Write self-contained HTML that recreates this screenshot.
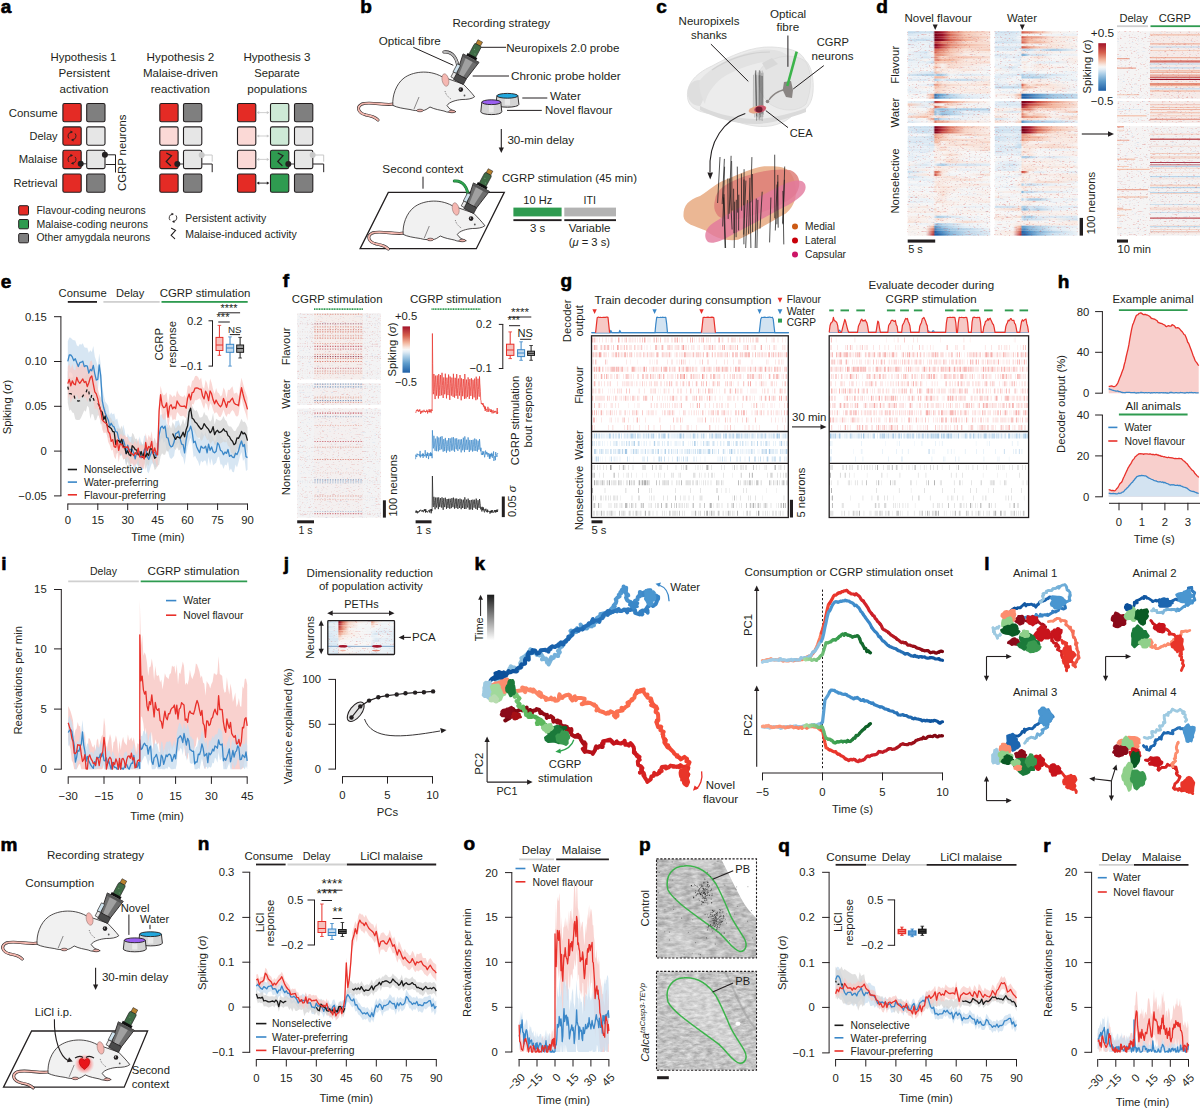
<!DOCTYPE html>
<html><head><meta charset="utf-8"><title>Figure</title>
<style>html,body{margin:0;padding:0;background:#fff;width:1200px;height:1110px;overflow:hidden}
svg{display:block;font-family:"Liberation Sans",sans-serif}
text{font-family:"Liberation Sans",sans-serif}</style></head>
<body><svg width="1200" height="1110" viewBox="0 0 1200 1110"><defs><filter id="spR" color-interpolation-filters="sRGB" x="0" y="0" width="100%" height="100%"><feTurbulence type="fractalNoise" baseFrequency="0.45 1.3" numOctaves="1" seed="5"/><feColorMatrix type="matrix" values="0 0 0 0 0.8  0 0 0 0 0.2  0 0 0 0 0.18  5 0 0 0 -3.0"/></filter><filter id="spB" color-interpolation-filters="sRGB" x="0" y="0" width="100%" height="100%"><feTurbulence type="fractalNoise" baseFrequency="0.35 1.2" numOctaves="1" seed="8"/><feColorMatrix type="matrix" values="0 0 0 0 0.25  0 0 0 0 0.5  0 0 0 0 0.78  0 5 0 0 -3.1"/></filter><linearGradient id="h1"><stop offset="0" stop-color="#bfd9ec"/><stop offset=".22" stop-color="#d1e3f0"/><stop offset=".31" stop-color="#cde0ef"/><stop offset=".333" stop-color="#7a0019"/><stop offset=".36" stop-color="#84051d"/><stop offset=".42" stop-color="#aa1d2f"/><stop offset=".52" stop-color="#de7964"/><stop offset=".7" stop-color="#f3bda7"/><stop offset="1" stop-color="#f7dcd1"/></linearGradient><linearGradient id="h2"><stop offset="0" stop-color="#d7e6f2"/><stop offset=".22" stop-color="#eef3f6"/><stop offset=".31" stop-color="#e9f0f6"/><stop offset=".333" stop-color="#7a0019"/><stop offset=".36" stop-color="#85051e"/><stop offset=".42" stop-color="#9b0f27"/><stop offset=".52" stop-color="#da6c58"/><stop offset=".7" stop-color="#f4c6b3"/><stop offset="1" stop-color="#f8eae4"/></linearGradient><linearGradient id="h3"><stop offset="0" stop-color="#ebf1f6"/><stop offset=".22" stop-color="#dfebf4"/><stop offset=".31" stop-color="#e5eef5"/><stop offset=".333" stop-color="#7a0019"/><stop offset=".36" stop-color="#86061e"/><stop offset=".42" stop-color="#aa1e2f"/><stop offset=".52" stop-color="#df7965"/><stop offset=".7" stop-color="#f3baa3"/><stop offset="1" stop-color="#f6d6c8"/></linearGradient><linearGradient id="h4"><stop offset="0" stop-color="#cfe2f0"/><stop offset=".22" stop-color="#c8deee"/><stop offset=".31" stop-color="#ddeaf4"/><stop offset=".333" stop-color="#7a0019"/><stop offset=".36" stop-color="#7d011a"/><stop offset=".42" stop-color="#930c24"/><stop offset=".52" stop-color="#d7634f"/><stop offset=".7" stop-color="#f1af97"/><stop offset="1" stop-color="#f8ece6"/></linearGradient><linearGradient id="h5"><stop offset="0" stop-color="#e2ecf5"/><stop offset=".22" stop-color="#e7eff5"/><stop offset=".31" stop-color="#e4eef5"/><stop offset=".333" stop-color="#bd3b3c"/><stop offset=".36" stop-color="#c1403f"/><stop offset=".42" stop-color="#de7964"/><stop offset=".52" stop-color="#e58b75"/><stop offset=".7" stop-color="#f6d8ca"/><stop offset="1" stop-color="#f7ddd1"/></linearGradient><linearGradient id="h6"><stop offset="0" stop-color="#e3edf5"/><stop offset=".22" stop-color="#edf2f6"/><stop offset=".31" stop-color="#e1ecf5"/><stop offset=".333" stop-color="#89071f"/><stop offset=".36" stop-color="#9c1027"/><stop offset=".42" stop-color="#bf3e3e"/><stop offset=".52" stop-color="#e58c76"/><stop offset=".7" stop-color="#f3baa4"/><stop offset="1" stop-color="#f7dbcf"/></linearGradient><linearGradient id="h7"><stop offset="0" stop-color="#e9f0f6"/><stop offset=".22" stop-color="#e8f0f6"/><stop offset=".31" stop-color="#e6eef5"/><stop offset=".333" stop-color="#940c24"/><stop offset=".36" stop-color="#a3132a"/><stop offset=".42" stop-color="#c84b44"/><stop offset=".52" stop-color="#e7937c"/><stop offset=".7" stop-color="#f5c8b6"/><stop offset="1" stop-color="#f6d7ca"/></linearGradient><linearGradient id="h8"><stop offset="0" stop-color="#f2f5f7"/><stop offset=".22" stop-color="#ebf1f6"/><stop offset=".31" stop-color="#eaf0f6"/><stop offset=".333" stop-color="#d96854"/><stop offset=".36" stop-color="#dc725d"/><stop offset=".42" stop-color="#e2836e"/><stop offset=".52" stop-color="#f4c1ac"/><stop offset=".7" stop-color="#f7e0d5"/><stop offset="1" stop-color="#f5cbb9"/></linearGradient><linearGradient id="h9"><stop offset="0" stop-color="#ecf1f6"/><stop offset=".22" stop-color="#d3e4f1"/><stop offset=".31" stop-color="#f7f3f1"/><stop offset=".333" stop-color="#d35b4b"/><stop offset=".36" stop-color="#e1806b"/><stop offset=".42" stop-color="#e89780"/><stop offset=".52" stop-color="#f3bfaa"/><stop offset=".7" stop-color="#f8e5dc"/><stop offset="1" stop-color="#f8e7de"/></linearGradient><linearGradient id="h10"><stop offset="0" stop-color="#e7eff5"/><stop offset=".22" stop-color="#e4edf5"/><stop offset=".31" stop-color="#f1f4f6"/><stop offset=".333" stop-color="#e99881"/><stop offset=".36" stop-color="#e69079"/><stop offset=".42" stop-color="#eca28b"/><stop offset=".52" stop-color="#f5ccbb"/><stop offset=".7" stop-color="#f7eeea"/><stop offset="1" stop-color="#f8ede8"/></linearGradient><linearGradient id="h11"><stop offset="0" stop-color="#f2f5f7"/><stop offset=".22" stop-color="#d5e5f1"/><stop offset=".31" stop-color="#e3edf5"/><stop offset=".333" stop-color="#e68e78"/><stop offset=".36" stop-color="#eea68e"/><stop offset=".42" stop-color="#f6d7c9"/><stop offset=".52" stop-color="#f4c4b1"/><stop offset=".7" stop-color="#f4c3b0"/><stop offset="1" stop-color="#f7dcd1"/></linearGradient><linearGradient id="h12"><stop offset="0" stop-color="#d6e6f2"/><stop offset=".22" stop-color="#f7f3f0"/><stop offset=".31" stop-color="#e9f0f6"/><stop offset=".333" stop-color="#e7927c"/><stop offset=".36" stop-color="#e58b75"/><stop offset=".42" stop-color="#f3b8a1"/><stop offset=".52" stop-color="#f2b69e"/><stop offset=".7" stop-color="#f8e8e0"/><stop offset="1" stop-color="#f8ece7"/></linearGradient><linearGradient id="h13"><stop offset="0" stop-color="#eaf0f6"/><stop offset=".22" stop-color="#e6eff5"/><stop offset=".31" stop-color="#c9deee"/><stop offset=".333" stop-color="#f3baa3"/><stop offset=".36" stop-color="#f4c0ab"/><stop offset=".42" stop-color="#f5ccbb"/><stop offset=".52" stop-color="#f5cbba"/><stop offset=".7" stop-color="#f8e3d9"/><stop offset="1" stop-color="#f7dace"/></linearGradient><linearGradient id="h14"><stop offset="0" stop-color="#ecf1f6"/><stop offset=".22" stop-color="#eff3f6"/><stop offset=".31" stop-color="#f4f5f7"/><stop offset=".333" stop-color="#f6d7ca"/><stop offset=".36" stop-color="#f7dcd0"/><stop offset=".42" stop-color="#f7f1ef"/><stop offset=".52" stop-color="#f7dcd0"/><stop offset=".7" stop-color="#f8e4db"/><stop offset="1" stop-color="#f7f4f3"/></linearGradient><linearGradient id="h15"><stop offset="0" stop-color="#edf2f6"/><stop offset=".22" stop-color="#eef2f6"/><stop offset=".31" stop-color="#f8eee9"/><stop offset=".333" stop-color="#f2b299"/><stop offset=".36" stop-color="#f5cbba"/><stop offset=".42" stop-color="#f7efeb"/><stop offset=".52" stop-color="#f6d3c5"/><stop offset=".7" stop-color="#f8eae4"/><stop offset="1" stop-color="#f1f4f6"/></linearGradient><linearGradient id="h16"><stop offset="0" stop-color="#eef2f6"/><stop offset=".22" stop-color="#f7f7f6"/><stop offset=".31" stop-color="#f2f4f6"/><stop offset=".333" stop-color="#f6d3c4"/><stop offset=".36" stop-color="#f8eee9"/><stop offset=".42" stop-color="#f7e1d6"/><stop offset=".52" stop-color="#f7f4f3"/><stop offset=".7" stop-color="#f8e4da"/><stop offset="1" stop-color="#f0f3f6"/></linearGradient><linearGradient id="h17"><stop offset="0" stop-color="#f7f1ef"/><stop offset=".22" stop-color="#e0ebf4"/><stop offset=".31" stop-color="#dbe9f3"/><stop offset=".333" stop-color="#f4c7b4"/><stop offset=".36" stop-color="#f5cdbc"/><stop offset=".42" stop-color="#f8ebe6"/><stop offset=".52" stop-color="#f7efeb"/><stop offset=".7" stop-color="#f7f2f0"/><stop offset="1" stop-color="#f6f7f7"/></linearGradient><linearGradient id="h18"><stop offset="0" stop-color="#d9e7f2"/><stop offset=".22" stop-color="#bad6ea"/><stop offset=".31" stop-color="#b1d1e8"/><stop offset=".333" stop-color="#c5dced"/><stop offset=".36" stop-color="#9dc4e1"/><stop offset=".42" stop-color="#accee6"/><stop offset=".52" stop-color="#f0f4f6"/><stop offset=".7" stop-color="#dce9f3"/><stop offset="1" stop-color="#ecf2f6"/></linearGradient><linearGradient id="h19"><stop offset="0" stop-color="#eef2f6"/><stop offset=".22" stop-color="#ecf1f6"/><stop offset=".31" stop-color="#e5eef5"/><stop offset=".333" stop-color="#f2b79f"/><stop offset=".36" stop-color="#f3bba4"/><stop offset=".42" stop-color="#f4c1ad"/><stop offset=".52" stop-color="#f7f4f2"/><stop offset=".7" stop-color="#f7f0ec"/><stop offset="1" stop-color="#f8ece7"/></linearGradient><linearGradient id="h20"><stop offset="0" stop-color="#e0ebf4"/><stop offset=".22" stop-color="#deeaf4"/><stop offset=".31" stop-color="#f7f1ee"/><stop offset=".333" stop-color="#aecfe7"/><stop offset=".36" stop-color="#c2daec"/><stop offset=".42" stop-color="#e4edf5"/><stop offset=".52" stop-color="#cbe0ef"/><stop offset=".7" stop-color="#c5dced"/><stop offset="1" stop-color="#f7eeea"/></linearGradient><linearGradient id="h21"><stop offset="0" stop-color="#f3f5f7"/><stop offset=".22" stop-color="#f7f5f4"/><stop offset=".31" stop-color="#f7f7f7"/><stop offset=".333" stop-color="#f8ece6"/><stop offset=".36" stop-color="#f6d1c1"/><stop offset=".42" stop-color="#f8e9e3"/><stop offset=".52" stop-color="#f7f0ec"/><stop offset=".7" stop-color="#f7f0ed"/><stop offset="1" stop-color="#f8e6de"/></linearGradient><linearGradient id="h22"><stop offset="0" stop-color="#f7f6f5"/><stop offset=".22" stop-color="#eaf0f6"/><stop offset=".31" stop-color="#d3e4f1"/><stop offset=".333" stop-color="#eda58d"/><stop offset=".36" stop-color="#efac93"/><stop offset=".42" stop-color="#f6d4c6"/><stop offset=".52" stop-color="#f7dcd0"/><stop offset=".7" stop-color="#f8e7df"/><stop offset="1" stop-color="#f8e2d7"/></linearGradient><linearGradient id="h23"><stop offset="0" stop-color="#e9f0f6"/><stop offset=".22" stop-color="#f8ede8"/><stop offset=".31" stop-color="#f7f3f1"/><stop offset=".333" stop-color="#f3bea8"/><stop offset=".36" stop-color="#f4c4b1"/><stop offset=".42" stop-color="#f6d7c9"/><stop offset=".52" stop-color="#f8e5dc"/><stop offset=".7" stop-color="#f7efeb"/><stop offset="1" stop-color="#f7f2ef"/></linearGradient><linearGradient id="h24"><stop offset="0" stop-color="#e4eef5"/><stop offset=".22" stop-color="#f6f7f7"/><stop offset=".31" stop-color="#f2f4f6"/><stop offset=".333" stop-color="#f6d7c9"/><stop offset=".36" stop-color="#f7d9cc"/><stop offset=".42" stop-color="#f7ded2"/><stop offset=".52" stop-color="#f8eee9"/><stop offset=".7" stop-color="#f8eae3"/><stop offset="1" stop-color="#f8eae4"/></linearGradient><linearGradient id="h25"><stop offset="0" stop-color="#e8eff5"/><stop offset=".22" stop-color="#e7eff5"/><stop offset=".31" stop-color="#f7f4f2"/><stop offset=".333" stop-color="#f7dacd"/><stop offset=".36" stop-color="#f5cbb9"/><stop offset=".42" stop-color="#f7e0d6"/><stop offset=".52" stop-color="#f8ede7"/><stop offset=".7" stop-color="#f8ede7"/><stop offset="1" stop-color="#f8e5dc"/></linearGradient><linearGradient id="h26"><stop offset="0" stop-color="#f7f7f6"/><stop offset=".22" stop-color="#f7f5f4"/><stop offset=".31" stop-color="#f2b49b"/><stop offset=".333" stop-color="#3776b4"/><stop offset=".36" stop-color="#5593c6"/><stop offset=".42" stop-color="#74aad3"/><stop offset=".52" stop-color="#b7d4e9"/><stop offset=".7" stop-color="#e5eef5"/><stop offset="1" stop-color="#ebf1f6"/></linearGradient><linearGradient id="h27"><stop offset="0" stop-color="#f7f5f4"/><stop offset=".22" stop-color="#f6f6f7"/><stop offset=".31" stop-color="#f0ae95"/><stop offset=".333" stop-color="#3877b5"/><stop offset=".36" stop-color="#5391c5"/><stop offset=".42" stop-color="#85b5d9"/><stop offset=".52" stop-color="#abcee6"/><stop offset=".7" stop-color="#d9e7f2"/><stop offset="1" stop-color="#ecf1f6"/></linearGradient><linearGradient id="h28"><stop offset="0" stop-color="#e6eff5"/><stop offset=".22" stop-color="#e5eef5"/><stop offset=".31" stop-color="#c3dbed"/><stop offset=".333" stop-color="#bd3b3c"/><stop offset=".36" stop-color="#c54641"/><stop offset=".42" stop-color="#de7762"/><stop offset=".52" stop-color="#eea78f"/><stop offset=".7" stop-color="#f7dace"/><stop offset="1" stop-color="#f7f6f5"/></linearGradient><linearGradient id="h29"><stop offset="0" stop-color="#f4c7b4"/><stop offset=".22" stop-color="#e5eef5"/><stop offset=".31" stop-color="#f7dbcf"/><stop offset=".333" stop-color="#f8ede7"/><stop offset=".36" stop-color="#f8e8e0"/><stop offset=".42" stop-color="#f6f6f7"/><stop offset=".52" stop-color="#f5d0c0"/><stop offset=".7" stop-color="#eff3f6"/><stop offset="1" stop-color="#f7f3f1"/></linearGradient><linearGradient id="h30"><stop offset="0" stop-color="#f8ede8"/><stop offset=".22" stop-color="#e3edf5"/><stop offset=".31" stop-color="#f4f6f7"/><stop offset=".333" stop-color="#d55e4c"/><stop offset=".36" stop-color="#e38671"/><stop offset=".42" stop-color="#f4c1ad"/><stop offset=".52" stop-color="#f8ece7"/><stop offset=".7" stop-color="#f8eee9"/><stop offset="1" stop-color="#f4f5f7"/></linearGradient><linearGradient id="h31"><stop offset="0" stop-color="#f7f0ec"/><stop offset=".22" stop-color="#f4f6f7"/><stop offset=".31" stop-color="#f4c1ac"/><stop offset=".333" stop-color="#accee7"/><stop offset=".36" stop-color="#99c2e0"/><stop offset=".42" stop-color="#88b7da"/><stop offset=".52" stop-color="#b0d0e8"/><stop offset=".7" stop-color="#a9cde6"/><stop offset="1" stop-color="#b7d5ea"/></linearGradient><linearGradient id="h32"><stop offset="0" stop-color="#f7f0ec"/><stop offset=".22" stop-color="#f7eeea"/><stop offset=".31" stop-color="#f2b79f"/><stop offset=".333" stop-color="#90bcdd"/><stop offset=".36" stop-color="#c2dbec"/><stop offset=".42" stop-color="#9fc6e2"/><stop offset=".52" stop-color="#afd0e7"/><stop offset=".7" stop-color="#eaf0f6"/><stop offset="1" stop-color="#d7e6f2"/></linearGradient><linearGradient id="h33"><stop offset="0" stop-color="#e6eff5"/><stop offset=".22" stop-color="#f7dcd0"/><stop offset=".31" stop-color="#f4c4b0"/><stop offset=".333" stop-color="#90bcdd"/><stop offset=".36" stop-color="#c2daec"/><stop offset=".42" stop-color="#83b4d8"/><stop offset=".52" stop-color="#a7cbe5"/><stop offset=".7" stop-color="#d8e7f2"/><stop offset="1" stop-color="#f1f4f6"/></linearGradient><linearGradient id="h34"><stop offset="0" stop-color="#f7dcd1"/><stop offset=".22" stop-color="#f4c0ab"/><stop offset=".31" stop-color="#f8e9e2"/><stop offset=".333" stop-color="#f8eee9"/><stop offset=".36" stop-color="#f8e2d8"/><stop offset=".42" stop-color="#f7ddd2"/><stop offset=".52" stop-color="#f3f5f7"/><stop offset=".7" stop-color="#e9f0f6"/><stop offset="1" stop-color="#f8eee9"/></linearGradient><linearGradient id="h35"><stop offset="0" stop-color="#edf2f6"/><stop offset=".22" stop-color="#f7f5f4"/><stop offset=".31" stop-color="#eca28a"/><stop offset=".333" stop-color="#8cb9db"/><stop offset=".36" stop-color="#9dc4e1"/><stop offset=".42" stop-color="#c9deee"/><stop offset=".52" stop-color="#d5e5f1"/><stop offset=".7" stop-color="#ebf1f6"/><stop offset="1" stop-color="#f7f5f4"/></linearGradient><linearGradient id="h36"><stop offset="0" stop-color="#dbe9f3"/><stop offset=".22" stop-color="#f7f5f5"/><stop offset=".31" stop-color="#f8e9e2"/><stop offset=".333" stop-color="#e07d68"/><stop offset=".36" stop-color="#efa991"/><stop offset=".42" stop-color="#efab93"/><stop offset=".52" stop-color="#f5cfbf"/><stop offset=".7" stop-color="#f8e7df"/><stop offset="1" stop-color="#f7f0ed"/></linearGradient><linearGradient id="h37"><stop offset="0" stop-color="#d1e3f0"/><stop offset=".22" stop-color="#cbe0ef"/><stop offset=".31" stop-color="#cbe0ef"/><stop offset=".333" stop-color="#7a0019"/><stop offset=".36" stop-color="#8d0921"/><stop offset=".42" stop-color="#b63037"/><stop offset=".52" stop-color="#e07f6a"/><stop offset=".7" stop-color="#f4c5b2"/><stop offset="1" stop-color="#f8e6dd"/></linearGradient><linearGradient id="h38"><stop offset="0" stop-color="#dce9f3"/><stop offset=".22" stop-color="#cbdfef"/><stop offset=".31" stop-color="#d9e7f2"/><stop offset=".333" stop-color="#80031c"/><stop offset=".36" stop-color="#8f0a22"/><stop offset=".42" stop-color="#b93539"/><stop offset=".52" stop-color="#e1826c"/><stop offset=".7" stop-color="#f6d7ca"/><stop offset="1" stop-color="#f8ede9"/></linearGradient><linearGradient id="h39"><stop offset="0" stop-color="#deeaf4"/><stop offset=".22" stop-color="#c8deee"/><stop offset=".31" stop-color="#dae8f3"/><stop offset=".333" stop-color="#7e021b"/><stop offset=".36" stop-color="#920b23"/><stop offset=".42" stop-color="#c54641"/><stop offset=".52" stop-color="#e1806b"/><stop offset=".7" stop-color="#f6d3c4"/><stop offset="1" stop-color="#f8ece7"/></linearGradient><linearGradient id="h40"><stop offset="0" stop-color="#f4f5f7"/><stop offset=".22" stop-color="#f4f5f7"/><stop offset=".31" stop-color="#ddeaf3"/><stop offset=".333" stop-color="#eda58d"/><stop offset=".36" stop-color="#f1b097"/><stop offset=".42" stop-color="#f5cbba"/><stop offset=".52" stop-color="#f8e5dc"/><stop offset=".7" stop-color="#f6d6c8"/><stop offset="1" stop-color="#f7e1d6"/></linearGradient><linearGradient id="h41"><stop offset="0" stop-color="#dfebf4"/><stop offset=".22" stop-color="#d6e6f2"/><stop offset=".31" stop-color="#cce0ef"/><stop offset=".333" stop-color="#ea9a83"/><stop offset=".36" stop-color="#efaa91"/><stop offset=".42" stop-color="#f4c6b3"/><stop offset=".52" stop-color="#f8e5dd"/><stop offset=".7" stop-color="#f4f5f7"/><stop offset="1" stop-color="#f8e7df"/></linearGradient><linearGradient id="h42"><stop offset="0" stop-color="#dce9f3"/><stop offset=".22" stop-color="#deeaf4"/><stop offset=".31" stop-color="#cce0ef"/><stop offset=".333" stop-color="#f2b69d"/><stop offset=".36" stop-color="#f4c4b0"/><stop offset=".42" stop-color="#f4c8b5"/><stop offset=".52" stop-color="#f7dbcf"/><stop offset=".7" stop-color="#f7dace"/><stop offset="1" stop-color="#f8e9e2"/></linearGradient><linearGradient id="h43"><stop offset="0" stop-color="#d6e6f2"/><stop offset=".22" stop-color="#dae8f3"/><stop offset=".31" stop-color="#e1ecf5"/><stop offset=".333" stop-color="#f3bda7"/><stop offset=".36" stop-color="#f2b79f"/><stop offset=".42" stop-color="#f7f2f0"/><stop offset=".52" stop-color="#f7ded2"/><stop offset=".7" stop-color="#f8ebe5"/><stop offset="1" stop-color="#f6d2c3"/></linearGradient><linearGradient id="h44"><stop offset="0" stop-color="#e8f0f6"/><stop offset=".22" stop-color="#deeaf4"/><stop offset=".31" stop-color="#d1e3f0"/><stop offset=".333" stop-color="#f8e6de"/><stop offset=".36" stop-color="#f7d9cc"/><stop offset=".42" stop-color="#f7eeea"/><stop offset=".52" stop-color="#f8e1d7"/><stop offset=".7" stop-color="#f7dacd"/><stop offset="1" stop-color="#f8ebe5"/></linearGradient><linearGradient id="h45"><stop offset="0" stop-color="#e4edf5"/><stop offset=".22" stop-color="#e9f0f6"/><stop offset=".31" stop-color="#dce9f3"/><stop offset=".333" stop-color="#f7f0ec"/><stop offset=".36" stop-color="#f8e6dd"/><stop offset=".42" stop-color="#f8e4da"/><stop offset=".52" stop-color="#f8ece7"/><stop offset=".7" stop-color="#f8ece6"/><stop offset="1" stop-color="#f7ddd2"/></linearGradient><linearGradient id="h46"><stop offset="0" stop-color="#dfebf4"/><stop offset=".22" stop-color="#e3edf5"/><stop offset=".31" stop-color="#e3edf5"/><stop offset=".333" stop-color="#f8ede8"/><stop offset=".36" stop-color="#f8ece7"/><stop offset=".42" stop-color="#f7dacd"/><stop offset=".52" stop-color="#f8eee9"/><stop offset=".7" stop-color="#f7f0ec"/><stop offset="1" stop-color="#f7dfd4"/></linearGradient><linearGradient id="h47"><stop offset="0" stop-color="#edf2f6"/><stop offset=".22" stop-color="#e2ecf5"/><stop offset=".31" stop-color="#f7f7f7"/><stop offset=".333" stop-color="#f7f0ec"/><stop offset=".36" stop-color="#f8ece7"/><stop offset=".42" stop-color="#f7f6f5"/><stop offset=".52" stop-color="#f8ece7"/><stop offset=".7" stop-color="#f7f7f7"/><stop offset="1" stop-color="#f7f1ef"/></linearGradient><linearGradient id="h48"><stop offset="0" stop-color="#e7eff5"/><stop offset=".22" stop-color="#f2f4f6"/><stop offset=".31" stop-color="#ebf1f6"/><stop offset=".333" stop-color="#f7efeb"/><stop offset=".36" stop-color="#f7f2ef"/><stop offset=".42" stop-color="#f8ebe5"/><stop offset=".52" stop-color="#f7dccf"/><stop offset=".7" stop-color="#f7f5f4"/><stop offset="1" stop-color="#f5f6f7"/></linearGradient><linearGradient id="h49"><stop offset="0" stop-color="#e3edf5"/><stop offset=".22" stop-color="#e9f0f6"/><stop offset=".31" stop-color="#f6f7f7"/><stop offset=".333" stop-color="#f8e8e1"/><stop offset=".36" stop-color="#f8ede8"/><stop offset=".42" stop-color="#f6f7f7"/><stop offset=".52" stop-color="#f8ede8"/><stop offset=".7" stop-color="#f7f1ef"/><stop offset="1" stop-color="#f2f5f7"/></linearGradient><linearGradient id="h50"><stop offset="0" stop-color="#e3edf5"/><stop offset=".22" stop-color="#f1f4f6"/><stop offset=".31" stop-color="#edf2f6"/><stop offset=".333" stop-color="#f8ece6"/><stop offset=".36" stop-color="#f8e8e1"/><stop offset=".42" stop-color="#f8ede8"/><stop offset=".52" stop-color="#f7ded3"/><stop offset=".7" stop-color="#f3f5f7"/><stop offset="1" stop-color="#f7f6f6"/></linearGradient><linearGradient id="h51"><stop offset="0" stop-color="#f7f6f6"/><stop offset=".22" stop-color="#ecf1f6"/><stop offset=".31" stop-color="#edf2f6"/><stop offset=".333" stop-color="#f8ebe5"/><stop offset=".36" stop-color="#f7f3f2"/><stop offset=".42" stop-color="#f7f3f1"/><stop offset=".52" stop-color="#f7dcd0"/><stop offset=".7" stop-color="#f8ede7"/><stop offset="1" stop-color="#f7eeea"/></linearGradient><linearGradient id="h52"><stop offset="0" stop-color="#f8eee9"/><stop offset=".22" stop-color="#d9e7f2"/><stop offset=".31" stop-color="#f3f5f7"/><stop offset=".333" stop-color="#e3edf5"/><stop offset=".36" stop-color="#cadfee"/><stop offset=".42" stop-color="#a9cce6"/><stop offset=".52" stop-color="#deeaf4"/><stop offset=".7" stop-color="#d0e2f0"/><stop offset="1" stop-color="#e3edf5"/></linearGradient><linearGradient id="h53"><stop offset="0" stop-color="#e7eff5"/><stop offset=".22" stop-color="#ebf1f6"/><stop offset=".31" stop-color="#ecf2f6"/><stop offset=".333" stop-color="#f8ede9"/><stop offset=".36" stop-color="#f8e3d9"/><stop offset=".42" stop-color="#f8ebe5"/><stop offset=".52" stop-color="#f8eae3"/><stop offset=".7" stop-color="#f7efec"/><stop offset="1" stop-color="#f7f2ef"/></linearGradient><linearGradient id="h54"><stop offset="0" stop-color="#e6eff5"/><stop offset=".22" stop-color="#f8eae4"/><stop offset=".31" stop-color="#f6f6f7"/><stop offset=".333" stop-color="#f8e4da"/><stop offset=".36" stop-color="#f8e9e2"/><stop offset=".42" stop-color="#f8e4db"/><stop offset=".52" stop-color="#f7f2ef"/><stop offset=".7" stop-color="#eaf0f6"/><stop offset="1" stop-color="#f7efea"/></linearGradient><linearGradient id="h55"><stop offset="0" stop-color="#c8deee"/><stop offset=".22" stop-color="#f0f3f6"/><stop offset=".31" stop-color="#f2f5f7"/><stop offset=".333" stop-color="#dc735f"/><stop offset=".36" stop-color="#de7762"/><stop offset=".42" stop-color="#f8e3da"/><stop offset=".52" stop-color="#f7f6f6"/><stop offset=".7" stop-color="#f6f7f7"/><stop offset="1" stop-color="#eef3f6"/></linearGradient><linearGradient id="h56"><stop offset="0" stop-color="#e9f0f6"/><stop offset=".22" stop-color="#f8e7df"/><stop offset=".31" stop-color="#f7f2f0"/><stop offset=".333" stop-color="#cc5046"/><stop offset=".36" stop-color="#e68e78"/><stop offset=".42" stop-color="#f8e8e1"/><stop offset=".52" stop-color="#eff3f6"/><stop offset=".7" stop-color="#f7f5f4"/><stop offset="1" stop-color="#f7dfd4"/></linearGradient><linearGradient id="h57"><stop offset="0" stop-color="#cfe2f0"/><stop offset=".22" stop-color="#ebf1f6"/><stop offset=".31" stop-color="#f7f2f0"/><stop offset=".333" stop-color="#f8eae4"/><stop offset=".36" stop-color="#f8e8e0"/><stop offset=".42" stop-color="#f8e7df"/><stop offset=".52" stop-color="#f8e3d9"/><stop offset=".7" stop-color="#f6f7f7"/><stop offset="1" stop-color="#f7f6f5"/></linearGradient><linearGradient id="h58"><stop offset="0" stop-color="#ebf1f6"/><stop offset=".22" stop-color="#e7eff5"/><stop offset=".31" stop-color="#ecf2f6"/><stop offset=".333" stop-color="#f7efec"/><stop offset=".36" stop-color="#f7f2ef"/><stop offset=".42" stop-color="#f8e9e2"/><stop offset=".52" stop-color="#f8e9e2"/><stop offset=".7" stop-color="#f7dfd4"/><stop offset="1" stop-color="#f7f4f2"/></linearGradient><linearGradient id="h59"><stop offset="0" stop-color="#f7f7f7"/><stop offset=".22" stop-color="#f4f5f7"/><stop offset=".31" stop-color="#e7eff5"/><stop offset=".333" stop-color="#f8e7e0"/><stop offset=".36" stop-color="#f8e6de"/><stop offset=".42" stop-color="#f8eae4"/><stop offset=".52" stop-color="#f7f0ec"/><stop offset=".7" stop-color="#f7f4f2"/><stop offset="1" stop-color="#f3f5f7"/></linearGradient><linearGradient id="h60"><stop offset="0" stop-color="#e9f0f6"/><stop offset=".22" stop-color="#edf2f6"/><stop offset=".31" stop-color="#f3f5f7"/><stop offset=".333" stop-color="#f7f0ed"/><stop offset=".36" stop-color="#f7dfd5"/><stop offset=".42" stop-color="#f8ece6"/><stop offset=".52" stop-color="#f7f2f0"/><stop offset=".7" stop-color="#f8e9e2"/><stop offset="1" stop-color="#f8ebe5"/></linearGradient><linearGradient id="h61"><stop offset="0" stop-color="#f5f6f7"/><stop offset=".22" stop-color="#f7f4f2"/><stop offset=".31" stop-color="#f2f4f6"/><stop offset=".333" stop-color="#f6d5c7"/><stop offset=".36" stop-color="#f7efeb"/><stop offset=".42" stop-color="#f8e2d8"/><stop offset=".52" stop-color="#f8e7df"/><stop offset=".7" stop-color="#f7f0ed"/><stop offset="1" stop-color="#f1f4f6"/></linearGradient><linearGradient id="h62"><stop offset="0" stop-color="#eff3f6"/><stop offset=".22" stop-color="#f1f4f6"/><stop offset=".31" stop-color="#f6f6f7"/><stop offset=".333" stop-color="#f8e7df"/><stop offset=".36" stop-color="#f8ede7"/><stop offset=".42" stop-color="#f8e5dc"/><stop offset=".52" stop-color="#f8ebe5"/><stop offset=".7" stop-color="#f0f4f6"/><stop offset="1" stop-color="#f7f2f0"/></linearGradient><linearGradient id="h63"><stop offset="0" stop-color="#f7f5f5"/><stop offset=".22" stop-color="#f6f7f7"/><stop offset=".31" stop-color="#f2f5f7"/><stop offset=".333" stop-color="#f8e9e2"/><stop offset=".36" stop-color="#f8ece6"/><stop offset=".42" stop-color="#f7ddd2"/><stop offset=".52" stop-color="#f7efeb"/><stop offset=".7" stop-color="#f7f5f4"/><stop offset="1" stop-color="#f8ede8"/></linearGradient><linearGradient id="h64"><stop offset="0" stop-color="#f7f4f2"/><stop offset=".22" stop-color="#f7f1ee"/><stop offset=".31" stop-color="#f7f2ef"/><stop offset=".333" stop-color="#f6f6f7"/><stop offset=".36" stop-color="#f7f2ef"/><stop offset=".42" stop-color="#f7dcd0"/><stop offset=".52" stop-color="#f7f6f5"/><stop offset=".7" stop-color="#eff3f6"/><stop offset="1" stop-color="#f7efeb"/></linearGradient><linearGradient id="h65"><stop offset="0" stop-color="#e6eff5"/><stop offset=".22" stop-color="#f7efeb"/><stop offset=".31" stop-color="#f7f4f3"/><stop offset=".333" stop-color="#f8ede8"/><stop offset=".36" stop-color="#f7f0ec"/><stop offset=".42" stop-color="#f8e8e1"/><stop offset=".52" stop-color="#f7f5f4"/><stop offset=".7" stop-color="#f8eee9"/><stop offset="1" stop-color="#f6f6f7"/></linearGradient><linearGradient id="h66"><stop offset="0" stop-color="#f7f5f4"/><stop offset=".22" stop-color="#e7eff5"/><stop offset=".31" stop-color="#f2f4f6"/><stop offset=".333" stop-color="#f8ebe4"/><stop offset=".36" stop-color="#f8eae3"/><stop offset=".42" stop-color="#f8e9e3"/><stop offset=".52" stop-color="#f2f4f6"/><stop offset=".7" stop-color="#f7f0ec"/><stop offset="1" stop-color="#f7efec"/></linearGradient><linearGradient id="h67"><stop offset="0" stop-color="#e3edf5"/><stop offset=".22" stop-color="#eef2f6"/><stop offset=".31" stop-color="#eef3f6"/><stop offset=".333" stop-color="#f7f3f1"/><stop offset=".36" stop-color="#f7e0d5"/><stop offset=".42" stop-color="#f8e9e1"/><stop offset=".52" stop-color="#f7eeea"/><stop offset=".7" stop-color="#f7f4f3"/><stop offset="1" stop-color="#f8e8e1"/></linearGradient><linearGradient id="h68"><stop offset="0" stop-color="#f7f1ee"/><stop offset=".22" stop-color="#f4f6f7"/><stop offset=".31" stop-color="#f4f5f7"/><stop offset=".333" stop-color="#f8ece6"/><stop offset=".36" stop-color="#f7f7f7"/><stop offset=".42" stop-color="#f7efeb"/><stop offset=".52" stop-color="#f8ede8"/><stop offset=".7" stop-color="#f7f4f2"/><stop offset="1" stop-color="#eef3f6"/></linearGradient><linearGradient id="h69"><stop offset="0" stop-color="#edf2f6"/><stop offset=".22" stop-color="#f8e6de"/><stop offset=".31" stop-color="#f3f5f7"/><stop offset=".333" stop-color="#f7f1ee"/><stop offset=".36" stop-color="#f7f6f5"/><stop offset=".42" stop-color="#f7f0ec"/><stop offset=".52" stop-color="#f7f4f3"/><stop offset=".7" stop-color="#ebf1f6"/><stop offset="1" stop-color="#eef2f6"/></linearGradient><linearGradient id="h70"><stop offset="0" stop-color="#f7efea"/><stop offset=".22" stop-color="#f7f1ee"/><stop offset=".31" stop-color="#eaf1f6"/><stop offset=".333" stop-color="#f6d3c5"/><stop offset=".36" stop-color="#f7f3f1"/><stop offset=".42" stop-color="#f7efec"/><stop offset=".52" stop-color="#f7f3f2"/><stop offset=".7" stop-color="#f7f2f0"/><stop offset="1" stop-color="#f0f4f6"/></linearGradient><linearGradient id="h71"><stop offset="0" stop-color="#f7eeea"/><stop offset=".22" stop-color="#f8ece6"/><stop offset=".31" stop-color="#f7eeea"/><stop offset=".333" stop-color="#f8eae3"/><stop offset=".36" stop-color="#f8e8e1"/><stop offset=".42" stop-color="#f8e9e2"/><stop offset=".52" stop-color="#f7f5f4"/><stop offset=".7" stop-color="#f7f0ec"/><stop offset="1" stop-color="#f7f1ee"/></linearGradient><linearGradient id="h72"><stop offset="0" stop-color="#f7f5f4"/><stop offset=".22" stop-color="#f1f4f6"/><stop offset=".31" stop-color="#eff3f6"/><stop offset=".333" stop-color="#f8eae4"/><stop offset=".36" stop-color="#f8eae4"/><stop offset=".42" stop-color="#f5f6f7"/><stop offset=".52" stop-color="#f7efec"/><stop offset=".7" stop-color="#f7f3f1"/><stop offset="1" stop-color="#f7f7f7"/></linearGradient><linearGradient id="h73"><stop offset="0" stop-color="#f7efeb"/><stop offset=".22" stop-color="#f8eae3"/><stop offset=".31" stop-color="#f7f1ee"/><stop offset=".333" stop-color="#d4e4f1"/><stop offset=".36" stop-color="#a8cce5"/><stop offset=".42" stop-color="#b8d5ea"/><stop offset=".52" stop-color="#d8e7f2"/><stop offset=".7" stop-color="#eef3f6"/><stop offset="1" stop-color="#f7f6f5"/></linearGradient><linearGradient id="h74"><stop offset="0" stop-color="#f8e9e2"/><stop offset=".22" stop-color="#f7f0ed"/><stop offset=".31" stop-color="#f3f5f7"/><stop offset=".333" stop-color="#f8e9e2"/><stop offset=".36" stop-color="#f6d7c9"/><stop offset=".42" stop-color="#f8e6de"/><stop offset=".52" stop-color="#f7f2f0"/><stop offset=".7" stop-color="#eaf1f6"/><stop offset="1" stop-color="#f6f6f7"/></linearGradient><linearGradient id="h75"><stop offset="0" stop-color="#f8e1d7"/><stop offset=".22" stop-color="#f8eee9"/><stop offset=".31" stop-color="#f7f1ee"/><stop offset=".333" stop-color="#f7f1ef"/><stop offset=".36" stop-color="#f7f4f3"/><stop offset=".42" stop-color="#f7f0ec"/><stop offset=".52" stop-color="#f7f5f3"/><stop offset=".7" stop-color="#f7dbcf"/><stop offset="1" stop-color="#f6f6f7"/></linearGradient><linearGradient id="h76"><stop offset="0" stop-color="#f3f5f7"/><stop offset=".22" stop-color="#eef2f6"/><stop offset=".31" stop-color="#f7efeb"/><stop offset=".333" stop-color="#bad6ea"/><stop offset=".36" stop-color="#96c0df"/><stop offset=".42" stop-color="#b7d4e9"/><stop offset=".52" stop-color="#c8deee"/><stop offset=".7" stop-color="#eaf1f6"/><stop offset="1" stop-color="#f7f7f7"/></linearGradient><linearGradient id="h77"><stop offset="0" stop-color="#f8ede8"/><stop offset=".22" stop-color="#f7f6f6"/><stop offset=".31" stop-color="#f3baa4"/><stop offset=".333" stop-color="#5594c6"/><stop offset=".36" stop-color="#72a8d2"/><stop offset=".42" stop-color="#99c2e0"/><stop offset=".52" stop-color="#bbd7eb"/><stop offset=".7" stop-color="#e3edf5"/><stop offset="1" stop-color="#f5f6f7"/></linearGradient><linearGradient id="h78"><stop offset="0" stop-color="#f7f2ef"/><stop offset=".22" stop-color="#f7f1ed"/><stop offset=".31" stop-color="#e1806b"/><stop offset=".333" stop-color="#4281bb"/><stop offset=".36" stop-color="#5796c8"/><stop offset=".42" stop-color="#76abd4"/><stop offset=".52" stop-color="#a2c8e3"/><stop offset=".7" stop-color="#b8d5ea"/><stop offset="1" stop-color="#ebf1f6"/></linearGradient><linearGradient id="h79"><stop offset="0" stop-color="#f7efeb"/><stop offset=".22" stop-color="#f7f5f4"/><stop offset=".31" stop-color="#ce5448"/><stop offset=".333" stop-color="#2161a7"/><stop offset=".36" stop-color="#3877b5"/><stop offset=".42" stop-color="#5391c5"/><stop offset=".52" stop-color="#8bb9db"/><stop offset=".7" stop-color="#bed8eb"/><stop offset="1" stop-color="#ddeaf4"/></linearGradient><linearGradient id="h80"><stop offset="0" stop-color="#f7f3f2"/><stop offset=".22" stop-color="#f7efeb"/><stop offset=".31" stop-color="#bd3b3c"/><stop offset=".333" stop-color="#1f5fa6"/><stop offset=".36" stop-color="#1f5fa6"/><stop offset=".42" stop-color="#3e7db9"/><stop offset=".52" stop-color="#7bafd6"/><stop offset=".7" stop-color="#b7d4e9"/><stop offset="1" stop-color="#ddeaf3"/></linearGradient><linearGradient id="h81"><stop offset="0" stop-color="#d2e3f0"/><stop offset=".22" stop-color="#cce0ef"/><stop offset=".31" stop-color="#dfebf4"/><stop offset=".333" stop-color="#d1594a"/><stop offset=".36" stop-color="#dd7460"/><stop offset=".42" stop-color="#e48b75"/><stop offset=".52" stop-color="#f2b69e"/><stop offset=".7" stop-color="#f7efea"/><stop offset="1" stop-color="#f5f6f7"/></linearGradient><linearGradient id="h82"><stop offset="0" stop-color="#d9e8f2"/><stop offset=".22" stop-color="#dce9f3"/><stop offset=".31" stop-color="#e6eff5"/><stop offset=".333" stop-color="#f7efeb"/><stop offset=".36" stop-color="#f7f5f4"/><stop offset=".42" stop-color="#f7f4f2"/><stop offset=".52" stop-color="#f3f5f7"/><stop offset=".7" stop-color="#f1f4f6"/><stop offset="1" stop-color="#ebf1f6"/></linearGradient><linearGradient id="h83"><stop offset="0" stop-color="#dfebf4"/><stop offset=".22" stop-color="#dbe9f3"/><stop offset=".31" stop-color="#f4f5f7"/><stop offset=".333" stop-color="#d35b4b"/><stop offset=".36" stop-color="#e07e69"/><stop offset=".42" stop-color="#ea9c84"/><stop offset=".52" stop-color="#eca28a"/><stop offset=".7" stop-color="#f8e5dc"/><stop offset="1" stop-color="#f8e9e1"/></linearGradient><linearGradient id="h84"><stop offset="0" stop-color="#e6eef5"/><stop offset=".22" stop-color="#d6e6f1"/><stop offset=".31" stop-color="#ecf1f6"/><stop offset=".333" stop-color="#e58e77"/><stop offset=".36" stop-color="#e7937d"/><stop offset=".42" stop-color="#f2b59d"/><stop offset=".52" stop-color="#f6d2c3"/><stop offset=".7" stop-color="#f8e5dc"/><stop offset="1" stop-color="#f4f6f7"/></linearGradient><linearGradient id="h85"><stop offset="0" stop-color="#d0e2f0"/><stop offset=".22" stop-color="#d4e5f1"/><stop offset=".31" stop-color="#dbe8f3"/><stop offset=".333" stop-color="#d6604d"/><stop offset=".36" stop-color="#df7b66"/><stop offset=".42" stop-color="#f3bca6"/><stop offset=".52" stop-color="#f0ae95"/><stop offset=".7" stop-color="#f8e5dc"/><stop offset="1" stop-color="#f7f5f4"/></linearGradient><linearGradient id="h86"><stop offset="0" stop-color="#eef2f6"/><stop offset=".22" stop-color="#ecf1f6"/><stop offset=".31" stop-color="#ebf1f6"/><stop offset=".333" stop-color="#f7f3f1"/><stop offset=".36" stop-color="#f8e5dc"/><stop offset=".42" stop-color="#f8ebe6"/><stop offset=".52" stop-color="#f2f5f7"/><stop offset=".7" stop-color="#f8e3d9"/><stop offset="1" stop-color="#f7f2ef"/></linearGradient><linearGradient id="h87"><stop offset="0" stop-color="#d3e4f1"/><stop offset=".22" stop-color="#dce9f3"/><stop offset=".31" stop-color="#d1e3f0"/><stop offset=".333" stop-color="#d35c4b"/><stop offset=".36" stop-color="#dc735f"/><stop offset=".42" stop-color="#eb9f87"/><stop offset=".52" stop-color="#f4c7b5"/><stop offset=".7" stop-color="#f8e4db"/><stop offset="1" stop-color="#f7f0ed"/></linearGradient><linearGradient id="h88"><stop offset="0" stop-color="#e3edf5"/><stop offset=".22" stop-color="#d7e6f2"/><stop offset=".31" stop-color="#f7f4f3"/><stop offset=".333" stop-color="#c5dced"/><stop offset=".36" stop-color="#bbd7ea"/><stop offset=".42" stop-color="#c3dbed"/><stop offset=".52" stop-color="#e0ebf4"/><stop offset=".7" stop-color="#a7cbe5"/><stop offset="1" stop-color="#f0f3f6"/></linearGradient><linearGradient id="h89"><stop offset="0" stop-color="#f3f5f7"/><stop offset=".22" stop-color="#f7f3f1"/><stop offset=".31" stop-color="#e4edf5"/><stop offset=".333" stop-color="#f8e5db"/><stop offset=".36" stop-color="#f8eae4"/><stop offset=".42" stop-color="#edf2f6"/><stop offset=".52" stop-color="#f8e7e0"/><stop offset=".7" stop-color="#f7f0ed"/><stop offset="1" stop-color="#f7f1ee"/></linearGradient><linearGradient id="h90"><stop offset="0" stop-color="#d4e5f1"/><stop offset=".22" stop-color="#ecf1f6"/><stop offset=".31" stop-color="#e7eff5"/><stop offset=".333" stop-color="#81b3d8"/><stop offset=".36" stop-color="#8ab8db"/><stop offset=".42" stop-color="#dae8f3"/><stop offset=".52" stop-color="#cee1ef"/><stop offset=".7" stop-color="#eef3f6"/><stop offset="1" stop-color="#ecf1f6"/></linearGradient><linearGradient id="h91"><stop offset="0" stop-color="#e5eef5"/><stop offset=".22" stop-color="#e4edf5"/><stop offset=".31" stop-color="#dce9f3"/><stop offset=".333" stop-color="#f8ece7"/><stop offset=".36" stop-color="#f7f0ed"/><stop offset=".42" stop-color="#f7f3f0"/><stop offset=".52" stop-color="#f7dbcf"/><stop offset=".7" stop-color="#f6f6f7"/><stop offset="1" stop-color="#f7efeb"/></linearGradient><linearGradient id="h92"><stop offset="0" stop-color="#f1f4f6"/><stop offset=".22" stop-color="#f5f6f7"/><stop offset=".31" stop-color="#e6eef5"/><stop offset=".333" stop-color="#f7f5f4"/><stop offset=".36" stop-color="#eef3f6"/><stop offset=".42" stop-color="#f7f2ef"/><stop offset=".52" stop-color="#f7efeb"/><stop offset=".7" stop-color="#f5f6f7"/><stop offset="1" stop-color="#f8ebe6"/></linearGradient><linearGradient id="h93"><stop offset="0" stop-color="#f2f5f7"/><stop offset=".22" stop-color="#e4edf5"/><stop offset=".31" stop-color="#ebf1f6"/><stop offset=".333" stop-color="#f8e8e1"/><stop offset=".36" stop-color="#f8e8e0"/><stop offset=".42" stop-color="#f7f7f6"/><stop offset=".52" stop-color="#e7eff5"/><stop offset=".7" stop-color="#e4eef5"/><stop offset="1" stop-color="#f8ece6"/></linearGradient><linearGradient id="h94"><stop offset="0" stop-color="#e7eff5"/><stop offset=".22" stop-color="#f7f5f4"/><stop offset=".31" stop-color="#e0ebf4"/><stop offset=".333" stop-color="#f7f4f3"/><stop offset=".36" stop-color="#f7f2f0"/><stop offset=".42" stop-color="#f3f5f7"/><stop offset=".52" stop-color="#f8e8e0"/><stop offset=".7" stop-color="#f7f6f6"/><stop offset="1" stop-color="#f7f6f6"/></linearGradient><linearGradient id="h95"><stop offset="0" stop-color="#f2f4f6"/><stop offset=".22" stop-color="#d2e4f1"/><stop offset=".31" stop-color="#f6f7f7"/><stop offset=".333" stop-color="#f7f0ec"/><stop offset=".36" stop-color="#f8e9e1"/><stop offset=".42" stop-color="#f7f5f4"/><stop offset=".52" stop-color="#f8e8e1"/><stop offset=".7" stop-color="#f8ece7"/><stop offset="1" stop-color="#f3f5f7"/></linearGradient><linearGradient id="h96"><stop offset="0" stop-color="#f8ede8"/><stop offset=".22" stop-color="#e8f0f6"/><stop offset=".31" stop-color="#e9f0f6"/><stop offset=".333" stop-color="#f2f5f7"/><stop offset=".36" stop-color="#f7f2ef"/><stop offset=".42" stop-color="#f7f6f6"/><stop offset=".52" stop-color="#f7efeb"/><stop offset=".7" stop-color="#f2f4f6"/><stop offset="1" stop-color="#f7f2ef"/></linearGradient><linearGradient id="h97"><stop offset="0" stop-color="#f4f6f7"/><stop offset=".22" stop-color="#f1f4f6"/><stop offset=".31" stop-color="#e7eff5"/><stop offset=".333" stop-color="#edf2f6"/><stop offset=".36" stop-color="#eff3f6"/><stop offset=".42" stop-color="#e6eef5"/><stop offset=".52" stop-color="#f5f6f7"/><stop offset=".7" stop-color="#f6f7f7"/><stop offset="1" stop-color="#e8f0f6"/></linearGradient><linearGradient id="h98"><stop offset="0" stop-color="#e8f0f6"/><stop offset=".22" stop-color="#deeaf4"/><stop offset=".31" stop-color="#d7e6f2"/><stop offset=".333" stop-color="#aecfe7"/><stop offset=".36" stop-color="#c7ddee"/><stop offset=".42" stop-color="#c1daec"/><stop offset=".52" stop-color="#cde1ef"/><stop offset=".7" stop-color="#d3e4f1"/><stop offset="1" stop-color="#f4f5f7"/></linearGradient><linearGradient id="h99"><stop offset="0" stop-color="#dae8f3"/><stop offset=".22" stop-color="#ecf1f6"/><stop offset=".31" stop-color="#f7f7f6"/><stop offset=".333" stop-color="#a1c7e3"/><stop offset=".36" stop-color="#afd0e7"/><stop offset=".42" stop-color="#b2d1e8"/><stop offset=".52" stop-color="#afd0e7"/><stop offset=".7" stop-color="#e5eef5"/><stop offset="1" stop-color="#f0f4f6"/></linearGradient><linearGradient id="h100"><stop offset="0" stop-color="#e8f0f6"/><stop offset=".22" stop-color="#f2f5f7"/><stop offset=".31" stop-color="#e8f0f6"/><stop offset=".333" stop-color="#f5f6f7"/><stop offset=".36" stop-color="#f7efeb"/><stop offset=".42" stop-color="#f6f6f7"/><stop offset=".52" stop-color="#f8e7e0"/><stop offset=".7" stop-color="#eff3f6"/><stop offset="1" stop-color="#e5eef5"/></linearGradient><linearGradient id="h101"><stop offset="0" stop-color="#e6eef5"/><stop offset=".22" stop-color="#f7f2f0"/><stop offset=".31" stop-color="#eaf0f6"/><stop offset=".333" stop-color="#f8e2d7"/><stop offset=".36" stop-color="#f7f2f0"/><stop offset=".42" stop-color="#f8e9e2"/><stop offset=".52" stop-color="#f8ede8"/><stop offset=".7" stop-color="#f7efeb"/><stop offset="1" stop-color="#f2f5f7"/></linearGradient><linearGradient id="h102"><stop offset="0" stop-color="#deeaf4"/><stop offset=".22" stop-color="#e7eff5"/><stop offset=".31" stop-color="#d1e3f0"/><stop offset=".333" stop-color="#d96855"/><stop offset=".36" stop-color="#f0ad94"/><stop offset=".42" stop-color="#f8e8e0"/><stop offset=".52" stop-color="#f5cebd"/><stop offset=".7" stop-color="#f8e7df"/><stop offset="1" stop-color="#f3f5f7"/></linearGradient><linearGradient id="h103"><stop offset="0" stop-color="#c7ddee"/><stop offset=".22" stop-color="#c1daec"/><stop offset=".31" stop-color="#c4dced"/><stop offset=".333" stop-color="#ea9c85"/><stop offset=".36" stop-color="#f3baa4"/><stop offset=".42" stop-color="#f3bba5"/><stop offset=".52" stop-color="#f8e8e1"/><stop offset=".7" stop-color="#f8e2d8"/><stop offset="1" stop-color="#f0f3f6"/></linearGradient><linearGradient id="h104"><stop offset="0" stop-color="#f7f6f6"/><stop offset=".22" stop-color="#f4f6f7"/><stop offset=".31" stop-color="#f7f7f7"/><stop offset=".333" stop-color="#f8ebe6"/><stop offset=".36" stop-color="#f5cdbd"/><stop offset=".42" stop-color="#f7f1ee"/><stop offset=".52" stop-color="#f7f1ed"/><stop offset=".7" stop-color="#f8e9e2"/><stop offset="1" stop-color="#eaf0f6"/></linearGradient><linearGradient id="h105"><stop offset="0" stop-color="#f1f4f6"/><stop offset=".22" stop-color="#e9f0f6"/><stop offset=".31" stop-color="#f7f0ed"/><stop offset=".333" stop-color="#f7e1d6"/><stop offset=".36" stop-color="#f8eee9"/><stop offset=".42" stop-color="#f6f6f7"/><stop offset=".52" stop-color="#f7f4f2"/><stop offset=".7" stop-color="#f5f6f7"/><stop offset="1" stop-color="#f5f6f7"/></linearGradient><linearGradient id="h106"><stop offset="0" stop-color="#f7f1ee"/><stop offset=".22" stop-color="#f8ede8"/><stop offset=".31" stop-color="#f1b198"/><stop offset=".333" stop-color="#1f5fa6"/><stop offset=".36" stop-color="#2363a8"/><stop offset=".42" stop-color="#3b7ab7"/><stop offset=".52" stop-color="#5f9ccc"/><stop offset=".7" stop-color="#9ec5e2"/><stop offset="1" stop-color="#c1daec"/></linearGradient><linearGradient id="h107"><stop offset="0" stop-color="#f7f4f3"/><stop offset=".22" stop-color="#f6f7f7"/><stop offset=".31" stop-color="#f4c4b1"/><stop offset=".333" stop-color="#1f5fa6"/><stop offset=".36" stop-color="#1f5fa6"/><stop offset=".42" stop-color="#3372b2"/><stop offset=".52" stop-color="#5492c6"/><stop offset=".7" stop-color="#96c0df"/><stop offset="1" stop-color="#bed8eb"/></linearGradient><linearGradient id="h108"><stop offset="0" stop-color="#e5eef5"/><stop offset=".22" stop-color="#d7e6f2"/><stop offset=".31" stop-color="#e8eff5"/><stop offset=".333" stop-color="#7a0019"/><stop offset=".36" stop-color="#83041d"/><stop offset=".42" stop-color="#9a0f26"/><stop offset=".52" stop-color="#cd5347"/><stop offset=".7" stop-color="#ea9b84"/><stop offset="1" stop-color="#f8e5dc"/></linearGradient><linearGradient id="h109"><stop offset="0" stop-color="#deeaf4"/><stop offset=".22" stop-color="#d8e7f2"/><stop offset=".31" stop-color="#d6e6f2"/><stop offset=".333" stop-color="#8f0a22"/><stop offset=".36" stop-color="#9f1128"/><stop offset=".42" stop-color="#c54641"/><stop offset=".52" stop-color="#da6d59"/><stop offset=".7" stop-color="#f2b49c"/><stop offset="1" stop-color="#f7dacd"/></linearGradient><linearGradient id="h110"><stop offset="0" stop-color="#e5eef5"/><stop offset=".22" stop-color="#e9f0f6"/><stop offset=".31" stop-color="#e3edf5"/><stop offset=".333" stop-color="#b52e36"/><stop offset=".36" stop-color="#c03f3e"/><stop offset=".42" stop-color="#df7c67"/><stop offset=".52" stop-color="#f0ac93"/><stop offset=".7" stop-color="#f3b7a0"/><stop offset="1" stop-color="#f8e5dc"/></linearGradient><linearGradient id="h111"><stop offset="0" stop-color="#f8e7e0"/><stop offset=".22" stop-color="#f7f0ec"/><stop offset=".31" stop-color="#f8e2d8"/><stop offset=".333" stop-color="#e07d68"/><stop offset=".36" stop-color="#de7863"/><stop offset=".42" stop-color="#df7c67"/><stop offset=".52" stop-color="#f6d6c9"/><stop offset=".7" stop-color="#f6d0c1"/><stop offset="1" stop-color="#f8ede9"/></linearGradient><linearGradient id="h112"><stop offset="0" stop-color="#f8e8e0"/><stop offset=".22" stop-color="#dce9f3"/><stop offset=".31" stop-color="#e4eef5"/><stop offset=".333" stop-color="#f2b79f"/><stop offset=".36" stop-color="#f7ded3"/><stop offset=".42" stop-color="#f5cfbf"/><stop offset=".52" stop-color="#f8ebe6"/><stop offset=".7" stop-color="#f7f3f2"/><stop offset="1" stop-color="#f4c3af"/></linearGradient><linearGradient id="h113"><stop offset="0" stop-color="#f7f3f1"/><stop offset=".22" stop-color="#f7f4f2"/><stop offset=".31" stop-color="#f7efec"/><stop offset=".333" stop-color="#e2846e"/><stop offset=".36" stop-color="#f0ad94"/><stop offset=".42" stop-color="#f7e0d6"/><stop offset=".52" stop-color="#f5cfbf"/><stop offset=".7" stop-color="#f7f0ed"/><stop offset="1" stop-color="#eef2f6"/></linearGradient><linearGradient id="h114"><stop offset="0" stop-color="#f7dcd0"/><stop offset=".22" stop-color="#f3f5f7"/><stop offset=".31" stop-color="#f7f1ee"/><stop offset=".333" stop-color="#e1806b"/><stop offset=".36" stop-color="#e6917a"/><stop offset=".42" stop-color="#eea78f"/><stop offset=".52" stop-color="#f2b39a"/><stop offset=".7" stop-color="#f8ede8"/><stop offset="1" stop-color="#f6d8cb"/></linearGradient><linearGradient id="h115"><stop offset="0" stop-color="#d2e3f0"/><stop offset=".22" stop-color="#f3f5f7"/><stop offset=".31" stop-color="#f7f2ef"/><stop offset=".333" stop-color="#f8e3da"/><stop offset=".36" stop-color="#f7e0d5"/><stop offset=".42" stop-color="#f7d9cc"/><stop offset=".52" stop-color="#f8e6de"/><stop offset=".7" stop-color="#f0f3f6"/><stop offset="1" stop-color="#f8e2d8"/></linearGradient><linearGradient id="h116"><stop offset="0" stop-color="#f7dbcf"/><stop offset=".22" stop-color="#f3f5f7"/><stop offset=".31" stop-color="#f5c9b8"/><stop offset=".333" stop-color="#5694c7"/><stop offset=".36" stop-color="#79add5"/><stop offset=".42" stop-color="#97c1df"/><stop offset=".52" stop-color="#a9cce6"/><stop offset=".7" stop-color="#b9d5ea"/><stop offset="1" stop-color="#eaf1f6"/></linearGradient><linearGradient id="h117"><stop offset="0" stop-color="#cfe1f0"/><stop offset=".22" stop-color="#d9e8f2"/><stop offset=".31" stop-color="#d0e2f0"/><stop offset=".333" stop-color="#7a0019"/><stop offset=".36" stop-color="#86061e"/><stop offset=".42" stop-color="#a3132a"/><stop offset=".52" stop-color="#df7b66"/><stop offset=".7" stop-color="#f4c1ac"/><stop offset="1" stop-color="#f8e9e3"/></linearGradient><linearGradient id="h118"><stop offset="0" stop-color="#cbe0ef"/><stop offset=".22" stop-color="#d2e3f1"/><stop offset=".31" stop-color="#d1e3f0"/><stop offset=".333" stop-color="#7a0019"/><stop offset=".36" stop-color="#82041c"/><stop offset=".42" stop-color="#ad2231"/><stop offset=".52" stop-color="#d76451"/><stop offset=".7" stop-color="#f3bba4"/><stop offset="1" stop-color="#f8e6de"/></linearGradient><linearGradient id="h119"><stop offset="0" stop-color="#cce0ef"/><stop offset=".22" stop-color="#d8e7f2"/><stop offset=".31" stop-color="#d9e8f2"/><stop offset=".333" stop-color="#7a0019"/><stop offset=".36" stop-color="#7f021b"/><stop offset=".42" stop-color="#a6182c"/><stop offset=".52" stop-color="#e1826c"/><stop offset=".7" stop-color="#f6d4c5"/><stop offset="1" stop-color="#f6f7f7"/></linearGradient><linearGradient id="h120"><stop offset="0" stop-color="#e2ecf5"/><stop offset=".22" stop-color="#e8f0f6"/><stop offset=".31" stop-color="#d8e7f2"/><stop offset=".333" stop-color="#ea9c85"/><stop offset=".36" stop-color="#eb9d86"/><stop offset=".42" stop-color="#f4c0ab"/><stop offset=".52" stop-color="#f8e8e0"/><stop offset=".7" stop-color="#f8e6dd"/><stop offset="1" stop-color="#f7dfd4"/></linearGradient><linearGradient id="h121"><stop offset="0" stop-color="#c8deee"/><stop offset=".22" stop-color="#ddeaf3"/><stop offset=".31" stop-color="#cce0ef"/><stop offset=".333" stop-color="#e99780"/><stop offset=".36" stop-color="#eca28a"/><stop offset=".42" stop-color="#f1af96"/><stop offset=".52" stop-color="#f3b9a2"/><stop offset=".7" stop-color="#f8e2d9"/><stop offset="1" stop-color="#f8e9e2"/></linearGradient><linearGradient id="h122"><stop offset="0" stop-color="#d0e2f0"/><stop offset=".22" stop-color="#e4edf5"/><stop offset=".31" stop-color="#d9e7f2"/><stop offset=".333" stop-color="#e48973"/><stop offset=".36" stop-color="#f0ad94"/><stop offset=".42" stop-color="#f3bfaa"/><stop offset=".52" stop-color="#f5ccbb"/><stop offset=".7" stop-color="#f8e9e2"/><stop offset="1" stop-color="#f8eae3"/></linearGradient><linearGradient id="h123"><stop offset="0" stop-color="#e5eef5"/><stop offset=".22" stop-color="#e5eef5"/><stop offset=".31" stop-color="#e1ecf5"/><stop offset=".333" stop-color="#f6d5c6"/><stop offset=".36" stop-color="#f6d7ca"/><stop offset=".42" stop-color="#f8ebe6"/><stop offset=".52" stop-color="#f7f4f3"/><stop offset=".7" stop-color="#f8eae4"/><stop offset="1" stop-color="#f8e7e0"/></linearGradient><linearGradient id="h124"><stop offset="0" stop-color="#dae8f3"/><stop offset=".22" stop-color="#edf2f6"/><stop offset=".31" stop-color="#c5dced"/><stop offset=".333" stop-color="#f6d0c1"/><stop offset=".36" stop-color="#f8e7df"/><stop offset=".42" stop-color="#f8e9e3"/><stop offset=".52" stop-color="#f8e4db"/><stop offset=".7" stop-color="#f7dcd0"/><stop offset="1" stop-color="#f7f4f3"/></linearGradient><linearGradient id="h125"><stop offset="0" stop-color="#e0ebf4"/><stop offset=".22" stop-color="#d3e4f1"/><stop offset=".31" stop-color="#bfd9ec"/><stop offset=".333" stop-color="#f8ece7"/><stop offset=".36" stop-color="#f7ddd1"/><stop offset=".42" stop-color="#f7e1d6"/><stop offset=".52" stop-color="#f8e4db"/><stop offset=".7" stop-color="#f7d9cc"/><stop offset="1" stop-color="#f8e5dc"/></linearGradient><linearGradient id="h126"><stop offset="0" stop-color="#deeaf4"/><stop offset=".22" stop-color="#e1ecf4"/><stop offset=".31" stop-color="#e9f0f6"/><stop offset=".333" stop-color="#f7eeea"/><stop offset=".36" stop-color="#f8ece6"/><stop offset=".42" stop-color="#f8e8e1"/><stop offset=".52" stop-color="#f7f7f7"/><stop offset=".7" stop-color="#ebf1f6"/><stop offset="1" stop-color="#f2f4f6"/></linearGradient><linearGradient id="h127"><stop offset="0" stop-color="#d7e6f2"/><stop offset=".22" stop-color="#e5eef5"/><stop offset=".31" stop-color="#dbe9f3"/><stop offset=".333" stop-color="#f7dace"/><stop offset=".36" stop-color="#f7dacd"/><stop offset=".42" stop-color="#f8eae4"/><stop offset=".52" stop-color="#f5f6f7"/><stop offset=".7" stop-color="#f7f3f1"/><stop offset="1" stop-color="#f8eee9"/></linearGradient><linearGradient id="h128"><stop offset="0" stop-color="#eaf0f6"/><stop offset=".22" stop-color="#eaf1f6"/><stop offset=".31" stop-color="#e0ebf4"/><stop offset=".333" stop-color="#f8e4db"/><stop offset=".36" stop-color="#f7f2f0"/><stop offset=".42" stop-color="#f8e2d9"/><stop offset=".52" stop-color="#f7f5f3"/><stop offset=".7" stop-color="#f7f3f2"/><stop offset="1" stop-color="#f8ece7"/></linearGradient><linearGradient id="h129"><stop offset="0" stop-color="#f4f6f7"/><stop offset=".22" stop-color="#f4f5f7"/><stop offset=".31" stop-color="#f7f5f4"/><stop offset=".333" stop-color="#aecfe7"/><stop offset=".36" stop-color="#accee7"/><stop offset=".42" stop-color="#bad6ea"/><stop offset=".52" stop-color="#e9f0f6"/><stop offset=".7" stop-color="#dce9f3"/><stop offset="1" stop-color="#f7f5f5"/></linearGradient><linearGradient id="h130"><stop offset="0" stop-color="#f7f5f4"/><stop offset=".22" stop-color="#edf2f6"/><stop offset=".31" stop-color="#f4f5f7"/><stop offset=".333" stop-color="#f8e8e1"/><stop offset=".36" stop-color="#f8ebe6"/><stop offset=".42" stop-color="#f7f3f1"/><stop offset=".52" stop-color="#f7f0ed"/><stop offset=".7" stop-color="#f7eeea"/><stop offset="1" stop-color="#f0f4f6"/></linearGradient><linearGradient id="h131"><stop offset="0" stop-color="#edf2f6"/><stop offset=".22" stop-color="#e4edf5"/><stop offset=".31" stop-color="#edf2f6"/><stop offset=".333" stop-color="#f8e9e2"/><stop offset=".36" stop-color="#f7f0ed"/><stop offset=".42" stop-color="#f7f3f0"/><stop offset=".52" stop-color="#f8eae3"/><stop offset=".7" stop-color="#f7efea"/><stop offset="1" stop-color="#f4f5f7"/></linearGradient><linearGradient id="h132"><stop offset="0" stop-color="#f0f4f6"/><stop offset=".22" stop-color="#d0e2f0"/><stop offset=".31" stop-color="#e8f0f6"/><stop offset=".333" stop-color="#f8e3d9"/><stop offset=".36" stop-color="#f8ede8"/><stop offset=".42" stop-color="#f8e8e0"/><stop offset=".52" stop-color="#f7f3f2"/><stop offset=".7" stop-color="#f7efeb"/><stop offset="1" stop-color="#f7f4f2"/></linearGradient><linearGradient id="h133"><stop offset="0" stop-color="#e7eff5"/><stop offset=".22" stop-color="#e3edf5"/><stop offset=".31" stop-color="#eff3f6"/><stop offset=".333" stop-color="#f7e1d6"/><stop offset=".36" stop-color="#f8e4db"/><stop offset=".42" stop-color="#f8eae3"/><stop offset=".52" stop-color="#f8e9e1"/><stop offset=".7" stop-color="#f8e8e0"/><stop offset="1" stop-color="#f8ebe5"/></linearGradient><linearGradient id="h134"><stop offset="0" stop-color="#e3edf5"/><stop offset=".22" stop-color="#dce9f3"/><stop offset=".31" stop-color="#f5f6f7"/><stop offset=".333" stop-color="#f8e8e0"/><stop offset=".36" stop-color="#f8e6dd"/><stop offset=".42" stop-color="#f7d9cc"/><stop offset=".52" stop-color="#f7f1ee"/><stop offset=".7" stop-color="#f7f4f3"/><stop offset="1" stop-color="#f6f6f7"/></linearGradient><linearGradient id="h135"><stop offset="0" stop-color="#f7f7f7"/><stop offset=".22" stop-color="#f7f3f1"/><stop offset=".31" stop-color="#f8ebe5"/><stop offset=".333" stop-color="#cd5247"/><stop offset=".36" stop-color="#de7662"/><stop offset=".42" stop-color="#f7f5f3"/><stop offset=".52" stop-color="#e6eff5"/><stop offset=".7" stop-color="#f7f5f4"/><stop offset="1" stop-color="#dfebf4"/></linearGradient><linearGradient id="h136"><stop offset="0" stop-color="#f2f5f7"/><stop offset=".22" stop-color="#f6f7f7"/><stop offset=".31" stop-color="#e5eef5"/><stop offset=".333" stop-color="#f8e9e2"/><stop offset=".36" stop-color="#f8e9e2"/><stop offset=".42" stop-color="#f7f1ed"/><stop offset=".52" stop-color="#f8eae4"/><stop offset=".7" stop-color="#f8ebe6"/><stop offset="1" stop-color="#f8ece6"/></linearGradient><linearGradient id="h137"><stop offset="0" stop-color="#ebf1f6"/><stop offset=".22" stop-color="#ebf1f6"/><stop offset=".31" stop-color="#f7f2f0"/><stop offset=".333" stop-color="#f8ece6"/><stop offset=".36" stop-color="#f7f4f2"/><stop offset=".42" stop-color="#f7f0ec"/><stop offset=".52" stop-color="#f7f5f4"/><stop offset=".7" stop-color="#f7f1ee"/><stop offset="1" stop-color="#f8e6dd"/></linearGradient><linearGradient id="h138"><stop offset="0" stop-color="#edf2f6"/><stop offset=".22" stop-color="#f7f7f7"/><stop offset=".31" stop-color="#f7f6f5"/><stop offset=".333" stop-color="#f8e4db"/><stop offset=".36" stop-color="#f8e3d9"/><stop offset=".42" stop-color="#f7efeb"/><stop offset=".52" stop-color="#f7f0ed"/><stop offset=".7" stop-color="#f7efec"/><stop offset="1" stop-color="#f8e6de"/></linearGradient><linearGradient id="h139"><stop offset="0" stop-color="#f3f5f7"/><stop offset=".22" stop-color="#f4f6f7"/><stop offset=".31" stop-color="#f7f3f1"/><stop offset=".333" stop-color="#f8eae3"/><stop offset=".36" stop-color="#f8eae4"/><stop offset=".42" stop-color="#f7f2f0"/><stop offset=".52" stop-color="#f7dfd4"/><stop offset=".7" stop-color="#f7ddd1"/><stop offset="1" stop-color="#edf2f6"/></linearGradient><linearGradient id="h140"><stop offset="0" stop-color="#f7f7f7"/><stop offset=".22" stop-color="#f2f5f7"/><stop offset=".31" stop-color="#f8e6de"/><stop offset=".333" stop-color="#b0d1e8"/><stop offset=".36" stop-color="#e3edf5"/><stop offset=".42" stop-color="#c1daec"/><stop offset=".52" stop-color="#dae8f3"/><stop offset=".7" stop-color="#e9f0f6"/><stop offset="1" stop-color="#f6f7f7"/></linearGradient><linearGradient id="h141"><stop offset="0" stop-color="#eff3f6"/><stop offset=".22" stop-color="#ebf1f6"/><stop offset=".31" stop-color="#f8eee9"/><stop offset=".333" stop-color="#f8e1d7"/><stop offset=".36" stop-color="#f8e3da"/><stop offset=".42" stop-color="#f8e6de"/><stop offset=".52" stop-color="#f4f6f7"/><stop offset=".7" stop-color="#f8e9e2"/><stop offset="1" stop-color="#f7efeb"/></linearGradient><linearGradient id="h142"><stop offset="0" stop-color="#f6f6f7"/><stop offset=".22" stop-color="#f3f5f7"/><stop offset=".31" stop-color="#eff3f6"/><stop offset=".333" stop-color="#f8eee9"/><stop offset=".36" stop-color="#f8e9e2"/><stop offset=".42" stop-color="#eef3f6"/><stop offset=".52" stop-color="#f8ede7"/><stop offset=".7" stop-color="#f7f0ed"/><stop offset="1" stop-color="#eff3f6"/></linearGradient><linearGradient id="h143"><stop offset="0" stop-color="#f7f2ef"/><stop offset=".22" stop-color="#f8ece7"/><stop offset=".31" stop-color="#f7eeea"/><stop offset=".333" stop-color="#83b4d8"/><stop offset=".36" stop-color="#cadfee"/><stop offset=".42" stop-color="#c5dced"/><stop offset=".52" stop-color="#ddeaf4"/><stop offset=".7" stop-color="#dfebf4"/><stop offset="1" stop-color="#f7f7f7"/></linearGradient><linearGradient id="h144"><stop offset="0" stop-color="#f7f7f6"/><stop offset=".22" stop-color="#f4f5f7"/><stop offset=".31" stop-color="#f1f4f6"/><stop offset=".333" stop-color="#f8ede8"/><stop offset=".36" stop-color="#f7efeb"/><stop offset=".42" stop-color="#f6f6f7"/><stop offset=".52" stop-color="#f6f7f7"/><stop offset=".7" stop-color="#f8eee9"/><stop offset="1" stop-color="#f4f5f7"/></linearGradient><linearGradient id="h145"><stop offset="0" stop-color="#f8eae3"/><stop offset=".22" stop-color="#f0f3f6"/><stop offset=".31" stop-color="#f7f5f4"/><stop offset=".333" stop-color="#f8e9e2"/><stop offset=".36" stop-color="#f8ece7"/><stop offset=".42" stop-color="#f8e1d7"/><stop offset=".52" stop-color="#f8ece6"/><stop offset=".7" stop-color="#f7f6f6"/><stop offset="1" stop-color="#f7f3f1"/></linearGradient><linearGradient id="h146"><stop offset="0" stop-color="#e6eff5"/><stop offset=".22" stop-color="#f7f4f3"/><stop offset=".31" stop-color="#f7f5f4"/><stop offset=".333" stop-color="#b7d4e9"/><stop offset=".36" stop-color="#e8f0f6"/><stop offset=".42" stop-color="#aecfe7"/><stop offset=".52" stop-color="#a8cce5"/><stop offset=".7" stop-color="#f0f4f6"/><stop offset="1" stop-color="#e4edf5"/></linearGradient><linearGradient id="h147"><stop offset="0" stop-color="#f5f6f7"/><stop offset=".22" stop-color="#f3f5f7"/><stop offset=".31" stop-color="#f7f4f3"/><stop offset=".333" stop-color="#f8eae4"/><stop offset=".36" stop-color="#f7f3f1"/><stop offset=".42" stop-color="#f8e8e0"/><stop offset=".52" stop-color="#f7eeea"/><stop offset=".7" stop-color="#eff3f6"/><stop offset="1" stop-color="#f7f4f3"/></linearGradient><linearGradient id="h148"><stop offset="0" stop-color="#f7f1ef"/><stop offset=".22" stop-color="#f7f3f0"/><stop offset=".31" stop-color="#f2f5f7"/><stop offset=".333" stop-color="#f7f1ee"/><stop offset=".36" stop-color="#f8e9e2"/><stop offset=".42" stop-color="#f7f1ee"/><stop offset=".52" stop-color="#f7f7f7"/><stop offset=".7" stop-color="#f7f3f1"/><stop offset="1" stop-color="#f7f4f3"/></linearGradient><linearGradient id="h149"><stop offset="0" stop-color="#d2e4f1"/><stop offset=".22" stop-color="#d4e4f1"/><stop offset=".31" stop-color="#f8e4db"/><stop offset=".333" stop-color="#b1d1e8"/><stop offset=".36" stop-color="#aacde6"/><stop offset=".42" stop-color="#d1e3f0"/><stop offset=".52" stop-color="#cbdfef"/><stop offset=".7" stop-color="#e9f0f6"/><stop offset="1" stop-color="#dfebf4"/></linearGradient><linearGradient id="h150"><stop offset="0" stop-color="#f7efeb"/><stop offset=".22" stop-color="#f7dcd0"/><stop offset=".31" stop-color="#f6d8ca"/><stop offset=".333" stop-color="#a4c9e4"/><stop offset=".36" stop-color="#7bafd6"/><stop offset=".42" stop-color="#d0e2f0"/><stop offset=".52" stop-color="#aecfe7"/><stop offset=".7" stop-color="#e3edf5"/><stop offset="1" stop-color="#f3f5f7"/></linearGradient><linearGradient id="h151"><stop offset="0" stop-color="#f7f6f5"/><stop offset=".22" stop-color="#f5f6f7"/><stop offset=".31" stop-color="#f7f3f1"/><stop offset=".333" stop-color="#f7f0ec"/><stop offset=".36" stop-color="#f8e4db"/><stop offset=".42" stop-color="#f8e8e1"/><stop offset=".52" stop-color="#f8e4da"/><stop offset=".7" stop-color="#f7f2f0"/><stop offset="1" stop-color="#f7efeb"/></linearGradient><linearGradient id="h152"><stop offset="0" stop-color="#f7f3f1"/><stop offset=".22" stop-color="#f5f6f7"/><stop offset=".31" stop-color="#f7f4f3"/><stop offset=".333" stop-color="#f8e6dd"/><stop offset=".36" stop-color="#f8e3d9"/><stop offset=".42" stop-color="#f7f2ef"/><stop offset=".52" stop-color="#f7eeea"/><stop offset=".7" stop-color="#f7eeea"/><stop offset="1" stop-color="#f8eee9"/></linearGradient><linearGradient id="h153"><stop offset="0" stop-color="#f8e3da"/><stop offset=".22" stop-color="#f8ede8"/><stop offset=".31" stop-color="#f7d9cd"/><stop offset=".333" stop-color="#bbd7eb"/><stop offset=".36" stop-color="#bad6ea"/><stop offset=".42" stop-color="#9fc6e2"/><stop offset=".52" stop-color="#deeaf4"/><stop offset=".7" stop-color="#deeaf4"/><stop offset="1" stop-color="#dae8f3"/></linearGradient><linearGradient id="h154"><stop offset="0" stop-color="#f8ebe6"/><stop offset=".22" stop-color="#f7f0ec"/><stop offset=".31" stop-color="#f7f6f5"/><stop offset=".333" stop-color="#d2e3f0"/><stop offset=".36" stop-color="#b2d2e8"/><stop offset=".42" stop-color="#cadfee"/><stop offset=".52" stop-color="#d0e2f0"/><stop offset=".7" stop-color="#f8ede7"/><stop offset="1" stop-color="#cbdfef"/></linearGradient><linearGradient id="h155"><stop offset="0" stop-color="#f6f7f7"/><stop offset=".22" stop-color="#f4f6f7"/><stop offset=".31" stop-color="#f8ede8"/><stop offset=".333" stop-color="#f7f0ec"/><stop offset=".36" stop-color="#f7f0ed"/><stop offset=".42" stop-color="#f8eee9"/><stop offset=".52" stop-color="#f7f5f4"/><stop offset=".7" stop-color="#f6f6f7"/><stop offset="1" stop-color="#f8e7df"/></linearGradient><linearGradient id="h156"><stop offset="0" stop-color="#f7f7f7"/><stop offset=".22" stop-color="#f7f2ef"/><stop offset=".31" stop-color="#f8eae4"/><stop offset=".333" stop-color="#f7f2f0"/><stop offset=".36" stop-color="#f8eae4"/><stop offset=".42" stop-color="#f8e7df"/><stop offset=".52" stop-color="#f8ece6"/><stop offset=".7" stop-color="#f8ece6"/><stop offset="1" stop-color="#f8e8e1"/></linearGradient><linearGradient id="h157"><stop offset="0" stop-color="#f1f4f6"/><stop offset=".22" stop-color="#f7f6f5"/><stop offset=".31" stop-color="#f1af97"/><stop offset=".333" stop-color="#65a0ce"/><stop offset=".36" stop-color="#6ca5d0"/><stop offset=".42" stop-color="#8bb9db"/><stop offset=".52" stop-color="#aecfe7"/><stop offset=".7" stop-color="#d9e8f2"/><stop offset="1" stop-color="#e8eff5"/></linearGradient><linearGradient id="h158"><stop offset="0" stop-color="#f7f6f6"/><stop offset=".22" stop-color="#f4f5f7"/><stop offset=".31" stop-color="#e07d68"/><stop offset=".333" stop-color="#4f8ec3"/><stop offset=".36" stop-color="#4a89c0"/><stop offset=".42" stop-color="#80b2d7"/><stop offset=".52" stop-color="#9fc6e2"/><stop offset=".7" stop-color="#deeaf4"/><stop offset="1" stop-color="#f1f4f6"/></linearGradient><linearGradient id="h159"><stop offset="0" stop-color="#f7f2ef"/><stop offset=".22" stop-color="#f8e9e2"/><stop offset=".31" stop-color="#d35b4b"/><stop offset=".333" stop-color="#2464a9"/><stop offset=".36" stop-color="#3272b2"/><stop offset=".42" stop-color="#508fc3"/><stop offset=".52" stop-color="#82b3d8"/><stop offset=".7" stop-color="#b8d5ea"/><stop offset="1" stop-color="#eff3f6"/></linearGradient><linearGradient id="h160"><stop offset="0" stop-color="#f7f1ee"/><stop offset=".22" stop-color="#f8ede8"/><stop offset=".31" stop-color="#be3c3d"/><stop offset=".333" stop-color="#1f5fa6"/><stop offset=".36" stop-color="#1f5fa6"/><stop offset=".42" stop-color="#4482bc"/><stop offset=".52" stop-color="#83b3d8"/><stop offset=".7" stop-color="#cadfee"/><stop offset="1" stop-color="#e9f0f6"/></linearGradient><linearGradient id="cb1" x1="0" y1="0" x2="0" y2="1"><stop offset="0.000" stop-color="#a3132a"/><stop offset="0.200" stop-color="#d6604d"/><stop offset="0.350" stop-color="#f2b39a"/><stop offset="0.450" stop-color="#f8e5dc"/><stop offset="0.500" stop-color="#f7f7f7"/><stop offset="0.550" stop-color="#e3edf5"/><stop offset="0.650" stop-color="#aacde6"/><stop offset="0.800" stop-color="#5d9bcb"/><stop offset="1.000" stop-color="#1f5fa6"/></linearGradient><linearGradient id="cb2" x1="0" y1="0" x2="0" y2="1"><stop offset="0.000" stop-color="#a3132a"/><stop offset="0.200" stop-color="#d6604d"/><stop offset="0.350" stop-color="#f2b39a"/><stop offset="0.450" stop-color="#f8e5dc"/><stop offset="0.500" stop-color="#f7f7f7"/><stop offset="0.550" stop-color="#e3edf5"/><stop offset="0.650" stop-color="#aacde6"/><stop offset="0.800" stop-color="#5d9bcb"/><stop offset="1.000" stop-color="#1f5fa6"/></linearGradient><linearGradient id="h161"><stop offset="0" stop-color="#d2e4f1"/><stop offset=".149" stop-color="#deeaf4"/><stop offset=".169" stop-color="#970d25"/><stop offset=".229" stop-color="#dc725e"/><stop offset=".319" stop-color="#f6d3c4"/><stop offset=".469" stop-color="#f8ece6"/><stop offset=".64" stop-color="#eff3f6"/><stop offset=".66" stop-color="#eca28a"/><stop offset=".72" stop-color="#f8e4da"/><stop offset=".81" stop-color="#f7f7f6"/><stop offset="1" stop-color="#ecf2f6"/></linearGradient><linearGradient id="h162"><stop offset="0" stop-color="#e6eff5"/><stop offset=".149" stop-color="#e6eff5"/><stop offset=".169" stop-color="#ab1f2f"/><stop offset=".229" stop-color="#e2856f"/><stop offset=".319" stop-color="#f7dacd"/><stop offset=".469" stop-color="#f7f7f7"/><stop offset=".64" stop-color="#f5f6f7"/><stop offset=".66" stop-color="#f4c2ae"/><stop offset=".72" stop-color="#f7efea"/><stop offset=".81" stop-color="#ecf2f6"/><stop offset="1" stop-color="#f7f6f5"/></linearGradient><linearGradient id="h163"><stop offset="0" stop-color="#d1e3f0"/><stop offset=".149" stop-color="#edf2f6"/><stop offset=".169" stop-color="#be3c3d"/><stop offset=".229" stop-color="#eb9d86"/><stop offset=".319" stop-color="#f7ded3"/><stop offset=".469" stop-color="#f6f7f7"/><stop offset=".64" stop-color="#f3f5f7"/><stop offset=".66" stop-color="#f8e5dc"/><stop offset=".72" stop-color="#f7f7f6"/><stop offset=".81" stop-color="#eff3f6"/><stop offset="1" stop-color="#edf2f6"/></linearGradient><linearGradient id="h164"><stop offset="0" stop-color="#e0ebf4"/><stop offset=".149" stop-color="#e5eef5"/><stop offset=".169" stop-color="#cb5046"/><stop offset=".229" stop-color="#e89680"/><stop offset=".319" stop-color="#f7f3f0"/><stop offset=".469" stop-color="#f5f6f7"/><stop offset=".64" stop-color="#f5f6f7"/><stop offset=".66" stop-color="#f6f7f7"/><stop offset=".72" stop-color="#f1f4f6"/><stop offset=".81" stop-color="#ebf1f6"/><stop offset="1" stop-color="#eff3f6"/></linearGradient><linearGradient id="h165"><stop offset="0" stop-color="#dce9f3"/><stop offset=".149" stop-color="#dce9f3"/><stop offset=".169" stop-color="#df7a65"/><stop offset=".229" stop-color="#f3bba4"/><stop offset=".319" stop-color="#f8eae3"/><stop offset=".469" stop-color="#f7f5f4"/><stop offset=".64" stop-color="#f1f4f6"/><stop offset=".66" stop-color="#e9f0f6"/><stop offset=".72" stop-color="#e4edf5"/><stop offset=".81" stop-color="#ddeaf4"/><stop offset="1" stop-color="#e3edf5"/></linearGradient><linearGradient id="h166"><stop offset="0" stop-color="#d7e6f2"/><stop offset=".149" stop-color="#e5eef5"/><stop offset=".169" stop-color="#ea9b84"/><stop offset=".229" stop-color="#f5ccbb"/><stop offset=".319" stop-color="#f8e8e0"/><stop offset=".469" stop-color="#f7f5f4"/><stop offset=".64" stop-color="#f2f4f6"/><stop offset=".66" stop-color="#e8f0f6"/><stop offset=".72" stop-color="#d5e5f1"/><stop offset=".81" stop-color="#ebf1f6"/><stop offset="1" stop-color="#e1ecf4"/></linearGradient><linearGradient id="h167"><stop offset="0" stop-color="#cde1ef"/><stop offset=".149" stop-color="#e3edf5"/><stop offset=".169" stop-color="#f4c2ae"/><stop offset=".229" stop-color="#f8ebe5"/><stop offset=".319" stop-color="#f7eeea"/><stop offset=".469" stop-color="#f7f2f0"/><stop offset=".64" stop-color="#f3f5f7"/><stop offset=".66" stop-color="#e2edf5"/><stop offset=".72" stop-color="#eaf1f6"/><stop offset=".81" stop-color="#f2f5f7"/><stop offset="1" stop-color="#e1ecf4"/></linearGradient><linearGradient id="h168"><stop offset="0" stop-color="#dae8f3"/><stop offset=".149" stop-color="#d7e6f2"/><stop offset=".169" stop-color="#f8e2d8"/><stop offset=".229" stop-color="#f7efeb"/><stop offset=".319" stop-color="#f7f4f2"/><stop offset=".469" stop-color="#f1f4f6"/><stop offset=".64" stop-color="#f5f6f7"/><stop offset=".66" stop-color="#f3f5f7"/><stop offset=".72" stop-color="#dce9f3"/><stop offset=".81" stop-color="#e5eef5"/><stop offset="1" stop-color="#e6eef5"/></linearGradient><linearGradient id="h169"><stop offset="0" stop-color="#d9e8f2"/><stop offset=".149" stop-color="#dae8f3"/><stop offset=".169" stop-color="#f7f4f2"/><stop offset=".229" stop-color="#f7f4f2"/><stop offset=".319" stop-color="#f3f5f7"/><stop offset=".469" stop-color="#f3f5f7"/><stop offset=".64" stop-color="#f2f5f7"/><stop offset=".66" stop-color="#ebf1f6"/><stop offset=".72" stop-color="#d5e5f1"/><stop offset=".81" stop-color="#eaf0f6"/><stop offset="1" stop-color="#dce9f3"/></linearGradient><linearGradient id="h170"><stop offset="0" stop-color="#d6e6f2"/><stop offset=".149" stop-color="#dce9f3"/><stop offset=".169" stop-color="#f6f6f7"/><stop offset=".229" stop-color="#f7f4f3"/><stop offset=".319" stop-color="#f6f6f7"/><stop offset=".469" stop-color="#f7f6f5"/><stop offset=".64" stop-color="#f7f6f5"/><stop offset=".66" stop-color="#deeaf4"/><stop offset=".72" stop-color="#f3f5f7"/><stop offset=".81" stop-color="#e8eff5"/><stop offset="1" stop-color="#eaf1f6"/></linearGradient><linearGradient id="h171"><stop offset="0" stop-color="#d6e6f2"/><stop offset=".149" stop-color="#d4e5f1"/><stop offset=".169" stop-color="#f8ede8"/><stop offset=".229" stop-color="#f7f4f3"/><stop offset=".319" stop-color="#eaf1f6"/><stop offset=".469" stop-color="#f7f7f7"/><stop offset=".64" stop-color="#f5f6f7"/><stop offset=".66" stop-color="#d8e7f2"/><stop offset=".72" stop-color="#d5e5f1"/><stop offset=".81" stop-color="#e4edf5"/><stop offset="1" stop-color="#e2ecf5"/></linearGradient><linearGradient id="h172"><stop offset="0" stop-color="#dfebf4"/><stop offset=".149" stop-color="#e6eff5"/><stop offset=".169" stop-color="#f8eae3"/><stop offset=".229" stop-color="#f3f5f7"/><stop offset=".319" stop-color="#eef3f6"/><stop offset=".469" stop-color="#f7f3f1"/><stop offset=".64" stop-color="#f2f4f6"/><stop offset=".66" stop-color="#e4edf5"/><stop offset=".72" stop-color="#f0f3f6"/><stop offset=".81" stop-color="#eaf1f6"/><stop offset="1" stop-color="#e5eef5"/></linearGradient><linearGradient id="h173"><stop offset="0" stop-color="#e5eef5"/><stop offset=".149" stop-color="#dae8f3"/><stop offset=".169" stop-color="#f8ede8"/><stop offset=".229" stop-color="#f7f2ef"/><stop offset=".319" stop-color="#f6f7f7"/><stop offset=".469" stop-color="#edf2f6"/><stop offset=".64" stop-color="#f2f4f6"/><stop offset=".66" stop-color="#f1f4f6"/><stop offset=".72" stop-color="#eef3f6"/><stop offset=".81" stop-color="#ecf2f6"/><stop offset="1" stop-color="#e1ecf4"/></linearGradient><linearGradient id="h174"><stop offset="0" stop-color="#e5eef5"/><stop offset=".149" stop-color="#d6e6f2"/><stop offset=".169" stop-color="#f7f2ef"/><stop offset=".229" stop-color="#f7f3f1"/><stop offset=".319" stop-color="#f7efeb"/><stop offset=".469" stop-color="#eff3f6"/><stop offset=".64" stop-color="#f4f6f7"/><stop offset=".66" stop-color="#dce9f3"/><stop offset=".72" stop-color="#e1ecf4"/><stop offset=".81" stop-color="#edf2f6"/><stop offset="1" stop-color="#ebf1f6"/></linearGradient><linearGradient id="tg" x1="0" y1="0" x2="0" y2="1"><stop offset="0" stop-color="#1a1a1a"/><stop offset="1" stop-color="#fff"/></linearGradient><radialGradient id="glow"><stop offset="0" stop-color="#ff3030" stop-opacity="0.9"/><stop offset="0.6" stop-color="#ff5050" stop-opacity="0.5"/><stop offset="1" stop-color="#ff8080" stop-opacity="0"/></radialGradient><filter id="tex" color-interpolation-filters="sRGB" x="0" y="0" width="100%" height="100%"><feTurbulence type="fractalNoise" baseFrequency="0.12 0.3" numOctaves="3" seed="4"/><feColorMatrix type="matrix" values="0.38 0 0 0 0.56  0.38 0 0 0 0.56  0.38 0 0 0 0.56  0 0 0 0 1"/></filter><filter id="tex2" color-interpolation-filters="sRGB" x="0" y="0" width="100%" height="100%"><feTurbulence type="fractalNoise" baseFrequency="0.15 0.35" numOctaves="3" seed="9"/><feColorMatrix type="matrix" values="0.38 0 0 0 0.58  0.38 0 0 0 0.58  0.38 0 0 0 0.58  0 0 0 0 1"/></filter><filter id="bl2" color-interpolation-filters="sRGB"><feGaussianBlur stdDeviation="3"/></filter><clipPath id="cp1"><rect x="656.5" y="858.9" width="100" height="99.1"/></clipPath><clipPath id="cp2"><rect x="656.5" y="971.4" width="100" height="98.9"/></clipPath></defs><text x="0.80" y="13.30" style="font-size:19.0px;font-weight:bold" fill="#000" stroke="#000" stroke-width="0.6">a</text><text x="50.50" y="61.00" style="font-size:11.42px;" fill="#231f20" >Hypothesis 1</text><text x="58.50" y="77.00" style="font-size:11.59px;" fill="#231f20" >Persistent</text><text x="59.50" y="93.00" style="font-size:11.60px;" fill="#231f20" >activation</text><text x="146.60" y="61.00" style="font-size:11.71px;" fill="#231f20" >Hypothesis 2</text><text x="142.90" y="77.00" style="font-size:11.54px;" fill="#231f20" >Malaise-driven</text><text x="150.70" y="93.00" style="font-size:11.57px;" fill="#231f20" >reactivation</text><text x="243.40" y="61.00" style="font-size:11.61px;" fill="#231f20" >Hypothesis 3</text><text x="254.20" y="77.00" style="font-size:11.21px;" fill="#231f20" >Separate</text><text x="247.20" y="93.00" style="font-size:11.69px;" fill="#231f20" >populations</text><text x="8.75" y="117.00" style="font-size:11.41px;" fill="#231f20" >Consume</text><text x="29.60" y="139.90" style="font-size:10.96px;" fill="#231f20" >Delay</text><text x="18.70" y="163.40" style="font-size:11.29px;" fill="#231f20" >Malaise</text><text x="13.40" y="186.90" style="font-size:11.20px;" fill="#231f20" >Retrieval</text><rect x="62.9" y="103.5" width="18.3" height="18.3" fill="#e42b25" rx="1.6" stroke="#231f20" stroke-width="1.1"/><rect x="86.7" y="103.5" width="18.3" height="18.3" fill="#7f7f7f" rx="1.6" stroke="#231f20" stroke-width="1.1"/><rect x="62.9" y="126.9" width="18.3" height="18.3" fill="#e42b25" rx="1.6" stroke="#231f20" stroke-width="1.1"/><rect x="86.7" y="126.9" width="18.3" height="18.3" fill="#e6e6e6" rx="1.6" stroke="#231f20" stroke-width="1.1"/><rect x="62.9" y="150.3" width="18.3" height="18.3" fill="#e42b25" rx="1.6" stroke="#231f20" stroke-width="1.1"/><rect x="86.7" y="150.3" width="18.3" height="18.3" fill="#e6e6e6" rx="1.6" stroke="#231f20" stroke-width="1.1"/><rect x="62.9" y="174" width="18.3" height="18.3" fill="#e42b25" rx="1.6" stroke="#231f20" stroke-width="1.1"/><rect x="86.7" y="174" width="18.3" height="18.3" fill="#7f7f7f" rx="1.6" stroke="#231f20" stroke-width="1.1"/><path d="M68.94 138.57 A4.00 4.00 0 0 1 70.96 132.14" fill="none" stroke="#231f20" stroke-width="0.9" /><path d="M73.09 131.94 L70.41 130.58 L70.57 133.57Z" fill="#231f20" stroke="none" stroke-width="1" /><path d="M75.06 133.43 A4.00 4.00 0 0 1 73.04 139.86" fill="none" stroke="#231f20" stroke-width="0.9" /><path d="M70.91 140.06 L73.59 141.42 L73.43 138.43Z" fill="#231f20" stroke="none" stroke-width="1" /><path d="M68.94 161.97 A4.00 4.00 0 0 1 70.96 155.54" fill="none" stroke="#231f20" stroke-width="0.9" /><path d="M73.09 155.34 L70.41 153.98 L70.57 156.97Z" fill="#231f20" stroke="none" stroke-width="1" /><path d="M75.06 156.83 A4.00 4.00 0 0 1 73.04 163.26" fill="none" stroke="#231f20" stroke-width="0.9" /><path d="M70.91 163.46 L73.59 164.82 L73.43 161.83Z" fill="#231f20" stroke="none" stroke-width="1" /><line x1="81" y1="163.8" x2="86.5" y2="163.8" stroke="#231f20" stroke-width="0.9" /><circle cx="80.7" cy="163.8" r="3" fill="#231f20" /><circle cx="104.9" cy="154.8" r="3" fill="#231f20" /><path d="M105 154.8 H115.5 V172.5" fill="none" stroke="#231f20" stroke-width="1.0" /><path d="M105.6 164.5 H115.5" fill="none" stroke="#231f20" stroke-width="1.0" /><text transform="translate(126.20,191.00) rotate(-90)" style="font-size:11.32px;" fill="#231f20">CGRP neurons</text><rect x="159.8" y="103.5" width="18.3" height="18.3" fill="#e42b25" rx="1.6" stroke="#231f20" stroke-width="1.1"/><rect x="183.5" y="103.5" width="18.3" height="18.3" fill="#7f7f7f" rx="1.6" stroke="#231f20" stroke-width="1.1"/><rect x="159.8" y="126.9" width="18.3" height="18.3" fill="#fbd9d6" rx="1.6" stroke="#231f20" stroke-width="1.1"/><rect x="183.5" y="126.9" width="18.3" height="18.3" fill="#e6e6e6" rx="1.6" stroke="#231f20" stroke-width="1.1"/><rect x="159.8" y="150.3" width="18.3" height="18.3" fill="#e42b25" rx="1.6" stroke="#231f20" stroke-width="1.1"/><rect x="183.5" y="150.3" width="18.3" height="18.3" fill="#e6e6e6" rx="1.6" stroke="#231f20" stroke-width="1.1"/><rect x="159.8" y="174" width="18.3" height="18.3" fill="#e42b25" rx="1.6" stroke="#231f20" stroke-width="1.1"/><rect x="183.5" y="174" width="18.3" height="18.3" fill="#7f7f7f" rx="1.6" stroke="#231f20" stroke-width="1.1"/><path d="M166.75 153.25 L171.50 155.75 L166.25 161.50 L170.50 165.50" fill="none" stroke="#231f20" stroke-width="1.25" stroke-linejoin="miter" stroke-linecap="round"/><line x1="178" y1="164" x2="183.5" y2="164" stroke="#231f20" stroke-width="0.9" /><circle cx="177.3" cy="164" r="3" fill="#231f20" /><path d="M202 155 H212.2 V161.7" fill="none" stroke="#c8c8c8" stroke-width="1.0" /><circle cx="201.7" cy="155" r="3" fill="#c8c8c8" /><path d="M202.2 164 H212.2 V172.2" fill="none" stroke="#231f20" stroke-width="1.0" /><rect x="237.5" y="103.5" width="18.3" height="18.3" fill="#e42b25" rx="1.6" stroke="#231f20" stroke-width="1.1"/><rect x="270.5" y="103.5" width="18.3" height="18.3" fill="#cde9d6" rx="1.6" stroke="#231f20" stroke-width="1.1"/><rect x="294.5" y="103.5" width="18.3" height="18.3" fill="#7f7f7f" rx="1.6" stroke="#231f20" stroke-width="1.1"/><rect x="237.5" y="126.9" width="18.3" height="18.3" fill="#fbd9d6" rx="1.6" stroke="#231f20" stroke-width="1.1"/><rect x="270.5" y="126.9" width="18.3" height="18.3" fill="#cde9d6" rx="1.6" stroke="#231f20" stroke-width="1.1"/><rect x="294.5" y="126.9" width="18.3" height="18.3" fill="#e6e6e6" rx="1.6" stroke="#231f20" stroke-width="1.1"/><rect x="237.5" y="150.3" width="18.3" height="18.3" fill="#fbd9d6" rx="1.6" stroke="#231f20" stroke-width="1.1"/><rect x="270.5" y="150.3" width="18.3" height="18.3" fill="#2f9b50" rx="1.6" stroke="#231f20" stroke-width="1.1"/><rect x="294.5" y="150.3" width="18.3" height="18.3" fill="#e6e6e6" rx="1.6" stroke="#231f20" stroke-width="1.1"/><rect x="237.5" y="174" width="18.3" height="18.3" fill="#e42b25" rx="1.6" stroke="#231f20" stroke-width="1.1"/><rect x="270.5" y="174" width="18.3" height="18.3" fill="#2f9b50" rx="1.6" stroke="#231f20" stroke-width="1.1"/><rect x="294.5" y="174" width="18.3" height="18.3" fill="#7f7f7f" rx="1.6" stroke="#231f20" stroke-width="1.1"/><line x1="258.5" y1="112.6" x2="267.5" y2="112.6" stroke="#c9c9c9" stroke-width="0.9" /><path d="M256.6 112.6 l2.6 -1.6 v3.2Z" fill="#c9c9c9" stroke="none" stroke-width="1" /><path d="M269.4 112.6 l-2.6 -1.6 v3.2Z" fill="#c9c9c9" stroke="none" stroke-width="1" /><line x1="258.5" y1="136" x2="267.5" y2="136" stroke="#c9c9c9" stroke-width="0.9" /><path d="M256.6 136.0 l2.6 -1.6 v3.2Z" fill="#c9c9c9" stroke="none" stroke-width="1" /><path d="M269.4 136.0 l-2.6 -1.6 v3.2Z" fill="#c9c9c9" stroke="none" stroke-width="1" /><line x1="258.5" y1="159.4" x2="267.5" y2="159.4" stroke="#c9c9c9" stroke-width="0.9" /><path d="M256.6 159.4 l2.6 -1.6 v3.2Z" fill="#c9c9c9" stroke="none" stroke-width="1" /><path d="M269.4 159.4 l-2.6 -1.6 v3.2Z" fill="#c9c9c9" stroke="none" stroke-width="1" /><line x1="258.5" y1="183.1" x2="267.5" y2="183.1" stroke="#231f20" stroke-width="0.9" /><path d="M256.6 183.1 l2.6 -1.6 v3.2Z" fill="#231f20" stroke="none" stroke-width="1" /><path d="M269.4 183.1 l-2.6 -1.6 v3.2Z" fill="#231f20" stroke="none" stroke-width="1" /><path d="M278.25 153.25 L283.00 155.75 L277.75 161.50 L282.00 165.50" fill="none" stroke="#231f20" stroke-width="1.25" stroke-linejoin="miter" stroke-linecap="round"/><line x1="289" y1="164" x2="294.5" y2="164" stroke="#231f20" stroke-width="0.9" /><circle cx="288.3" cy="164" r="3" fill="#231f20" /><path d="M313 155 H323.7 V161.7" fill="none" stroke="#c8c8c8" stroke-width="1.0" /><circle cx="312.6" cy="155" r="3" fill="#c8c8c8" /><path d="M313 164 H323.7 V172.2" fill="none" stroke="#231f20" stroke-width="1.0" /><rect x="18.7" y="205.7" width="9.8" height="9.3" fill="#e42b25" rx="1.2" stroke="#231f20" stroke-width="1"/><rect x="18.7" y="219.5" width="9.8" height="9.3" fill="#2f9b50" rx="1.2" stroke="#231f20" stroke-width="1"/><rect x="18.7" y="233.5" width="9.8" height="9.3" fill="#7f7f7f" rx="1.2" stroke="#231f20" stroke-width="1"/><text x="36.50" y="213.90" style="font-size:10.40px;" fill="#231f20" >Flavour-coding neurons</text><text x="36.50" y="227.50" style="font-size:10.50px;" fill="#231f20" >Malaise-coding neurons</text><text x="36.50" y="241.20" style="font-size:10.33px;" fill="#231f20" >Other amygdala neurons</text><path d="M170.09 220.24 A3.80 3.80 0 0 1 172.02 214.13" fill="none" stroke="#231f20" stroke-width="0.855" /><path d="M174.03 213.94 L171.49 212.65 L171.64 215.49Z" fill="#231f20" stroke="none" stroke-width="1" /><path d="M175.91 215.36 A3.80 3.80 0 0 1 173.98 221.47" fill="none" stroke="#231f20" stroke-width="0.855" /><path d="M171.97 221.66 L174.51 222.95 L174.36 220.11Z" fill="#231f20" stroke="none" stroke-width="1" /><path d="M171.51 228.27 L175.55 230.40 L171.09 235.28 L174.70 238.69" fill="none" stroke="#231f20" stroke-width="1.0625" stroke-linejoin="miter" stroke-linecap="round"/><text x="185.20" y="221.80" style="font-size:10.42px;" fill="#231f20" >Persistent activity</text><text x="185.20" y="237.60" style="font-size:10.50px;" fill="#231f20" >Malaise-induced activity</text><text x="360.30" y="13.30" style="font-size:19.0px;font-weight:bold" fill="#000" stroke="#000" stroke-width="0.6">b</text><text x="452.40" y="26.70" style="font-size:11.63px;" fill="#231f20" >Recording strategy</text><text x="378.70" y="44.80" style="font-size:11.64px;" fill="#231f20" >Optical fibre</text><line x1="413.3" y1="47.3" x2="453.3" y2="65.3" stroke="#231f20" stroke-width="1" /><text x="506.20" y="51.70" style="font-size:11.59px;" fill="#231f20" >Neuropixels 2.0 probe</text><line x1="481" y1="47.3" x2="506" y2="47.3" stroke="#231f20" stroke-width="1" /><text x="511.00" y="79.80" style="font-size:11.75px;" fill="#231f20" >Chronic probe holder</text><line x1="472.7" y1="76" x2="509" y2="76" stroke="#231f20" stroke-width="1" /><path d="M394.00 104.00 C385.00 106.00 370.00 101.00 362.00 104.00 C356.00 107.00 358.00 113.00 366.00 115.00 C372.00 116.00 376.00 118.00 378.00 120.00 " fill="none" stroke="#231f20" stroke-width="3.0" stroke-linecap="round"/><path d="M394.00 104.00 C385.00 106.00 370.00 101.00 362.00 104.00 C356.00 107.00 358.00 113.00 366.00 115.00 C372.00 116.00 376.00 118.00 378.00 120.00 " fill="none" stroke="#f2b6ad" stroke-width="1.8" stroke-linecap="round"/><path d="M392.90 105.40 C392.00 96.00 396.00 84.00 404.00 78.00 C412.00 72.00 428.00 69.00 442.00 76.70 L463.30 84.20 C467.00 88.00 471.00 92.00 474.60 96.70 C472.00 99.00 467.00 99.50 462.00 99.50 C456.00 100.00 449.00 102.00 447.00 105.50 C449.00 109.00 452.00 110.50 456.00 111.70 C452.00 113.00 447.00 112.50 444.00 111.00 C440.00 110.00 435.00 109.50 430.00 107.00 C427.00 109.00 425.00 110.50 422.50 110.50 C418.00 111.00 413.00 110.50 410.00 109.50 C403.00 108.50 397.00 107.50 392.90 105.40 Z " fill="#f1f1f1" stroke="#231f20" stroke-width="0.8" /><path d="M419.00 97.00 C417.00 101.00 416.00 105.00 414.00 109.00 " fill="none" stroke="#231f20" stroke-width="0.5" /><path d="M445.00 91.00 C446.00 95.00 448.00 97.00 451.00 99.00 " fill="none" stroke="#231f20" stroke-width="0.5" stroke-dasharray="1 0.8"/><ellipse cx="420.00" cy="110.50" rx="3.20" ry="1.30" fill="#f0b0a8" stroke="#231f20" stroke-width="0.6"/><ellipse cx="452.00" cy="111.50" rx="3.20" ry="1.30" fill="#f0b0a8" stroke="#231f20" stroke-width="0.6"/><ellipse cx="445.40" cy="80.00" rx="3.30" ry="6.30" fill="#f5b7b1" stroke="#8a6a66" stroke-width="0.5" transform="rotate(-12 445.40 80.00)"/><circle cx="460.8" cy="89.6" r="2.3" fill="#231f20" /><circle cx="460.2" cy="89" r="0.6" fill="#fff" /><circle cx="464.5" cy="95.5" r="0.9" fill="#555" /><g transform="translate(468.50,63.00) rotate(28) scale(1.0)"></g><path d="M444.00 52.00 C452.00 51.00 458.00 58.00 458.00 70.00 " fill="none" stroke="#231f20" stroke-width="3.2" stroke-linecap="round"/><path d="M444.00 52.00 C452.00 51.00 458.00 58.00 458.00 70.00 " fill="none" stroke="#b8b8b8" stroke-width="2.0" stroke-linecap="round"/><g transform="translate(468.50,63.00) rotate(28) scale(1.0)"><rect x="-2.6" y="-25" width="5.2" height="5" fill="#b8822e" stroke="#231f20" stroke-width="0.5"/><rect x="-3.8" y="-20.5" width="7.6" height="13" rx="1.5" fill="#3f6b46" stroke="#231f20" stroke-width="0.6"/><circle cx="-1" cy="-15" r="0.4" fill="#9c9"/><circle cx="1.5" cy="-11" r="0.4" fill="#9c9"/><rect x="-5.5" y="-8.5" width="11" height="3" fill="#111"/><path d="M-9 -5.5 L9 -5.5 L5.5 15 L-5.5 15 Z" fill="#6e6e6e" stroke="#231f20" stroke-width="0.8"/><path d="M-5 -5.5 L3.5 -5.5 L1.8 15 L-3 15 Z" fill="#a0a0a0"/><path d="M-9 -5.5 L9 -5.5 L8.5 -2.8 L-8.5 -2.8 Z" fill="#555"/><rect x="-5.5" y="15" width="11" height="6.5" fill="#4a4a4a" stroke="#231f20" stroke-width="0.7"/><rect x="-9.5" y="6" width="3.6" height="9" fill="#cfe3ee" stroke="#231f20" stroke-width="0.6"/><rect x="-9" y="15" width="3.4" height="5.5" fill="#e8e8e8" stroke="#231f20" stroke-width="0.6"/></g><path d="M496.90 95.80 L495.90 104.40 A11.50 2.80 0 0 0 518.90 104.40 L517.90 95.80 Z" fill="#d4d4d4" stroke="#231f20" stroke-width="0.9" /><rect x="504.8" y="96.8" width="5.2" height="8.1" fill="#e9e9e9" /><ellipse cx="507.40" cy="95.80" rx="10.50" ry="2.40" fill="#22a7dd" stroke="#231f20" stroke-width="0.9"/><path d="M481.80 102.20 L480.80 111.80 A10.50 2.80 0 0 0 501.80 111.80 L500.80 102.20 Z" fill="#d4d4d4" stroke="#231f20" stroke-width="0.9" /><rect x="488.9" y="103.2" width="4.8" height="9.1" fill="#e9e9e9" /><ellipse cx="491.30" cy="102.20" rx="9.50" ry="2.40" fill="#9a5ff0" stroke="#231f20" stroke-width="0.9"/><line x1="522.3" y1="98" x2="547.3" y2="98" stroke="#231f20" stroke-width="1" /><line x1="507" y1="110.4" x2="541.8" y2="110.4" stroke="#231f20" stroke-width="1" /><text x="550.00" y="100.40" style="font-size:11.71px;" fill="#231f20" >Water</text><text x="545.00" y="113.60" style="font-size:11.55px;" fill="#231f20" >Novel flavour</text><line x1="501.3" y1="129" x2="501.3" y2="150" stroke="#231f20" stroke-width="1.1" /><path d="M501.3 153 l-2.6 -5.5 h5.2Z" fill="#231f20" stroke="none" stroke-width="1" /><text x="507.40" y="143.60" style="font-size:11.67px;" fill="#231f20" >30-min delay</text><text x="382.30" y="173.30" style="font-size:11.76px;" fill="#231f20" >Second context</text><line x1="423" y1="176.7" x2="423" y2="188.7" stroke="#231f20" stroke-width="1" /><path d="M388.3 192.4 L504.3 192.4 L476.3 248.7 L360.1 248.7 Z" fill="#fff" stroke="#231f20" stroke-width="1.3" /><path d="M404.30 233.00 C395.30 235.00 380.30 230.00 372.30 233.00 C366.30 236.00 368.30 242.00 376.30 244.00 C382.30 245.00 386.30 247.00 388.30 249.00 " fill="none" stroke="#231f20" stroke-width="3.0" stroke-linecap="round"/><path d="M404.30 233.00 C395.30 235.00 380.30 230.00 372.30 233.00 C366.30 236.00 368.30 242.00 376.30 244.00 C382.30 245.00 386.30 247.00 388.30 249.00 " fill="none" stroke="#f2b6ad" stroke-width="1.8" stroke-linecap="round"/><path d="M403.20 234.40 C402.30 225.00 406.30 213.00 414.30 207.00 C422.30 201.00 438.30 198.00 452.30 205.70 L473.60 213.20 C477.30 217.00 481.30 221.00 484.90 225.70 C482.30 228.00 477.30 228.50 472.30 228.50 C466.30 229.00 459.30 231.00 457.30 234.50 C459.30 238.00 462.30 239.50 466.30 240.70 C462.30 242.00 457.30 241.50 454.30 240.00 C450.30 239.00 445.30 238.50 440.30 236.00 C437.30 238.00 435.30 239.50 432.80 239.50 C428.30 240.00 423.30 239.50 420.30 238.50 C413.30 237.50 407.30 236.50 403.20 234.40 Z " fill="#f1f1f1" stroke="#231f20" stroke-width="0.8" /><path d="M429.30 226.00 C427.30 230.00 426.30 234.00 424.30 238.00 " fill="none" stroke="#231f20" stroke-width="0.5" /><path d="M455.30 220.00 C456.30 224.00 458.30 226.00 461.30 228.00 " fill="none" stroke="#231f20" stroke-width="0.5" stroke-dasharray="1 0.8"/><ellipse cx="430.30" cy="239.50" rx="3.20" ry="1.30" fill="#f0b0a8" stroke="#231f20" stroke-width="0.6"/><ellipse cx="462.30" cy="240.50" rx="3.20" ry="1.30" fill="#f0b0a8" stroke="#231f20" stroke-width="0.6"/><ellipse cx="455.70" cy="209.00" rx="3.30" ry="6.30" fill="#f5b7b1" stroke="#8a6a66" stroke-width="0.5" transform="rotate(-12 455.70 209.00)"/><circle cx="471.1" cy="218.6" r="2.3" fill="#231f20" /><circle cx="470.5" cy="218" r="0.6" fill="#fff" /><circle cx="474.8" cy="224.5" r="0.9" fill="#555" /><g transform="translate(478.80,192.00) rotate(28) scale(1.0)"></g><path d="M454.30 181.00 C462.30 180.00 468.30 187.00 468.30 199.00 L466.30 208.00 " fill="none" stroke="#1e6e35" stroke-width="3.0" stroke-linecap="round"/><path d="M454.30 181.00 C462.30 180.00 468.30 187.00 468.30 199.00 L466.30 208.00 " fill="none" stroke="#2ea34e" stroke-width="1.8" stroke-linecap="round"/><g transform="translate(478.80,192.00) rotate(28) scale(1.0)"><rect x="-2.6" y="-25" width="5.2" height="5" fill="#b8822e" stroke="#231f20" stroke-width="0.5"/><rect x="-3.8" y="-20.5" width="7.6" height="13" rx="1.5" fill="#3f6b46" stroke="#231f20" stroke-width="0.6"/><circle cx="-1" cy="-15" r="0.4" fill="#9c9"/><circle cx="1.5" cy="-11" r="0.4" fill="#9c9"/><rect x="-5.5" y="-8.5" width="11" height="3" fill="#111"/><path d="M-9 -5.5 L9 -5.5 L5.5 15 L-5.5 15 Z" fill="#6e6e6e" stroke="#231f20" stroke-width="0.8"/><path d="M-5 -5.5 L3.5 -5.5 L1.8 15 L-3 15 Z" fill="#a0a0a0"/><path d="M-9 -5.5 L9 -5.5 L8.5 -2.8 L-8.5 -2.8 Z" fill="#555"/><rect x="-5.5" y="15" width="11" height="6.5" fill="#4a4a4a" stroke="#231f20" stroke-width="0.7"/><rect x="-9.5" y="6" width="3.6" height="9" fill="#cfe3ee" stroke="#231f20" stroke-width="0.6"/><rect x="-9" y="15" width="3.4" height="5.5" fill="#e8e8e8" stroke="#231f20" stroke-width="0.6"/></g><text x="501.90" y="182.00" style="font-size:11.39px;" fill="#231f20" >CGRP stimulation (45 min)</text><text x="523.30" y="203.50" style="font-size:11.07px;" fill="#231f20" >10 Hz</text><text x="583.60" y="203.50" style="font-size:10.64px;" fill="#231f20" >ITI</text><rect x="513.4" y="207.6" width="48.2" height="8.8" fill="#2f9b50" /><rect x="564.3" y="207.6" width="51.7" height="8.8" fill="#b3b3b3" /><rect x="513.4" y="219.2" width="48.2" height="1.9" fill="#231f20" /><rect x="564.3" y="219.2" width="51.7" height="1.9" fill="#231f20" /><text x="530.00" y="232.40" style="font-size:11.46px;" fill="#231f20" >3 s</text><text x="568.70" y="232.40" style="font-size:11.63px;" fill="#231f20" >Variable</text><text x="568.7" y="245.6" style="font-size:11.2px" fill="#231f20">(<tspan style="font-style:italic">μ</tspan> = 3 s)</text><text x="656.30" y="12.90" style="font-size:19.0px;font-weight:bold" fill="#000" stroke="#000" stroke-width="0.6">c</text><text x="678.60" y="25.30" style="font-size:11.53px;" fill="#231f20" >Neuropixels</text><text x="691.00" y="38.60" style="font-size:11.36px;" fill="#231f20" >shanks</text><text x="770.00" y="17.60" style="font-size:11.64px;" fill="#231f20" >Optical</text><text x="776.50" y="30.90" style="font-size:11.67px;" fill="#231f20" >fibre</text><text x="816.80" y="46.10" style="font-size:11.14px;" fill="#231f20" >CGRP</text><text x="811.60" y="59.70" style="font-size:11.59px;" fill="#231f20" >neurons</text><text x="789.80" y="137.00" style="font-size:11.07px;" fill="#231f20" >CEA</text><path d="M688 100 C685 86, 694 74, 712 66 C730 56, 752 46, 772 47 C788 48, 800 50, 805 60 C812 66, 814 80, 813 92 C812 104, 806 112, 793 115 C784 124, 770 128, 755 126 C740 124, 728 118, 712 114 C698 112, 690 108, 688 100Z" fill="#ececec" stroke="#dcdcdc" stroke-width="0.8" /><path d="M688 96 C686 86, 692 80, 700 80 C706 82, 706 98, 700 106 C694 106, 689 102, 688 96Z" fill="#dedede" stroke="none" stroke-width="1" /><path d="M700 80 C712 66, 735 54, 760 50 C775 48, 788 52, 790 60 C770 58, 740 66, 722 78 C712 86, 706 96, 705 104 C702 98, 698 88, 700 80Z" fill="#e2e2e2" stroke="none" stroke-width="1" /><path d="M760 70 C770 55, 795 52, 806 62 C812 72, 812 90, 806 104 C798 112, 782 112, 770 104 C760 96, 756 82, 760 70Z" fill="#e4e4e4" stroke="#d6d6d6" stroke-width="0.6" /><path d="M700 106 C712 112, 730 118, 755 119 C770 119, 790 114, 806 108 L806 112 C790 118, 770 124, 755 124 C735 124, 715 118, 700 110Z" fill="#dadada" stroke="none" stroke-width="1" /><path d="M712 70 C730 58, 750 52, 770 52" fill="none" stroke="#d2d2d2" stroke-width="1.2" /><path d="M762 63 L772 58 L778 64 L766 70Z" fill="#d8d8d8" stroke="none" stroke-width="1" /><path d="M755.1 73.3 L754.8 117.4" fill="none" stroke="#333" stroke-width="0.35" stroke-opacity="0.75"/><path d="M759.4 70.4 L758.2 119.5" fill="none" stroke="#333" stroke-width="0.35" stroke-opacity="0.75"/><path d="M755.4 71.4 L756.5 116.2" fill="none" stroke="#333" stroke-width="0.35" stroke-opacity="0.75"/><path d="M761.7 72.9 L762.0 113.4" fill="none" stroke="#333" stroke-width="0.35" stroke-opacity="0.75"/><path d="M759.5 75.2 L759.5 118.7" fill="none" stroke="#333" stroke-width="0.35" stroke-opacity="0.75"/><path d="M759.9 70.4 L760.5 117.3" fill="none" stroke="#333" stroke-width="0.35" stroke-opacity="0.75"/><path d="M755.8 70.2 L756.7 116.3" fill="none" stroke="#333" stroke-width="0.35" stroke-opacity="0.75"/><path d="M760.4 75.3 L760.9 120.3" fill="none" stroke="#333" stroke-width="0.35" stroke-opacity="0.75"/><path d="M756.8 74.8 L756.7 120.4" fill="none" stroke="#333" stroke-width="0.35" stroke-opacity="0.75"/><path d="M762.2 70.6 L761.3 114.0" fill="none" stroke="#333" stroke-width="0.35" stroke-opacity="0.75"/><path d="M763.1 72.6 L763.4 114.7" fill="none" stroke="#333" stroke-width="0.35" stroke-opacity="0.75"/><path d="M758.1 72.3 L757.7 117.3" fill="none" stroke="#333" stroke-width="0.35" stroke-opacity="0.75"/><path d="M758.9 75.4 L759.4 120.4" fill="none" stroke="#333" stroke-width="0.35" stroke-opacity="0.75"/><path d="M761.9 75.9 L762.3 113.5" fill="none" stroke="#333" stroke-width="0.35" stroke-opacity="0.75"/><path d="M762.0 75.8 L762.9 117.1" fill="none" stroke="#333" stroke-width="0.35" stroke-opacity="0.75"/><path d="M760.4 71.3 L761.1 117.2" fill="none" stroke="#333" stroke-width="0.35" stroke-opacity="0.75"/><path d="M755.6 70.4 L756.5 120.9" fill="none" stroke="#333" stroke-width="0.35" stroke-opacity="0.75"/><path d="M753.5 74.8 L753.3 113.4" fill="none" stroke="#333" stroke-width="0.35" stroke-opacity="0.75"/><path d="M755.7 74.6 L756.6 112.4" fill="none" stroke="#333" stroke-width="0.35" stroke-opacity="0.75"/><path d="M759.3 70.3 L759.8 115.0" fill="none" stroke="#333" stroke-width="0.35" stroke-opacity="0.75"/><path d="M762.2 75.9 L762.2 121.0" fill="none" stroke="#333" stroke-width="0.35" stroke-opacity="0.75"/><path d="M755.9 70.5 L756.1 112.3" fill="none" stroke="#333" stroke-width="0.35" stroke-opacity="0.75"/><ellipse cx="757.50" cy="109.40" rx="9.00" ry="3.60" fill="#e8a888" transform="rotate(-12 757.5 109.4)"/><ellipse cx="760.00" cy="109.00" rx="6.00" ry="3.50" fill="#c84868" fill-opacity="0.85" transform="rotate(-12 760 109)"/><ellipse cx="759.00" cy="109.50" rx="3.50" ry="3.00" fill="#5a1020" fill-opacity="0.8"/><path d="M790 88 C782 90, 774 92, 769 100" fill="none" stroke="#8a8583" stroke-width="1.4" /><circle cx="767.5" cy="101.5" r="1.8" fill="#8a8583" /><path d="M784 82 L791 81 L793 90 L792 98 L786 97 L782.7 90Z" fill="#8a8583" stroke="none" stroke-width="1" /><line x1="796.7" y1="51.7" x2="787.3" y2="86" stroke="#3cb44b" stroke-width="2.6" /><line x1="710.9" y1="44.1" x2="748.3" y2="81.4" stroke="#231f20" stroke-width="1" /><line x1="787.9" y1="35.5" x2="787.9" y2="66.8" stroke="#231f20" stroke-width="1" /><line x1="823.8" y1="65.6" x2="793.2" y2="89" stroke="#231f20" stroke-width="1" /><line x1="765.8" y1="110.6" x2="788" y2="127.6" stroke="#231f20" stroke-width="1" /><path d="M745.3 113.5 C725 120, 708 140, 710 172" fill="none" stroke="#231f20" stroke-width="1.1" /><path d="M710.2 179.5 l-2.8 -7 h5.6Z" fill="#231f20" stroke="none" stroke-width="1" /><path d="M683.5 216.5 C683 206, 688 200, 700 196 C710 190, 715 184, 725 180 C740 174, 752 168, 764 166.3 C775 166, 785 166, 790 172 C796 180, 797 192, 795 200 C792 208, 788 212, 785 214 C770 222, 755 232, 738 239.8 C725 242, 712 236, 705.7 230.5 C695 226, 684 224, 683.5 216.5Z" fill="#ebb794" stroke="none" stroke-width="1" /><path d="M715 200 C716 190, 725 184, 740 178 C755 172, 775 168, 790 170 C800 174, 802 184, 796 194 C786 204, 770 210, 750 216 C738 220, 726 222, 718 216 C713 210, 714 204, 715 200Z" fill="#de7f78" stroke="none" stroke-width="1" fill-opacity="0.85"/><path d="M708 242 C702 236, 706 226, 718 220 C735 210, 760 196, 780 186 C792 180, 802 178, 805 184 C808 192, 800 198, 790 204 C770 214, 750 226, 730 236 C720 242, 712 244, 708 242Z" fill="#e2789c" stroke="none" stroke-width="1" fill-opacity="0.8"/><path d="M741.4 173.5 L741.6 210.7" fill="none" stroke="#1a1a1a" stroke-width="0.75" /><path d="M744.1 169.2 L743.8 205.3" fill="none" stroke="#1a1a1a" stroke-width="0.75" /><path d="M724.6 166.7 L722.7 226.5" fill="none" stroke="#1a1a1a" stroke-width="0.75" /><path d="M734.7 201.7 L734.2 248.0" fill="none" stroke="#1a1a1a" stroke-width="0.75" /><path d="M784.4 179.8 L782.7 223.4" fill="none" stroke="#1a1a1a" stroke-width="0.75" /><path d="M727.8 178.5 L728.2 218.9" fill="none" stroke="#1a1a1a" stroke-width="0.75" /><path d="M762.2 191.7 L760.0 228.6" fill="none" stroke="#1a1a1a" stroke-width="0.75" /><path d="M733.6 188.7 L734.0 233.1" fill="none" stroke="#1a1a1a" stroke-width="0.75" /><path d="M749.9 177.8 L748.6 233.8" fill="none" stroke="#1a1a1a" stroke-width="0.75" /><path d="M757.9 199.9 L756.9 248.0" fill="none" stroke="#1a1a1a" stroke-width="0.75" /><path d="M784.7 166.5 L783.0 224.3" fill="none" stroke="#1a1a1a" stroke-width="0.75" /><path d="M752.3 174.0 L752.6 232.0" fill="none" stroke="#1a1a1a" stroke-width="0.75" /><path d="M777.8 174.9 L778.2 227.7" fill="none" stroke="#1a1a1a" stroke-width="0.75" /><path d="M750.1 201.6 L750.9 248.0" fill="none" stroke="#1a1a1a" stroke-width="0.75" /><path d="M724.0 194.2 L725.6 248.0" fill="none" stroke="#1a1a1a" stroke-width="0.75" /><path d="M738.8 194.7 L738.6 230.4" fill="none" stroke="#1a1a1a" stroke-width="0.75" /><path d="M731.1 155.8 L729.2 213.8" fill="none" stroke="#1a1a1a" stroke-width="0.75" /><path d="M736.3 199.8 L736.1 237.2" fill="none" stroke="#1a1a1a" stroke-width="0.75" /><path d="M756.3 198.5 L755.2 248.0" fill="none" stroke="#1a1a1a" stroke-width="0.75" /><path d="M747.4 200.1 L745.7 248.0" fill="none" stroke="#1a1a1a" stroke-width="0.75" /><path d="M731.6 161.0 L732.1 210.5" fill="none" stroke="#1a1a1a" stroke-width="0.75" /><path d="M737.3 166.6 L737.7 212.6" fill="none" stroke="#1a1a1a" stroke-width="0.75" /><path d="M782.9 190.9 L783.8 244.4" fill="none" stroke="#1a1a1a" stroke-width="0.75" /><path d="M723.6 197.5 L725.1 248.0" fill="none" stroke="#1a1a1a" stroke-width="0.75" /><path d="M745.9 180.6 L743.7 234.6" fill="none" stroke="#1a1a1a" stroke-width="0.75" /><path d="M724.4 158.9 L722.2 204.1" fill="none" stroke="#1a1a1a" stroke-width="0.75" /><path d="M720.0 157.0 L717.6 203.0" fill="none" stroke="#1a1a1a" stroke-width="0.75" /><path d="M777.7 181.7 L776.9 224.3" fill="none" stroke="#1a1a1a" stroke-width="0.75" /><path d="M744.0 179.5 L743.9 244.3" fill="none" stroke="#1a1a1a" stroke-width="0.75" /><path d="M751.9 157.1 L750.8 202.3" fill="none" stroke="#1a1a1a" stroke-width="0.75" /><path d="M774.7 154.7 L774.8 218.2" fill="none" stroke="#1a1a1a" stroke-width="0.75" /><path d="M729.7 178.7 L732.1 229.5" fill="none" stroke="#1a1a1a" stroke-width="0.75" /><path d="M777.0 184.5 L775.3 230.5" fill="none" stroke="#1a1a1a" stroke-width="0.75" /><path d="M770.9 197.5 L769.6 242.4" fill="none" stroke="#1a1a1a" stroke-width="0.75" /><circle cx="795" cy="226.6" r="3" fill="#cc5a14" /><circle cx="795" cy="240.5" r="3" fill="#c8000a" /><circle cx="795" cy="254.5" r="3" fill="#cc1466" /><text x="805.00" y="229.80" style="font-size:10.19px;" fill="#231f20" >Medial</text><text x="805.00" y="243.80" style="font-size:10.13px;" fill="#231f20" >Lateral</text><text x="805.00" y="257.80" style="font-size:10.25px;" fill="#231f20" >Capsular</text><text x="876.30" y="13.20" style="font-size:19.0px;font-weight:bold" fill="#000" stroke="#000" stroke-width="0.6">d</text><text x="904.40" y="21.50" style="font-size:11.55px;" fill="#231f20" >Novel flavour</text><text x="1007.00" y="21.50" style="font-size:11.41px;" fill="#231f20" >Water</text><path d="M932.7 24.5 h5 l-2.5 5.5Z" fill="#231f20" stroke="none" stroke-width="1" /><path d="M1019.8 24.5 h5 l-2.5 5.5Z" fill="#231f20" stroke="none" stroke-width="1" /><rect x="907.7" y="31.20" width="82.5" height="2.55" fill="url(#h1)"/><rect x="907.7" y="33.70" width="82.5" height="2.55" fill="url(#h2)"/><rect x="907.7" y="36.20" width="82.5" height="2.55" fill="url(#h3)"/><rect x="907.7" y="38.70" width="82.5" height="2.55" fill="url(#h4)"/><rect x="907.7" y="41.20" width="82.5" height="2.55" fill="url(#h5)"/><rect x="907.7" y="43.70" width="82.5" height="2.55" fill="url(#h6)"/><rect x="907.7" y="46.20" width="82.5" height="2.55" fill="url(#h7)"/><rect x="907.7" y="48.70" width="82.5" height="2.55" fill="url(#h8)"/><rect x="907.7" y="51.20" width="82.5" height="2.55" fill="url(#h9)"/><rect x="907.7" y="53.70" width="82.5" height="2.55" fill="url(#h10)"/><rect x="907.7" y="56.20" width="82.5" height="2.55" fill="url(#h11)"/><rect x="907.7" y="58.70" width="82.5" height="2.55" fill="url(#h12)"/><rect x="907.7" y="61.20" width="82.5" height="2.55" fill="url(#h13)"/><rect x="907.7" y="63.70" width="82.5" height="2.55" fill="url(#h14)"/><rect x="907.7" y="66.20" width="82.5" height="2.55" fill="url(#h15)"/><rect x="907.7" y="68.70" width="82.5" height="2.55" fill="url(#h16)"/><rect x="907.7" y="71.20" width="82.5" height="2.55" fill="url(#h17)"/><rect x="907.7" y="73.70" width="82.5" height="2.55" fill="url(#h18)"/><rect x="907.7" y="76.20" width="82.5" height="2.55" fill="url(#h19)"/><rect x="907.7" y="78.70" width="82.5" height="2.55" fill="url(#h20)"/><rect x="907.7" y="81.20" width="82.5" height="2.55" fill="url(#h21)"/><rect x="907.7" y="83.70" width="82.5" height="2.55" fill="url(#h22)"/><rect x="907.7" y="86.20" width="82.5" height="2.55" fill="url(#h23)"/><rect x="907.7" y="88.70" width="82.5" height="2.55" fill="url(#h24)"/><rect x="907.7" y="91.20" width="82.5" height="2.55" fill="url(#h25)"/><rect x="907.7" y="93.70" width="82.5" height="2.55" fill="url(#h26)"/><rect x="907.7" y="96.20" width="82.5" height="2.55" fill="url(#h27)"/><rect x="907.7" y="101.00" width="82.5" height="2.48" fill="url(#h28)"/><rect x="907.7" y="103.43" width="82.5" height="2.48" fill="url(#h29)"/><rect x="907.7" y="105.87" width="82.5" height="2.48" fill="url(#h30)"/><rect x="907.7" y="108.30" width="82.5" height="2.48" fill="url(#h31)"/><rect x="907.7" y="110.73" width="82.5" height="2.48" fill="url(#h32)"/><rect x="907.7" y="113.17" width="82.5" height="2.48" fill="url(#h33)"/><rect x="907.7" y="115.60" width="82.5" height="2.48" fill="url(#h34)"/><rect x="907.7" y="118.03" width="82.5" height="2.48" fill="url(#h35)"/><rect x="907.7" y="120.47" width="82.5" height="2.48" fill="url(#h36)"/><rect x="907.7" y="126.20" width="82.5" height="2.54" fill="url(#h37)"/><rect x="907.7" y="128.69" width="82.5" height="2.54" fill="url(#h38)"/><rect x="907.7" y="131.17" width="82.5" height="2.54" fill="url(#h39)"/><rect x="907.7" y="133.66" width="82.5" height="2.54" fill="url(#h40)"/><rect x="907.7" y="136.15" width="82.5" height="2.54" fill="url(#h41)"/><rect x="907.7" y="138.63" width="82.5" height="2.54" fill="url(#h42)"/><rect x="907.7" y="141.12" width="82.5" height="2.54" fill="url(#h43)"/><rect x="907.7" y="143.60" width="82.5" height="2.54" fill="url(#h44)"/><rect x="907.7" y="146.09" width="82.5" height="2.54" fill="url(#h45)"/><rect x="907.7" y="148.58" width="82.5" height="2.54" fill="url(#h46)"/><rect x="907.7" y="151.06" width="82.5" height="2.54" fill="url(#h47)"/><rect x="907.7" y="153.55" width="82.5" height="2.54" fill="url(#h48)"/><rect x="907.7" y="156.04" width="82.5" height="2.54" fill="url(#h49)"/><rect x="907.7" y="158.52" width="82.5" height="2.54" fill="url(#h50)"/><rect x="907.7" y="161.01" width="82.5" height="2.54" fill="url(#h51)"/><rect x="907.7" y="163.50" width="82.5" height="2.54" fill="url(#h52)"/><rect x="907.7" y="165.98" width="82.5" height="2.54" fill="url(#h53)"/><rect x="907.7" y="168.47" width="82.5" height="2.54" fill="url(#h54)"/><rect x="907.7" y="170.95" width="82.5" height="2.54" fill="url(#h55)"/><rect x="907.7" y="173.44" width="82.5" height="2.54" fill="url(#h56)"/><rect x="907.7" y="175.93" width="82.5" height="2.54" fill="url(#h57)"/><rect x="907.7" y="178.41" width="82.5" height="2.54" fill="url(#h58)"/><rect x="907.7" y="180.90" width="82.5" height="2.54" fill="url(#h59)"/><rect x="907.7" y="183.39" width="82.5" height="2.54" fill="url(#h60)"/><rect x="907.7" y="185.87" width="82.5" height="2.54" fill="url(#h61)"/><rect x="907.7" y="188.36" width="82.5" height="2.54" fill="url(#h62)"/><rect x="907.7" y="190.85" width="82.5" height="2.54" fill="url(#h63)"/><rect x="907.7" y="193.33" width="82.5" height="2.54" fill="url(#h64)"/><rect x="907.7" y="195.82" width="82.5" height="2.54" fill="url(#h65)"/><rect x="907.7" y="198.30" width="82.5" height="2.54" fill="url(#h66)"/><rect x="907.7" y="200.79" width="82.5" height="2.54" fill="url(#h67)"/><rect x="907.7" y="203.28" width="82.5" height="2.54" fill="url(#h68)"/><rect x="907.7" y="205.76" width="82.5" height="2.54" fill="url(#h69)"/><rect x="907.7" y="208.25" width="82.5" height="2.54" fill="url(#h70)"/><rect x="907.7" y="210.74" width="82.5" height="2.54" fill="url(#h71)"/><rect x="907.7" y="213.22" width="82.5" height="2.54" fill="url(#h72)"/><rect x="907.7" y="215.71" width="82.5" height="2.54" fill="url(#h73)"/><rect x="907.7" y="218.20" width="82.5" height="2.54" fill="url(#h74)"/><rect x="907.7" y="220.68" width="82.5" height="2.54" fill="url(#h75)"/><rect x="907.7" y="223.17" width="82.5" height="2.54" fill="url(#h76)"/><rect x="907.7" y="225.65" width="82.5" height="2.54" fill="url(#h77)"/><rect x="907.7" y="228.14" width="82.5" height="2.54" fill="url(#h78)"/><rect x="907.7" y="230.63" width="82.5" height="2.54" fill="url(#h79)"/><rect x="907.7" y="233.11" width="82.5" height="2.54" fill="url(#h80)"/><rect x="994.8" y="31.20" width="82.8" height="2.55" fill="url(#h81)"/><rect x="994.8" y="33.70" width="82.8" height="2.55" fill="url(#h82)"/><rect x="994.8" y="36.20" width="82.8" height="2.55" fill="url(#h83)"/><rect x="994.8" y="38.70" width="82.8" height="2.55" fill="url(#h84)"/><rect x="994.8" y="41.20" width="82.8" height="2.55" fill="url(#h85)"/><rect x="994.8" y="43.70" width="82.8" height="2.55" fill="url(#h86)"/><rect x="994.8" y="46.20" width="82.8" height="2.55" fill="url(#h87)"/><rect x="994.8" y="48.70" width="82.8" height="2.55" fill="url(#h88)"/><rect x="994.8" y="51.20" width="82.8" height="2.55" fill="url(#h89)"/><rect x="994.8" y="53.70" width="82.8" height="2.55" fill="url(#h90)"/><rect x="994.8" y="56.20" width="82.8" height="2.55" fill="url(#h91)"/><rect x="994.8" y="58.70" width="82.8" height="2.55" fill="url(#h92)"/><rect x="994.8" y="61.20" width="82.8" height="2.55" fill="url(#h93)"/><rect x="994.8" y="63.70" width="82.8" height="2.55" fill="url(#h94)"/><rect x="994.8" y="66.20" width="82.8" height="2.55" fill="url(#h95)"/><rect x="994.8" y="68.70" width="82.8" height="2.55" fill="url(#h96)"/><rect x="994.8" y="71.20" width="82.8" height="2.55" fill="url(#h97)"/><rect x="994.8" y="73.70" width="82.8" height="2.55" fill="url(#h98)"/><rect x="994.8" y="76.20" width="82.8" height="2.55" fill="url(#h99)"/><rect x="994.8" y="78.70" width="82.8" height="2.55" fill="url(#h100)"/><rect x="994.8" y="81.20" width="82.8" height="2.55" fill="url(#h101)"/><rect x="994.8" y="83.70" width="82.8" height="2.55" fill="url(#h102)"/><rect x="994.8" y="86.20" width="82.8" height="2.55" fill="url(#h103)"/><rect x="994.8" y="88.70" width="82.8" height="2.55" fill="url(#h104)"/><rect x="994.8" y="91.20" width="82.8" height="2.55" fill="url(#h105)"/><rect x="994.8" y="93.70" width="82.8" height="2.55" fill="url(#h106)"/><rect x="994.8" y="96.20" width="82.8" height="2.55" fill="url(#h107)"/><rect x="994.8" y="101.00" width="82.8" height="2.48" fill="url(#h108)"/><rect x="994.8" y="103.43" width="82.8" height="2.48" fill="url(#h109)"/><rect x="994.8" y="105.87" width="82.8" height="2.48" fill="url(#h110)"/><rect x="994.8" y="108.30" width="82.8" height="2.48" fill="url(#h111)"/><rect x="994.8" y="110.73" width="82.8" height="2.48" fill="url(#h112)"/><rect x="994.8" y="113.17" width="82.8" height="2.48" fill="url(#h113)"/><rect x="994.8" y="115.60" width="82.8" height="2.48" fill="url(#h114)"/><rect x="994.8" y="118.03" width="82.8" height="2.48" fill="url(#h115)"/><rect x="994.8" y="120.47" width="82.8" height="2.48" fill="url(#h116)"/><rect x="994.8" y="126.20" width="82.8" height="2.54" fill="url(#h117)"/><rect x="994.8" y="128.69" width="82.8" height="2.54" fill="url(#h118)"/><rect x="994.8" y="131.17" width="82.8" height="2.54" fill="url(#h119)"/><rect x="994.8" y="133.66" width="82.8" height="2.54" fill="url(#h120)"/><rect x="994.8" y="136.15" width="82.8" height="2.54" fill="url(#h121)"/><rect x="994.8" y="138.63" width="82.8" height="2.54" fill="url(#h122)"/><rect x="994.8" y="141.12" width="82.8" height="2.54" fill="url(#h123)"/><rect x="994.8" y="143.60" width="82.8" height="2.54" fill="url(#h124)"/><rect x="994.8" y="146.09" width="82.8" height="2.54" fill="url(#h125)"/><rect x="994.8" y="148.58" width="82.8" height="2.54" fill="url(#h126)"/><rect x="994.8" y="151.06" width="82.8" height="2.54" fill="url(#h127)"/><rect x="994.8" y="153.55" width="82.8" height="2.54" fill="url(#h128)"/><rect x="994.8" y="156.04" width="82.8" height="2.54" fill="url(#h129)"/><rect x="994.8" y="158.52" width="82.8" height="2.54" fill="url(#h130)"/><rect x="994.8" y="161.01" width="82.8" height="2.54" fill="url(#h131)"/><rect x="994.8" y="163.50" width="82.8" height="2.54" fill="url(#h132)"/><rect x="994.8" y="165.98" width="82.8" height="2.54" fill="url(#h133)"/><rect x="994.8" y="168.47" width="82.8" height="2.54" fill="url(#h134)"/><rect x="994.8" y="170.95" width="82.8" height="2.54" fill="url(#h135)"/><rect x="994.8" y="173.44" width="82.8" height="2.54" fill="url(#h136)"/><rect x="994.8" y="175.93" width="82.8" height="2.54" fill="url(#h137)"/><rect x="994.8" y="178.41" width="82.8" height="2.54" fill="url(#h138)"/><rect x="994.8" y="180.90" width="82.8" height="2.54" fill="url(#h139)"/><rect x="994.8" y="183.39" width="82.8" height="2.54" fill="url(#h140)"/><rect x="994.8" y="185.87" width="82.8" height="2.54" fill="url(#h141)"/><rect x="994.8" y="188.36" width="82.8" height="2.54" fill="url(#h142)"/><rect x="994.8" y="190.85" width="82.8" height="2.54" fill="url(#h143)"/><rect x="994.8" y="193.33" width="82.8" height="2.54" fill="url(#h144)"/><rect x="994.8" y="195.82" width="82.8" height="2.54" fill="url(#h145)"/><rect x="994.8" y="198.30" width="82.8" height="2.54" fill="url(#h146)"/><rect x="994.8" y="200.79" width="82.8" height="2.54" fill="url(#h147)"/><rect x="994.8" y="203.28" width="82.8" height="2.54" fill="url(#h148)"/><rect x="994.8" y="205.76" width="82.8" height="2.54" fill="url(#h149)"/><rect x="994.8" y="208.25" width="82.8" height="2.54" fill="url(#h150)"/><rect x="994.8" y="210.74" width="82.8" height="2.54" fill="url(#h151)"/><rect x="994.8" y="213.22" width="82.8" height="2.54" fill="url(#h152)"/><rect x="994.8" y="215.71" width="82.8" height="2.54" fill="url(#h153)"/><rect x="994.8" y="218.20" width="82.8" height="2.54" fill="url(#h154)"/><rect x="994.8" y="220.68" width="82.8" height="2.54" fill="url(#h155)"/><rect x="994.8" y="223.17" width="82.8" height="2.54" fill="url(#h156)"/><rect x="994.8" y="225.65" width="82.8" height="2.54" fill="url(#h157)"/><rect x="994.8" y="228.14" width="82.8" height="2.54" fill="url(#h158)"/><rect x="994.8" y="230.63" width="82.8" height="2.54" fill="url(#h159)"/><rect x="994.8" y="233.11" width="82.8" height="2.54" fill="url(#h160)"/><rect x="907.7" y="31.2" width="82.5" height="67.5" fill="#000" filter="url(#spR)" opacity="0.33"/><rect x="907.7" y="31.2" width="82.5" height="67.5" fill="#000" filter="url(#spB)" opacity="0.15"/><rect x="907.7" y="101" width="82.5" height="21.9" fill="#000" filter="url(#spR)" opacity="0.33"/><rect x="907.7" y="101" width="82.5" height="21.9" fill="#000" filter="url(#spB)" opacity="0.15"/><rect x="907.7" y="126.2" width="82.5" height="109.4" fill="#000" filter="url(#spR)" opacity="0.33"/><rect x="907.7" y="126.2" width="82.5" height="109.4" fill="#000" filter="url(#spB)" opacity="0.15"/><rect x="994.8" y="31.2" width="82.8" height="67.5" fill="#000" filter="url(#spR)" opacity="0.33"/><rect x="994.8" y="31.2" width="82.8" height="67.5" fill="#000" filter="url(#spB)" opacity="0.15"/><rect x="994.8" y="101" width="82.8" height="21.9" fill="#000" filter="url(#spR)" opacity="0.33"/><rect x="994.8" y="101" width="82.8" height="21.9" fill="#000" filter="url(#spB)" opacity="0.15"/><rect x="994.8" y="126.2" width="82.8" height="109.4" fill="#000" filter="url(#spR)" opacity="0.33"/><rect x="994.8" y="126.2" width="82.8" height="109.4" fill="#000" filter="url(#spB)" opacity="0.15"/><rect x="1117" y="31.2" width="33" height="67.5" fill="#f5f4f4" /><rect x="1150" y="31.2" width="50" height="67.5" fill="#f6ebe8" /><rect x="1150" y="34.4" width="50" height="1" fill="#f2b39a" /><rect x="1150" y="43.4" width="50" height="1" fill="#eda58d" /><rect x="1150" y="46.4" width="50" height="1.2" fill="#c6ddee" /><rect x="1150" y="50" width="50" height="1" fill="#f5d0c0" /><rect x="1150" y="57.2" width="50" height="1" fill="#eda58d" /><rect x="1117" y="58.2" width="12.6" height="1" fill="#e99780" /><rect x="1150" y="60.4" width="50" height="1.2" fill="#da6b58" /><rect x="1150" y="61.6" width="50" height="0.8" fill="#bf3e3e" /><rect x="1150" y="63.4" width="50" height="1.2" fill="#c6ddee" /><rect x="1150" y="67" width="50" height="0.6" fill="#c6ddee" /><rect x="1150" y="67.6" width="50" height="1" fill="#c6ddee" /><rect x="1117" y="67.6" width="19.1" height="1" fill="#e99780" /><rect x="1150" y="70" width="50" height="0.8" fill="#f3b9a2" /><rect x="1150" y="71.6" width="50" height="1.2" fill="#eea78f" /><rect x="1150" y="74.6" width="50" height="1" fill="#e58c76" /><rect x="1150" y="76.6" width="50" height="1.2" fill="#ca4d45" /><rect x="1150" y="78.8" width="50" height="1.2" fill="#9a0f26" /><rect x="1150" y="83" width="50" height="1.2" fill="#e68f79" /><rect x="1150" y="84.2" width="50" height="0.8" fill="#df7a65" /><rect x="1150" y="85" width="50" height="1.2" fill="#f2b39a" /><rect x="1150" y="88.2" width="50" height="1.2" fill="#c6ddee" /><rect x="1150" y="90.4" width="50" height="1.2" fill="#f3b9a2" /><rect x="1117" y="94.4" width="22.3" height="0.8" fill="#f4c0aa" /><rect x="1117" y="101" width="33" height="21.9" fill="#f5f4f4" /><rect x="1150" y="101" width="50" height="21.9" fill="#f6ece9" /><rect x="1150" y="104.6" width="50" height="0.6" fill="#ea9c85" /><rect x="1150" y="105.2" width="50" height="1" fill="#f8e7df" /><rect x="1150" y="107.4" width="50" height="0.6" fill="#f0ad95" /><rect x="1150" y="109.2" width="50" height="0.8" fill="#eea890" /><rect x="1117" y="109.2" width="26.3" height="0.8" fill="#ddeaf4" /><rect x="1150" y="112.4" width="50" height="0.8" fill="#f2b39a" /><rect x="1150" y="115.2" width="50" height="1.2" fill="#f6d2c4" /><rect x="1117" y="115.2" width="29.6" height="1.2" fill="#f4c0aa" /><rect x="1150" y="118.8" width="50" height="0.8" fill="#d96a56" /><rect x="1117" y="126.2" width="33" height="109.4" fill="#f5f4f4" /><rect x="1150" y="126.2" width="50" height="109.4" fill="#f3f2f2" /><rect x="1117" y="126.2" width="6.9" height="1.2" fill="#e99780" /><rect x="1117" y="129.8" width="7.3" height="0.8" fill="#f5ccbb" /><rect x="1150" y="133.6" width="50" height="1.2" fill="#f6d8cc" /><rect x="1150" y="138.6" width="50" height="1.2" fill="#b83339" /><rect x="1117" y="139.8" width="12.4" height="0.8" fill="#e99780" /><rect x="1117" y="144.4" width="6" height="0.6" fill="#f5ccbb" /><rect x="1150" y="145.8" width="50" height="0.8" fill="#f6d8cc" /><rect x="1150" y="153.2" width="50" height="0.6" fill="#f2b69e" /><rect x="1150" y="156.4" width="50" height="1.2" fill="#f5cdbd" /><rect x="1150" y="157.6" width="50" height="1" fill="#f6d8cc" /><rect x="1117" y="158.6" width="18.3" height="1.2" fill="#f4c0aa" /><rect x="1150" y="162" width="50" height="0.8" fill="#9c1027" /><rect x="1150" y="164.6" width="50" height="0.6" fill="#950d24" /><rect x="1150" y="166" width="50" height="1" fill="#b8d5ea" /><rect x="1117" y="166" width="11.8" height="1" fill="#f5ccbb" /><rect x="1150" y="167.6" width="50" height="1.2" fill="#f6d8cc" /><rect x="1117" y="168.8" width="32.7" height="1.2" fill="#f4c0aa" /><rect x="1150" y="172" width="50" height="0.6" fill="#f7dfd4" /><rect x="1150" y="176" width="50" height="1.2" fill="#b8d5ea" /><rect x="1150" y="178.6" width="50" height="0.6" fill="#f6d8cc" /><rect x="1150" y="184.8" width="50" height="0.8" fill="#f0ad94" /><rect x="1150" y="185.6" width="50" height="0.8" fill="#f7ded3" /><rect x="1150" y="187" width="50" height="1.2" fill="#b8d5ea" /><rect x="1117" y="189.2" width="31.1" height="1" fill="#e99780" /><rect x="1150" y="192" width="50" height="1" fill="#b8d5ea" /><rect x="1150" y="193" width="50" height="0.6" fill="#f4c1ac" /><rect x="1117" y="196.4" width="31" height="1.2" fill="#f4c0aa" /><rect x="1117" y="198.6" width="4.1" height="1.2" fill="#ddeaf4" /><rect x="1150" y="204.2" width="50" height="0.6" fill="#b8d5ea" /><rect x="1150" y="206.8" width="50" height="1" fill="#f8e8e1" /><rect x="1150" y="207.8" width="50" height="0.8" fill="#f6d2c3" /><rect x="1117" y="207.8" width="6.2" height="0.8" fill="#e99780" /><rect x="1150" y="209.2" width="50" height="1" fill="#f6d8cc" /><rect x="1117" y="209.2" width="14.7" height="1" fill="#f4c0aa" /><rect x="1150" y="212" width="50" height="0.6" fill="#b8d5ea" /><rect x="1117" y="214.8" width="8.3" height="0.8" fill="#f4c0aa" /><rect x="1150" y="217.6" width="50" height="1" fill="#b32b35" /><rect x="1150" y="225.4" width="50" height="0.8" fill="#f6d8cc" /><rect x="1150" y="226.2" width="50" height="1" fill="#b8d5ea" /><rect x="1117" y="227.2" width="4.6" height="1" fill="#f5ccbb" /><rect x="1150" y="229" width="50" height="0.6" fill="#f4c6b4" /><rect x="1150" y="231.6" width="50" height="0.6" fill="#e7937c" /><rect x="1150" y="233.2" width="50" height="1.2" fill="#f8ebe5" /><rect x="1117" y="31.2" width="83" height="67.5" fill="#000" filter="url(#spR)" opacity="0.3"/><rect x="1117" y="31.2" width="83" height="67.5" fill="#000" filter="url(#spB)" opacity="0.15"/><rect x="1117" y="101" width="83" height="21.9" fill="#000" filter="url(#spR)" opacity="0.3"/><rect x="1117" y="101" width="83" height="21.9" fill="#000" filter="url(#spB)" opacity="0.15"/><rect x="1117" y="126.2" width="83" height="109.4" fill="#000" filter="url(#spR)" opacity="0.3"/><rect x="1117" y="126.2" width="83" height="109.4" fill="#000" filter="url(#spB)" opacity="0.15"/><rect x="1117" y="25.3" width="31" height="1.8" fill="#cfcfcf" /><rect x="1150.5" y="25.3" width="49.5" height="1.8" fill="#2f9b50" /><text x="1119.40" y="21.50" style="font-size:11.12px;" fill="#231f20" >Delay</text><text x="1158.80" y="21.50" style="font-size:11.14px;" fill="#231f20" >CGRP</text><rect x="1098.3" y="43.2" width="7.7" height="47.6" fill="url(#cb1)" /><text x="1090.80" y="37.10" style="font-size:11.75px;" fill="#231f20" >+0.5</text><text x="1090.80" y="104.50" style="font-size:11.44px;" fill="#231f20" >−0.5</text><text transform="translate(1090.6,66.5) rotate(-90)" text-anchor="middle" style="font-size:11.2px" fill="#231f20">Spiking (<tspan style="font-style:italic">σ</tspan>)</text><line x1="1081.8" y1="134" x2="1110" y2="134" stroke="#231f20" stroke-width="1.1" /><path d="M1114 134 l-6 -2.7 v5.4Z" fill="#231f20" stroke="none" stroke-width="1" /><rect x="907.7" y="239.5" width="27.5" height="3.1" fill="#231f20" /><text x="908.20" y="252.50" style="font-size:10.94px;" fill="#231f20" >5 s</text><rect x="1079.6" y="217.9" width="3.4" height="17.7" fill="#231f20" /><text transform="translate(1095.30,234.30) rotate(-90)" style="font-size:11.22px;" fill="#231f20">100 neurons</text><rect x="1117" y="239.5" width="11" height="3.1" fill="#231f20" /><text x="1117.50" y="252.50" style="font-size:11.17px;" fill="#231f20" >10 min</text><text transform="translate(899.40,64.80) rotate(-90)" text-anchor="middle" style="font-size:11.40px" fill="#231f20">Flavour</text><text transform="translate(899.40,112.60) rotate(-90)" text-anchor="middle" style="font-size:11.40px" fill="#231f20">Water</text><text transform="translate(899.40,181.00) rotate(-90)" text-anchor="middle" style="font-size:11.40px" fill="#231f20">Nonselective</text><text x="0.80" y="288.00" style="font-size:19.0px;font-weight:bold" fill="#000" stroke="#000" stroke-width="0.6">e</text><text x="58.60" y="296.50" style="font-size:11.26px;" fill="#231f20" >Consume</text><text x="116.00" y="296.50" style="font-size:11.08px;" fill="#231f20" >Delay</text><text x="159.70" y="296.50" style="font-size:11.45px;" fill="#231f20" >CGRP stimulation</text><rect x="67.8" y="301" width="29.2" height="1.8" fill="#231f20" /><rect x="103.4" y="301" width="56.3" height="1.8" fill="#d0d0d0" /><rect x="161.5" y="301" width="86.2" height="1.8" fill="#2f9b50" /><line x1="60.9" y1="316.7" x2="60.9" y2="495.9" stroke="#231f20" stroke-width="1.0" /><line x1="54" y1="316.7" x2="61.4" y2="316.7" stroke="#231f20" stroke-width="1.0" /><text x="46.90" y="320.60" text-anchor="end" style="font-size:11.30px;" fill="#231f20">0.15</text><line x1="54" y1="361.5" x2="61.4" y2="361.5" stroke="#231f20" stroke-width="1.0" /><text x="46.90" y="365.40" text-anchor="end" style="font-size:11.30px;" fill="#231f20">0.10</text><line x1="54" y1="406.3" x2="61.4" y2="406.3" stroke="#231f20" stroke-width="1.0" /><text x="46.90" y="410.20" text-anchor="end" style="font-size:11.30px;" fill="#231f20">0.05</text><line x1="54" y1="451.1" x2="61.4" y2="451.1" stroke="#231f20" stroke-width="1.0" /><text x="46.90" y="455.00" text-anchor="end" style="font-size:11.30px;" fill="#231f20">0</text><line x1="54" y1="495.9" x2="61.4" y2="495.9" stroke="#231f20" stroke-width="1.0" /><text x="46.90" y="499.80" text-anchor="end" style="font-size:11.30px;" fill="#231f20">−0.05</text><line x1="67.8" y1="504" x2="247.5" y2="504" stroke="#231f20" stroke-width="1.0" /><line x1="67.8" y1="503.5" x2="67.8" y2="510" stroke="#231f20" stroke-width="1.0" /><text x="67.80" y="524.20" text-anchor="middle" style="font-size:11.30px;" fill="#231f20">0</text><line x1="97.8" y1="503.5" x2="97.8" y2="510" stroke="#231f20" stroke-width="1.0" /><text x="97.75" y="524.20" text-anchor="middle" style="font-size:11.30px;" fill="#231f20">15</text><line x1="127.7" y1="503.5" x2="127.7" y2="510" stroke="#231f20" stroke-width="1.0" /><text x="127.70" y="524.20" text-anchor="middle" style="font-size:11.30px;" fill="#231f20">30</text><line x1="157.6" y1="503.5" x2="157.6" y2="510" stroke="#231f20" stroke-width="1.0" /><text x="157.65" y="524.20" text-anchor="middle" style="font-size:11.30px;" fill="#231f20">45</text><line x1="187.6" y1="503.5" x2="187.6" y2="510" stroke="#231f20" stroke-width="1.0" /><text x="187.60" y="524.20" text-anchor="middle" style="font-size:11.30px;" fill="#231f20">60</text><line x1="217.6" y1="503.5" x2="217.6" y2="510" stroke="#231f20" stroke-width="1.0" /><text x="217.55" y="524.20" text-anchor="middle" style="font-size:11.30px;" fill="#231f20">75</text><line x1="247.5" y1="503.5" x2="247.5" y2="510" stroke="#231f20" stroke-width="1.0" /><text x="247.50" y="524.20" text-anchor="middle" style="font-size:11.30px;" fill="#231f20">90</text><text x="131.20" y="540.60" style="font-size:11.24px;" fill="#231f20" >Time (min)</text><text transform="translate(10.6,407.1) rotate(-90)" text-anchor="middle" style="font-size:11.3px" fill="#231f20">Spiking (<tspan style="font-style:italic">σ</tspan>)</text><path d="M67.8 341.3L69.3 337.5L70.8 337.8L72.3 339.6L73.8 340.2L75.3 340.4L76.8 345.2L78.3 346.6L79.8 344L81.3 344.7L82.8 343.3L84.3 347.2L85.8 347.7L87.3 347.8L88.8 352.7L90.3 350.3L91.8 352.1L93.3 346L94.8 356.5L96.3 361.2L97.8 366.8L99.2 353.5L100.7 364.3L102.2 385.7L103.7 394.9L105.2 401.4L106.7 403.5L108.2 405.8L109.7 415.3L111.2 412.4L112.7 414.6L114.2 413.3L115.7 420.1L117.2 418.4L118.7 425.1L120.2 429.1L121.7 432.2L123.2 424.7L124.7 430.3L126.2 440.7L127.7 433.5L129.2 436.8L130.7 437L132.2 436.3L133.7 440.8L135.2 445.3L136.7 440.8L138.2 442.7L139.7 436.6L141.2 443.3L142.7 444.5L144.2 435.7L145.7 435.5L147.2 441.8L148.7 445.5L150.2 443.1L151.7 439.9L153.2 441.8L154.7 437.8L156.2 445.3L157.6 435.7L159.1 420.1L160.6 414.6L162.1 414.6L163.6 414L165.1 411.2L166.6 423.7L168.1 425.3L169.6 432.4L171.1 434.6L172.6 434.4L174.1 428.5L175.6 421L177.1 421.3L178.6 420L180.1 425L181.6 432.1L183.1 431.8L184.6 440.6L186.1 425.9L187.6 417.4L189.1 419.8L190.6 414.5L192.1 419.6L193.6 427.6L195.1 427.1L196.6 434.5L198.1 438.2L199.6 439L201.1 431.9L202.6 433.1L204.1 436L205.6 431.7L207.1 439.2L208.6 431.4L210.1 435.3L211.6 435.1L213.1 437.8L214.6 441.7L216.1 439.9L217.6 428.2L219 433.2L220.5 436.4L222 437.8L223.5 440.3L225 439.7L226.5 441.2L228 437.5L229.5 441.8L231 441.8L232.5 442.2L234 443.1L235.5 441.9L237 441.3L238.5 439.8L240 434.1L241.5 429.9L243 432L244.5 430.4L246 442.3L247.5 445.4L247.5 469.8L246 470.9L244.5 458.7L243 461L241.5 452.1L240 455.9L238.5 462.2L237 467.6L235.5 464.6L234 472.3L232.5 472L231 468.5L229.5 470.8L228 461.5L226.5 465.6L225 464.4L223.5 469.1L222 464.5L220.5 464.4L219 456.6L217.6 457.6L216.1 462.8L214.6 464L213.1 465.6L211.6 458.6L210.1 465.2L208.6 457L207.1 466.6L205.6 460.8L204.1 460.4L202.6 462.6L201.1 460.6L199.6 466.3L198.1 461.5L196.6 458.9L195.1 455.4L193.6 457.6L192.1 443.9L190.6 437.8L189.1 441.5L187.6 446.7L186.1 454.9L184.6 464.9L183.1 457.6L181.6 456.1L180.1 452.2L178.6 442.4L177.1 444.4L175.6 446.2L174.1 455.8L172.6 457.7L171.1 459.1L169.6 457.2L168.1 451.2L166.6 451.2L165.1 441.1L163.6 443L162.1 437.6L160.6 441L159.1 449.9L157.6 464.2L156.2 467.1L154.7 466.9L153.2 463.4L151.7 463.6L150.2 468.2L148.7 473.4L147.2 471.4L145.7 459.6L144.2 464.6L142.7 468.6L141.2 472.3L139.7 466.4L138.2 466.7L136.7 462.8L135.2 472.3L133.7 465.1L132.2 462.7L130.7 461.9L129.2 463.9L127.7 456.9L126.2 466.7L124.7 458.7L123.2 454.6L121.7 455.6L120.2 455.3L118.7 452.4L117.2 445.9L115.7 443L114.2 440.9L112.7 437.4L111.2 434.1L109.7 437L108.2 434.3L106.7 430.2L105.2 424.7L103.7 420.7L102.2 414.9L100.7 386.8L99.2 376.6L97.8 391.9L96.3 398.9L94.8 391.1L93.3 384.5L91.8 389.3L90.3 388.6L88.8 393.3L87.3 384.5L85.8 383.6L84.3 386.2L82.8 379.1L81.3 379.7L79.8 381.4L78.3 386.4L76.8 380.5L75.3 377L73.8 381.1L72.3 374.1L70.8 372.3L69.3 372.6L67.8 381.5Z" fill="#c9ddef" fill-opacity="0.75" stroke="none"/><path d="M67.8 370.4L69.3 376.6L70.8 377.8L72.3 377.4L73.8 375.4L75.3 381.9L76.8 381.2L78.3 382.5L79.8 381.5L81.3 380.2L82.8 378.5L84.3 377L85.8 375L87.3 371.6L88.8 375.3L90.3 384.1L91.8 375.4L93.3 382.3L94.8 384.3L96.3 385L97.8 391.5L99.2 395L100.7 397.1L102.2 401.2L103.7 407.2L105.2 404.5L106.7 414.7L108.2 414.2L109.7 416.8L111.2 418.4L112.7 421.5L114.2 421.3L115.7 434.2L117.2 428.1L118.7 428.8L120.2 428.9L121.7 425.6L123.2 432.3L124.7 436.2L126.2 442.1L127.7 439.9L129.2 442.5L130.7 443.5L132.2 432.7L133.7 434.6L135.2 438.9L136.7 438.6L138.2 442.8L139.7 445.3L141.2 441.5L142.7 445.9L144.2 442.5L145.7 444.3L147.2 442.5L148.7 445.5L150.2 438.2L151.7 438L153.2 442.4L154.7 446.4L156.2 445.2L157.6 443.6L159.1 440.1L160.6 434.8L162.1 426.3L163.6 427.5L165.1 429.3L166.6 427L168.1 428.1L169.6 424.7L171.1 428.5L172.6 421.9L174.1 424.8L175.6 428.8L177.1 426.4L178.6 424.4L180.1 426.8L181.6 423.8L183.1 418.7L184.6 424.6L186.1 418.8L187.6 411.9L189.1 400.6L190.6 398.2L192.1 405.6L193.6 409.1L195.1 411.1L196.6 410L198.1 413L199.6 417.6L201.1 417.6L202.6 416.4L204.1 411.8L205.6 415.2L207.1 415.6L208.6 419.2L210.1 421.8L211.6 419.7L213.1 413.1L214.6 424.6L216.1 418.7L217.6 419.7L219 420.4L220.5 420.8L222 419.3L223.5 416L225 419.7L226.5 421L228 425.3L229.5 426.5L231 426.5L232.5 428.8L234 431L235.5 430.9L237 427.8L238.5 425.9L240 422.5L241.5 418.7L243 422.1L244.5 421.6L246 423.6L247.5 427.6L247.5 453.6L246 446.9L244.5 444.2L243 445.7L241.5 444.1L240 448.3L238.5 450.8L237 447.7L235.5 456.1L234 458.3L232.5 453.6L231 452.9L229.5 446.8L228 446L226.5 441.6L225 442.5L223.5 441.6L222 442.6L220.5 443.6L219 444.6L217.6 440.9L216.1 444.4L214.6 444.9L213.1 440.2L211.6 442.4L210.1 443.8L208.6 439.5L207.1 439.9L205.6 436.5L204.1 435.3L202.6 439.4L201.1 440.9L199.6 437.5L198.1 438L196.6 436.3L195.1 433.2L193.6 429.6L192.1 430.7L190.6 418.1L189.1 423.3L187.6 439.4L186.1 440.8L184.6 449.1L183.1 445.7L181.6 447.6L180.1 449.4L178.6 450.5L177.1 446.9L175.6 450L174.1 448.6L172.6 444.9L171.1 448.6L169.6 449L168.1 451.9L166.6 450.1L165.1 454.8L163.6 454.8L162.1 453.2L160.6 456.2L159.1 464.8L157.6 465.7L156.2 468.6L154.7 470.2L153.2 463.8L151.7 459.6L150.2 459.3L148.7 466L147.2 464.1L145.7 469.7L144.2 463.1L142.7 468.8L141.2 461.5L139.7 465.1L138.2 466.7L136.7 461.7L135.2 460.6L133.7 459.9L132.2 458.7L130.7 468.1L129.2 466.8L127.7 461.6L126.2 465.3L124.7 457.8L123.2 459.9L121.7 452.7L120.2 456.4L118.7 452.5L117.2 452.8L115.7 454.6L114.2 442.3L112.7 441.4L111.2 438.5L109.7 437.7L108.2 438.3L106.7 434.5L105.2 427.5L103.7 431.7L102.2 422.9L100.7 424.4L99.2 415.8L97.8 415.3L96.3 419.7L94.8 420.5L93.3 414.8L91.8 413.8L90.3 419.1L88.8 407.6L87.3 405.7L85.8 411.8L84.3 410.3L82.8 413.8L81.3 417.3L79.8 419.8L78.3 420L76.8 419.9L75.3 419.3L73.8 413L72.3 412.5L70.8 409.5L69.3 410.8L67.8 402.8Z" fill="#d4d4d4" fill-opacity="0.75" stroke="none"/><path d="M67.8 366.8L69.3 363.7L70.8 369L72.3 364L73.8 369.5L75.3 370.3L76.8 360.6L78.3 363.6L79.8 368.1L81.3 365.1L82.8 362.6L84.3 367.1L85.8 365.7L87.3 371.2L88.8 367L90.3 361.2L91.8 360.5L93.3 368.5L94.8 374.7L96.3 379.4L97.8 387.9L99.2 394.1L100.7 399.8L102.2 409.8L103.7 409.6L105.2 413L106.7 414L108.2 421L109.7 422L111.2 431.9L112.7 429.5L114.2 436.4L115.7 435.3L117.2 429.3L118.7 438.4L120.2 434.2L121.7 434.2L123.2 436.5L124.7 434.8L126.2 436.9L127.7 436.9L129.2 441.2L130.7 442.2L132.2 444.2L133.7 443.6L135.2 440.6L136.7 444.7L138.2 438.3L139.7 445.1L141.2 445.5L142.7 444.4L144.2 448.8L145.7 433.1L147.2 440.7L148.7 434.7L150.2 437.9L151.7 431.3L153.2 443.4L154.7 437.4L156.2 443.3L157.6 442.7L159.1 401.3L160.6 385.8L162.1 392.6L163.6 395.6L165.1 394.6L166.6 392.3L168.1 404.8L169.6 394.1L171.1 395L172.6 397.3L174.1 394.9L175.6 397.2L177.1 390.2L178.6 393.7L180.1 395.7L181.6 396.6L183.1 397.1L184.6 394.9L186.1 398.2L187.6 386.3L189.1 384.9L190.6 387.7L192.1 381.1L193.6 379.9L195.1 375.9L196.6 375.8L198.1 377.1L199.6 380.2L201.1 377.5L202.6 386.4L204.1 388.9L205.6 379.9L207.1 383.3L208.6 390.2L210.1 378.6L211.6 382.7L213.1 389.6L214.6 394L216.1 387.9L217.6 392.4L219 393.3L220.5 396.5L222 395L223.5 387.6L225 390.5L226.5 397.9L228 389.8L229.5 390L231 388L232.5 386.2L234 393.8L235.5 393.1L237 392.6L238.5 396.6L240 386.1L241.5 377.7L243 383.2L244.5 389.3L246 393.3L247.5 397.7L247.5 421.1L246 414.6L244.5 410.2L243 404.9L241.5 397.5L240 406L238.5 414.9L237 416.7L235.5 415.5L234 411.7L232.5 410L231 411.7L229.5 414.5L228 413.4L226.5 417L225 414.3L223.5 409.4L222 414.3L220.5 417L219 416.8L217.6 413.8L216.1 412L214.6 413.7L213.1 409.9L211.6 405L210.1 403.3L208.6 411.1L207.1 405L205.6 402.5L204.1 408.9L202.6 405.6L201.1 400.7L199.6 398.2L198.1 399.2L196.6 400.2L195.1 400.3L193.6 404.4L192.1 404L190.6 412.1L189.1 403.1L187.6 410L186.1 418.2L184.6 417L183.1 415.5L181.6 416.2L180.1 416.1L178.6 413.7L177.1 411.9L175.6 419.9L174.1 418.9L172.6 420.6L171.1 414.5L169.6 418.7L168.1 429.5L166.6 413.3L165.1 419.6L163.6 419.8L162.1 417.2L160.6 403.7L159.1 420.4L157.6 467.2L156.2 464.2L154.7 458.3L153.2 464.3L151.7 451.7L150.2 457.7L148.7 458.3L147.2 460.7L145.7 451.9L144.2 469.2L142.7 468.1L141.2 468L139.7 468.8L138.2 458.2L136.7 464L135.2 464.5L133.7 467.3L132.2 463.5L130.7 463.9L129.2 460L127.7 456.4L126.2 458L124.7 459.1L123.2 459.1L121.7 454.5L120.2 453.3L118.7 462.5L117.2 450.4L115.7 459.2L114.2 456.7L112.7 449.7L111.2 450.6L109.7 444.9L108.2 442.1L106.7 433.3L105.2 432.6L103.7 433.3L102.2 429.3L100.7 420L99.2 417.3L97.8 409.9L96.3 408.3L94.8 408.9L93.3 399.9L91.8 391.3L90.3 394.2L88.8 398.3L87.3 402.1L85.8 397L84.3 398L82.8 395.5L81.3 397.1L79.8 398.5L78.3 399.2L76.8 394.1L75.3 399.4L73.8 398.4L72.3 397.9L70.8 402.7L69.3 394.9L67.8 400.3Z" fill="#f8c9c6" fill-opacity="0.75" stroke="none"/><path d="M67.8 361.4L69.3 355L70.8 355L72.3 356.9L73.8 360.7L75.3 358.7L76.8 362.8L78.3 366.5L79.8 362.7L81.3 362.2L82.8 361.2L84.3 366.7L85.8 365.6L87.3 366.2L88.8 373L90.3 369.4L91.8 370.7L93.3 365.3L94.8 373.8L96.3 380L97.8 379.3L99.2 365L100.7 375.5L102.2 400.3L103.7 407.8L105.2 413L106.7 416.8L108.2 420L109.7 426.1L111.2 423.3L112.7 426L114.2 427.1L115.7 431.6L117.2 432.2L118.7 438.8L120.2 442.2L121.7 443.9L123.2 439.6L124.7 444.5L126.2 453.7L127.7 445.2L129.2 450.3L130.7 449.4L132.2 449.5L133.7 453L135.2 458.8L136.7 451.8L138.2 454.7L139.7 451.5L141.2 457.8L142.7 456.6L144.2 450.1L145.7 447.6L147.2 456.6L148.7 459.4L150.2 455.6L151.7 451.7L153.2 452.6L154.7 452.3L156.2 456.2L157.6 449.9L159.1 435L160.6 427.8L162.1 426.1L163.6 428.5L165.1 426.1L166.6 437.5L168.1 438.2L169.6 444.8L171.1 446.8L172.6 446.1L174.1 442.1L175.6 433.6L177.1 432.9L178.6 431.2L180.1 438.6L181.6 444.1L183.1 444.7L184.6 452.8L186.1 440.4L187.6 432L189.1 430.6L190.6 426.2L192.1 431.7L193.6 442.6L195.1 441.2L196.6 446.7L198.1 449.9L199.6 452.6L201.1 446.2L202.6 447.8L204.1 448.2L205.6 446.2L207.1 452.9L208.6 444.2L210.1 450.3L211.6 446.9L213.1 451.7L214.6 452.8L216.1 451.3L217.6 442.9L219 444.9L220.5 450.4L222 451.2L223.5 454.7L225 452L226.5 453.4L228 449.5L229.5 456.3L231 455.2L232.5 457.1L234 457.7L235.5 453.2L237 454.5L238.5 451L240 445L241.5 441L243 446.5L244.5 444.5L246 456.6L247.5 457.6" fill="none" stroke="#3a87c8" stroke-width="1.3" stroke-linejoin="round" /><path d="M67.8 386.6L69.3 393.7L70.8 393.6L72.3 395L73.8 394.2L75.3 400.6L76.8 400.5L78.3 401.2L79.8 400.7L81.3 398.7L82.8 396.1L84.3 393.6L85.8 393.4L87.3 388.6L88.8 391.5L90.3 401.6L91.8 394.6L93.3 398.5L94.8 402.4L96.3 402.3" fill="none" stroke="#1a1a1a" stroke-width="1.3" stroke-linejoin="round" stroke-dasharray="3 4"/><path d="M97.8 403.4L99.2 405.4L100.7 410.7L102.2 412L103.7 419.4L105.2 416L106.7 424.6L108.2 426.2L109.7 427.3L111.2 428.4L112.7 431.5L114.2 431.8L115.7 444.4L117.2 440.4L118.7 440.6L120.2 442.6L121.7 439.2L123.2 446.1L124.7 447L126.2 453.7L127.7 450.8L129.2 454.7L130.7 455.8L132.2 445.7L133.7 447.2L135.2 449.7L136.7 450.1L138.2 454.7L139.7 455.2L141.2 451.5L142.7 457.4L144.2 452.8L145.7 457L147.2 453.3L148.7 455.7L150.2 448.7L151.7 448.8L153.2 453.1L154.7 458.3L156.2 456.9" fill="none" stroke="#1a1a1a" stroke-width="1.3" stroke-linejoin="round" /><path d="M172.6 433.4L174.1 436.7L175.6 439.4L177.1 436.7L178.6 437.4L180.1 438.1L181.6 435.7L183.1 432.2L184.6 436.8L186.1 429.8L187.6 425.7L189.1 412L190.6 408.2L192.1 418.2L193.6 419.3L195.1 422.1L196.6 423.2L198.1 425.5L199.6 427.5L201.1 429.2L202.6 427.9L204.1 423.6L205.6 425.8L207.1 427.8L208.6 429.4L210.1 432.8L211.6 431L213.1 426.7L214.6 434.7L216.1 431.5L217.6 430.3L219 432.5L220.5 432.2L222 431L223.5 428.8L225 431.1L226.5 431.3L228 435.6L229.5 436.7L231 439.7L232.5 441.2L234 444.7L235.5 443.5L237 437.8L238.5 438.4L240 435.4L241.5 431.4L243 433.9L244.5 432.9L246 435.2L247.5 440.6" fill="none" stroke="#1a1a1a" stroke-width="1.3" stroke-linejoin="round" /><path d="M67.8 383.6L69.3 379.3L70.8 385.9L72.3 380.9L73.8 383.9L75.3 384.8L76.8 377.4L78.3 381.4L79.8 383.3L81.3 381.1L82.8 379L84.3 382.5L85.8 381.4L87.3 386.6L88.8 382.7L90.3 377.7L91.8 375.9L93.3 384.2L94.8 391.8L96.3 393.9L97.8 398.9L99.2 405.7L100.7 409.9L102.2 419.6L103.7 421.5L105.2 422.8L106.7 423.7L108.2 431.6L109.7 433.5L111.2 441.3L112.7 439.6L114.2 446.6L115.7 447.3L117.2 439.9L118.7 450.4L120.2 443.7L121.7 444.4L123.2 447.8L124.7 447L126.2 447.4L127.7 446.7L129.2 450.6L130.7 453.1L132.2 453.9L133.7 455.5L135.2 452.6L136.7 454.4L138.2 448.2L139.7 456.9L141.2 456.8L142.7 456.2L144.2 459L145.7 442.5L147.2 450.7L148.7 446.5L150.2 447.8L151.7 441.5L153.2 453.9L154.7 447.8L156.2 453.7L157.6 454.9L159.1 410.8L160.6 394.7L162.1 404.9L163.6 407.7L165.1 407.1L166.6 402.8L168.1 417.1L169.6 406.4L171.1 404.8L172.6 408.9L174.1 406.9L175.6 408.6L177.1 401L178.6 403.7L180.1 405.9L181.6 406.4L183.1 406.3L184.6 406L186.1 408.2L187.6 398.2L189.1 394L190.6 399.9L192.1 392.6L193.6 392.1L195.1 388.1L196.6 388L198.1 388.2L199.6 389.2L201.1 389.1L202.6 396L204.1 398.9L205.6 391.2L207.1 394.2L208.6 400.7L210.1 391L211.6 393.8L213.1 399.8L214.6 403.8L216.1 400L217.6 403.1L219 405.1L220.5 406.8L222 404.7L223.5 398.5L225 402.4L226.5 407.4L228 401.6L229.5 402.2L231 399.9L232.5 398.1L234 402.8L235.5 404.3L237 404.6L238.5 405.7L240 396.1L241.5 387.6L243 394L244.5 399.8L246 403.9L247.5 409.4" fill="none" stroke="#e8302a" stroke-width="1.3" stroke-linejoin="round" /><line x1="67.8" y1="469.5" x2="77" y2="469.5" stroke="#1a1a1a" stroke-width="1.6" /><text x="83.90" y="473.30" style="font-size:10.24px;" fill="#231f20" >Nonselective</text><line x1="67.8" y1="482.1" x2="77" y2="482.1" stroke="#3a87c8" stroke-width="1.6" /><text x="83.90" y="485.90" style="font-size:10.30px;" fill="#231f20" >Water-preferring</text><line x1="67.8" y1="494.8" x2="77" y2="494.8" stroke="#e8302a" stroke-width="1.6" /><text x="83.90" y="498.60" style="font-size:10.31px;" fill="#231f20" >Flavour-preferring</text><line x1="212.5" y1="320.8" x2="212.5" y2="366.1" stroke="#231f20" stroke-width="1.0" /><line x1="208.5" y1="320.8" x2="213" y2="320.8" stroke="#231f20" stroke-width="1.0" /><text x="202.60" y="324.70" text-anchor="end" style="font-size:11.30px;" fill="#231f20">0.2</text><line x1="208.5" y1="366.1" x2="213" y2="366.1" stroke="#231f20" stroke-width="1.0" /><text x="202.60" y="370.00" text-anchor="end" style="font-size:11.30px;" fill="#231f20">−0.1</text><text transform="translate(163,344.3) rotate(-90)" text-anchor="middle" style="font-size:11.3px" fill="#231f20">CGRP</text><text transform="translate(175.8,344.3) rotate(-90)" text-anchor="middle" style="font-size:11.3px" fill="#231f20">response</text><line x1="219.4" y1="325.4" x2="219.4" y2="350.5" stroke="#e8302a" stroke-width="1" /><line x1="219.4" y1="337.4" x2="219.4" y2="355.3" stroke="#e8302a" stroke-width="1" /><rect x="216" y="337.4" width="6.9" height="13.1" fill="#f6c1bd" stroke="#e8302a" stroke-width="1"/><line x1="216" y1="345" x2="222.9" y2="345" stroke="#e8302a" stroke-width="1" /><line x1="217.6" y1="325.4" x2="221.2" y2="325.4" stroke="#e8302a" stroke-width="0.8" /><line x1="217.6" y1="355.3" x2="221.2" y2="355.3" stroke="#e8302a" stroke-width="0.8" /><line x1="230" y1="336.9" x2="230" y2="352.3" stroke="#3a87c8" stroke-width="1" /><line x1="230" y1="344.3" x2="230" y2="366.1" stroke="#3a87c8" stroke-width="1" /><rect x="226.3" y="344.3" width="7.4" height="8" fill="#c6dbee" stroke="#3a87c8" stroke-width="1"/><line x1="226.3" y1="348" x2="233.7" y2="348" stroke="#3a87c8" stroke-width="1" /><line x1="228.2" y1="336.9" x2="231.8" y2="336.9" stroke="#3a87c8" stroke-width="0.8" /><line x1="228.2" y1="366.1" x2="231.8" y2="366.1" stroke="#3a87c8" stroke-width="0.8" /><line x1="240.1" y1="337.4" x2="240.1" y2="352.3" stroke="#1a1a1a" stroke-width="1" /><line x1="240.1" y1="345" x2="240.1" y2="358" stroke="#1a1a1a" stroke-width="1" /><rect x="236.7" y="345" width="6.9" height="7.3" fill="#9a9a9a" stroke="#1a1a1a" stroke-width="1"/><line x1="236.7" y1="348.5" x2="243.6" y2="348.5" stroke="#1a1a1a" stroke-width="1" /><line x1="238.3" y1="337.4" x2="241.9" y2="337.4" stroke="#1a1a1a" stroke-width="0.8" /><line x1="238.3" y1="358" x2="241.9" y2="358" stroke="#1a1a1a" stroke-width="0.8" /><line x1="218.3" y1="312.8" x2="240.1" y2="312.8" stroke="#231f20" stroke-width="1" /><text x="220.50" y="311.50" style="font-size:10.93px;" fill="#231f20" >****</text><line x1="218.3" y1="322" x2="229.8" y2="322" stroke="#231f20" stroke-width="1" /><text x="216.50" y="320.50" style="font-size:11.16px;" fill="#231f20" >***</text><line x1="229.8" y1="334.6" x2="240.1" y2="334.6" stroke="#231f20" stroke-width="1" /><text x="228.00" y="333.00" style="font-size:9.71px;" fill="#231f20" >NS</text><text x="282.70" y="286.80" style="font-size:19.0px;font-weight:bold" fill="#000" stroke="#000" stroke-width="0.6">f</text><text x="291.80" y="303.40" style="font-size:11.46px;" fill="#231f20" >CGRP stimulation</text><text x="410.00" y="303.40" style="font-size:11.54px;" fill="#231f20" >CGRP stimulation</text><line x1="314" y1="309.1" x2="362.9" y2="309.1" stroke="#2f9b50" stroke-width="1.6" stroke-dasharray="1.1 0.55"/><line x1="431.5" y1="309.1" x2="480.5" y2="309.1" stroke="#2f9b50" stroke-width="1.6" stroke-dasharray="1.1 0.55"/><rect x="297.2" y="313.3" width="83.5" height="66.1" fill="#f3f3f4" /><rect x="314" y="313.3" width="48.9" height="66.1" fill="#f5eeec" /><rect x="297.2" y="313.3" width="83.5" height="66.1" fill="#000" filter="url(#spR)" opacity="0.22"/><rect x="297.2" y="313.3" width="83.5" height="66.1" fill="#000" filter="url(#spB)" opacity="0.14"/><line x1="314.5" y1="314.3" x2="362.9" y2="314.3" stroke="#d6604d" stroke-opacity="0.56" stroke-width="1" stroke-dasharray="1.1 1.46"/><line x1="297.2" y1="314.3" x2="380.7" y2="314.3" stroke="#d6604d" stroke-opacity="0.17" stroke-width="0.8" stroke-dasharray="0.8 1.7"/><line x1="314.5" y1="323.8" x2="362.9" y2="323.8" stroke="#7a1030" stroke-opacity="0.56" stroke-width="1" stroke-dasharray="1.1 1.46"/><line x1="297.2" y1="323.8" x2="380.7" y2="323.8" stroke="#7a1030" stroke-opacity="0.17" stroke-width="0.8" stroke-dasharray="0.8 1.7"/><line x1="314.5" y1="326.9" x2="362.9" y2="326.9" stroke="#d6604d" stroke-opacity="0.74" stroke-width="1" stroke-dasharray="1.1 1.46"/><line x1="314.5" y1="329.7" x2="362.9" y2="329.7" stroke="#c0392b" stroke-opacity="0.62" stroke-width="1" stroke-dasharray="1.1 1.46"/><line x1="314.5" y1="331.9" x2="362.9" y2="331.9" stroke="#d6604d" stroke-opacity="0.76" stroke-width="1" stroke-dasharray="1.1 1.46"/><line x1="297.2" y1="331.9" x2="380.7" y2="331.9" stroke="#d6604d" stroke-opacity="0.23" stroke-width="0.8" stroke-dasharray="0.8 1.7"/><line x1="314.5" y1="335.4" x2="362.9" y2="335.4" stroke="#d6604d" stroke-opacity="0.44" stroke-width="1" stroke-dasharray="1.1 1.46"/><line x1="297.2" y1="335.4" x2="380.7" y2="335.4" stroke="#d6604d" stroke-opacity="0.13" stroke-width="0.8" stroke-dasharray="0.8 1.7"/><line x1="314.5" y1="337.2" x2="362.9" y2="337.2" stroke="#d6604d" stroke-opacity="0.45" stroke-width="1" stroke-dasharray="1.1 1.46"/><line x1="314.5" y1="338.5" x2="362.9" y2="338.5" stroke="#e08070" stroke-opacity="0.63" stroke-width="1" stroke-dasharray="1.1 1.46"/><line x1="297.2" y1="338.5" x2="380.7" y2="338.5" stroke="#e08070" stroke-opacity="0.19" stroke-width="0.8" stroke-dasharray="0.8 1.7"/><line x1="314.5" y1="343.5" x2="362.9" y2="343.5" stroke="#e08070" stroke-opacity="0.60" stroke-width="1" stroke-dasharray="1.1 1.46"/><line x1="297.2" y1="343.5" x2="380.7" y2="343.5" stroke="#e08070" stroke-opacity="0.18" stroke-width="0.8" stroke-dasharray="0.8 1.7"/><line x1="314.5" y1="346.3" x2="362.9" y2="346.3" stroke="#b2182b" stroke-opacity="0.77" stroke-width="1" stroke-dasharray="1.1 1.46"/><line x1="297.2" y1="346.3" x2="380.7" y2="346.3" stroke="#b2182b" stroke-opacity="0.23" stroke-width="0.8" stroke-dasharray="0.8 1.7"/><line x1="314.5" y1="349.1" x2="362.9" y2="349.1" stroke="#b2182b" stroke-opacity="0.63" stroke-width="1" stroke-dasharray="1.1 1.46"/><line x1="314.5" y1="354.4" x2="362.9" y2="354.4" stroke="#d6604d" stroke-opacity="0.66" stroke-width="1" stroke-dasharray="1.1 1.46"/><line x1="314.5" y1="356.6" x2="362.9" y2="356.6" stroke="#7a1030" stroke-opacity="0.81" stroke-width="1" stroke-dasharray="1.1 1.46"/><line x1="297.2" y1="356.6" x2="380.7" y2="356.6" stroke="#7a1030" stroke-opacity="0.24" stroke-width="0.8" stroke-dasharray="0.8 1.7"/><line x1="314.5" y1="358.4" x2="362.9" y2="358.4" stroke="#d6604d" stroke-opacity="0.74" stroke-width="1" stroke-dasharray="1.1 1.46"/><line x1="297.2" y1="358.4" x2="380.7" y2="358.4" stroke="#d6604d" stroke-opacity="0.22" stroke-width="0.8" stroke-dasharray="0.8 1.7"/><line x1="314.5" y1="361.5" x2="362.9" y2="361.5" stroke="#d6604d" stroke-opacity="0.83" stroke-width="1" stroke-dasharray="1.1 1.46"/><line x1="314.5" y1="368.3" x2="362.9" y2="368.3" stroke="#b2182b" stroke-opacity="0.57" stroke-width="1" stroke-dasharray="1.1 1.46"/><line x1="314.5" y1="371.1" x2="362.9" y2="371.1" stroke="#c0392b" stroke-opacity="0.38" stroke-width="1" stroke-dasharray="1.1 1.46"/><line x1="297.2" y1="371.1" x2="380.7" y2="371.1" stroke="#c0392b" stroke-opacity="0.11" stroke-width="0.8" stroke-dasharray="0.8 1.7"/><line x1="314.5" y1="373.3" x2="362.9" y2="373.3" stroke="#d6604d" stroke-opacity="0.44" stroke-width="1" stroke-dasharray="1.1 1.46"/><line x1="297.2" y1="373.3" x2="380.7" y2="373.3" stroke="#d6604d" stroke-opacity="0.13" stroke-width="0.8" stroke-dasharray="0.8 1.7"/><rect x="297.2" y="383.1" width="83.5" height="21.8" fill="#f3f3f4" /><rect x="314" y="383.1" width="48.9" height="21.8" fill="#f4f0f0" /><rect x="297.2" y="383.1" width="83.5" height="21.8" fill="#000" filter="url(#spR)" opacity="0.22"/><rect x="297.2" y="383.1" width="83.5" height="21.8" fill="#000" filter="url(#spB)" opacity="0.14"/><line x1="314.5" y1="384.1" x2="362.9" y2="384.1" stroke="#4a7fb5" stroke-opacity="0.83" stroke-width="1" stroke-dasharray="1.1 1.46"/><line x1="314.5" y1="386.9" x2="362.9" y2="386.9" stroke="#4a7fb5" stroke-opacity="0.80" stroke-width="1" stroke-dasharray="1.1 1.46"/><line x1="297.2" y1="386.9" x2="380.7" y2="386.9" stroke="#4a7fb5" stroke-opacity="0.24" stroke-width="0.8" stroke-dasharray="0.8 1.7"/><line x1="314.5" y1="396.5" x2="362.9" y2="396.5" stroke="#e8a090" stroke-opacity="0.36" stroke-width="1" stroke-dasharray="1.1 1.46"/><line x1="314.5" y1="397.8" x2="362.9" y2="397.8" stroke="#e08a70" stroke-opacity="0.67" stroke-width="1" stroke-dasharray="1.1 1.46"/><line x1="314.5" y1="400.6" x2="362.9" y2="400.6" stroke="#2f5f9a" stroke-opacity="0.73" stroke-width="1" stroke-dasharray="1.1 1.46"/><line x1="314.5" y1="402.4" x2="362.9" y2="402.4" stroke="#d6604d" stroke-opacity="0.55" stroke-width="1" stroke-dasharray="1.1 1.46"/><line x1="297.2" y1="402.4" x2="380.7" y2="402.4" stroke="#d6604d" stroke-opacity="0.16" stroke-width="0.8" stroke-dasharray="0.8 1.7"/><rect x="297.2" y="408.6" width="83.5" height="109" fill="#f3f3f4" /><rect x="314" y="408.6" width="48.9" height="109" fill="#f4f0f0" /><rect x="297.2" y="408.6" width="83.5" height="109" fill="#000" filter="url(#spR)" opacity="0.22"/><rect x="297.2" y="408.6" width="83.5" height="109" fill="#000" filter="url(#spB)" opacity="0.14"/><line x1="314.5" y1="413.1" x2="362.9" y2="413.1" stroke="#b2182b" stroke-opacity="0.82" stroke-width="1" stroke-dasharray="1.1 1.46"/><line x1="297.2" y1="413.1" x2="380.7" y2="413.1" stroke="#b2182b" stroke-opacity="0.25" stroke-width="0.8" stroke-dasharray="0.8 1.7"/><line x1="314.5" y1="416.7" x2="362.9" y2="416.7" stroke="#2f5f9a" stroke-opacity="0.45" stroke-width="1" stroke-dasharray="1.1 1.46"/><line x1="314.5" y1="425.5" x2="362.9" y2="425.5" stroke="#e8a090" stroke-opacity="0.65" stroke-width="1" stroke-dasharray="1.1 1.46"/><line x1="314.5" y1="441.5" x2="362.9" y2="441.5" stroke="#b2182b" stroke-opacity="0.61" stroke-width="1" stroke-dasharray="1.1 1.46"/><line x1="314.5" y1="447.2" x2="362.9" y2="447.2" stroke="#e8a090" stroke-opacity="0.85" stroke-width="1" stroke-dasharray="1.1 1.46"/><line x1="297.2" y1="447.2" x2="380.7" y2="447.2" stroke="#e8a090" stroke-opacity="0.25" stroke-width="0.8" stroke-dasharray="0.8 1.7"/><line x1="314.5" y1="459.5" x2="362.9" y2="459.5" stroke="#d6604d" stroke-opacity="0.68" stroke-width="1" stroke-dasharray="1.1 1.46"/><line x1="297.2" y1="459.5" x2="380.7" y2="459.5" stroke="#d6604d" stroke-opacity="0.20" stroke-width="0.8" stroke-dasharray="0.8 1.7"/><line x1="314.5" y1="472.9" x2="362.9" y2="472.9" stroke="#e8a090" stroke-opacity="0.39" stroke-width="1" stroke-dasharray="1.1 1.46"/><line x1="314.5" y1="479.7" x2="362.9" y2="479.7" stroke="#2f5f9a" stroke-opacity="0.54" stroke-width="1" stroke-dasharray="1.1 1.46"/><line x1="314.5" y1="481.0" x2="362.9" y2="481.0" stroke="#4a7fb5" stroke-opacity="0.51" stroke-width="1" stroke-dasharray="1.1 1.46"/><line x1="297.2" y1="481.0" x2="380.7" y2="481.0" stroke="#4a7fb5" stroke-opacity="0.15" stroke-width="0.8" stroke-dasharray="0.8 1.7"/><line x1="314.5" y1="482.8" x2="362.9" y2="482.8" stroke="#4a7fb5" stroke-opacity="0.39" stroke-width="1" stroke-dasharray="1.1 1.46"/><line x1="297.2" y1="482.8" x2="380.7" y2="482.8" stroke="#4a7fb5" stroke-opacity="0.12" stroke-width="0.8" stroke-dasharray="0.8 1.7"/><line x1="314.5" y1="496.0" x2="362.9" y2="496.0" stroke="#d6604d" stroke-opacity="0.51" stroke-width="1" stroke-dasharray="1.1 1.46"/><line x1="297.2" y1="496.0" x2="380.7" y2="496.0" stroke="#d6604d" stroke-opacity="0.15" stroke-width="0.8" stroke-dasharray="0.8 1.7"/><line x1="314.5" y1="499.6" x2="362.9" y2="499.6" stroke="#e8a090" stroke-opacity="0.49" stroke-width="1" stroke-dasharray="1.1 1.46"/><line x1="297.2" y1="499.6" x2="380.7" y2="499.6" stroke="#e8a090" stroke-opacity="0.15" stroke-width="0.8" stroke-dasharray="0.8 1.7"/><line x1="314.5" y1="511.5" x2="362.9" y2="511.5" stroke="#4a7fb5" stroke-opacity="0.37" stroke-width="1" stroke-dasharray="1.1 1.46"/><line x1="314.5" y1="513.7" x2="362.9" y2="513.7" stroke="#b2182b" stroke-opacity="0.64" stroke-width="1" stroke-dasharray="1.1 1.46"/><line x1="297.2" y1="513.7" x2="380.7" y2="513.7" stroke="#b2182b" stroke-opacity="0.19" stroke-width="0.8" stroke-dasharray="0.8 1.7"/><rect x="297.2" y="520.3" width="16.8" height="3" fill="#231f20" /><text x="298.50" y="534.40" style="font-size:10.56px;" fill="#231f20" >1 s</text><rect x="382.9" y="500.3" width="3" height="17.3" fill="#231f20" /><text transform="translate(397.30,516.40) rotate(-90)" style="font-size:11.15px;" fill="#231f20">100 neurons</text><rect x="402.5" y="326.4" width="7.5" height="46.3" fill="url(#cb2)" /><text x="395.00" y="320.00" style="font-size:11.29px;" fill="#231f20" >+0.5</text><text x="395.00" y="386.30" style="font-size:11.14px;" fill="#231f20" >−0.5</text><text transform="translate(395.6,349.5) rotate(-90)" text-anchor="middle" style="font-size:11.2px" fill="#231f20">Spiking (<tspan style="font-style:italic">σ</tspan>)</text><text transform="translate(289.50,346.40) rotate(-90)" text-anchor="middle" style="font-size:11.30px" fill="#231f20">Flavour</text><text transform="translate(289.50,394.00) rotate(-90)" text-anchor="middle" style="font-size:11.30px" fill="#231f20">Water</text><text transform="translate(289.50,463.00) rotate(-90)" text-anchor="middle" style="font-size:11.30px" fill="#231f20">Nonselective</text><path d="M415.6 412.6L415.9 412.8L416.2 411.2L416.5 410.2L416.8 409.8L417.1 411.1L417.4 409.9L417.7 409.4L418 411.3L418.3 411.3L418.6 411.8L418.9 410L419.2 411.1L419.5 411L419.8 409.3L420.1 411.7L420.4 411.5L420.7 414L421 411.3L421.3 410.9L421.6 412.6L421.9 411.3L422.2 412.2L422.5 410.7L422.8 411.4L423.1 412.3L423.4 411.9L423.7 411.3L424 409.8L424.3 411.6L424.6 411.2L424.9 412L425.2 411.4L425.5 412.4L425.8 411L426.1 411.3L426.4 411.9L426.7 409.8L427 410.6L427.3 410.5L427.6 413.5L427.9 411L428.2 411.9L428.5 411.8L428.8 410.8L429.1 409.2L429.4 412.3L429.7 410.6L430 412L430.3 409.5L430.6 410.6L430.9 412.6L431.2 412.8L431.5 409.5L431.8 409.5L432.1 411L432.4 333.5L432.7 363.3L433 388.8L433.3 394.2L433.6 391.6L433.9 374L434.2 379.2L434.5 384.9L434.8 391.7L435.1 399.1L435.4 375.6L435.7 376.8L436 382.5L436.3 389.5L436.6 395.7L436.9 387.9L437.2 375.4L437.5 380.9L437.8 387.9L438.1 393.1L438.4 398.5L438.7 374.1L439 376L439.3 384.3L439.6 390.7L439.9 395.9L440.2 385.1L440.5 375L440.8 379.9L441.1 387.8L441.4 393.5L441.7 395.3L442 372.8L442.3 380L442.6 385.4L442.9 391.5L443.2 398L443.5 380.4L443.8 377.4L444.1 382L444.4 389.3L444.7 394.3L445 391.8L445.3 373.7L445.6 381.6L445.9 386.9L446.2 392.1L446.5 398.4L446.8 377.8L447.1 377.6L447.4 383.4L447.7 390.4L448 395.1L448.3 389.1L448.6 374.5L448.9 380.7L449.2 387.9L449.5 393.5L449.8 399.9L450.1 376.5L450.4 379.6L450.7 383.8L451 391.3L451.3 395.7L451.6 386.2L451.9 377.6L452.2 382.2L452.5 388.1L452.8 394.5L453.1 396.8L453.4 373.8L453.7 379.3L454 386.6L454.3 392.5L454.6 397.7L454.9 383.5L455.2 377.8L455.5 384.1L455.8 389.6L456.1 395.8L456.4 393.5L456.7 374.1L457 380.5L457.3 387.6L457.6 393.5L457.9 398.8L458.2 380L458.5 378.6L458.8 385.5L459.1 391.2L459.4 395.7L459.7 390.7L460 375L460.3 381.1L460.6 387.9L460.9 393.7L461.2 400.3L461.5 378.4L461.8 380.1L462.1 386.3L462.4 390.8L462.7 396.2L463 388.1L463.3 379L463.6 383.2L463.9 387.9L464.2 394.8L464.5 398.9L464.8 374L465.1 381.1L465.4 385.9L465.7 393.1L466 398.5L466.3 385.1L466.6 379.6L466.9 383.6L467.2 389.2L467.5 396.8L467.8 394.3L468.1 377.4L468.4 381.5L468.7 386.6L469 393L469.3 398.9L469.6 382.2L469.9 379.1L470.2 385.7L470.5 389L470.8 395.9L471.1 391.8L471.4 378.2L471.7 381.1L472 388L472.3 393.1L472.6 399.1L472.9 379.7L473.2 380.5L473.5 386.9L473.8 391.1L474.1 397.4L474.4 390L474.7 378.6L475 383.3L475.3 390L475.6 394.1L475.9 400.2L476.2 376.7L476.5 381.2L476.8 387.1L477.1 393.1L477.4 399.3L477.7 386.3L478 378.7L478.3 385L478.6 389.5L478.9 394.5L479.2 396.7L479.5 376.4L479.8 383.1L480.1 387.1L480.4 391.2L480.7 400L481 400.7L481.3 403.9L481.6 403L481.9 403.4L482.2 404.5L482.5 403.6L482.8 404.9L483.1 403.2L483.4 406.6L483.7 404.9L484 405.9L484.3 408.1L484.6 408.7L484.9 406L485.2 411L485.5 407.2L485.8 409.7L486.1 410.1L486.4 409.2L486.7 409.3L487 412L487.3 410.7L487.6 410.2L487.9 406.8L488.2 408.6L488.5 411.7L488.8 410.3L489.1 408.6L489.4 409.1L489.7 409.7L490 411.4L490.3 411L490.6 412L490.9 409.2L491.2 412.1L491.5 409.8L491.8 410.1L492.1 413.4L492.4 410.8L492.7 410.5L493 410.4L493.3 410.2L493.6 413.2L493.9 413L494.2 412L494.5 411.2L494.8 412.5L495.1 410.8L495.4 411.6L495.7 411.6L496 411.1L496.3 413.5L496.6 413.7L496.9 413.1L497.2 408L497.5 413.9L497.8 412.1" fill="none" stroke="#e8302a" stroke-width="0.7" stroke-linejoin="round" /><path d="M415.6 459.2L415.9 454.7L416.2 456.3L416.5 455.9L416.8 457L417.1 453.6L417.4 455.1L417.7 454.6L418 454.1L418.3 454.4L418.6 454.9L418.9 455.3L419.2 454.3L419.5 456.3L419.8 454.9L420.1 450.9L420.4 457.5L420.7 455.1L421 454.6L421.3 456.1L421.6 456L421.9 455.8L422.2 454.4L422.5 456L422.8 453.4L423.1 457.9L423.4 453.8L423.7 455.4L424 455.7L424.3 456L424.6 455.3L424.9 456.4L425.2 450.2L425.5 455.3L425.8 455.3L426.1 454.9L426.4 457.8L426.7 454L427 455.4L427.3 452.4L427.6 455.9L427.9 453.1L428.2 453.1L428.5 459.1L428.8 456.6L429.1 455.5L429.4 455.8L429.7 453.3L430 453.9L430.3 456.1L430.6 452.3L430.9 455.9L431.2 452.9L431.5 455.7L431.8 453.8L432.1 458.2L432.4 430.3L432.7 436.8L433 443.8L433.3 448.4L433.6 446.9L433.9 435.8L434.2 440.6L434.5 444.9L434.8 447.6L435.1 450.8L435.4 439.5L435.7 438.6L436 443.2L436.3 445.8L436.6 451.2L436.9 444.9L437.2 436.4L437.5 441L437.8 444L438.1 447.3L438.4 451.3L438.7 437.7L439 437.5L439.3 443L439.6 446.5L439.9 450.1L440.2 444.1L440.5 436.8L440.8 442.2L441.1 444.9L441.4 448.8L441.7 449.3L442 436.2L442.3 439.6L442.6 444L442.9 449.1L443.2 451.7L443.5 442.3L443.8 439.1L444.1 441.7L444.4 446.3L444.7 451.1L445 446.6L445.3 437.9L445.6 441.6L445.9 444.5L446.2 448.5L446.5 452.6L446.8 441.8L447.1 440.4L447.4 444.3L447.7 446.6L448 450.6L448.3 446.1L448.6 438.1L448.9 440.9L449.2 445.4L449.5 449.6L449.8 451.7L450.1 438.3L450.4 440.4L450.7 443.4L451 447.7L451.3 450.6L451.6 443.1L451.9 437.5L452.2 442.6L452.5 446L452.8 449.9L453.1 450.5L453.4 437.2L453.7 439.1L454 445.2L454.3 446.6L454.6 451.8L454.9 441.4L455.2 438.5L455.5 442.6L455.8 445.6L456.1 448.8L456.4 449.3L456.7 438.3L457 441.4L457.3 444.2L457.6 447.2L457.9 450.9L458.2 440.3L458.5 439.6L458.8 443.8L459.1 446.3L459.4 449.2L459.7 446.2L460 439.4L460.3 441.8L460.6 445.3L460.9 448.7L461.2 452.4L461.5 439.3L461.8 441.3L462.1 444.4L462.4 444.5L462.7 450.3L463 447.7L463.3 437.7L463.6 442.4L463.9 446.6L464.2 449L464.5 452.1L464.8 436.4L465.1 439.7L465.4 444L465.7 446.9L466 449.9L466.3 443.9L466.6 439.7L466.9 442.8L467.2 445.8L467.5 449.7L467.8 449.1L468.1 437.4L468.4 441.9L468.7 445.1L469 448.2L469.3 452L469.6 440.7L469.9 439.9L470.2 442.9L470.5 447.9L470.8 450.4L471.1 449.4L471.4 440.1L471.7 441.7L472 444.3L472.3 449L472.6 451.6L472.9 439.9L473.2 439.7L473.5 444.5L473.8 447.4L474.1 450.8L474.4 446.1L474.7 438.5L475 440.5L475.3 445.6L475.6 448.5L475.9 451L476.2 439.4L476.5 441.1L476.8 445.8L477.1 447.9L477.4 451.6L477.7 444.6L478 440.6L478.3 442L478.6 447.3L478.9 449.7L479.2 448.9L479.5 439.1L479.8 442.1L480.1 446.2L480.4 448.9L480.7 451.3L481 447.8L481.3 454.6L481.6 454.6L481.9 453.6L482.2 453.2L482.5 455L482.8 451.2L483.1 454.5L483.4 453.4L483.7 451.6L484 454.4L484.3 454.5L484.6 457.3L484.9 456L485.2 451.2L485.5 450.6L485.8 454.3L486.1 454.2L486.4 452.9L486.7 451.9L487 454.5L487.3 452.7L487.6 453.6L487.9 456.7L488.2 455.6L488.5 453.7L488.8 453L489.1 454.9L489.4 458.7L489.7 454.3L490 458.7L490.3 453.8L490.6 455L490.9 456.8L491.2 453.9L491.5 455.6L491.8 452.8L492.1 456.8L492.4 457.8L492.7 454.3L493 455.9L493.3 454.8L493.6 451.4L493.9 460.9L494.2 456.8L494.5 457.2L494.8 456.4L495.1 456L495.4 460.2L495.7 452.1L496 455L496.3 454.8L496.6 455.2L496.9 457L497.2 454.2L497.5 453.1L497.8 453.5" fill="none" stroke="#3a87c8" stroke-width="0.7" stroke-linejoin="round" /><path d="M415.6 511.5L415.9 512.7L416.2 510.5L416.5 512.4L416.8 511.1L417.1 511.1L417.4 513.3L417.7 511.6L418 511.4L418.3 512.1L418.6 512.5L418.9 511.4L419.2 512L419.5 510.4L419.8 511L420.1 511L420.4 510.1L420.7 509.9L421 509.8L421.3 511.2L421.6 511.2L421.9 511.1L422.2 511.5L422.5 510.1L422.8 511.3L423.1 511.6L423.4 512.2L423.7 510.6L424 511L424.3 509.4L424.6 510.9L424.9 509.2L425.2 510L425.5 512.5L425.8 509.2L426.1 512.2L426.4 511.7L426.7 511.1L427 511.9L427.3 511.9L427.6 512.4L427.9 511.2L428.2 510.8L428.5 510.8L428.8 510.4L429.1 511.4L429.4 510.6L429.7 512.5L430 509.5L430.3 510.3L430.6 510.4L430.9 509.3L431.2 513.3L431.5 509L431.8 511.1L432.1 510.9L432.4 476L432.7 490L433 505.1L433.3 506.9L433.6 505.5L433.9 496.8L434.2 500.6L434.5 502.5L434.8 506.1L435.1 509.3L435.4 500.1L435.7 497.5L436 502.8L436.3 505.4L436.6 507.5L436.9 504.3L437.2 497.5L437.5 501.7L437.8 503.8L438.1 506.4L438.4 509.1L438.7 497.4L439 499.4L439.3 501.9L439.6 506.6L439.9 507.1L440.2 500.5L440.5 498.2L440.8 501.1L441.1 504.3L441.4 506.9L441.7 507.6L442 497.3L442.3 500.5L442.6 502.6L442.9 505.5L443.2 509.8L443.5 501.5L443.8 498.2L444.1 503L444.4 505L444.7 507.1L445 505.5L445.3 497.7L445.6 499.9L445.9 502.7L446.2 505.4L446.5 508.8L446.8 500.4L447.1 499L447.4 501.2L447.7 505.4L448 507.9L448.3 505.2L448.6 498.8L448.9 500.8L449.2 503.7L449.5 506.6L449.8 508.8L450.1 498.7L450.4 500.6L450.7 502.7L451 505.3L451.3 508.1L451.6 502.8L451.9 498.1L452.2 501.1L452.5 503.7L452.8 506.8L453.1 507.2L453.4 497.6L453.7 500.2L454 502.3L454.3 504.5L454.6 508.7L454.9 502.5L455.2 498.6L455.5 501.6L455.8 504.3L456.1 507.9L456.4 506.2L456.7 498.5L457 500.5L457.3 504L457.6 506.3L457.9 508.9L458.2 499.5L458.5 499.1L458.8 502.1L459.1 505.5L459.4 508L459.7 504.9L460 498.6L460.3 501.7L460.6 503.8L460.9 506.4L461.2 509.2L461.5 499.5L461.8 500.3L462.1 502.2L462.4 505.7L462.7 508L463 503.4L463.3 499.6L463.6 502.1L463.9 503.9L464.2 507.2L464.5 509L464.8 497.3L465.1 500.4L465.4 503.6L465.7 504.9L466 508.9L466.3 502.9L466.6 499.6L466.9 501.3L467.2 505L467.5 507L467.8 507.6L468.1 498.6L468.4 501L468.7 503.2L469 506L469.3 509.6L469.6 500.6L469.9 500.1L470.2 502.8L470.5 505L470.8 509.4L471.1 505.9L471.4 500L471.7 500.2L472 502.7L472.3 507.4L472.6 509.8L472.9 499.6L473.2 500.2L473.5 501.8L473.8 505.3L474.1 507.7L474.4 504.4L474.7 499.7L475 501.9L475.3 504.7L475.6 506.8L475.9 508.9L476.2 498.6L476.5 500.5L476.8 504.1L477.1 505.5L477.4 509.8L477.7 502.5L478 500.2L478.3 501.8L478.6 505.9L478.9 507.7L479.2 508L479.5 499L479.8 500.8L480.1 503.2L480.4 505.2L480.7 509.4L481 507.2L481.3 507.6L481.6 508.6L481.9 511.5L482.2 506.8L482.5 509.6L482.8 508.9L483.1 510.3L483.4 507.4L483.7 509.4L484 511.1L484.3 512.2L484.6 512.3L484.9 509.2L485.2 510.5L485.5 510.4L485.8 508.8L486.1 508.8L486.4 511.7L486.7 511.1L487 510.6L487.3 512.4L487.6 509.6L487.9 511.6L488.2 511L488.5 510.9L488.8 511.7L489.1 511.3L489.4 511.5L489.7 511.5L490 513.7L490.3 510.8L490.6 512.5L490.9 512L491.2 510.8L491.5 512.3L491.8 510.1L492.1 512.8L492.4 510.2L492.7 510.6L493 511.7L493.3 512.4L493.6 512.5L493.9 512.5L494.2 511.1L494.5 510.1L494.8 512.1L495.1 511.7L495.4 510.1L495.7 512.6L496 511.6L496.3 510.1L496.6 511.9L496.9 509.6L497.2 510.2L497.5 511.9L497.8 509.3" fill="none" stroke="#1a1a1a" stroke-width="0.7" stroke-linejoin="round" /><rect x="415.6" y="520.3" width="15.9" height="3" fill="#231f20" /><text x="416.20" y="534.40" style="font-size:11.09px;" fill="#231f20" >1 s</text><rect x="501.8" y="496.5" width="3" height="20.6" fill="#231f20" /><text transform="translate(516.2,517.1) rotate(-90)" style="font-size:11.2px" fill="#231f20">0.05 <tspan style="font-style:italic">σ</tspan></text><line x1="502.8" y1="324.4" x2="502.8" y2="368.5" stroke="#231f20" stroke-width="1.0" /><line x1="498.8" y1="324.4" x2="503.3" y2="324.4" stroke="#231f20" stroke-width="1.0" /><text x="491.80" y="328.30" text-anchor="end" style="font-size:11.30px;" fill="#231f20">0.2</text><line x1="498.8" y1="368.5" x2="503.3" y2="368.5" stroke="#231f20" stroke-width="1.0" /><text x="491.80" y="372.40" text-anchor="end" style="font-size:11.30px;" fill="#231f20">−0.1</text><line x1="510.2" y1="331.9" x2="510.2" y2="355.4" stroke="#e8302a" stroke-width="1" /><line x1="510.2" y1="344.2" x2="510.2" y2="358.6" stroke="#e8302a" stroke-width="1" /><rect x="506.5" y="344.2" width="7.4" height="11.2" fill="#f6c1bd" stroke="#e8302a" stroke-width="1"/><line x1="506.5" y1="350" x2="513.9" y2="350" stroke="#e8302a" stroke-width="1" /><line x1="508.4" y1="331.9" x2="512" y2="331.9" stroke="#e8302a" stroke-width="0.8" /><line x1="508.4" y1="358.6" x2="512" y2="358.6" stroke="#e8302a" stroke-width="0.8" /><line x1="521.1" y1="341.8" x2="521.1" y2="356.6" stroke="#3a87c8" stroke-width="1" /><line x1="521.1" y1="349.7" x2="521.1" y2="360.3" stroke="#3a87c8" stroke-width="1" /><rect x="517.6" y="349.7" width="7" height="6.9" fill="#c6dbee" stroke="#3a87c8" stroke-width="1"/><line x1="517.6" y1="353" x2="524.6" y2="353" stroke="#3a87c8" stroke-width="1" /><line x1="519.3" y1="341.8" x2="522.9" y2="341.8" stroke="#3a87c8" stroke-width="0.8" /><line x1="519.3" y1="360.3" x2="522.9" y2="360.3" stroke="#3a87c8" stroke-width="0.8" /><line x1="531.1" y1="345.5" x2="531.1" y2="355.4" stroke="#1a1a1a" stroke-width="1" /><line x1="531.1" y1="351.2" x2="531.1" y2="360.3" stroke="#1a1a1a" stroke-width="1" /><rect x="527.6" y="351.2" width="6.9" height="4.2" fill="#9a9a9a" stroke="#1a1a1a" stroke-width="1"/><line x1="527.6" y1="353.3" x2="534.5" y2="353.3" stroke="#1a1a1a" stroke-width="1" /><line x1="529.3" y1="345.5" x2="532.9" y2="345.5" stroke="#1a1a1a" stroke-width="0.8" /><line x1="529.3" y1="360.3" x2="532.9" y2="360.3" stroke="#1a1a1a" stroke-width="0.8" /><line x1="509" y1="317" x2="531.3" y2="317" stroke="#231f20" stroke-width="1" /><text x="511.00" y="315.50" style="font-size:11.58px;" fill="#231f20" >****</text><line x1="509" y1="325.7" x2="520.1" y2="325.7" stroke="#231f20" stroke-width="1" /><text x="507.50" y="324.20" style="font-size:10.73px;" fill="#231f20" >***</text><line x1="520.1" y1="339.3" x2="531.3" y2="339.3" stroke="#231f20" stroke-width="1" /><text x="517.60" y="336.80" style="font-size:11.08px;" fill="#231f20" >NS</text><text transform="translate(518.6,420.4) rotate(-90)" text-anchor="middle" style="font-size:11.3px" fill="#231f20">CGRP stimulation</text><text transform="translate(532,411.7) rotate(-90)" text-anchor="middle" style="font-size:11.3px" fill="#231f20">bout response</text><text x="560.50" y="287.30" style="font-size:19.0px;font-weight:bold" fill="#000" stroke="#000" stroke-width="0.6">g</text><text x="594.60" y="303.75" style="font-size:11.70px;" fill="#231f20" >Train decoder during consumption</text><path d="M777.6 297.8 h4.8 l-2.4 5Z" fill="#e8302a" stroke="none" stroke-width="1" /><text x="786.70" y="302.80" style="font-size:10.28px;" fill="#231f20" >Flavour</text><path d="M777.6 309.3 h4.8 l-2.4 5Z" fill="#3a87c8" stroke="none" stroke-width="1" /><text x="786.70" y="314.50" style="font-size:10.65px;" fill="#231f20" >Water</text><rect x="778" y="318.6" width="4" height="4" fill="#2f9b50" /><text x="786.70" y="326.00" style="font-size:10.14px;" fill="#231f20" >CGRP</text><text transform="translate(570.5,320.8) rotate(-90)" text-anchor="middle" style="font-size:11.3px" fill="#231f20">Decoder</text><text transform="translate(583,320.8) rotate(-90)" text-anchor="middle" style="font-size:11.3px" fill="#231f20">output</text><path d="M591.5 332.7L655 332.7L655 332.7L655.8 324.3L656.7 317.4L657.5 317.2L658.3 317.5L659.2 317.5L660 317.5L660.8 317.2L661.7 317.5L662.5 317.2L663.3 317.3L664.2 317.5L665 317.3L665.8 317.4L666.7 324.2L667.5 332.7L667.5 332.7L759.2 332.7L759.2 332.7L760 326.1L760.8 319L761.7 317.4L762.5 317.5L763.3 317.4L764.1 317.4L764.9 317.1L765.8 317.5L766.6 317.5L767.4 317.3L768.2 317.3L769.1 317.1L769.9 317.2L770.7 317.4L771.5 317.5L772.3 317.2L773.2 319L774 326.1L774.8 332.7L774.8 332.7L788.8 332.7Z" fill="#d3e3f1" stroke="none"/><path d="M591.5 332.7L655 332.7L655 332.7L655.8 324.3L656.7 317.4L657.5 317.2L658.3 317.5L659.2 317.5L660 317.5L660.8 317.2L661.7 317.5L662.5 317.2L663.3 317.3L664.2 317.5L665 317.3L665.8 317.4L666.7 324.2L667.5 332.7L667.5 332.7L759.2 332.7L759.2 332.7L760 326.1L760.8 319L761.7 317.4L762.5 317.5L763.3 317.4L764.1 317.4L764.9 317.1L765.8 317.5L766.6 317.5L767.4 317.3L768.2 317.3L769.1 317.1L769.9 317.2L770.7 317.4L771.5 317.5L772.3 317.2L773.2 319L774 326.1L774.8 332.7L774.8 332.7L788.8 332.7" fill="none" stroke="#3a87c8" stroke-width="1.2" stroke-linejoin="round" /><path d="M591.5 332.7L610 332.7L610 332.7L610.8 330.4L611.5 331.8L612.2 332.7L613 332.7L613 332.7L619 332.7L619 332.7L619.8 330.4L620.5 331.8L621.2 332.7L622 332.7L622 332.7L701 332.7L701 332.7L701.8 330.4L702.5 331.8L703.2 332.7L704 332.7L704 332.7L788.8 332.7Z" fill="none" stroke="none"/><path d="M591.5 332.7L610 332.7L610 332.7L610.8 330.4L611.5 331.8L612.2 332.7L613 332.7L613 332.7L619 332.7L619 332.7L619.8 330.4L620.5 331.8L621.2 332.7L622 332.7L622 332.7L701 332.7L701 332.7L701.8 330.4L702.5 331.8L703.2 332.7L704 332.7L704 332.7L788.8 332.7" fill="none" stroke="#3a87c8" stroke-width="1.2" stroke-linejoin="round" /><path d="M595.6 332.7L595.6 332.7L595.6 332.7L596.4 325.1L597.2 317.8L598.1 317.2L598.9 317.2L599.7 317.5L600.5 317.3L601.4 317.5L602.2 317.5L603 317.4L603.8 317.4L604.7 317.4L605.5 317.3L606.3 317.2L607.1 317.1L608 317.4L608.8 325.1L609.6 332.7L609.6 332.7L609.6 332.7Z" fill="#f6c9c6" stroke="none"/><path d="M595.6 332.7L595.6 332.7L595.6 332.7L596.4 325.1L597.2 317.8L598.1 317.2L598.9 317.2L599.7 317.5L600.5 317.3L601.4 317.5L602.2 317.5L603 317.4L603.8 317.4L604.7 317.4L605.5 317.3L606.3 317.2L607.1 317.1L608 317.4L608.8 325.1L609.6 332.7L609.6 332.7L609.6 332.7" fill="none" stroke="#e8302a" stroke-width="1.2" stroke-linejoin="round" /><path d="M701.5 332.7L701.5 332.7L701.5 332.7L702.3 325.2L703.1 317.6L704 317.3L704.8 317.3L705.6 317.5L706.4 317.5L707.2 317.1L708 317.3L708.9 317.2L709.7 317.5L710.5 317.4L711.3 317.1L712.1 317.3L712.9 317.1L713.8 317.8L714.6 325.2L715.4 332.7L715.4 332.7L715.4 332.7Z" fill="#f6c9c6" stroke="none"/><path d="M701.5 332.7L701.5 332.7L701.5 332.7L702.3 325.2L703.1 317.6L704 317.3L704.8 317.3L705.6 317.5L706.4 317.5L707.2 317.1L708 317.3L708.9 317.2L709.7 317.5L710.5 317.4L711.3 317.1L712.1 317.3L712.9 317.1L713.8 317.8L714.6 325.2L715.4 332.7L715.4 332.7L715.4 332.7" fill="none" stroke="#e8302a" stroke-width="1.2" stroke-linejoin="round" /><path d="M592.4 309.3 h4.4 l-2.2 4.6Z" fill="#e8302a" stroke="none" stroke-width="1" /><path d="M652.4 309.3 h4.4 l-2.2 4.6Z" fill="#3a87c8" stroke="none" stroke-width="1" /><path d="M699.3 309.3 h4.4 l-2.2 4.6Z" fill="#e8302a" stroke="none" stroke-width="1" /><path d="M757.4 309.3 h4.4 l-2.2 4.6Z" fill="#3a87c8" stroke="none" stroke-width="1" /><path d="M829.2 332.4L838 332.4L838 332.4L838.8 331L839.7 330.2L840.5 331.6L841.3 332.4L842.2 332.4L843 332.4L843 332.4L927 332.4L927 332.4L927.8 330.8L928.6 330.8L929.4 332.4L930.2 332.4L931 332.4L931 332.4L932 332.4L932 332.4L932.8 330.8L933.6 330.8L934.4 332.4L935.2 332.4L936 332.4L936 332.4L1028.6 332.4Z" fill="none" stroke="none"/><path d="M829.2 332.4L838 332.4L838 332.4L838.8 331L839.7 330.2L840.5 331.6L841.3 332.4L842.2 332.4L843 332.4L843 332.4L927 332.4L927 332.4L927.8 330.8L928.6 330.8L929.4 332.4L930.2 332.4L931 332.4L931 332.4L932 332.4L932 332.4L932.8 330.8L933.6 330.8L934.4 332.4L935.2 332.4L936 332.4L936 332.4L1028.6 332.4" fill="none" stroke="#3a87c8" stroke-width="1.2" stroke-linejoin="round" /><path d="M829.2 332.4L829.2 332.4L829.2 332.4L830 325.7L830.9 323L831.7 322.4L832.6 321.3L833.4 317.4L834.3 320.6L835.1 320.9L836 321.7L836.8 322.6L837.7 325.6L838.5 332.4L838.5 332.4L841.5 332.4L841.5 332.4L842.3 329.1L843.1 325.9L844 322.6L844.8 319.4L845.6 321.3L846.4 324.6L847.2 327.8L848.1 331.1L848.9 332.4L849.7 332.4L850.5 332.4L851.4 332.4L852.2 332.4L853 332.4L853 332.4L857.5 332.4L857.5 332.4L858.4 326.3L859.2 324.5L860.1 322.4L860.9 320.2L861.8 319.1L862.6 320.9L863.5 320.6L864.3 320.9L865.2 319.8L866 321.4L866.9 322.9L867.7 326.3L868.6 332.4L868.6 332.4L876 332.4L876 332.4L876.9 326.7L877.8 321L878.6 322.1L879.5 327.8L880.4 332.4L881.2 332.4L882.1 332.4L883 332.4L883 332.4L887.8 332.4L887.8 332.4L888.6 325.7L889.5 324L890.3 323.1L891.2 320.6L892 320.2L892.8 320.3L893.7 321.1L894.5 321.5L895.4 320.5L896.2 324.8L897.1 326.3L897.9 332.4L897.9 332.4L901.6 332.4L901.6 332.4L902.4 325.6L903.3 323.7L904.1 322.2L904.9 320L905.7 318.4L906.6 319.1L907.4 318.5L908.2 321.5L909 323.1L909.9 325.8L910.7 332.4L910.7 332.4L919 332.4L919 332.4L919.8 326.2L920.6 324.2L921.5 322.4L922.3 318.8L923.1 318.3L923.9 317.5L924.7 319.2L925.5 320.9L926.4 324.1L927.2 325.6L928 332.4L928 332.4L945.6 332.4L945.6 332.4L946.4 322.9L947.3 317.5L948.1 317.5L949 317.5L949.8 317.3L950.7 317.4L951.5 317.5L952.4 317.3L953.2 317.3L954.1 317.3L954.9 317.6L955.8 322.8L956.6 332.4L956.6 332.4L957.5 332.4L957.5 332.4L958.3 322.9L959.2 317.3L960 317.5L960.9 317.5L961.7 317.3L962.6 317.5L963.4 317.6L964.3 317.6L965.1 317.5L966 317.3L966.8 317.5L967.7 322.7L968.5 332.4L968.5 332.4L971.3 332.4L971.3 332.4L972.1 322L973 317.4L973.8 317.4L974.6 317.2L975.5 317.5L976.3 317.6L977.1 317.6L978 317.4L978.8 317.5L979.6 317.4L980.5 322.2L981.3 332.4L981.3 332.4L983 332.4L983 332.4L983.8 326.8L984.6 325.1L985.4 321.6L986.2 321L987 320.5L987.8 318.5L988.6 320.2L989.4 318.7L990.2 318.2L991 320.1L991.8 321.8L992.6 323.8L993.4 324.5L994.2 327.7L995 332.4L995 332.4L1005 332.4L1005 332.4L1005.8 326.6L1006.6 324.3L1007.4 322.7L1008.2 320.1L1009 320.9L1009.8 319.9L1010.6 318.5L1011.4 318.9L1012.2 320.5L1013 320.5L1013.8 320.2L1014.6 323.4L1015.4 324.2L1016.2 327.9L1017 332.4L1017 332.4L1019.8 332.4L1019.8 332.4L1020.7 326.2L1021.6 321.4L1022.4 319.7L1023.3 321.1L1024.2 320.1L1025.1 319.5L1026 319L1026.8 323.7L1027.7 326.7L1028.6 332.4L1028.6 332.4L1028.6 332.4Z" fill="#f6c9c6" stroke="none"/><path d="M829.2 332.4L829.2 332.4L829.2 332.4L830 325.7L830.9 323L831.7 322.4L832.6 321.3L833.4 317.4L834.3 320.6L835.1 320.9L836 321.7L836.8 322.6L837.7 325.6L838.5 332.4L838.5 332.4L841.5 332.4L841.5 332.4L842.3 329.1L843.1 325.9L844 322.6L844.8 319.4L845.6 321.3L846.4 324.6L847.2 327.8L848.1 331.1L848.9 332.4L849.7 332.4L850.5 332.4L851.4 332.4L852.2 332.4L853 332.4L853 332.4L857.5 332.4L857.5 332.4L858.4 326.3L859.2 324.5L860.1 322.4L860.9 320.2L861.8 319.1L862.6 320.9L863.5 320.6L864.3 320.9L865.2 319.8L866 321.4L866.9 322.9L867.7 326.3L868.6 332.4L868.6 332.4L876 332.4L876 332.4L876.9 326.7L877.8 321L878.6 322.1L879.5 327.8L880.4 332.4L881.2 332.4L882.1 332.4L883 332.4L883 332.4L887.8 332.4L887.8 332.4L888.6 325.7L889.5 324L890.3 323.1L891.2 320.6L892 320.2L892.8 320.3L893.7 321.1L894.5 321.5L895.4 320.5L896.2 324.8L897.1 326.3L897.9 332.4L897.9 332.4L901.6 332.4L901.6 332.4L902.4 325.6L903.3 323.7L904.1 322.2L904.9 320L905.7 318.4L906.6 319.1L907.4 318.5L908.2 321.5L909 323.1L909.9 325.8L910.7 332.4L910.7 332.4L919 332.4L919 332.4L919.8 326.2L920.6 324.2L921.5 322.4L922.3 318.8L923.1 318.3L923.9 317.5L924.7 319.2L925.5 320.9L926.4 324.1L927.2 325.6L928 332.4L928 332.4L945.6 332.4L945.6 332.4L946.4 322.9L947.3 317.5L948.1 317.5L949 317.5L949.8 317.3L950.7 317.4L951.5 317.5L952.4 317.3L953.2 317.3L954.1 317.3L954.9 317.6L955.8 322.8L956.6 332.4L956.6 332.4L957.5 332.4L957.5 332.4L958.3 322.9L959.2 317.3L960 317.5L960.9 317.5L961.7 317.3L962.6 317.5L963.4 317.6L964.3 317.6L965.1 317.5L966 317.3L966.8 317.5L967.7 322.7L968.5 332.4L968.5 332.4L971.3 332.4L971.3 332.4L972.1 322L973 317.4L973.8 317.4L974.6 317.2L975.5 317.5L976.3 317.6L977.1 317.6L978 317.4L978.8 317.5L979.6 317.4L980.5 322.2L981.3 332.4L981.3 332.4L983 332.4L983 332.4L983.8 326.8L984.6 325.1L985.4 321.6L986.2 321L987 320.5L987.8 318.5L988.6 320.2L989.4 318.7L990.2 318.2L991 320.1L991.8 321.8L992.6 323.8L993.4 324.5L994.2 327.7L995 332.4L995 332.4L1005 332.4L1005 332.4L1005.8 326.6L1006.6 324.3L1007.4 322.7L1008.2 320.1L1009 320.9L1009.8 319.9L1010.6 318.5L1011.4 318.9L1012.2 320.5L1013 320.5L1013.8 320.2L1014.6 323.4L1015.4 324.2L1016.2 327.9L1017 332.4L1017 332.4L1019.8 332.4L1019.8 332.4L1020.7 326.2L1021.6 321.4L1022.4 319.7L1023.3 321.1L1024.2 320.1L1025.1 319.5L1026 319L1026.8 323.7L1027.7 326.7L1028.6 332.4L1028.6 332.4L1028.6 332.4" fill="none" stroke="#e8302a" stroke-width="1.2" stroke-linejoin="round" /><line x1="829.2" y1="310.4" x2="833.8" y2="310.4" stroke="#2f9b50" stroke-width="1.9" /><line x1="840.5" y1="310.4" x2="849" y2="310.4" stroke="#2f9b50" stroke-width="1.9" /><line x1="856.3" y1="310.4" x2="864.9" y2="310.4" stroke="#2f9b50" stroke-width="1.9" /><line x1="886.9" y1="310.4" x2="895.2" y2="310.4" stroke="#2f9b50" stroke-width="1.9" /><line x1="900.1" y1="310.4" x2="908.9" y2="310.4" stroke="#2f9b50" stroke-width="1.9" /><line x1="913.9" y1="310.4" x2="922.3" y2="310.4" stroke="#2f9b50" stroke-width="1.9" /><line x1="945" y1="310.4" x2="953.5" y2="310.4" stroke="#2f9b50" stroke-width="1.9" /><line x1="956.6" y1="310.4" x2="965.2" y2="310.4" stroke="#2f9b50" stroke-width="1.9" /><line x1="970.3" y1="310.4" x2="979.1" y2="310.4" stroke="#2f9b50" stroke-width="1.9" /><line x1="984.1" y1="310.4" x2="992.7" y2="310.4" stroke="#2f9b50" stroke-width="1.9" /><line x1="1004.8" y1="310.4" x2="1013.4" y2="310.4" stroke="#2f9b50" stroke-width="1.9" /><line x1="1019.5" y1="310.4" x2="1028.1" y2="310.4" stroke="#2f9b50" stroke-width="1.9" /><text x="868.60" y="288.75" style="font-size:11.59px;" fill="#231f20" >Evaluate decoder during</text><text x="885.60" y="302.50" style="font-size:11.49px;" fill="#231f20" >CGRP stimulation</text><g transform="translate(591.5 0) scale(0.25 1)"><path d="M0 340.1H787" stroke="#e8302a" stroke-opacity="0.22" stroke-width="5.00" stroke-dasharray="0 5 1 1 2 5 2 5 2 8 2 10 2 12 2 1 1 8 1 7 2 1 2 1 2 12 1 8 2 1 2 1 2 7 2 1 1 6 2 1 2 12 1 1 2 3 2 4 2 1 1 4 2 4 2 5 2 7 1 1 1 1 2 13 2 1 2 1 2 7 2 6 2 12 2 2 2 8 2 3 2 22 1 2 2 2 2 3 2 3 2 9 2 2 1 1 1 7 1 2 2 1 1 2 2 1 2 6 2 5 2 22 2 11 1 6 2 6 2 7 1 8 2 1 2 6 1 7 2 15 1 1 2 6 2 13 1 6 1 10 2 2 2 6 1 1 2 1 2 18 2 1 2 8 2 1 2 1 2 2 2 1 2 2 2 5 1 7 2 1 2 2 1 9 2 3 1 5 2 7 2 5 2 1 1 4 2 10 2 4 2 1 2 1 2 53 2 9 2 10 1 3 1 13 1 1 1 12 1 15"/><path d="M0 340.1H787" stroke="#e8302a" stroke-opacity="0.5" stroke-width="5.00" stroke-dasharray="0 4 2 6 2 92 2 30 2 62 2 8 2 38 1 5 2 16 2 55 2 7 2 19 1 30 2 7 2 36 2 5 2 8 1 49 1 2 2 134 1 13 2 35 1 27 1 67"/><path d="M0 347.4H787" stroke="#e8302a" stroke-opacity="0.22" stroke-width="5.00" stroke-dasharray="0 5 2 3 2 1 1 2 2 1 2 1 2 15 2 4 2 6 2 3 1 10 2 7 2 7 2 16 2 1 2 4 2 3 1 1 2 4 1 11 2 9 2 2 2 2 2 11 2 3 2 5 1 1 2 1 1 3 1 3 1 8 1 7 1 7 2 14 1 19 1 2 1 3 1 4 2 7 2 1 2 2 2 1 1 13 2 1 2 3 1 1 1 3 2 2 2 2 2 6 1 1 2 2 2 9 2 8 2 1 1 1 1 1 1 2 2 3 2 3 2 5 2 11 2 3 1 1 2 2 1 14 1 3 1 2 2 15 2 6 2 2 2 3 2 2 2 1 2 4 1 2 2 2 1 3 2 3 2 12 2 3 2 7 1 3 2 1 1 1 2 7 2 4 1 2 2 2 1 2 1 1 2 1 2 2 2 5 2 1 2 6 2 21 2 2 2 1 2 1 2 4 2 1 2 13 2 6 1 7 1 17 1 1 2 1 2 12 1 9 1 8 1 13 2 1 2 1 1 3 2 25 2 2 1 1 2 5 1 6 2 5 2 9"/><path d="M0 347.4H787" stroke="#e8302a" stroke-opacity="0.5" stroke-width="5.00" stroke-dasharray="0 11 2 4 2 18 2 13 2 1 1 6 2 4 2 18 1 13 2 1 2 25 2 7 2 29 1 27 2 54 2 2 2 20 2 25 2 34 2 17 1 1 2 1 1 81 1 21 2 7 2 39 2 7 2 20 1 29 2 37 2 28 2 25 2 31 1 76"/><path d="M0 354.7H787" stroke="#e8302a" stroke-opacity="0.22" stroke-width="5.00" stroke-dasharray="0 7 2 2 2 3 1 2 2 1 2 4 2 2 2 3 2 1 2 4 2 2 2 1 2 1 1 1 2 8 2 9 1 3 2 1 2 1 1 1 1 7 2 3 1 1 1 4 2 4 2 1 2 1 2 4 2 3 2 5 1 1 1 7 1 2 2 1 1 7 1 6 2 4 2 4 2 2 1 2 2 1 1 1 2 2 1 7 2 7 2 10 2 1 1 5 1 5 2 1 2 4 1 5 2 1 2 2 1 1 2 11 1 1 2 1 2 1 1 1 2 2 2 1 2 1 1 5 1 1 2 3 2 5 1 9 1 5 2 1 2 1 2 5 2 4 1 1 2 4 2 1 1 2 2 1 2 3 2 8 2 1 2 2 2 4 2 2 2 6 1 2 1 3 2 2 1 1 2 3 2 1 1 1 2 3 2 3 1 1 2 9 1 1 2 1 2 2 2 2 1 8 2 1 2 4 1 2 2 1 2 4 2 1 2 1 2 1 2 1 2 1 2 10 2 2 2 5 2 2 1 5 2 10 1 1 2 14 2 1 2 5 1 4 2 7 2 1 1 2 2 1 2 6 2 1 2 1 1 1 2 1 1 9 2 1 1 1 1 9 1 8 2 5 2 10 2 3 1 1 1 1 2 2 2 10 2 9 2 1 1 4 1 3 1 3 2 2 2 4 1 2 2 2 1 1 2 1 2 2 2 4 2 2 1 1 2 2 2 1 2 2 2 3 2 5 2 7"/><path d="M0 354.7H787" stroke="#e8302a" stroke-opacity="0.5" stroke-width="5.00" stroke-dasharray="0 1 2 4 1 9 2 11 2 1 2 1 2 56 2 3 2 5 2 24 2 1 2 6 1 6 1 7 2 49 2 13 2 8 1 4 1 19 1 2 2 21 1 18 1 7 2 56 2 4 2 5 1 22 2 10 1 6 2 22 1 11 2 1 1 18 1 37 2 13 1 7 2 19 2 2 1 4 2 2 1 5 1 12 1 3 2 12 2 2 2 6 2 3 2 21 2 6 1 9 1 7 2 24 2 1 2 6 1 8 2 6 1 10 2 32 2 51"/><path d="M0 361.9H787" stroke="#e8302a" stroke-opacity="0.22" stroke-width="5.00" stroke-dasharray="0 1 2 15 2 41 1 1 1 74 2 14 1 30 1 47 2 8 1 7 1 8 2 42 2 13 2 1 2 17 2 7 2 9 2 3 2 1 2 5 2 13 1 24 1 16 2 64 2 43 2 20 2 26 2 45 2 56 2 4 2 28 2 10 2 1 2 6 1 2 2 3 1 21"/><path d="M0 361.9H787" stroke="#e8302a" stroke-opacity="0.5" stroke-width="5.00" stroke-dasharray="0 9 1 4 2 39 2 207 1 94 2 82 2 20 2 66 1 55 2 221"/><path d="M0 369.2H787" stroke="#e8302a" stroke-opacity="0.22" stroke-width="5.00" stroke-dasharray="0 4 1 2 2 1 2 2 2 2 2 3 2 2 1 1 2 1 1 1 2 6 2 3 1 1 1 4 2 3 1 3 2 2 2 4 2 1 2 5 1 4 1 3 1 2 2 2 2 1 2 3 2 1 1 1 1 9 2 2 1 6 2 5 1 1 2 1 2 11 2 1 2 1 2 1 2 5 2 5 1 1 1 4 2 2 1 1 1 2 1 1 1 4 1 7 2 1 1 14 2 2 1 4 2 1 1 1 1 1 2 1 2 2 2 2 2 3 1 1 1 2 2 4 2 5 2 5 1 2 2 1 1 1 2 1 2 3 2 10 2 2 1 2 1 1 2 1 2 1 2 14 1 1 1 1 1 1 2 3 2 1 1 1 2 1 2 1 2 2 1 2 2 3 2 1 2 2 2 7 2 3 1 1 2 1 2 1 1 3 1 1 2 1 1 1 2 3 1 11 1 1 1 1 2 1 1 4 1 2 2 3 1 8 1 7 1 1 2 1 2 5 2 3 2 1 1 6 2 1 2 3 2 1 1 4 1 1 2 2 2 1 2 1 2 1 2 1 1 1 2 1 2 2 2 2 1 5 2 1 2 9 2 4 2 1 1 4 2 2 1 2 2 1 1 2 1 3 1 1 1 1 2 2 2 2 2 1 2 6 1 1 1 3 2 3 2 5 2 3 1 2 2 1 1 1 2 1 1 2 1 2 1 3 2 2 1 3 1 3 2 4 2 6 2 3 1 1 1 1 1 2 1 1 2 1 1 2 2 1 1 2 1 1 2 1 1 6 1 4 2 5 1 1 2 2 2 1 1 1 2 1 2 4 1 9 1 1 1 4 2 7 1 4 1 3 2 2"/><path d="M0 369.2H787" stroke="#e8302a" stroke-opacity="0.5" stroke-width="5.00" stroke-dasharray="0 11 2 7 2 4 1 3 1 1 2 11 1 34 2 1 2 3 2 1 2 5 1 2 2 3 2 6 1 5 2 2 2 37 2 2 2 1 2 34 1 2 2 1 2 5 2 28 1 10 1 17 2 9 2 4 2 3 2 10 2 19 2 15 2 16 1 10 2 2 2 4 2 6 1 5 1 43 1 3 2 7 1 4 2 5 2 26 2 6 2 1 1 12 2 11 2 5 1 30 2 1 2 7 2 1 2 43 2 19 2 15 2 2 2 15 1 1 2 13 1 20 2 1 1 2 1 5 1 27 1 3 1 4 1 4"/><path d="M0 376.5H787" stroke="#e8302a" stroke-opacity="0.22" stroke-width="5.00" stroke-dasharray="0 10 2 3 1 4 2 5 1 6 1 3 1 1 2 1 2 13 2 6 2 8 2 1 2 4 1 5 2 6 1 2 2 4 1 3 1 13 2 8 2 4 2 5 2 3 1 4 2 7 2 16 1 1 2 25 2 4 2 1 1 4 1 5 2 2 2 8 2 4 2 6 2 2 2 3 2 1 2 1 1 1 1 7 2 1 2 10 2 1 1 6 2 4 2 2 2 1 1 8 2 10 2 7 2 1 2 2 1 2 2 1 2 1 2 9 1 10 2 1 2 5 1 3 2 6 2 1 2 1 2 2 1 15 2 1 2 2 1 2 2 4 2 1 1 1 1 10 2 5 1 5 2 3 1 1 2 4 1 1 2 3 2 1 2 1 2 14 2 1 2 10 2 7 2 1 2 5 1 15 2 1 1 2 2 10 2 10 1 13 2 1 1 1 1 2 2 7 2 2 1 4 2 4 1 5 2 11 2 4 2 7 1 4 1 14 2 1 1 1 2 10 2 1 2 4 1 5 2 2 2 1 2 1 1 9 2 11 2 3 2 3 1 15 2 1"/><path d="M0 376.5H787" stroke="#e8302a" stroke-opacity="0.5" stroke-width="5.00" stroke-dasharray="0 12 1 25 2 11 2 6 2 2 1 37 2 35 2 5 2 36 1 19 2 2 2 11 1 4 1 10 2 7 2 25 2 12 2 56 2 10 2 3 1 2 1 3 1 1 2 1 1 6 1 18 2 8 2 21 1 9 2 1 2 30 2 8 2 2 2 72 2 3 2 21 2 30 2 9 2 5 2 2 2 20 1 1 2 7 1 29 2 17 2 8 2 2 2 24 1 9 1 72"/><path d="M0 383.8H787" stroke="#e8302a" stroke-opacity="0.22" stroke-width="5.00" stroke-dasharray="0 8 1 1 2 3 2 11 2 1 2 7 2 20 2 5 2 5 1 26 2 19 2 3 2 2 2 18 2 3 2 4 2 5 1 7 2 1 1 10 2 8 2 6 2 6 2 10 2 4 2 1 2 8 1 1 2 1 2 17 2 3 2 10 2 10 2 8 2 8 1 13 2 1 2 2 2 8 1 1 1 7 2 4 1 9 2 7 2 1 2 9 2 10 1 5 2 1 1 20 2 2 1 8 2 11 1 10 2 7 1 1 2 16 1 22 2 1 2 5 2 4 2 8 2 5 1 17 1 2 2 22 1 12 2 9 1 17 1 4 1 13 2 8 2 2 2 4 2 5 1 15 1 1 2 1 2 1 2 4 2 6 2 22 2 8 2 9 2 2 1 23"/><path d="M0 383.8H787" stroke="#e8302a" stroke-opacity="0.5" stroke-width="5.00" stroke-dasharray="0 10 2 39 1 23 1 65 2 3 1 56 1 57 2 36 1 12 2 6 2 46 2 19 2 28 2 19 2 5 1 10 2 27 2 15 2 3 1 3 1 31 1 11 2 49 2 16 2 6 2 1 1 41 2 94 2 25"/><path d="M0 391.0H787" stroke="#e8302a" stroke-opacity="0.22" stroke-width="5.00" stroke-dasharray="0 12 1 1 2 5 1 8 2 1 1 1 1 7 2 23 1 7 1 6 1 8 2 8 2 1 2 4 2 4 2 1 2 67 2 2 1 16 2 22 2 2 2 2 1 5 2 1 1 1 1 3 1 8 1 8 1 13 2 1 2 3 2 9 2 2 1 13 2 15 2 1 2 30 2 18 2 7 1 13 1 11 2 7 1 6 1 19 1 1 2 7 2 1 1 8 1 7 1 9 1 19 2 1 1 2 2 12 2 5 2 3 1 11 2 5 1 1 2 1 2 10 1 2 2 22 1 9 1 3 1 5 1 3 2 3 1 6 1 20 2 6 2 1 2 9 2 1 2 13 1 7 2 1 2 17 2 16 2 2 2 9 2 3 2 22"/><path d="M0 391.0H787" stroke="#e8302a" stroke-opacity="0.5" stroke-width="5.00" stroke-dasharray="0 5 2 20 1 112 2 9 2 101 1 102 2 37 2 28 2 27 2 11 2 3 2 8 1 71 2 18 2 20 1 157 2 4 2 82"/><path d="M0 398.3H787" stroke="#e8302a" stroke-opacity="0.22" stroke-width="5.00" stroke-dasharray="0 5 2 8 2 1 2 3 2 2 2 14 2 3 2 1 2 9 2 5 2 1 2 6 1 7 2 6 2 7 1 6 1 2 1 10 2 4 1 3 1 2 2 2 2 1 1 2 1 5 2 6 2 1 2 2 2 5 1 7 2 2 2 17 2 7 1 6 1 11 1 26 2 6 2 9 2 9 2 7 2 9 2 1 2 3 1 4 2 3 1 4 1 2 2 4 1 8 2 2 2 15 2 5 2 18 2 3 1 1 2 6 2 15 2 2 1 1 2 2 2 7 1 6 1 2 1 6 2 1 1 1 2 4 2 8 1 2 2 17 2 8 1 20 2 4 1 1 1 1 2 2 1 8 2 1 2 10 2 5 1 12 2 2 2 9 2 5 2 5 1 1 1 1 1 1 1 6 1 6 2 19 1 3 1 14 1 2 2 4 2 7 2 1 2 5 1 1 2 2 1 1 2 5 2 17 2 14 2 4 1 1 2 13"/><path d="M0 398.3H787" stroke="#e8302a" stroke-opacity="0.5" stroke-width="5.00" stroke-dasharray="0 4 2 26 1 4 2 23 1 34 2 22 1 14 2 27 2 18 1 23 2 4 2 1 2 23 2 79 2 1 2 50 2 32 1 4 2 10 2 33 1 6 2 74 1 58 1 10 2 58 2 16 2 12 2 17 2 20 2 5 2 1 1 18 2 28"/><path d="M0 405.6H787" stroke="#e8302a" stroke-opacity="0.22" stroke-width="5.00" stroke-dasharray="0 0 1 3 1 25 2 5 2 12 2 8 1 14 1 1 2 2 2 12 2 9 2 40 1 22 1 12 2 5 1 44 2 1 2 9 2 5 2 2 2 11 1 3 2 6 2 7 2 4 2 7 2 11 2 5 2 3 2 3 2 1 1 7 1 4 1 2 1 34 2 8 2 13 1 3 2 4 2 20 1 1 2 16 2 14 2 8 2 2 2 7 2 23 1 6 2 1 2 28 2 24 2 37 1 19 2 13 1 5 2 5 2 13 1 11 1 4 2 9 1 17 1 35"/><path d="M0 405.6H787" stroke="#e8302a" stroke-opacity="0.5" stroke-width="5.00" stroke-dasharray="0 10 2 17 2 327 2 64 2 4 2 89 2 126 2 7 2 113 1 9 2 75"/><path d="M0 412.8H787" stroke="#e8302a" stroke-opacity="0.22" stroke-width="5.00" stroke-dasharray="0 10 1 16 2 5 2 3 2 4 2 13 2 1 1 5 2 8 1 2 2 8 2 4 2 11 2 3 2 3 1 8 2 5 1 7 1 4 2 13 2 1 1 1 2 5 2 4 2 2 1 33 2 3 2 1 1 3 2 3 2 4 2 2 2 7 2 23 2 7 1 2 2 14 2 9 1 4 2 3 1 20 1 15 1 6 2 11 1 1 1 9 2 5 1 3 2 14 2 7 1 9 2 9 1 8 2 4 1 3 1 1 2 1 2 1 2 9 2 3 1 2 2 2 2 11 2 5 1 6 1 4 1 5 1 11 2 17 2 1 1 13 1 11 2 2 2 7 2 21 1 2 1 7 1 1 2 6 2 6 1 9 2 5 2 1 1 11 2 3 1 1 1 7 2 1 2 5 2 8 1 2 2 1 2 2 1 3 1 26 2 5 2 17"/><path d="M0 412.8H787" stroke="#e8302a" stroke-opacity="0.5" stroke-width="5.00" stroke-dasharray="0 3 2 5 2 6 2 20 2 32 2 60 1 25 1 17 2 21 2 86 1 13 2 6 2 9 2 43 2 48 1 24 2 42 2 15 1 1 1 17 2 4 2 13 1 30 2 8 2 10 2 6 2 2 2 48 2 14 2 82 1 9 2 10 2 14"/><path d="M0 420.1H787" stroke="#e8302a" stroke-opacity="0.22" stroke-width="5.00" stroke-dasharray="0 9 2 10 1 16 2 33 2 22 1 6 1 1 1 39 2 20 1 10 2 1 2 6 1 24 2 54 1 1 2 65 2 7 1 12 2 61 2 6 2 5 1 3 2 9 2 20 2 8 2 9 2 9 2 32 2 8 2 1 2 17 1 7 2 17 1 1 2 14 1 4 2 93 2 25 1 15 2 9 2 17"/><path d="M0 420.1H787" stroke="#e8302a" stroke-opacity="0.5" stroke-width="5.00" stroke-dasharray="0 8 2 1 2 68 1 43 2 4 2 49 2 143 2 16 1 10 2 98 2 76 2 83 2 33 2 81 1 82"/><path d="M0 427.4H787" stroke="#e8302a" stroke-opacity="0.22" stroke-width="5.00" stroke-dasharray="0 10 2 56 2 13 2 3 1 43 2 15 2 5 2 9 1 23 2 21 1 11 2 21 2 23 2 1 1 37 2 11 1 2 2 22 2 1 1 22 1 16 1 19 2 56 2 17 1 13 1 23 2 36 1 41 2 11 2 2 2 13 2 11 1 13 2 68 2 39 1 30"/><path d="M0 427.4H787" stroke="#e8302a" stroke-opacity="0.5" stroke-width="5.00" stroke-dasharray="0 2 2 139 2 83 1 156 2 83 2 72 1 11 2 213 1 139"/></g><g transform="translate(591.5 0) scale(0.25 1)"><path d="M0 435.9H787" stroke="#3a87c8" stroke-opacity="0.22" stroke-width="5.00" stroke-dasharray="0 2 1 1 1 1 1 3 2 3 1 1 2 1 2 1 2 4 2 1 2 1 1 2 2 1 2 1 1 2 2 3 2 3 1 1 1 1 2 1 1 1 1 1 1 1 2 1 1 1 1 5 1 1 1 1 2 1 2 3 1 1 1 2 2 1 2 5 2 1 1 6 2 6 1 5 1 6 2 1 2 3 2 3 2 1 2 5 2 3 2 4 2 1 2 4 2 1 1 1 2 1 2 1 2 1 2 2 1 4 1 1 2 1 2 1 1 1 2 3 2 1 2 2 1 1 1 1 2 2 1 1 1 3 1 1 2 5 2 5 1 1 2 8 2 1 2 2 1 1 2 3 2 1 2 2 2 1 1 1 2 7 2 1 2 1 2 4 1 1 2 3 2 1 1 2 1 5 2 1 1 1 1 1 1 1 2 1 2 1 2 1 1 1 1 1 2 1 2 2 2 1 1 1 2 2 1 1 1 3 1 1 2 2 1 1 1 1 1 1 2 1 2 1 2 4 2 1 1 1 2 2 1 1 2 1 1 2 1 1 2 2 1 2 2 6 1 4 2 3 1 1 2 1 2 2 1 1 2 10 2 7 2 1 1 1 1 2 2 1 1 1 1 1 2 1 2 2 2 1 1 6 2 1 1 1 2 2 1 8 2 1 2 1 1 1 2 1 1 1 1 4 2 1 2 1 2 1 1 5 1 2 1 1 2 1 2 5 2 2 1 1 2 3 1 1 2 1 1 1 2 1 1 3 1 1 2 1 2 1 1 1 2 1 2 4 2 1 2 1 2 1 2 1 1 3 2 1 2 1 2 1 1 1 2 1 2 1 2 6 2 2 2 1 2 1 1 1 2 1 2 1 2 1 1 1 2 1 1 1 1 3 2 3 2 2 1 3 2 1 2 1 1 1 2 1 1 1 2 1 2 1 1 1 2 1 1 1 1 1 1 4 2 1 2 7 2 4 1 4 2 1 2 1 2 1 2 1 2 2 2 3 2 1 2 2 1 3 2 4 2 1 2 3 2 1 1 6 1 2 2 1"/><path d="M0 435.9H787" stroke="#3a87c8" stroke-opacity="0.5" stroke-width="5.00" stroke-dasharray="0 5 1 6 2 6 2 7 2 41 2 1 2 9 1 7 1 14 2 1 1 6 1 13 2 9 1 12 2 1 2 2 2 1 1 5 2 10 2 21 1 9 1 7 2 12 2 3 2 1 2 19 2 9 1 1 1 4 2 2 1 1 2 12 2 22 1 21 2 1 2 1 1 7 2 38 2 2 2 10 1 14 2 7 2 24 2 5 1 3 2 8 1 4 2 4 2 1 1 1 1 4 1 11 2 6 2 3 2 9 1 5 2 5 1 2 1 1 1 8 2 4 2 1 2 4 1 6 2 12 1 6 2 21 1 20 1 14 1 2 1 7 1 4 2 31 1 2 1 6 1 2 2 1 1 1 2 1 2 25 1 19"/><path d="M0 443.6H787" stroke="#3a87c8" stroke-opacity="0.22" stroke-width="5.00" stroke-dasharray="0 3 2 4 2 1 2 13 2 3 2 3 1 5 2 5 1 12 1 10 2 11 2 2 2 1 2 3 2 12 1 6 2 1 2 3 1 3 2 9 1 2 2 11 2 5 1 3 2 1 1 8 1 6 2 1 2 7 1 4 1 4 2 7 2 11 2 14 2 1 2 1 1 7 2 5 2 10 2 1 1 6 2 8 2 1 2 10 2 14 1 1 2 1 2 5 2 6 2 8 2 3 2 16 1 7 1 21 2 5 2 12 2 13 1 4 1 1 1 6 1 5 2 12 1 1 1 3 2 8 2 10 2 1 2 8 1 1 2 13 2 14 1 5 2 1 1 5 2 1 2 1 1 2 1 8 2 1 2 5 2 1 2 13 1 3 2 16 1 1 2 5 2 9 2 10 1 1 2 1 2 4 2 8 1 1 1 1 2 1 2 1 1 3 1 1 1 14 2 6 2 28 1 3 1 10 2 1 2 2 2 1 1 1 2 7"/><path d="M0 443.6H787" stroke="#3a87c8" stroke-opacity="0.5" stroke-width="5.00" stroke-dasharray="0 2 1 16 1 81 2 35 2 11 2 12 2 4 2 14 2 61 2 14 1 42 1 59 1 35 1 4 2 1 2 33 2 10 1 3 2 3 1 15 2 58 1 1 2 1 2 26 1 5 1 20 1 11 1 20 2 23 2 32 2 54 2 3 2 1 1 10 1 21"/><path d="M0 451.4H787" stroke="#3a87c8" stroke-opacity="0.22" stroke-width="5.00" stroke-dasharray="0 11 1 1 2 3 2 2 1 10 1 2 2 4 2 1 2 1 1 5 1 1 2 4 2 2 1 1 1 5 2 2 1 7 2 1 2 1 1 4 1 3 2 1 1 6 1 8 1 1 2 5 2 3 2 1 2 2 2 14 2 1 1 4 1 2 2 2 2 1 1 2 1 1 2 12 1 5 2 1 2 3 1 2 1 4 1 6 2 2 1 1 2 6 2 1 1 1 2 3 2 5 2 1 2 3 2 1 2 1 2 6 1 1 2 2 1 7 2 1 2 1 2 8 2 2 2 11 1 4 2 1 1 3 2 2 1 13 1 2 1 3 2 10 2 4 2 2 2 11 1 4 2 2 1 1 2 1 2 5 2 4 2 3 2 1 1 3 1 10 2 1 2 1 2 3 2 1 1 6 2 2 2 1 2 2 1 4 2 2 1 3 2 2 1 5 1 23 1 1 1 1 2 2 2 3 1 4 1 9 2 6 1 1 1 1 2 3 2 1 2 3 1 4 2 2 2 6 2 5 2 1 1 4 2 3 1 5 2 3 1 1 2 1 2 3 1 2 2 1 2 1 2 1 1 17 2 5 1 6 2 1 2 1 2 3 2 1 1 5 2 6 1 2 2 5 1 4 2 1 2 3 1 8 2 1 2 11 2 1 2 2 2 1 2 1 1 1 2 2 2 1 1 1 2 5 1 4 2 1 1 2 2 5"/><path d="M0 451.4H787" stroke="#3a87c8" stroke-opacity="0.5" stroke-width="5.00" stroke-dasharray="0 12 2 1 2 14 1 6 2 18 1 18 2 18 1 8 2 3 1 1 2 9 2 8 2 1 2 1 2 24 2 7 1 5 2 5 1 26 2 28 2 19 2 27 2 10 1 10 2 22 2 19 1 11 1 9 2 3 2 25 1 7 1 6 2 1 2 2 1 22 1 3 2 2 2 10 2 23 2 20 1 21 1 5 2 1 2 76 1 14 1 31 2 9 2 2 2 8 2 1 2 4 1 7 1 7 1 18 1 23 2 2 1 31"/><path d="M0 459.1H787" stroke="#3a87c8" stroke-opacity="0.22" stroke-width="5.00" stroke-dasharray="0 1 1 11 2 2 2 17 1 8 1 8 1 18 2 11 1 3 2 4 1 4 2 10 2 35 1 17 1 34 2 1 2 14 2 25 2 15 2 1 2 3 2 31 2 14 2 16 1 1 2 2 1 3 2 7 2 14 2 1 2 25 2 3 2 6 2 15 1 16 2 48 1 5 2 3 2 14 2 5 2 41 2 10 1 1 2 1 1 15 2 13 1 1 1 20 2 1 2 30 2 12 2 1 2 3 2 11 1 3 1 1 2 2 2 2 2 16 2 1 1 14 2 2 1 2 2 16"/><path d="M0 459.1H787" stroke="#3a87c8" stroke-opacity="0.5" stroke-width="5.00" stroke-dasharray="0 4 1 13 2 4 1 2 2 49 2 64 2 67 1 9 1 47 2 5 2 10 2 52 2 21 2 15 2 136 2 32 2 25 1 47 2 20 2 13 1 7 2 26 2 17 1 9 2 18 2 41"/></g><g transform="translate(591.5 0) scale(0.25 1)"><path d="M0 467.6H787" stroke="#222" stroke-opacity="0.22" stroke-width="5.00" stroke-dasharray="0 8 1 24 2 11 1 1 1 10 2 15 1 3 2 43 2 4 1 1 2 13 2 15 2 35 2 53 2 2 1 8 2 2 2 3 2 21 2 33 2 19 2 6 2 8 2 3 2 31 1 10 2 8 1 9 1 13 2 2 2 13 2 38 2 10 2 32 1 5 2 9 2 11 1 1 1 2 2 1 1 3 2 6 2 43 2 11 1 20 2 5 2 28 2 1 2 12 1 5 2 2 2 11 2 26"/><path d="M0 467.6H787" stroke="#222" stroke-opacity="0.5" stroke-width="5.00" stroke-dasharray="0 1 2 10 1 9 1 50 2 1 2 34 1 14 2 79 2 6 1 26 2 134 2 79 2 2 2 105 1 47 1 25 2 87 2 62"/><path d="M0 475.2H787" stroke="#222" stroke-opacity="0.22" stroke-width="5.00" stroke-dasharray="0 2 2 3 2 23 1 14 2 43 2 14 2 16 1 14 2 4 2 9 2 20 1 24 1 13 1 30 1 16 2 7 1 13 2 26 2 4 1 1 2 19 1 3 1 3 2 58 1 16 2 5 1 13 2 11 1 2 1 21 1 36 2 35 1 31 2 1 2 39 2 59 2 17 1 1 2 18 2 11 2 9 2 17"/><path d="M0 475.2H787" stroke="#222" stroke-opacity="0.5" stroke-width="5.00" stroke-dasharray="0 12 2 75 2 318 2 70 2 148 2 9 2 73 2 58 2 202"/><path d="M0 482.8H787" stroke="#222" stroke-opacity="0.22" stroke-width="5.00" stroke-dasharray="0 10 2 1 2 6 2 1 2 1 2 3 1 3 2 1 2 7 2 1 2 8 2 4 1 3 2 5 2 3 1 3 2 2 2 3 2 2 1 7 2 5 2 2 2 5 1 11 2 3 2 6 2 1 1 3 1 1 2 1 1 7 1 14 1 2 2 2 2 4 2 3 2 5 2 18 2 38 1 12 2 4 2 1 1 1 2 3 2 1 2 1 2 1 1 11 2 15 2 5 2 5 2 7 1 12 1 13 2 1 2 1 2 6 2 3 2 8 1 1 2 1 1 1 2 5 1 9 1 6 2 4 2 9 2 7 1 6 1 19 1 2 2 2 2 1 1 6 2 1 2 4 1 59 1 6 2 11 1 3 2 1 2 1 2 5 2 2 1 5 2 4 1 1 2 8 1 6 2 7 2 4 1 4 2 33 2 3 1 6 2 1 2 6 2 4 2 7 2 7 2 1 2 4 2 10 2 5 2 2"/><path d="M0 482.8H787" stroke="#222" stroke-opacity="0.5" stroke-width="5.00" stroke-dasharray="0 11 2 8 1 21 2 19 1 7 2 35 2 39 2 17 2 21 2 9 2 4 2 2 2 1 2 3 2 2 2 33 2 11 1 14 1 71 2 19 2 115 1 89 2 42 2 1 1 22 1 3 2 48 2 29 1 22 2 10 1 25"/><path d="M0 490.4H787" stroke="#222" stroke-opacity="0.22" stroke-width="5.00" stroke-dasharray="0 2 1 50 1 1 1 78 2 3 1 90 2 8 2 94 2 57 2 38 2 83 1 16 2 13 1 55 2 9 2 80 1 36 1 111"/><path d="M0 490.4H787" stroke="#222" stroke-opacity="0.5" stroke-width="5.00" stroke-dasharray="0 4 2 182 2 311 2 493"/><path d="M0 498.0H787" stroke="#222" stroke-opacity="0.22" stroke-width="5.00" stroke-dasharray="0 9 1 4 2 32 1 6 2 3 1 5 2 7 2 11 2 1 2 4 2 15 1 46 1 1 1 68 1 6 2 8 2 51 2 51 2 12 2 4 1 13 2 16 2 24 2 2 2 2 2 121 1 14 1 14 2 30 2 6 2 46 1 86 2 47"/><path d="M0 498.0H787" stroke="#222" stroke-opacity="0.5" stroke-width="5.00" stroke-dasharray="0 7 1 29 2 63 1 86 2 98 1 45 2 169 2 64 2 82 1 284"/><path d="M0 505.6H787" stroke="#222" stroke-opacity="0.22" stroke-width="5.00" stroke-dasharray="0 7 2 7 1 11 2 2 1 4 2 30 2 5 1 1 1 12 2 4 2 2 2 10 1 1 1 4 2 1 1 10 1 6 1 1 2 6 2 5 2 7 1 6 2 1 2 17 1 1 2 29 2 5 1 3 2 14 2 21 1 24 2 24 2 1 1 12 1 10 2 4 2 6 2 6 2 3 1 3 1 13 2 27 2 1 2 36 2 2 2 9 1 13 1 2 2 3 2 7 1 5 1 17 2 4 1 11 2 4 1 1 2 11 1 10 1 7 2 16 2 11 1 9 2 2 2 2 2 5 2 4 2 6 1 5 2 11 1 5 2 7 1 12 2 20 1 8 2 8 2 6 2 1 2 19"/><path d="M0 505.6H787" stroke="#222" stroke-opacity="0.5" stroke-width="5.00" stroke-dasharray="0 11 2 13 1 1 1 105 2 2 2 21 2 38 2 4 2 56 2 12 2 14 1 3 2 18 2 18 2 9 1 55 2 44 2 21 2 2 2 84 2 51 1 15 2 11 2 19 2 23 2 3 1 58 1 1 1 8 2 4 2 62"/><path d="M0 513.2H787" stroke="#222" stroke-opacity="0.22" stroke-width="5.00" stroke-dasharray="0 11 2 5 2 4 2 3 1 3 1 3 2 6 2 1 1 1 2 8 1 7 1 1 2 8 2 6 1 4 2 25 2 1 1 1 2 1 2 1 2 4 1 11 2 5 2 5 1 2 2 11 2 1 2 5 2 4 2 4 1 9 1 3 2 16 2 10 2 14 2 19 2 6 2 6 1 13 2 9 1 1 1 1 2 12 2 1 1 18 2 7 2 26 1 3 1 4 2 5 2 3 1 5 1 1 2 3 2 1 1 13 1 12 2 5 2 4 2 4 2 19 1 18 1 3 2 7 1 4 2 5 1 2 2 1 2 7 2 1 1 4 1 12 2 21 1 14 1 2 1 6 2 1 2 22 2 7 2 12 1 6 1 13 2 5 1 12 2 1 2 7 2 2 2 8 2 3 2 1 1 7 2 15 2 14"/><path d="M0 513.2H787" stroke="#222" stroke-opacity="0.5" stroke-width="5.00" stroke-dasharray="0 8 1 29 2 25 1 11 2 4 1 27 2 37 1 26 2 36 2 12 2 82 2 18 2 16 2 63 2 35 1 6 2 2 2 12 2 6 1 3 1 15 2 4 1 33 2 35 2 36 2 43 2 1 2 23 1 105"/></g><rect x="591.5" y="335.8" width="196.8" height="181.7" fill="none" stroke="#231f20" stroke-width="1.3"/><line x1="591.5" y1="431.5" x2="788.3" y2="431.5" stroke="#231f20" stroke-width="1.3" /><line x1="591.5" y1="463.3" x2="788.3" y2="463.3" stroke="#231f20" stroke-width="1.3" /><g transform="translate(829.2 0) scale(0.25 1)"><path d="M0 340.1H798" stroke="#e8302a" stroke-opacity="0.22" stroke-width="5.00" stroke-dasharray="0 8 1 18 1 74 2 124 1 30 1 14 2 1 1 58 2 14 2 92 1 91 2 23 1 175 1 5 1 104"/><path d="M0 340.1H798" stroke="#e8302a" stroke-opacity="0.5" stroke-width="5.00" stroke-dasharray="0 7 2 291 2 804"/><path d="M0 347.4H798" stroke="#e8302a" stroke-opacity="0.22" stroke-width="5.00" stroke-dasharray="0 5 2 26 2 29 2 18 1 4 1 1 1 2 1 15 2 7 1 5 2 15 2 3 2 3 2 68 2 12 2 27 2 4 1 6 1 4 2 31 1 16 2 36 2 5 1 12 1 13 2 8 1 89 2 1 1 2 2 23 2 1 2 82 2 52 2 1 2 17 2 5 2 2 2 9 2 31 1 10 1 36"/><path d="M0 347.4H798" stroke="#e8302a" stroke-opacity="0.5" stroke-width="5.00" stroke-dasharray="0 10 1 60 2 10 2 46 2 45 1 23 1 157 2 106 1 4 2 174 1 39 1 85 2 8 2 47"/><path d="M0 354.7H798" stroke="#e8302a" stroke-opacity="0.22" stroke-width="5.00" stroke-dasharray="0 3 2 2 1 2 2 1 1 15 2 2 2 1 1 1 2 1 1 1 2 1 2 5 1 1 2 1 1 8 2 2 2 5 1 1 2 2 2 4 2 12 1 1 1 5 1 1 2 2 1 1 2 2 2 2 1 20 2 10 2 5 1 2 1 1 1 1 2 1 2 2 2 9 2 2 2 1 1 10 2 2 2 1 2 2 2 1 2 1 1 3 2 1 1 6 1 3 2 2 2 2 2 1 2 1 2 3 1 1 2 1 2 18 2 1 1 1 2 6 2 1 1 5 2 3 2 3 1 5 1 3 2 1 1 1 2 1 2 4 1 3 1 2 2 5 1 2 1 1 2 3 1 4 2 2 1 1 2 7 2 5 2 1 1 1 2 4 2 6 1 1 1 4 2 1 2 1 2 6 2 5 2 1 2 1 2 5 2 5 1 4 1 6 2 1 2 2 1 4 1 1 1 1 2 9 1 3 2 11 2 8 1 10 1 9 1 1 2 4 1 3 2 1 2 1 2 1 2 2 2 4 2 1 1 3 1 1 2 4 1 1 2 1 1 1 2 8 2 6 2 1 2 1 1 2 2 3 2 2 1 2 2 4 1 1 2 3 1 5 2 3 1 1 1 1 2 5 1 1 2 1 2 2 1 3 1 4 2 1 2 1 2 2 1 1 2 2 2 3 2 3 2 6 2 4 2 5 2 6 2 2 1 1 2 4 2 3 1 1 1 1 1 2 1 1 2 3 1 1 2 1 1 2 2 2 2 5 2 1 1 1 2 5"/><path d="M0 354.7H798" stroke="#e8302a" stroke-opacity="0.5" stroke-width="5.00" stroke-dasharray="0 11 2 15 2 10 1 3 2 1 1 13 2 2 2 2 2 1 2 9 1 11 1 7 1 5 1 4 2 5 2 20 1 1 1 9 2 5 2 17 2 16 2 2 1 2 1 12 2 3 2 16 1 10 2 1 2 37 1 1 1 13 2 6 2 1 2 11 1 16 2 10 1 46 2 5 2 5 2 5 2 19 1 36 2 20 2 6 2 37 1 18 2 7 2 15 1 21 2 1 2 3 2 10 2 1 2 2 1 18 1 24 2 4 1 33 1 14 2 16 2 12 2 17"/><path d="M0 361.9H798" stroke="#e8302a" stroke-opacity="0.22" stroke-width="5.00" stroke-dasharray="0 1 1 5 1 4 2 3 2 6 1 5 1 1 1 1 1 3 2 1 1 3 2 17 2 1 1 1 1 1 1 3 1 16 2 5 1 9 2 9 2 3 2 1 1 13 2 8 2 1 2 1 1 4 1 23 1 6 2 7 1 3 2 3 2 20 1 4 2 6 2 1 1 5 1 1 1 1 2 4 1 1 2 5 2 5 2 7 2 5 2 2 2 5 2 8 1 1 1 6 2 2 1 5 2 13 2 3 1 1 2 2 1 1 2 8 2 13 2 5 1 1 2 3 2 11 1 4 2 3 1 2 1 5 2 2 2 2 2 7 2 3 1 2 2 2 2 20 2 3 2 1 2 6 2 6 1 4 2 3 2 1 2 4 1 1 2 4 1 22 2 3 1 8 2 6 2 1 2 17 1 4 2 11 2 9 2 1 2 2 2 3 2 1 1 4 2 3 1 3 1 4 2 3 1 1 2 4 1 7 1 6 2 7 2 5 2 18 2 1 2 4 2 9 2 3 2 6 2 5 1 3 2 2 2 5 2 9"/><path d="M0 361.9H798" stroke="#e8302a" stroke-opacity="0.5" stroke-width="5.00" stroke-dasharray="0 10 2 7 2 25 2 1 1 18 2 106 2 10 1 18 2 10 2 42 1 28 1 8 1 13 2 28 1 1 2 17 1 43 1 11 1 5 1 29 2 20 1 10 1 16 2 10 1 33 1 9 2 5 2 15 2 6 2 19 1 15 2 24 1 17 2 42 1 29 2 8 2 17 2 23"/><path d="M0 369.2H798" stroke="#e8302a" stroke-opacity="0.22" stroke-width="5.00" stroke-dasharray="0 8 2 2 2 3 1 1 2 3 1 1 2 1 1 2 2 2 2 4 1 4 2 4 2 1 1 8 1 8 2 3 2 8 2 1 2 1 2 1 2 3 2 4 2 1 1 1 2 2 2 1 1 4 2 1 2 1 2 1 2 1 2 1 2 3 2 7 2 3 1 1 1 2 2 7 1 1 2 7 2 1 2 2 2 1 2 1 1 5 2 3 2 2 1 4 1 1 2 1 2 1 1 5 1 1 2 1 2 1 1 1 1 3 1 1 2 1 1 1 1 3 2 3 2 4 2 1 2 7 1 4 2 2 2 8 1 2 2 3 2 6 1 1 2 1 1 2 2 1 2 2 2 2 1 3 2 3 2 3 1 1 1 1 2 1 1 1 2 1 1 6 1 4 1 1 2 4 2 2 2 1 1 1 2 3 2 3 2 2 1 2 1 3 1 1 2 1 2 2 2 5 2 4 2 3 1 7 2 1 1 3 1 1 1 5 2 1 1 2 1 3 1 1 1 1 2 4 2 1 1 1 2 3 1 3 2 1 1 3 1 1 1 3 2 3 1 1 2 1 1 1 1 1 1 1 2 1 2 3 2 4 2 1 2 1 1 6 2 2 2 3 2 1 1 1 2 2 2 6 1 5 1 2 2 1 1 1 1 1 2 1 2 6 1 3 2 4 1 1 1 2 2 3 1 4 2 3 2 1 2 2 2 2 2 2 1 1 2 1 1 1 2 1 2 1 2 1 2 5 2 2 2 2 2 6 2 4 2 1 2 1 1 1 2 1 2 2 1 1 2 1 2 1 2 1 2 1 2 4 2 1 1 3 1 3 2 6 2 1 2 1 1 8 2 1 2 7 1 1 2 4 2 4 2 3 2 3 2 1 2 1 1 7"/><path d="M0 369.2H798" stroke="#e8302a" stroke-opacity="0.5" stroke-width="5.00" stroke-dasharray="0 6 1 1 1 18 1 15 2 21 1 4 2 1 2 2 2 15 2 2 2 5 2 3 2 3 2 6 2 4 2 6 2 5 2 41 2 3 2 7 2 17 2 1 1 10 2 8 1 18 2 3 2 3 2 2 2 29 1 6 1 1 1 7 1 51 2 1 2 18 2 15 1 3 2 12 1 12 2 1 1 3 2 8 2 7 1 3 1 1 2 16 2 1 2 9 1 7 1 2 2 9 1 5 2 1 2 1 2 7 2 8 2 6 2 39 1 1 2 4 2 10 2 13 1 1 2 17 1 15 2 12 2 16 1 15 2 3 1 2 1 27 2 45"/><path d="M0 376.5H798" stroke="#e8302a" stroke-opacity="0.22" stroke-width="5.00" stroke-dasharray="0 7 1 5 1 2 2 7 1 1 2 8 2 8 2 13 2 3 2 3 2 5 1 3 2 3 1 1 2 1 2 2 2 2 1 8 1 23 1 14 2 1 2 2 2 4 2 1 2 6 1 1 2 2 2 3 2 4 2 2 2 3 2 2 2 1 1 5 2 2 2 1 1 2 2 1 2 3 1 7 2 8 2 1 2 7 1 2 1 3 2 7 2 10 2 6 2 1 1 1 2 1 2 2 2 3 2 1 1 29 2 3 2 6 1 13 2 2 2 2 2 6 2 1 2 2 2 1 1 1 1 1 2 2 2 8 2 1 2 3 1 1 2 3 1 11 1 4 2 3 2 3 2 1 1 4 2 4 2 2 2 3 2 1 2 2 2 4 1 1 1 2 2 1 2 1 2 5 2 14 1 2 2 1 2 1 1 1 1 2 2 1 2 1 1 3 1 5 2 3 2 1 1 11 2 13 1 2 1 3 2 4 2 3 2 2 2 5 2 2 2 3 1 3 1 3 2 1 2 4 1 14 2 6 1 10 2 1 2 3 1 1 1 2 2 3 2 1 2 1 2 5 1 2 2 3 2 1 2 2 2 14 2 6 2 4 1 2 2 6 2 3 2 3 1 4 2 7 1 4 1 11"/><path d="M0 376.5H798" stroke="#e8302a" stroke-opacity="0.5" stroke-width="5.00" stroke-dasharray="0 1 1 6 1 17 2 22 2 31 2 1 1 3 1 16 2 6 1 36 1 6 2 19 2 18 2 3 1 12 1 53 1 5 1 18 1 6 2 24 1 2 2 7 2 25 2 24 1 5 2 6 2 4 2 3 2 40 2 2 2 13 1 16 2 15 1 8 2 2 2 1 2 39 2 41 2 10 1 49 1 15 2 1 2 11 2 41 2 3 2 3 2 87"/><path d="M0 383.8H798" stroke="#e8302a" stroke-opacity="0.22" stroke-width="5.00" stroke-dasharray="0 5 2 18 2 17 2 1 2 1 2 2 2 5 2 18 2 4 1 1 1 4 1 1 2 10 2 9 1 12 2 11 2 1 2 1 1 2 1 2 1 9 2 2 2 1 2 7 1 1 1 3 2 14 2 2 1 16 1 6 1 1 1 9 2 3 2 4 2 7 1 2 2 13 1 4 2 1 2 1 2 4 2 1 1 5 1 1 2 1 2 11 2 5 2 1 2 10 2 3 2 9 2 1 1 1 2 17 1 17 1 3 2 9 2 7 2 31 2 13 2 3 2 7 2 7 1 1 2 5 2 2 1 1 1 7 2 5 2 2 1 2 2 8 1 11 2 9 2 1 1 1 1 6 2 1 2 3 1 2 2 1 2 2 2 8 1 6 2 2 1 1 2 2 1 1 2 13 2 6 2 4 2 18 2 10 1 3 1 3 2 4 2 2 2 10 2 5 2 5 1 2 1 7 2 12 1 8 1 2 2 6 2 1 2 8 2 4"/><path d="M0 383.8H798" stroke="#e8302a" stroke-opacity="0.5" stroke-width="5.00" stroke-dasharray="0 10 1 80 1 70 2 3 2 17 1 24 1 63 2 38 2 19 2 8 2 17 1 101 2 46 2 12 2 21 1 4 1 69 2 14 1 10 2 46 2 27 2 8 2 86"/><path d="M0 391.0H798" stroke="#e8302a" stroke-opacity="0.22" stroke-width="5.00" stroke-dasharray="0 8 2 1 2 1 2 4 2 4 2 1 1 10 2 6 2 3 2 1 2 1 2 3 2 6 2 4 2 1 2 1 2 2 2 1 2 6 2 13 1 1 1 1 2 9 1 3 2 3 2 26 1 6 2 6 2 8 1 3 2 1 1 1 2 3 2 5 2 1 2 1 1 11 2 4 1 1 2 13 2 1 2 2 2 5 2 7 2 1 1 2 2 3 2 2 2 1 2 7 2 20 1 3 2 2 2 17 2 8 1 2 2 4 1 16 2 6 2 1 2 9 2 1 1 7 2 7 1 1 1 2 2 2 1 1 2 4 2 1 1 1 2 2 2 2 2 1 2 13 2 5 1 3 1 2 2 1 2 3 2 1 1 2 2 5 1 1 1 17 1 5 2 2 1 9 2 20 1 2 2 1 1 19 2 2 2 4 2 2 2 9 2 1 2 5 2 6 2 17 2 7 2 2 2 9 2 3 2 6 1 6 2 9 1 26 2 3 2 14 2 4 2 2 2 4 2 1 2 6 1 6 1 23"/><path d="M0 391.0H798" stroke="#e8302a" stroke-opacity="0.5" stroke-width="5.00" stroke-dasharray="0 8 2 31 2 13 1 7 2 16 2 19 2 11 2 20 2 9 1 2 2 73 1 63 1 8 2 5 2 14 2 27 1 8 2 3 2 23 2 4 2 6 1 4 2 71 1 12 1 23 2 1 2 5 2 11 2 5 2 37 1 2 2 5 1 14 1 44 2 23 2 21 2 10 2 21 2 27 1 21 1 3 1 8"/><path d="M0 398.3H798" stroke="#e8302a" stroke-opacity="0.22" stroke-width="5.00" stroke-dasharray="0 2 2 3 2 1 2 1 2 5 2 37 2 3 1 2 2 1 2 1 1 7 2 3 2 5 2 7 2 1 1 6 1 1 2 1 2 5 2 3 1 1 2 7 2 7 1 5 2 19 1 7 2 1 2 2 1 7 2 21 2 1 2 4 1 5 2 1 1 1 1 1 1 1 2 2 2 1 1 8 2 5 1 13 2 10 2 8 1 8 1 5 2 6 2 3 2 1 2 2 2 9 1 3 1 11 2 12 1 1 2 5 2 2 2 2 1 3 1 2 1 1 2 2 2 3 2 2 2 1 1 6 2 1 2 2 1 13 1 5 1 4 1 11 1 4 1 2 2 1 2 1 2 1 2 5 1 3 1 1 2 1 2 7 2 2 1 1 2 5 1 2 2 1 2 6 1 20 1 3 1 4 2 5 2 1 2 5 2 1 1 6 2 2 2 2 1 1 1 3 2 4 2 5 2 4 1 3 2 6 1 1 2 13 2 1 2 4 2 15 2 11 1 8 2 2 2 6 2 6 1 1 1 1 1 6 2 4 2 2 2 1 2 4 1 1 2 1 2 3 2 4 2 5 1 5 2 8 1 1 2 2 2 1 2 5"/><path d="M0 398.3H798" stroke="#e8302a" stroke-opacity="0.5" stroke-width="5.00" stroke-dasharray="0 1 2 20 1 49 2 25 2 3 1 25 1 35 2 1 2 5 1 20 2 1 2 7 2 14 2 5 1 14 2 4 2 1 2 5 2 8 1 43 2 13 2 22 2 6 2 21 1 1 2 11 2 3 2 64 2 1 2 5 2 6 2 1 1 13 1 16 2 14 2 24 1 37 2 5 1 9 1 7 2 34 2 1 2 31 2 2 2 4 2 1 2 20 1 41 2 12 2 8"/><path d="M0 405.6H798" stroke="#e8302a" stroke-opacity="0.22" stroke-width="5.00" stroke-dasharray="0 12 1 1 1 6 1 3 2 12 1 1 1 6 2 5 1 1 1 1 2 3 1 1 2 2 2 12 1 1 1 1 1 4 2 4 1 7 1 1 1 2 2 4 1 17 1 2 2 5 1 2 2 1 1 7 2 1 2 2 2 4 2 1 2 1 1 9 2 1 2 7 1 1 2 1 2 6 2 1 2 1 1 1 1 8 1 4 1 1 2 3 1 1 1 1 2 3 2 6 2 17 2 2 2 2 2 3 2 1 1 1 2 6 1 18 2 5 2 14 1 4 1 6 2 1 2 1 2 6 1 7 2 1 2 6 2 9 1 4 2 3 2 1 2 8 2 1 2 1 1 1 2 1 2 1 1 5 2 7 1 1 2 9 2 7 2 12 2 11 2 1 1 1 1 11 2 12 2 1 2 4 2 6 1 3 1 1 2 1 2 11 2 2 2 12 1 3 2 13 1 3 2 1 2 1 2 1 2 1 2 4 2 2 1 1 1 1 1 1 2 5 2 8 2 2 2 1 2 7 2 4 1 1 2 1 1 11 1 1 2 5 2 8 1 3 2 2 1 11 1 8 1 1 1 1 2 5 2 1 1 1 1 3 2 1 2 2 1 4 2 1 1 1 1 1 2 1 2 2 2 1 2 1 2 2"/><path d="M0 405.6H798" stroke="#e8302a" stroke-opacity="0.5" stroke-width="5.00" stroke-dasharray="0 5 1 9 1 5 1 21 2 1 1 12 2 13 2 27 2 8 2 30 2 32 2 1 2 19 2 34 2 17 2 2 2 3 2 53 2 2 2 66 2 87 2 27 1 36 2 1 2 8 1 5 2 31 2 14 2 8 2 2 2 21 2 38 2 2 1 11 1 8 2 10 2 1 1 2 2 18 1 33 1 4 2 38"/><path d="M0 412.8H798" stroke="#e8302a" stroke-opacity="0.22" stroke-width="5.00" stroke-dasharray="0 11 1 8 1 1 2 5 1 9 1 16 2 8 1 2 2 1 1 8 2 6 2 8 2 1 1 3 1 8 2 1 1 8 2 1 2 11 2 1 2 3 2 1 1 2 2 1 2 4 1 1 2 6 2 1 2 1 2 15 2 5 2 1 2 1 2 6 1 11 2 4 1 1 2 2 2 5 2 2 1 1 2 5 2 2 1 3 2 8 2 5 2 2 1 1 2 5 2 1 2 10 1 1 2 10 2 7 2 5 2 6 2 27 1 2 2 1 2 4 1 6 1 3 2 11 2 3 2 8 2 1 1 1 1 7 2 1 2 2 1 2 2 2 2 2 1 2 2 3 2 4 2 1 2 3 2 2 1 1 2 1 1 2 2 11 2 2 2 7 2 4 1 4 1 1 2 1 2 3 2 1 2 4 2 15 2 1 1 2 1 2 2 1 2 4 1 5 1 1 2 4 1 8 1 2 2 4 1 10 2 2 2 2 1 13 2 2 1 6 1 6 2 1 2 5 1 9 1 3 1 23 2 5 1 5 2 2 2 3 1 5 2 2 2 5 1 4 1 8 1 6 1 1 1 1 1 1 2 1 2 2 1 3"/><path d="M0 412.8H798" stroke="#e8302a" stroke-opacity="0.5" stroke-width="5.00" stroke-dasharray="0 2 2 7 1 20 2 32 2 3 1 13 2 2 1 5 2 6 2 2 1 1 1 29 1 24 1 25 1 34 2 3 2 10 2 37 1 30 1 9 2 6 2 34 2 19 2 2 2 1 2 3 2 16 2 20 1 8 2 1 2 32 2 2 2 2 2 1 1 7 2 20 2 15 2 68 2 7 2 21 1 19 1 8 2 9 2 15 2 1 2 3 2 34 2 1 2 5 2 1 1 18 2 5 2 29"/><path d="M0 420.1H798" stroke="#e8302a" stroke-opacity="0.22" stroke-width="5.00" stroke-dasharray="0 5 2 3 1 4 2 1 2 5 1 1 2 5 1 4 1 6 2 3 1 1 2 5 2 4 2 7 1 8 1 2 2 19 1 4 2 1 1 1 2 7 1 5 1 15 2 3 2 7 1 3 2 10 2 8 2 6 2 1 2 4 1 15 2 4 2 14 1 5 2 1 2 5 2 4 2 22 2 8 1 18 2 3 1 3 2 8 1 7 2 7 2 6 1 5 1 2 2 22 2 18 2 7 1 1 1 4 2 6 2 8 2 2 2 9 2 1 1 6 1 8 1 2 1 10 2 2 2 1 2 1 2 7 2 8 2 2 2 9 1 6 2 3 2 21 1 4 1 2 2 8 2 10 2 7 2 8 2 5 2 19 1 1 2 1 1 4 2 3 2 1 2 2 1 7 1 1 1 1 2 5 2 4 2 2 2 2 1 1 1 4 2 4 1 1 1 2 2 1 2 4 2 10 2 1 2 3 2 5 2 18 2 2 2 16"/><path d="M0 420.1H798" stroke="#e8302a" stroke-opacity="0.5" stroke-width="5.00" stroke-dasharray="0 5 2 7 2 38 2 36 2 1 2 5 2 66 1 70 2 1 1 25 2 44 2 2 2 27 2 33 2 62 2 4 2 9 1 1 2 18 2 6 1 11 2 13 1 25 2 23 2 31 2 27 1 58 1 34 1 2 2 13 2 24 2 17 1 11"/><path d="M0 427.4H798" stroke="#e8302a" stroke-opacity="0.22" stroke-width="5.00" stroke-dasharray="0 10 2 24 1 8 2 12 2 3 2 6 2 1 1 7 2 22 1 10 2 3 2 8 2 1 1 13 1 1 2 14 2 20 2 5 2 3 1 1 2 5 1 1 2 1 2 17 1 4 2 3 2 6 2 3 2 1 1 2 2 4 2 1 2 16 2 3 1 6 1 7 2 14 1 6 1 16 1 1 1 5 1 6 2 7 2 6 2 49 2 11 2 2 2 10 1 5 2 4 2 8 2 12 2 1 2 4 1 22 2 25 2 5 2 2 2 1 2 1 1 18 2 5 2 1 2 3 2 5 2 13 1 6 1 8 2 8 2 5 2 18 2 3 2 5 2 7 2 1 1 1 2 2 1 3 2 1 1 12 2 5 2 2 1 13 1 1 2 1 2 1 2 1 1 1 2 7 2 1 2 8 1 1 2 37"/><path d="M0 427.4H798" stroke="#e8302a" stroke-opacity="0.5" stroke-width="5.00" stroke-dasharray="0 10 1 53 2 47 2 6 2 9 2 12 2 26 1 14 1 7 2 21 2 5 1 19 2 1 2 21 1 20 1 27 2 67 2 31 2 14 1 22 1 48 2 14 2 40 2 35 1 4 2 8 2 10 2 16 1 37 2 26 1 1 2 34 1 13 1 31"/></g><g transform="translate(829.2 0) scale(0.25 1)"><path d="M0 435.9H798" stroke="#3a87c8" stroke-opacity="0.22" stroke-width="5.00" stroke-dasharray="0 3 2 1 2 1 2 2 2 2 2 1 2 1 1 1 2 2 2 2 2 1 2 1 1 1 1 1 2 2 1 5 1 1 1 4 2 1 1 1 1 1 2 1 2 2 2 4 2 2 2 1 2 2 1 1 2 1 1 1 1 1 1 1 2 2 1 1 2 1 2 1 1 1 2 4 1 5 1 1 1 4 2 1 2 1 1 1 2 2 2 3 2 1 2 5 2 2 2 5 2 1 2 1 1 1 2 8 2 1 1 5 2 1 2 1 1 2 2 1 2 1 1 3 1 4 2 4 2 1 2 3 1 1 1 1 1 1 2 2 2 1 2 1 1 1 2 1 2 3 2 1 2 4 1 1 2 1 2 1 2 1 2 2 1 6 2 1 2 1 1 1 1 1 1 1 1 1 2 1 2 1 2 1 2 1 1 1 2 1 1 1 1 1 2 1 2 1 2 1 2 8 2 1 2 2 1 1 2 1 2 1 2 1 2 1 1 1 2 4 1 1 1 3 2 1 2 2 1 2 1 2 2 2 2 1 1 1 1 1 2 1 2 1 2 1 1 1 1 1 1 2 1 1 2 1 2 5 2 1 1 2 2 4 2 1 1 1 1 3 2 1 2 2 1 1 1 2 2 1 1 1 2 1 2 1 2 3 1 1 2 1 1 1 2 2 1 1 2 1 2 1 2 1 1 1 2 1 2 1 1 1 2 3 1 1 1 4 2 1 1 1 1 1 1 1 2 1 2 1 2 1 2 1 2 1 2 4 2 2 1 2 2 1 2 1 1 2 2 1 2 1 1 1 2 1 1 1 2 2 1 1 2 1 1 2 2 1 2 1 2 4 1 2 1 1 1 3 2 3 1 2 1 2 2 2 1 1 2 1 2 1 2 1 1 1 1 4 2 1 2 1 2 3 1 1 2 1 1 1 1 2 1 1 2 1 2 1 1 1 1 1 2 9 2 1 2 2 2 1 1 6 2 2 2 1 1 2 2 1 2 1 2 1 2 1 1 1 2 1 2 4 2 1 1 1 1 1 1 2 2 1 1 3 2 1 2 2 2 1 2 1 2 1 1 2 1 1 1 3 1 3 1 1 1 1 2 2 2 2 1 1 2 1 2 1 2 3 1 2 1 1 2 1 2 2 2 1 1 1 1 4 2 1 2 1 1 1"/><path d="M0 435.9H798" stroke="#3a87c8" stroke-opacity="0.5" stroke-width="5.00" stroke-dasharray="0 3 2 1 2 3 1 6 2 4 2 13 1 1 2 2 1 38 2 3 1 28 1 3 2 3 2 6 2 1 2 15 1 19 2 3 2 24 2 4 2 2 1 1 2 1 2 7 1 5 2 15 1 1 1 1 2 5 1 10 1 3 2 8 2 9 1 10 2 5 2 5 1 8 2 1 1 9 1 10 2 12 2 2 2 5 1 9 2 2 1 5 1 4 1 1 2 3 2 5 2 1 1 3 1 1 2 1 2 1 2 9 1 1 2 4 2 1 2 8 1 1 2 2 2 1 2 3 1 2 2 1 1 26 2 27 2 1 1 10 1 3 2 11 1 1 2 15 2 10 1 7 1 4 1 1 2 1 2 2 2 8 1 7 1 5 2 1 1 2 2 6 1 6 1 3 1 11 2 12 1 12 2 2 2 22 1 2 2 4 1 4 2 15 1 2 2 2 2 1 1 3 2 2 2 4"/><path d="M0 443.6H798" stroke="#3a87c8" stroke-opacity="0.22" stroke-width="5.00" stroke-dasharray="0 10 2 117 2 94 1 45 1 9 2 59 1 27 2 53 2 14 1 9 2 134 1 43 1 8 2 89 2 21 2 41"/><path d="M0 443.6H798" stroke="#3a87c8" stroke-opacity="0.5" stroke-width="5.00" stroke-dasharray="0 2 2 827"/><path d="M0 451.4H798" stroke="#3a87c8" stroke-opacity="0.22" stroke-width="5.00" stroke-dasharray="0 2 2 92 1 30 2 5 1 78 2 54 2 20 2 22 2 83 2 12 2 4 1 53 2 11 2 10 1 43 2 43 2 26 2 46 2 71 2 5 1 1 2 1 1 20 2 165"/><path d="M0 451.4H798" stroke="#3a87c8" stroke-opacity="0.5" stroke-width="5.00" stroke-dasharray="0 9 1 388 2 299 2 58 2 42"/><path d="M0 459.1H798" stroke="#3a87c8" stroke-opacity="0.22" stroke-width="5.00" stroke-dasharray="0 5 1 98 2 28 2 100 2 55 2 115 2 45 2 3 2 54 2 98 2 54 2 4 1 38 1 130"/><path d="M0 459.1H798" stroke="#3a87c8" stroke-opacity="0.5" stroke-width="5.00" stroke-dasharray="0 6 2 281 1 216 1 525"/></g><g transform="translate(829.2 0) scale(0.25 1)"><path d="M0 467.6H798" stroke="#222" stroke-opacity="0.22" stroke-width="5.00" stroke-dasharray="0 5 2 2 2 41 2 2 2 9 1 13 2 3 2 4 2 35 2 19 1 2 2 7 2 7 2 11 2 7 2 22 2 12 2 2 2 3 2 8 1 22 2 15 1 2 1 14 1 9 2 12 1 32 1 13 2 8 1 14 1 12 2 12 2 1 1 16 1 28 2 27 1 37 1 8 1 17 2 17 2 23 1 9 2 40 1 5 2 7 1 8 2 5 1 18 1 11 2 18 2 2 2 15 2 10 2 40"/><path d="M0 467.6H798" stroke="#222" stroke-opacity="0.5" stroke-width="5.00" stroke-dasharray="0 12 1 56 1 44 2 26 1 49 2 59 2 12 2 73 2 1 1 58 1 112 2 409"/><path d="M0 475.2H798" stroke="#222" stroke-opacity="0.22" stroke-width="5.00" stroke-dasharray="0 5 1 37 2 1 1 15 2 16 2 17 1 51 1 57 2 1 1 18 1 50 2 71 2 29 2 99 2 18 2 24 2 80 1 57 1 34 1 51 2 97"/><path d="M0 475.2H798" stroke="#222" stroke-opacity="0.5" stroke-width="5.00" stroke-dasharray="0 4 2 59 1 731 2 328"/><path d="M0 482.8H798" stroke="#222" stroke-opacity="0.22" stroke-width="5.00" stroke-dasharray="0 7 2 25 2 39 2 10 1 15 2 8 2 84 1 10 1 43 2 68 2 1 2 19 1 71 2 21 2 4 2 48 2 31 1 36 2 35 2 1 2 32 2 3 2 1 2 30 1 24 1 62 1 6 1 11 2 3 1 9"/><path d="M0 482.8H798" stroke="#222" stroke-opacity="0.5" stroke-width="5.00" stroke-dasharray="0 0 2 80 1 48 1 17 2 37 1 8 2 46 2 15 2 125 1 6 2 22 2 100 2 134 2 42 2 139"/><path d="M0 490.4H798" stroke="#222" stroke-opacity="0.22" stroke-width="5.00" stroke-dasharray="0 8 2 269 2 46 1 124 2 47 2 85 2 46 1 19 2 71 2 37 2 81"/><path d="M0 490.4H798" stroke="#222" stroke-opacity="0.5" stroke-width="5.00" stroke-dasharray="0 9 2 179 1 191 1 183 1 433"/><path d="M0 498.0H798" stroke="#222" stroke-opacity="0.22" stroke-width="5.00" stroke-dasharray="0 7 1 5 2 71 1 47 2 34 2 24 2 35 2 22 1 75 2 68 2 69 2 12 2 4 2 38 2 40 2 36 2 9 2 3 1 75 2 21 2 48 1 75"/><path d="M0 498.0H798" stroke="#222" stroke-opacity="0.5" stroke-width="5.00" stroke-dasharray="0 11 2 180 1 28 1 135 2 153 1 203 1 150"/><path d="M0 505.6H798" stroke="#222" stroke-opacity="0.22" stroke-width="5.00" stroke-dasharray="0 11 1 43 2 60 1 1 1 64 2 2 1 7 2 1 2 25 2 29 2 4 2 7 1 7 2 12 2 10 1 7 2 27 1 89 2 2 1 1 2 10 2 69 1 15 2 9 2 14 2 3 2 12 2 7 1 14 2 28 1 10 2 12 2 57 2 18 1 10 2 2 2 61"/><path d="M0 505.6H798" stroke="#222" stroke-opacity="0.5" stroke-width="5.00" stroke-dasharray="0 12 2 37 1 131 1 38 2 191 1 60 2 22 1 25 2 37 2 38 2 32 2 95 1 2 2 82"/><path d="M0 513.2H798" stroke="#222" stroke-opacity="0.22" stroke-width="5.00" stroke-dasharray="0 9 2 1 2 1 1 34 2 7 1 1 2 14 1 1 1 14 1 1 1 7 1 4 2 2 2 5 2 15 1 1 1 20 1 5 2 11 1 4 2 2 2 3 2 10 1 1 2 3 2 10 2 4 2 5 1 15 1 19 2 8 2 9 1 19 2 23 2 19 2 3 1 1 2 4 2 10 2 7 1 3 2 1 2 8 2 1 1 1 2 2 1 2 1 1 2 8 2 22 2 9 1 14 1 8 2 6 2 17 2 2 2 20 2 19 1 4 2 11 1 1 1 11 2 3 1 23 1 4 2 20 2 1 2 1 2 2 2 18 2 1 1 6 1 4 2 1 2 20 2 2 2 17 2 5 2 5 2 14 2 11"/><path d="M0 513.2H798" stroke="#222" stroke-opacity="0.5" stroke-width="5.00" stroke-dasharray="0 6 1 91 2 19 2 81 2 34 2 30 2 3 2 96 1 18 2 31 1 1 2 6 2 67 2 13 1 30 2 4 1 38 2 20 1 23 1 23 2 18 2 1 1 46 1 4 2 33 2 34"/></g><rect x="829.2" y="335.8" width="199.4" height="181.7" fill="none" stroke="#231f20" stroke-width="1.3"/><line x1="829.2" y1="431.5" x2="1028.6" y2="431.5" stroke="#231f20" stroke-width="1.3" /><line x1="829.2" y1="463.3" x2="1028.6" y2="463.3" stroke="#231f20" stroke-width="1.3" /><text x="792.00" y="420.60" style="font-size:11.50px;" fill="#231f20" >30 min</text><line x1="792" y1="426.9" x2="822" y2="426.9" stroke="#231f20" stroke-width="1.1" /><path d="M826.5 426.9 l-6 -2.7 v5.4Z" fill="#231f20" stroke="none" stroke-width="1" /><rect x="591.5" y="520.3" width="11" height="3" fill="#231f20" /><text x="591.50" y="533.50" style="font-size:11.24px;" fill="#231f20" >5 s</text><rect x="789.9" y="499.8" width="3.1" height="17.7" fill="#231f20" /><text transform="translate(805.20,517.50) rotate(-90)" style="font-size:11.24px;" fill="#231f20">5 neurons</text><text transform="translate(583.20,385.00) rotate(-90)" text-anchor="middle" style="font-size:11.30px" fill="#231f20">Flavour</text><text transform="translate(583.20,445.00) rotate(-90)" text-anchor="middle" style="font-size:11.30px" fill="#231f20">Water</text><text transform="translate(583.20,498.00) rotate(-90)" text-anchor="middle" style="font-size:11.30px" fill="#231f20">Nonselective</text><text x="1057.70" y="287.80" style="font-size:19.0px;font-weight:bold" fill="#000" stroke="#000" stroke-width="0.6">h</text><text x="1112.50" y="303.40" style="font-size:11.43px;" fill="#231f20" >Example animal</text><line x1="1118.9" y1="310.1" x2="1187.6" y2="310.1" stroke="#2f9b50" stroke-width="1.8" /><text x="1125.60" y="409.60" style="font-size:11.44px;" fill="#231f20" >All animals</text><line x1="1118.9" y1="414.5" x2="1187.6" y2="414.5" stroke="#2f9b50" stroke-width="1.8" /><line x1="1102.4" y1="311.6" x2="1102.4" y2="393.2" stroke="#231f20" stroke-width="1.0" /><line x1="1095.1" y1="311.6" x2="1102.9" y2="311.6" stroke="#231f20" stroke-width="1.0" /><text x="1089.40" y="315.50" text-anchor="end" style="font-size:11.30px;" fill="#231f20">80</text><line x1="1095.1" y1="352.3" x2="1102.9" y2="352.3" stroke="#231f20" stroke-width="1.0" /><text x="1089.40" y="356.20" text-anchor="end" style="font-size:11.30px;" fill="#231f20">40</text><line x1="1095.1" y1="393.2" x2="1102.9" y2="393.2" stroke="#231f20" stroke-width="1.0" /><text x="1089.40" y="397.10" text-anchor="end" style="font-size:11.30px;" fill="#231f20">0</text><line x1="1102.4" y1="415" x2="1102.4" y2="496.8" stroke="#231f20" stroke-width="1.0" /><line x1="1095.1" y1="415" x2="1102.9" y2="415" stroke="#231f20" stroke-width="1.0" /><text x="1089.40" y="418.90" text-anchor="end" style="font-size:11.30px;" fill="#231f20">40</text><line x1="1095.1" y1="455.9" x2="1102.9" y2="455.9" stroke="#231f20" stroke-width="1.0" /><text x="1089.40" y="459.80" text-anchor="end" style="font-size:11.30px;" fill="#231f20">20</text><line x1="1095.1" y1="496.8" x2="1102.9" y2="496.8" stroke="#231f20" stroke-width="1.0" /><text x="1089.40" y="500.70" text-anchor="end" style="font-size:11.30px;" fill="#231f20">0</text><line x1="1109" y1="503.3" x2="1200" y2="503.3" stroke="#231f20" stroke-width="1.0" /><line x1="1119" y1="502.8" x2="1119" y2="510.3" stroke="#231f20" stroke-width="1.0" /><text x="1119.00" y="525.80" text-anchor="middle" style="font-size:11.30px;" fill="#231f20">0</text><line x1="1142" y1="502.8" x2="1142" y2="510.3" stroke="#231f20" stroke-width="1.0" /><text x="1141.97" y="525.80" text-anchor="middle" style="font-size:11.30px;" fill="#231f20">1</text><line x1="1164.9" y1="502.8" x2="1164.9" y2="510.3" stroke="#231f20" stroke-width="1.0" /><text x="1164.93" y="525.80" text-anchor="middle" style="font-size:11.30px;" fill="#231f20">2</text><line x1="1187.9" y1="502.8" x2="1187.9" y2="510.3" stroke="#231f20" stroke-width="1.0" /><text x="1187.90" y="525.80" text-anchor="middle" style="font-size:11.30px;" fill="#231f20">3</text><text x="1154.20" y="543.30" text-anchor="middle" style="font-size:11.30px;" fill="#231f20">Time (s)</text><text transform="translate(1065.30,403.90) rotate(-90)" text-anchor="middle" style="font-size:11.30px" fill="#231f20">Decoder output (%)</text><path d="M1108.7 386.4L1109.6 386.4L1110.5 386.1L1111.4 386L1112.3 386.2L1113.3 386.6L1114.2 386.7L1115.1 386.2L1116 385.7L1116.9 384.5L1117.9 382.8L1118.8 380.4L1119.7 378.1L1120.6 376.1L1121.5 373.5L1122.4 371.1L1123.4 368.5L1124.3 364.5L1125.2 361.4L1126.1 357L1127 353.2L1128 349.1L1128.9 344.7L1129.8 339.1L1130.7 334.1L1131.6 329.4L1132.6 325.1L1133.5 322.9L1134.4 320.5L1135.3 318L1136.2 315.8L1137.1 314.9L1138.1 314.6L1139 313.3L1139.9 313.1L1140.8 312.8L1141.7 313.4L1142.7 314.1L1143.6 314.7L1144.5 314.5L1145.4 314.4L1146.3 314.8L1147.2 315L1148.2 315.5L1149.1 316L1150 316.6L1150.9 317.9L1151.8 318.5L1152.8 318.7L1153.7 319L1154.6 319.1L1155.5 319.7L1156.4 320.3L1157.4 321.1L1158.3 322.7L1159.2 322.7L1160.1 323.3L1161 323.2L1161.9 323.7L1162.9 324.2L1163.8 324.7L1164.7 325L1165.6 326.1L1166.5 326.7L1167.5 326L1168.4 325.7L1169.3 326L1170.2 326.1L1171.1 326.1L1172.1 324.7L1173 325.1L1173.9 325.5L1174.8 326.4L1175.7 327.8L1176.6 327.8L1177.6 327.6L1178.5 327.9L1179.4 328.6L1180.3 329.6L1181.2 330.8L1182.2 331.7L1183.1 333L1184 334.5L1184.9 334.8L1185.8 336.8L1186.8 339.2L1187.7 342.3L1188.6 343.3L1189.5 345.6L1190.4 348L1191.3 350.3L1192.3 353.1L1193.2 355.7L1194.1 357.8L1195 360.3L1195.9 361.6L1196.9 362.8L1197.8 364.3L1198.7 365.6L1198.7 393.2L1197.8 393.2L1196.9 393.2L1195.9 393.2L1195 393.2L1194.1 393.2L1193.2 393.2L1192.3 393.2L1191.3 393.2L1190.4 393.2L1189.5 393.2L1188.6 393.2L1187.7 393.2L1186.8 393.2L1185.8 393.2L1184.9 393.2L1184 393.2L1183.1 393.2L1182.2 393.2L1181.2 393.2L1180.3 393.2L1179.4 393.2L1178.5 393.2L1177.6 393.2L1176.6 393.2L1175.7 393.2L1174.8 393.2L1173.9 393.2L1173 393.2L1172.1 393.2L1171.1 393.2L1170.2 393.2L1169.3 393.2L1168.4 393.2L1167.5 393.2L1166.5 393.2L1165.6 393.2L1164.7 393.2L1163.8 393.2L1162.9 393.2L1161.9 393.2L1161 393.2L1160.1 393.2L1159.2 393.2L1158.3 393.2L1157.4 393.2L1156.4 393.2L1155.5 393.2L1154.6 393.2L1153.7 393.2L1152.8 393.2L1151.8 393.2L1150.9 393.2L1150 393.2L1149.1 393.2L1148.2 393.2L1147.2 393.2L1146.3 393.2L1145.4 393.2L1144.5 393.2L1143.6 393.2L1142.7 393.2L1141.7 393.2L1140.8 393.2L1139.9 393.2L1139 393.2L1138.1 393.2L1137.1 393.2L1136.2 393.2L1135.3 393.2L1134.4 393.2L1133.5 393.2L1132.6 393.2L1131.6 393.2L1130.7 393.2L1129.8 393.2L1128.9 393.2L1128 393.2L1127 393.2L1126.1 393.2L1125.2 393.2L1124.3 393.2L1123.4 393.2L1122.4 393.2L1121.5 393.2L1120.6 393.2L1119.7 393.2L1118.8 393.2L1117.9 393.2L1116.9 393.2L1116 393.2L1115.1 393.2L1114.2 393.2L1113.3 393.2L1112.3 393.2L1111.4 393.2L1110.5 393.2L1109.6 393.2L1108.7 393.2Z" fill="#f8cfcc" fill-opacity="1" stroke="none"/><path d="M1108.7 386.4L1109.6 386.4L1110.5 386.1L1111.4 386L1112.3 386.2L1113.3 386.6L1114.2 386.7L1115.1 386.2L1116 385.7L1116.9 384.5L1117.9 382.8L1118.8 380.4L1119.7 378.1L1120.6 376.1L1121.5 373.5L1122.4 371.1L1123.4 368.5L1124.3 364.5L1125.2 361.4L1126.1 357L1127 353.2L1128 349.1L1128.9 344.7L1129.8 339.1L1130.7 334.1L1131.6 329.4L1132.6 325.1L1133.5 322.9L1134.4 320.5L1135.3 318L1136.2 315.8L1137.1 314.9L1138.1 314.6L1139 313.3L1139.9 313.1L1140.8 312.8L1141.7 313.4L1142.7 314.1L1143.6 314.7L1144.5 314.5L1145.4 314.4L1146.3 314.8L1147.2 315L1148.2 315.5L1149.1 316L1150 316.6L1150.9 317.9L1151.8 318.5L1152.8 318.7L1153.7 319L1154.6 319.1L1155.5 319.7L1156.4 320.3L1157.4 321.1L1158.3 322.7L1159.2 322.7L1160.1 323.3L1161 323.2L1161.9 323.7L1162.9 324.2L1163.8 324.7L1164.7 325L1165.6 326.1L1166.5 326.7L1167.5 326L1168.4 325.7L1169.3 326L1170.2 326.1L1171.1 326.1L1172.1 324.7L1173 325.1L1173.9 325.5L1174.8 326.4L1175.7 327.8L1176.6 327.8L1177.6 327.6L1178.5 327.9L1179.4 328.6L1180.3 329.6L1181.2 330.8L1182.2 331.7L1183.1 333L1184 334.5L1184.9 334.8L1185.8 336.8L1186.8 339.2L1187.7 342.3L1188.6 343.3L1189.5 345.6L1190.4 348L1191.3 350.3L1192.3 353.1L1193.2 355.7L1194.1 357.8L1195 360.3L1195.9 361.6L1196.9 362.8L1197.8 364.3L1198.7 365.6" fill="none" stroke="#e8302a" stroke-width="1.3" stroke-linejoin="round" /><path d="M1108.7 389L1109.6 389L1110.5 389.5L1111.4 389.7L1112.3 390.2L1113.3 390.4L1114.2 390.7L1115.1 390.8L1116 391.2L1116.9 391.2L1117.9 391L1118.8 391.6L1119.7 391.7L1120.6 391.9L1121.5 392.3L1122.4 392.5L1123.4 392.7L1124.3 392.7L1125.2 392.8L1126.1 392.3L1127 392.4L1128 392.4L1128.9 392.3L1129.8 392.4L1130.7 392.6L1131.6 392.6L1132.6 392.7L1133.5 392.6L1134.4 392.5L1135.3 392.9L1136.2 393L1137.1 392.8L1138.1 392.7L1139 392.8L1139.9 392.7L1140.8 392.5L1141.7 392.5L1142.7 392.7L1143.6 392.7L1144.5 392.9L1145.4 392.7L1146.3 392.7L1147.2 392.8L1148.2 392.7L1149.1 392.7L1150 392.8L1150.9 393L1151.8 392.6L1152.8 392.8L1153.7 392.7L1154.6 392.7L1155.5 392.8L1156.4 392.7L1157.4 392.7L1158.3 392.8L1159.2 392.7L1160.1 392.8L1161 392.6L1161.9 392.7L1162.9 392.9L1163.8 392.7L1164.7 392.8L1165.6 392.7L1166.5 393L1167.5 392.8L1168.4 393.1L1169.3 392.9L1170.2 392.3L1171.1 392.5L1172.1 392.5L1173 392.8L1173.9 392.9L1174.8 392.8L1175.7 392.7L1176.6 392.7L1177.6 392.8L1178.5 392.9L1179.4 392.8L1180.3 392.5L1181.2 392.6L1182.2 392.7L1183.1 392.8L1184 392.9L1184.9 393L1185.8 392.8L1186.8 392.5L1187.7 392.6L1188.6 392.9L1189.5 392.5L1190.4 392.6L1191.3 392.4L1192.3 392.6L1193.2 392.9L1194.1 392.7L1195 392.7L1195.9 392.9L1196.9 392.9L1197.8 392.8L1198.7 392.9" fill="none" stroke="#3a87c8" stroke-width="1.3" stroke-linejoin="round" /><path d="M1108.7 489.5L1109.6 489.8L1110.5 490.2L1111.4 490.6L1112.3 490.5L1113.3 490.5L1114.2 490.9L1115.1 490.7L1116 489.6L1116.9 488.4L1117.9 487.5L1118.8 485.8L1119.7 484L1120.6 483L1121.5 482.4L1122.4 480.6L1123.4 478L1124.3 476.2L1125.2 474.2L1126.1 472.2L1127 470.4L1128 468.1L1128.9 466.7L1129.8 465.2L1130.7 463.8L1131.6 462.3L1132.6 460.3L1133.5 459.4L1134.4 458.3L1135.3 456.5L1136.2 456.1L1137.1 455.1L1138.1 454.5L1139 453.7L1139.9 453.8L1140.8 453.6L1141.7 453.9L1142.7 453.9L1143.6 454.4L1144.5 453.9L1145.4 453.8L1146.3 453.8L1147.2 453.9L1148.2 454.1L1149.1 454.2L1150 453.8L1150.9 454.2L1151.8 454.5L1152.8 454.4L1153.7 454.5L1154.6 454.8L1155.5 454.5L1156.4 454.4L1157.4 455L1158.3 454.9L1159.2 455.7L1160.1 455.5L1161 456.3L1161.9 456.2L1162.9 456.5L1163.8 456.8L1164.7 456.7L1165.6 457.2L1166.5 457.4L1167.5 457.7L1168.4 457.2L1169.3 457.6L1170.2 457.6L1171.1 457.8L1172.1 457.7L1173 458.2L1173.9 458.4L1174.8 458.6L1175.7 458.5L1176.6 458.7L1177.6 458.6L1178.5 458.5L1179.4 458.4L1180.3 458.6L1181.2 458.6L1182.2 459.5L1183.1 460.4L1184 461.1L1184.9 461.8L1185.8 462.7L1186.8 463.5L1187.7 464.5L1188.6 466.1L1189.5 466.9L1190.4 468.1L1191.3 469.2L1192.3 470.2L1193.2 470.8L1194.1 472L1195 473.6L1195.9 474.4L1196.9 475.7L1197.8 476.2L1198.7 477.5L1198.7 496.8L1197.8 496.8L1196.9 496.8L1195.9 496.8L1195 496.8L1194.1 496.8L1193.2 496.8L1192.3 496.8L1191.3 496.8L1190.4 496.8L1189.5 496.8L1188.6 496.8L1187.7 496.8L1186.8 496.8L1185.8 496.8L1184.9 496.8L1184 496.8L1183.1 496.8L1182.2 496.8L1181.2 496.8L1180.3 496.8L1179.4 496.8L1178.5 496.8L1177.6 496.8L1176.6 496.8L1175.7 496.8L1174.8 496.8L1173.9 496.8L1173 496.8L1172.1 496.8L1171.1 496.8L1170.2 496.8L1169.3 496.8L1168.4 496.8L1167.5 496.8L1166.5 496.8L1165.6 496.8L1164.7 496.8L1163.8 496.8L1162.9 496.8L1161.9 496.8L1161 496.8L1160.1 496.8L1159.2 496.8L1158.3 496.8L1157.4 496.8L1156.4 496.8L1155.5 496.8L1154.6 496.8L1153.7 496.8L1152.8 496.8L1151.8 496.8L1150.9 496.8L1150 496.8L1149.1 496.8L1148.2 496.8L1147.2 496.8L1146.3 496.8L1145.4 496.8L1144.5 496.8L1143.6 496.8L1142.7 496.8L1141.7 496.8L1140.8 496.8L1139.9 496.8L1139 496.8L1138.1 496.8L1137.1 496.8L1136.2 496.8L1135.3 496.8L1134.4 496.8L1133.5 496.8L1132.6 496.8L1131.6 496.8L1130.7 496.8L1129.8 496.8L1128.9 496.8L1128 496.8L1127 496.8L1126.1 496.8L1125.2 496.8L1124.3 496.8L1123.4 496.8L1122.4 496.8L1121.5 496.8L1120.6 496.8L1119.7 496.8L1118.8 496.8L1117.9 496.8L1116.9 496.8L1116 496.8L1115.1 496.8L1114.2 496.8L1113.3 496.8L1112.3 496.8L1111.4 496.8L1110.5 496.8L1109.6 496.8L1108.7 496.8Z" fill="#f8cfcc" fill-opacity="1" stroke="none"/><path d="M1108.7 493.1L1109.6 493.3L1110.5 493.5L1111.4 493.6L1112.3 493.7L1113.3 493.3L1114.2 493.6L1115.1 493.7L1116 493.9L1116.9 493.9L1117.9 493.6L1118.8 493L1119.7 493.5L1120.6 493.1L1121.5 492.8L1122.4 492.1L1123.4 491.9L1124.3 490.8L1125.2 489.7L1126.1 489L1127 488L1128 487.2L1128.9 486L1129.8 485L1130.7 483.9L1131.6 482.8L1132.6 482.1L1133.5 480.7L1134.4 479.7L1135.3 478.5L1136.2 477.5L1137.1 476.3L1138.1 476.3L1139 475.7L1139.9 475.9L1140.8 475.6L1141.7 475.3L1142.7 475.7L1143.6 475.7L1144.5 475.9L1145.4 475.9L1146.3 476.2L1147.2 476.9L1148.2 477.6L1149.1 478.1L1150 478.5L1150.9 479L1151.8 479.4L1152.8 479.7L1153.7 480.3L1154.6 480.7L1155.5 480.8L1156.4 481L1157.4 481.7L1158.3 481.8L1159.2 481.8L1160.1 481.7L1161 482L1161.9 482.3L1162.9 481.9L1163.8 482.8L1164.7 482.4L1165.6 482.9L1166.5 483.3L1167.5 483.7L1168.4 484L1169.3 484.6L1170.2 485L1171.1 484.9L1172.1 484.7L1173 485L1173.9 484.7L1174.8 485.3L1175.7 485.3L1176.6 485.4L1177.6 485.2L1178.5 485.6L1179.4 485.4L1180.3 485.5L1181.2 486.1L1182.2 486.4L1183.1 486.9L1184 487.2L1184.9 487.3L1185.8 487.8L1186.8 488L1187.7 488.7L1188.6 489.6L1189.5 490.3L1190.4 490.7L1191.3 491.2L1192.3 491.3L1193.2 491.5L1194.1 491.7L1195 492.1L1195.9 492.4L1196.9 493L1197.8 493.2L1198.7 493.5L1198.7 496.8L1197.8 496.8L1196.9 496.8L1195.9 496.8L1195 496.8L1194.1 496.8L1193.2 496.8L1192.3 496.8L1191.3 496.8L1190.4 496.8L1189.5 496.8L1188.6 496.8L1187.7 496.8L1186.8 496.8L1185.8 496.8L1184.9 496.8L1184 496.8L1183.1 496.8L1182.2 496.8L1181.2 496.8L1180.3 496.8L1179.4 496.8L1178.5 496.8L1177.6 496.8L1176.6 496.8L1175.7 496.8L1174.8 496.8L1173.9 496.8L1173 496.8L1172.1 496.8L1171.1 496.8L1170.2 496.8L1169.3 496.8L1168.4 496.8L1167.5 496.8L1166.5 496.8L1165.6 496.8L1164.7 496.8L1163.8 496.8L1162.9 496.8L1161.9 496.8L1161 496.8L1160.1 496.8L1159.2 496.8L1158.3 496.8L1157.4 496.8L1156.4 496.8L1155.5 496.8L1154.6 496.8L1153.7 496.8L1152.8 496.8L1151.8 496.8L1150.9 496.8L1150 496.8L1149.1 496.8L1148.2 496.8L1147.2 496.8L1146.3 496.8L1145.4 496.8L1144.5 496.8L1143.6 496.8L1142.7 496.8L1141.7 496.8L1140.8 496.8L1139.9 496.8L1139 496.8L1138.1 496.8L1137.1 496.8L1136.2 496.8L1135.3 496.8L1134.4 496.8L1133.5 496.8L1132.6 496.8L1131.6 496.8L1130.7 496.8L1129.8 496.8L1128.9 496.8L1128 496.8L1127 496.8L1126.1 496.8L1125.2 496.8L1124.3 496.8L1123.4 496.8L1122.4 496.8L1121.5 496.8L1120.6 496.8L1119.7 496.8L1118.8 496.8L1117.9 496.8L1116.9 496.8L1116 496.8L1115.1 496.8L1114.2 496.8L1113.3 496.8L1112.3 496.8L1111.4 496.8L1110.5 496.8L1109.6 496.8L1108.7 496.8Z" fill="#d3e3f1" fill-opacity="1" stroke="none"/><path d="M1108.7 489.5L1109.6 489.8L1110.5 490.2L1111.4 490.6L1112.3 490.5L1113.3 490.5L1114.2 490.9L1115.1 490.7L1116 489.6L1116.9 488.4L1117.9 487.5L1118.8 485.8L1119.7 484L1120.6 483L1121.5 482.4L1122.4 480.6L1123.4 478L1124.3 476.2L1125.2 474.2L1126.1 472.2L1127 470.4L1128 468.1L1128.9 466.7L1129.8 465.2L1130.7 463.8L1131.6 462.3L1132.6 460.3L1133.5 459.4L1134.4 458.3L1135.3 456.5L1136.2 456.1L1137.1 455.1L1138.1 454.5L1139 453.7L1139.9 453.8L1140.8 453.6L1141.7 453.9L1142.7 453.9L1143.6 454.4L1144.5 453.9L1145.4 453.8L1146.3 453.8L1147.2 453.9L1148.2 454.1L1149.1 454.2L1150 453.8L1150.9 454.2L1151.8 454.5L1152.8 454.4L1153.7 454.5L1154.6 454.8L1155.5 454.5L1156.4 454.4L1157.4 455L1158.3 454.9L1159.2 455.7L1160.1 455.5L1161 456.3L1161.9 456.2L1162.9 456.5L1163.8 456.8L1164.7 456.7L1165.6 457.2L1166.5 457.4L1167.5 457.7L1168.4 457.2L1169.3 457.6L1170.2 457.6L1171.1 457.8L1172.1 457.7L1173 458.2L1173.9 458.4L1174.8 458.6L1175.7 458.5L1176.6 458.7L1177.6 458.6L1178.5 458.5L1179.4 458.4L1180.3 458.6L1181.2 458.6L1182.2 459.5L1183.1 460.4L1184 461.1L1184.9 461.8L1185.8 462.7L1186.8 463.5L1187.7 464.5L1188.6 466.1L1189.5 466.9L1190.4 468.1L1191.3 469.2L1192.3 470.2L1193.2 470.8L1194.1 472L1195 473.6L1195.9 474.4L1196.9 475.7L1197.8 476.2L1198.7 477.5" fill="none" stroke="#e8302a" stroke-width="1.3" stroke-linejoin="round" /><path d="M1108.7 493.1L1109.6 493.3L1110.5 493.5L1111.4 493.6L1112.3 493.7L1113.3 493.3L1114.2 493.6L1115.1 493.7L1116 493.9L1116.9 493.9L1117.9 493.6L1118.8 493L1119.7 493.5L1120.6 493.1L1121.5 492.8L1122.4 492.1L1123.4 491.9L1124.3 490.8L1125.2 489.7L1126.1 489L1127 488L1128 487.2L1128.9 486L1129.8 485L1130.7 483.9L1131.6 482.8L1132.6 482.1L1133.5 480.7L1134.4 479.7L1135.3 478.5L1136.2 477.5L1137.1 476.3L1138.1 476.3L1139 475.7L1139.9 475.9L1140.8 475.6L1141.7 475.3L1142.7 475.7L1143.6 475.7L1144.5 475.9L1145.4 475.9L1146.3 476.2L1147.2 476.9L1148.2 477.6L1149.1 478.1L1150 478.5L1150.9 479L1151.8 479.4L1152.8 479.7L1153.7 480.3L1154.6 480.7L1155.5 480.8L1156.4 481L1157.4 481.7L1158.3 481.8L1159.2 481.8L1160.1 481.7L1161 482L1161.9 482.3L1162.9 481.9L1163.8 482.8L1164.7 482.4L1165.6 482.9L1166.5 483.3L1167.5 483.7L1168.4 484L1169.3 484.6L1170.2 485L1171.1 484.9L1172.1 484.7L1173 485L1173.9 484.7L1174.8 485.3L1175.7 485.3L1176.6 485.4L1177.6 485.2L1178.5 485.6L1179.4 485.4L1180.3 485.5L1181.2 486.1L1182.2 486.4L1183.1 486.9L1184 487.2L1184.9 487.3L1185.8 487.8L1186.8 488L1187.7 488.7L1188.6 489.6L1189.5 490.3L1190.4 490.7L1191.3 491.2L1192.3 491.3L1193.2 491.5L1194.1 491.7L1195 492.1L1195.9 492.4L1196.9 493L1197.8 493.2L1198.7 493.5" fill="none" stroke="#3a87c8" stroke-width="1.3" stroke-linejoin="round" /><line x1="1108.3" y1="427.4" x2="1117.4" y2="427.4" stroke="#3a87c8" stroke-width="1.6" /><text x="1124.40" y="431.30" style="font-size:10.38px;" fill="#231f20" >Water</text><line x1="1108.3" y1="441" x2="1117.4" y2="441" stroke="#e8302a" stroke-width="1.6" /><text x="1124.40" y="444.90" style="font-size:10.40px;" fill="#231f20" >Novel flavour</text><text x="1.30" y="570.00" style="font-size:19.0px;font-weight:bold" fill="#000" stroke="#000" stroke-width="0.6">i</text><text x="90.00" y="574.90" style="font-size:10.53px;" fill="#231f20" >Delay</text><text x="147.60" y="574.90" style="font-size:11.60px;" fill="#231f20" >CGRP stimulation</text><line x1="68.2" y1="581.4" x2="138.8" y2="581.4" stroke="#d0d0d0" stroke-width="1.8" /><line x1="140.7" y1="581.4" x2="247.2" y2="581.4" stroke="#2f9b50" stroke-width="1.8" /><line x1="61.3" y1="589.5" x2="61.3" y2="769.2" stroke="#231f20" stroke-width="1.0" /><line x1="54" y1="589.5" x2="61.8" y2="589.5" stroke="#231f20" stroke-width="1.0" /><text x="46.70" y="593.40" text-anchor="end" style="font-size:11.30px;" fill="#231f20">15</text><line x1="54" y1="648.9" x2="61.8" y2="648.9" stroke="#231f20" stroke-width="1.0" /><text x="46.70" y="652.80" text-anchor="end" style="font-size:11.30px;" fill="#231f20">10</text><line x1="54" y1="709.1" x2="61.8" y2="709.1" stroke="#231f20" stroke-width="1.0" /><text x="46.70" y="713.00" text-anchor="end" style="font-size:11.30px;" fill="#231f20">5</text><line x1="54" y1="769.2" x2="61.8" y2="769.2" stroke="#231f20" stroke-width="1.0" /><text x="46.70" y="773.10" text-anchor="end" style="font-size:11.30px;" fill="#231f20">0</text><line x1="68.2" y1="776.9" x2="247.2" y2="776.9" stroke="#231f20" stroke-width="1.0" /><line x1="68.2" y1="776.4" x2="68.2" y2="783.9" stroke="#231f20" stroke-width="1.0" /><text x="68.20" y="799.50" text-anchor="middle" style="font-size:11.30px;" fill="#231f20">−30</text><line x1="104" y1="776.4" x2="104" y2="783.9" stroke="#231f20" stroke-width="1.0" /><text x="104.00" y="799.50" text-anchor="middle" style="font-size:11.30px;" fill="#231f20">−15</text><line x1="139.8" y1="776.4" x2="139.8" y2="783.9" stroke="#231f20" stroke-width="1.0" /><text x="139.80" y="799.50" text-anchor="middle" style="font-size:11.30px;" fill="#231f20">0</text><line x1="175.6" y1="776.4" x2="175.6" y2="783.9" stroke="#231f20" stroke-width="1.0" /><text x="175.60" y="799.50" text-anchor="middle" style="font-size:11.30px;" fill="#231f20">15</text><line x1="211.4" y1="776.4" x2="211.4" y2="783.9" stroke="#231f20" stroke-width="1.0" /><text x="211.40" y="799.50" text-anchor="middle" style="font-size:11.30px;" fill="#231f20">30</text><line x1="247.2" y1="776.4" x2="247.2" y2="783.9" stroke="#231f20" stroke-width="1.0" /><text x="247.20" y="799.50" text-anchor="middle" style="font-size:11.30px;" fill="#231f20">45</text><text x="157.10" y="819.50" text-anchor="middle" style="font-size:11.30px;" fill="#231f20">Time (min)</text><text transform="translate(21.60,680.30) rotate(-90)" text-anchor="middle" style="font-size:11.30px" fill="#231f20">Reactivations per min</text><line x1="166" y1="600.6" x2="176.3" y2="600.6" stroke="#3a87c8" stroke-width="1.6" /><text x="183.20" y="604.40" style="font-size:10.49px;" fill="#231f20" >Water</text><line x1="166" y1="615.2" x2="176.3" y2="615.2" stroke="#e8302a" stroke-width="1.6" /><text x="183.20" y="619.00" style="font-size:10.32px;" fill="#231f20" >Novel flavour</text><path d="M68.2 706.3L69.4 708.6L70.6 711.4L71.8 715.5L73 720.6L74.2 736.5L75.4 730.1L76.6 728.6L77.7 722L78.9 726.2L80.1 726.1L81.3 736.1L82.5 737.8L83.7 740.6L84.9 731.1L86.1 752.8L87.3 754.5L88.5 738.3L89.7 738.6L90.9 741.8L92.1 745.9L93.3 747.8L94.5 744.3L95.6 750.5L96.8 740.3L98 738.4L99.2 748.9L100.4 740.7L101.6 736.3L102.8 734.7L104 717.5L105.2 725.9L106.4 754.5L107.6 744.2L108.8 739.5L110 734L111.2 738.2L112.4 752.2L113.5 742.2L114.7 741.3L115.9 735.3L117.1 740.3L118.3 753.8L119.5 740.4L120.7 750.2L121.9 741.6L123.1 736.8L124.3 741.9L125.5 743.7L126.7 745.5L127.9 734.2L129.1 740.4L130.3 739L131.4 737.3L132.6 741.7L133.8 737.3L135 744.2L136.2 752.2L137.4 743L138.6 744.6L139.8 739.9L139.8 600L141 645.4L142.2 634.9L143.4 655.8L144.6 652.2L145.8 655.2L147 662.8L148.2 676.1L149.4 667.2L150.6 666.5L151.8 658.4L153 666.3L154.1 680.5L155.3 665.8L156.5 675.2L157.7 676.1L158.9 675L160.1 682.5L161.3 679.4L162.5 689.4L163.7 682L164.9 673.3L166.1 676.8L167.3 677.8L168.5 679.2L169.7 674.1L170.9 673.3L172 665.6L173.2 666.9L174.4 665.8L175.6 674L176.8 664.3L178 684.8L179.2 672.5L180.4 674L181.6 667.7L182.8 661.6L184 666L185.2 684.9L186.4 682.6L187.6 684.8L188.8 679.3L189.9 669.7L191.1 676.1L192.3 679.3L193.5 675.7L194.7 672.5L195.9 663.6L197.1 664.4L198.3 668.1L199.5 671.8L200.7 677.9L201.9 675.5L203.1 682.5L204.3 683.7L205.5 695.8L206.7 680.9L207.8 683L209 684.4L210.2 688.6L211.4 684.1L212.6 681.8L213.8 673.5L215 673.6L216.2 675.2L217.4 673.4L218.6 656.2L219.8 674.2L221 674.7L222.2 676.1L223.4 688L224.6 692.8L225.7 692L226.9 677.3L228.1 687.6L229.3 694.4L230.5 683.4L231.7 690.8L232.9 701.9L234.1 697.7L235.3 692.4L236.5 707.1L237.7 704L238.9 697.9L240.1 706.2L241.3 706.7L242.5 686.3L243.6 688.7L244.8 679.1L246 678.5L247.2 684.4L247.2 767.3L246 757.1L244.8 758.8L243.6 767L242.5 768.5L241.3 769.2L240.1 769.2L238.9 769.2L237.7 769.2L236.5 769.2L235.3 769.2L234.1 769.2L232.9 769.2L231.7 769.2L230.5 761.2L229.3 762.4L228.1 762.1L226.9 760.3L225.7 769.2L224.6 764.9L223.4 756L222.2 743.3L221 744.1L219.8 745.1L218.6 735.1L217.4 756.1L216.2 750.7L215 744.7L213.8 750.8L212.6 752.9L211.4 753L210.2 759.7L209 766.7L207.8 759.1L206.7 760.6L205.5 769.2L204.3 767.4L203.1 763.6L201.9 745.1L200.7 752.7L199.5 748.5L198.3 739.8L197.1 736.5L195.9 745.4L194.7 747.5L193.5 752.6L192.3 747.5L191.1 750.5L189.9 752.4L188.8 748L187.6 759.9L186.4 755.4L185.2 755.8L184 744.1L182.8 746.5L181.6 737.7L180.4 741.8L179.2 745.7L178 753.2L176.8 746L175.6 753.9L174.4 744.2L173.2 747.8L172 750.5L170.9 746.1L169.7 753.6L168.5 748.1L167.3 761.5L166.1 758.6L164.9 749.2L163.7 755.3L162.5 766.8L161.3 763.3L160.1 758.5L158.9 742.2L157.7 744.8L156.5 742.6L155.3 739.3L154.1 753.4L153 745.8L151.8 731.4L150.6 742.7L149.4 736.1L148.2 745.2L147 749L145.8 727.4L144.6 736.2L143.4 723.8L142.2 717.5L141 716.3L139.8 669.8L139.8 769.2L138.6 769.2L137.4 769.2L136.2 769.2L135 769.2L133.8 769.2L132.6 769.2L131.4 768.9L130.3 769.2L129.1 769.2L127.9 769.2L126.7 769.2L125.5 769.2L124.3 769.2L123.1 769.2L121.9 769.2L120.7 769.2L119.5 769.2L118.3 769.2L117.1 769.2L115.9 769.2L114.7 769.2L113.5 769.2L112.4 769.2L111.2 769.2L110 769.2L108.8 769.2L107.6 769.2L106.4 769.2L105.2 769.2L104 757L102.8 768.5L101.6 769.2L100.4 769.2L99.2 769.2L98 769.2L96.8 769.2L95.6 769.2L94.5 769.2L93.3 769.2L92.1 769.2L90.9 769.2L89.7 769.2L88.5 769.2L87.3 769.2L86.1 769.2L84.9 769.2L83.7 769.2L82.5 769.2L81.3 769.2L80.1 763.9L78.9 764.4L77.7 767.2L76.6 769.2L75.4 769.2L74.2 769.2L73 762.7L71.8 760.6L70.6 749.4L69.4 745.1L68.2 739.4Z" fill="#f8c9c6" fill-opacity="0.85" stroke="none"/><path d="M68.2 719.5L69.4 715.5L70.6 719.1L71.8 721.7L73 728.1L74.2 732.7L75.4 748.3L76.6 742.2L77.7 740.9L78.9 741.7L80.1 735L81.3 730.6L82.5 720L83.7 733.8L84.9 740.6L86.1 747.4L87.3 743.1L88.5 744.9L89.7 751.2L90.9 752.8L92.1 751.6L93.3 754.7L94.5 750.5L95.6 750.7L96.8 744.8L98 747.7L99.2 747.2L100.4 741.3L101.6 745.3L102.8 741.5L104 746.6L105.2 749.6L106.4 745.5L107.6 751.1L108.8 751.2L110 750.9L111.2 758L112.4 751.7L113.5 752.8L114.7 756.5L115.9 757.5L117.1 758.9L118.3 759L119.5 752.6L120.7 757.4L121.9 757L123.1 758.6L124.3 752.7L125.5 751.9L126.7 751.3L127.9 758L129.1 754.1L130.3 756.3L131.4 748.9L132.6 749.8L133.8 743.5L135 751.9L136.2 754.6L137.4 754.1L138.6 747.7L139.8 758.5L139.8 728.8L141 735.8L142.2 736.3L143.4 731.1L144.6 730.6L145.8 734.6L147 730.8L148.2 742.5L149.4 735.4L150.6 731.8L151.8 746.3L153 749.5L154.1 742.6L155.3 744.3L156.5 742.5L157.7 746.4L158.9 751.9L160.1 751.9L161.3 741.3L162.5 743L163.7 752.5L164.9 746.6L166.1 742.2L167.3 741.6L168.5 742L169.7 740.8L170.9 742.4L172 747.2L173.2 743.7L174.4 740L175.6 747.5L176.8 733.1L178 727.4L179.2 723L180.4 723.4L181.6 726.6L182.8 730L184 722.2L185.2 727.3L186.4 729.8L187.6 723.7L188.8 728.2L189.9 736.5L191.1 736.5L192.3 739.1L193.5 739.6L194.7 751L195.9 747L197.1 746.6L198.3 740.5L199.5 740L200.7 738.1L201.9 729.4L203.1 733.4L204.3 740.9L205.5 743.4L206.7 740.1L207.8 751.5L209 739.4L210.2 741.6L211.4 739.5L212.6 735.8L213.8 738.6L215 734.5L216.2 734.4L217.4 733.7L218.6 727.9L219.8 728.8L221 730.1L222.2 731.9L223.4 747.8L224.6 743.6L225.7 749.6L226.9 742.7L228.1 740.6L229.3 734.9L230.5 751L231.7 743.3L232.9 739.2L234.1 744.9L235.3 738.4L236.5 737.1L237.7 733.3L238.9 735.9L240.1 747.2L241.3 747.1L242.5 743L243.6 744.1L244.8 744.4L246 737.4L247.2 746.1L247.2 769.2L246 766.1L244.8 769.2L243.6 768.1L242.5 766.8L241.3 769.2L240.1 769.2L238.9 760L237.7 758.3L236.5 764.8L235.3 765.9L234.1 769.2L232.9 761.4L231.7 769.2L230.5 769.2L229.3 762.9L228.1 766.1L226.9 769.2L225.7 769.2L224.6 769.2L223.4 769.2L222.2 756L221 759.7L219.8 759.7L218.6 752.2L217.4 762.7L216.2 759.1L215 757.4L213.8 763.5L212.6 762.5L211.4 766.7L210.2 767.7L209 766.6L207.8 769.2L206.7 766.7L205.5 766.9L204.3 769.2L203.1 762.8L201.9 758.5L200.7 763.7L199.5 769.2L198.3 767.9L197.1 769.2L195.9 769.2L194.7 769.2L193.5 762.5L192.3 763.7L191.1 763.8L189.9 762.8L188.8 753.3L187.6 753L186.4 760.7L185.2 750.9L184 744.8L182.8 755L181.6 749.1L180.4 747.9L179.2 751.6L178 749.4L176.8 763.9L175.6 769.2L174.4 768.8L173.2 769.2L172 769.2L170.9 769.2L169.7 767.6L168.5 766.6L167.3 769.2L166.1 767.9L164.9 769.2L163.7 769.2L162.5 769.2L161.3 768.8L160.1 769.2L158.9 769.2L157.7 769.2L156.5 766.3L155.3 768.9L154.1 769.2L153 769.2L151.8 769.2L150.6 760.4L149.4 760.2L148.2 765.8L147 760.3L145.8 756.5L144.6 755.8L143.4 758.2L142.2 760.6L141 763.3L139.8 751.2L139.8 769.2L138.6 769.2L137.4 769.2L136.2 769.2L135 769.2L133.8 767.5L132.6 769.2L131.4 769.2L130.3 769.2L129.1 769.2L127.9 769.2L126.7 769.2L125.5 769.2L124.3 769.2L123.1 769.2L121.9 769.2L120.7 769.2L119.5 769.2L118.3 769.2L117.1 769.2L115.9 769.2L114.7 769.2L113.5 769.2L112.4 769.2L111.2 769.2L110 769.2L108.8 769.2L107.6 769.2L106.4 769.2L105.2 769.2L104 769.2L102.8 763.8L101.6 768.2L100.4 766.4L99.2 767.7L98 767.9L96.8 769.2L95.6 769.2L94.5 769.2L93.3 769.2L92.1 769.2L90.9 769.2L89.7 769.2L88.5 769.2L87.3 769.2L86.1 769.2L84.9 762.2L83.7 756.3L82.5 744L81.3 757.6L80.1 758.7L78.9 760.9L77.7 760.2L76.6 769.2L75.4 769.2L74.2 758L73 749L71.8 741.1L70.6 739.6L69.4 745.8L68.2 745.6Z" fill="#c9ddef" fill-opacity="0.8" stroke="none"/><path d="M68.2 732.5L69.4 730.6L70.6 729.4L71.8 731.4L73 738.6L74.2 745.3L75.4 762.2L76.6 757.3L77.7 750.5L78.9 751.3L80.1 746.8L81.3 744.1L82.5 732L83.7 745.1L84.9 751.4L86.1 761.3L87.3 756.3L88.5 760.2L89.7 762.8L90.9 765.2L92.1 766.9L93.3 768.4L94.5 761.7L95.6 764.7L96.8 757.1L98 757.8L99.2 757.5L100.4 753.9L101.6 756.7L102.8 752.6L104 760.5L105.2 760.8L106.4 757.8L107.6 763.8L108.8 760.8L110 765.3L111.2 769.2L112.4 762.3L113.5 765.4L114.7 767.4L115.9 767.3L117.1 769.2L118.3 768.8L119.5 764.3L120.7 768.9L121.9 767.9L123.1 769.2L124.3 767.3L125.5 765L126.7 764.5L127.9 767.6L129.1 769.2L130.3 766.1L131.4 763.1L132.6 763.3L133.8 755.5L135 763.5L136.2 767.4L137.4 767.2L138.6 762.3L139.8 768.4L139.8 740L141 749.5L142.2 748.5L143.4 744.7L144.6 743.2L145.8 745.6L147 745.6L148.2 754.1L149.4 747.8L150.6 746.1L151.8 761.5L153 764.4L154.1 757.9L155.3 756.6L156.5 754.4L157.7 759.4L158.9 766.7L160.1 765.8L161.3 755.1L162.5 757.1L163.7 764.3L164.9 760.1L166.1 755L167.3 756.6L168.5 754.3L169.7 754.2L170.9 756.2L172 761.4L173.2 758.3L174.4 754.4L175.6 758.9L176.8 748.5L178 738.4L179.2 737.3L180.4 735.7L181.6 737.9L182.8 742.5L184 733.5L185.2 739.1L186.4 745.2L187.6 738.4L188.8 740.8L189.9 749.7L191.1 750.2L192.3 751.4L193.5 751.1L194.7 763.9L195.9 761.8L197.1 762L198.3 754.2L199.5 754.7L200.7 750.9L201.9 744L203.1 748.1L204.3 756L205.5 755.1L206.7 753.4L207.8 762.6L209 753L210.2 754.7L211.4 753.1L212.6 749.2L213.8 751L215 745.9L216.2 746.8L217.4 748.2L218.6 740L219.8 744.3L221 744.9L222.2 744L223.4 760.8L224.6 758.3L225.7 760.4L226.9 757.1L228.1 753.4L229.3 748.9L230.5 761.8L231.7 757.2L232.9 750.3L234.1 757.1L235.3 752.1L236.5 750.9L237.7 745.8L238.9 748L240.1 759.7L241.3 759.3L242.5 754.9L243.6 756.1L244.8 757.6L246 751.8L247.2 760.8" fill="none" stroke="#3a87c8" stroke-width="1.3" stroke-linejoin="round" /><path d="M68.2 722.8L69.4 726.8L70.6 730.4L71.8 738L73 741.6L74.2 753.1L75.4 753.6L76.6 751.9L77.7 744.6L78.9 745.3L80.1 745L81.3 754.4L82.5 761.5L83.7 759.6L84.9 754.6L86.1 768.9L87.3 769.2L88.5 757.2L89.7 754.9L90.9 758.6L92.1 760.6L93.3 763.4L94.5 762.9L95.6 765.7L96.8 757.6L98 758.7L99.2 765.7L100.4 758.1L101.6 754.3L102.8 751.6L104 737.3L105.2 747.7L106.4 769.2L107.6 763.7L108.8 759L110 757.2L111.2 759.4L112.4 769.2L113.5 762.5L114.7 764.4L115.9 758.8L117.1 762L118.3 769.2L119.5 758.4L120.7 769.2L121.9 759.1L123.1 758.4L124.3 761L125.5 767.4L126.7 759.9L127.9 756.3L129.1 755.9L130.3 758.3L131.4 753.1L132.6 759.8L133.8 757.6L135 767.8L136.2 767L137.4 761.1L138.6 760L139.8 761.4L139.8 634.9L141 680.9L142.2 676.2L143.4 689.8L144.6 694.2L145.8 691.3L147 705.9L148.2 710.6L149.4 701.6L150.6 704.6L151.8 694.9L153 706L154.1 716.9L155.3 702.5L156.5 708.9L157.7 710.4L158.9 708.6L160.1 720.5L161.3 721.4L162.5 728.1L163.7 718.6L164.9 711.2L166.1 717.7L167.3 719.7L168.5 713.7L169.7 713.8L170.9 709.7L172 708L173.2 707.4L174.4 705L175.6 713.9L176.8 705.1L178 719L179.2 709.1L180.4 707.9L181.6 702.7L182.8 704.1L184 705.1L185.2 720.3L186.4 719L187.6 722.3L188.8 713.6L189.9 711.1L191.1 713.3L192.3 713.4L193.5 714.1L194.7 710L195.9 704.5L197.1 700.5L198.3 703.9L199.5 710.1L200.7 715.3L201.9 710.3L203.1 723.1L204.3 725.5L205.5 737.3L206.7 720.8L207.8 721.1L209 725.5L210.2 724.2L211.4 718.5L212.6 717.4L213.8 712.2L215 709.2L216.2 713L217.4 714.8L218.6 695.6L219.8 709.7L221 709.4L222.2 709.7L223.4 722L224.6 728.9L225.7 732.4L226.9 718.8L228.1 724.8L229.3 728.4L230.5 722.3L231.7 733.4L232.9 735.6L234.1 737.3L235.3 735.5L236.5 743.8L237.7 743.3L238.9 739.3L240.1 746.1L241.3 741.9L242.5 727.4L243.6 727.9L244.8 719L246 717.8L247.2 725.8" fill="none" stroke="#e8302a" stroke-width="1.3" stroke-linejoin="round" /><text x="283.68" y="569.50" style="font-size:19.0px;font-weight:bold" fill="#000" stroke="#000" stroke-width="0.6">j</text><text x="306.60" y="576.80" style="font-size:11.61px;" fill="#231f20" >Dimensionality reduction</text><text x="318.90" y="590.20" style="font-size:11.47px;" fill="#231f20" >of population activity</text><text x="344.20" y="608.30" style="font-size:10.90px;" fill="#231f20" >PETHs</text><line x1="330" y1="613.2" x2="391.5" y2="613.2" stroke="#231f20" stroke-width="1.1" /><path d="M327.2 613.2 l5.5 -2.6 v5.2Z" fill="#231f20" stroke="none" stroke-width="1" /><path d="M394.5 613.2 l-5.5 -2.6 v5.2Z" fill="#231f20" stroke="none" stroke-width="1" /><rect x="327.8" y="620.70" width="66.7" height="2.46" fill="url(#h161)"/><rect x="327.8" y="623.11" width="66.7" height="2.46" fill="url(#h162)"/><rect x="327.8" y="625.53" width="66.7" height="2.46" fill="url(#h163)"/><rect x="327.8" y="627.94" width="66.7" height="2.46" fill="url(#h164)"/><rect x="327.8" y="630.36" width="66.7" height="2.46" fill="url(#h165)"/><rect x="327.8" y="632.77" width="66.7" height="2.46" fill="url(#h166)"/><rect x="327.8" y="635.19" width="66.7" height="2.46" fill="url(#h167)"/><rect x="327.8" y="637.60" width="66.7" height="2.46" fill="url(#h168)"/><rect x="327.8" y="640.01" width="66.7" height="2.46" fill="url(#h169)"/><rect x="327.8" y="642.43" width="66.7" height="2.46" fill="url(#h170)"/><rect x="327.8" y="644.84" width="66.7" height="2.46" fill="url(#h171)"/><rect x="327.8" y="647.26" width="66.7" height="2.46" fill="url(#h172)"/><rect x="327.8" y="649.67" width="66.7" height="2.46" fill="url(#h173)"/><rect x="327.8" y="652.09" width="66.7" height="2.46" fill="url(#h174)"/><rect x="327.8" y="620.7" width="66.7" height="33.8" fill="#000" filter="url(#spR)" opacity="0.3"/><rect x="327.8" y="645.9" width="66.7" height="0.9" fill="#7fa3c8" /><ellipse cx="343.00" cy="646.30" rx="4.50" ry="1.20" fill="#a3132a" /><ellipse cx="377.00" cy="646.30" rx="5.00" ry="1.40" fill="#a3132a" /><ellipse cx="343.00" cy="650.50" rx="3.00" ry="0.80" fill="#f0b0a0" /><ellipse cx="376.00" cy="650.50" rx="4.00" ry="0.80" fill="#e08070" /><rect x="327.8" y="620.7" width="66.7" height="33.8" fill="none" stroke="#231f20" stroke-width="1.3" rx="0.8"/><text transform="translate(314.30,637.40) rotate(-90)" text-anchor="middle" style="font-size:11.30px" fill="#231f20">Neurons</text><line x1="321.2" y1="623" x2="321.2" y2="651.5" stroke="#231f20" stroke-width="1.1" /><path d="M321.2 620.2 l-2.6 5.5 h5.2Z" fill="#231f20" stroke="none" stroke-width="1" /><path d="M321.2 654.3 l-2.6 -5.5 h5.2Z" fill="#231f20" stroke="none" stroke-width="1" /><line x1="403" y1="637.4" x2="410.9" y2="637.4" stroke="#231f20" stroke-width="1.1" /><path d="M398.6 637.4 l5.5 -2.6 v5.2Z" fill="#231f20" stroke="none" stroke-width="1" /><text x="412.00" y="641.40" style="font-size:11.55px;" fill="#231f20" >PCA</text><line x1="335.5" y1="679.4" x2="335.5" y2="769.1" stroke="#231f20" stroke-width="1.0" /><line x1="328.4" y1="679.4" x2="336" y2="679.4" stroke="#231f20" stroke-width="1.0" /><text x="321.00" y="683.30" text-anchor="end" style="font-size:11.30px;" fill="#231f20">100</text><line x1="328.4" y1="724.3" x2="336" y2="724.3" stroke="#231f20" stroke-width="1.0" /><text x="321.00" y="728.20" text-anchor="end" style="font-size:11.30px;" fill="#231f20">50</text><line x1="328.4" y1="769.1" x2="336" y2="769.1" stroke="#231f20" stroke-width="1.0" /><text x="321.00" y="773.00" text-anchor="end" style="font-size:11.30px;" fill="#231f20">0</text><line x1="342.5" y1="776.6" x2="432.5" y2="776.6" stroke="#231f20" stroke-width="1.0" /><line x1="342.5" y1="776.1" x2="342.5" y2="783.6" stroke="#231f20" stroke-width="1.0" /><text x="342.50" y="798.60" text-anchor="middle" style="font-size:11.30px;" fill="#231f20">0</text><line x1="387.5" y1="776.1" x2="387.5" y2="783.6" stroke="#231f20" stroke-width="1.0" /><text x="387.50" y="798.60" text-anchor="middle" style="font-size:11.30px;" fill="#231f20">5</text><line x1="432.5" y1="776.1" x2="432.5" y2="783.6" stroke="#231f20" stroke-width="1.0" /><text x="432.50" y="798.60" text-anchor="middle" style="font-size:11.30px;" fill="#231f20">10</text><text x="387.50" y="816.00" text-anchor="middle" style="font-size:11.30px;" fill="#231f20">PCs</text><text transform="translate(292.40,726.30) rotate(-90)" text-anchor="middle" style="font-size:11.30px" fill="#231f20">Variance explained (%)</text><ellipse cx="355.7" cy="711.7" rx="11.5" ry="5.8" fill="#e4e4e4" stroke="#231f20" stroke-width="1" transform="rotate(-52 355.7 711.7)"/><path d="M351.5 717.5L360.3 706.4L369.1 700.6L378.3 697.2L387.1 695.6L396.7 694.5L405.5 693.3L415.1 692.6L423.9 692.2L433.1 691.4" fill="none" stroke="#231f20" stroke-width="1.2" stroke-linejoin="round" /><circle cx="351.5" cy="717.5" r="2.2" fill="#231f20" /><circle cx="360.3" cy="706.4" r="2.2" fill="#231f20" /><circle cx="369.1" cy="700.6" r="2.2" fill="#231f20" /><circle cx="378.3" cy="697.2" r="2.2" fill="#231f20" /><circle cx="387.1" cy="695.6" r="2.2" fill="#231f20" /><circle cx="396.7" cy="694.5" r="2.2" fill="#231f20" /><circle cx="405.5" cy="693.3" r="2.2" fill="#231f20" /><circle cx="415.1" cy="692.6" r="2.2" fill="#231f20" /><circle cx="423.9" cy="692.2" r="2.2" fill="#231f20" /><circle cx="433.1" cy="691.4" r="2.2" fill="#231f20" /><path d="M364.5 719 C372 740, 400 738, 440 731" fill="none" stroke="#231f20" stroke-width="0.9" /><path d="M446.5 730.1 l-6.3 -2.1 l1.2 5.2Z" fill="#231f20" stroke="none" stroke-width="1" /><text x="474.40" y="569.75" style="font-size:19.0px;font-weight:bold" fill="#000" stroke="#000" stroke-width="0.6">k</text><rect x="487.1" y="594.7" width="7.1" height="45.5" fill="url(#tg)" /><text transform="translate(482.80,641.30) rotate(-90)" style="font-size:10.94px;" fill="#231f20">Time</text><line x1="480.6" y1="616" x2="480.6" y2="598" stroke="#231f20" stroke-width="1" /><path d="M480.6 594.7 l-2.4 5 h4.8Z" fill="#231f20" stroke="none" stroke-width="1" /><line x1="487.1" y1="782.1" x2="487.1" y2="740" stroke="#231f20" stroke-width="1.1" /><path d="M487.1 736.6 l-2.6 5.5 h5.2Z" fill="#231f20" stroke="none" stroke-width="1" /><line x1="487.1" y1="782.1" x2="529" y2="782.1" stroke="#231f20" stroke-width="1.1" /><path d="M532.6 782.1 l-5.5 -2.6 v5.2Z" fill="#231f20" stroke="none" stroke-width="1" /><text transform="translate(482.60,763.70) rotate(-90)" text-anchor="middle" style="font-size:11.30px" fill="#231f20">PC2</text><text x="496.40" y="795.10" style="font-size:10.80px;" fill="#231f20" >PC1</text><text x="548.80" y="768.00" style="font-size:11.25px;" fill="#231f20" >CGRP</text><text x="538.00" y="781.50" style="font-size:11.42px;" fill="#231f20" >stimulation</text><text x="670.20" y="591.40" style="font-size:11.37px;" fill="#231f20" >Water</text><text x="705.80" y="788.75" style="font-size:11.43px;" fill="#231f20" >Novel</text><text x="702.90" y="803.30" style="font-size:11.80px;" fill="#231f20" >flavour</text><path d="M669.1 601.2 C669 593, 665 587, 659 585" fill="none" stroke="#3a87c8" stroke-width="1.3" /><path d="M655.5 583.8 l5.5 -1.2 l-1.8 4.5Z" fill="#3a87c8" stroke="none" stroke-width="1" /><path d="M573.8 739.8 C572 746, 566 750, 559 751.5" fill="none" stroke="#2ea34e" stroke-width="1.3" /><path d="M555.3 751.8 l5 -3.3 l0.6 5Z" fill="#2ea34e" stroke="none" stroke-width="1" /><path d="M701.6 771.3 C703 779, 700 786, 696 789" fill="none" stroke="#e8302a" stroke-width="1.3" /><path d="M693 790.8 l1.6 -5.3 l4 3Z" fill="#e8302a" stroke="none" stroke-width="1" /><g fill="none" stroke-width="4.0" stroke-linecap="round" stroke-linejoin="round"><path d="M485.4 688.9L486.3 691L488.3 690.4L487 688L489.6 688.5L487.8 686.9L493 686.3L494.2 687.1L491.7 685L493.8 684.6L496.8 684.2L496.1 682.2L497.1 681.5L498.4 681.8L497.2 680.8" stroke="#9ac8e0"/><path d="M497.2 680.8L501 680.2L503.4 678.2L502.9 674.4L504.4 675.3L506.4 675.7L505.5 674.5L503.9 674.5L505 673.3L507.2 672.3L510.3 668.8L510.7 666.3L510.4 667.7L509.5 668.7L511.8 667.3" stroke="#92c3df"/><path d="M511.8 667.3L513.7 667.5L514.5 667.4L513 669.8L517.9 670.2L519.7 666.4L520.8 665.5L520.2 663.5L520.2 663.1L522.4 659.5L524.2 658.5L523.3 658.4L521.3 658.3L522.8 657.4L524.5 656.7" stroke="#8bbede"/><path d="M524.5 656.7L525.8 655.7L525.2 655.9L526.9 654.2L527.5 655.6L529 654.1L532.7 652.9L532.1 652.9L529.2 653.5L530.3 649.2L530.9 649.8L533 650L533.6 650.2L534.9 652.8L537 654.8" stroke="#83b9dd"/><path d="M537 654.8L538.2 654.7L539.5 655.4L541.4 654.5L540.8 653.5L543.5 658.1L542.8 659.2L541.9 659.4L543.9 658.9L546.1 658.6L547 662.6L549.8 660.7L548.7 664.5L550.4 660.9L551.4 657.4" stroke="#7bb5db"/><path d="M551.4 657.4L549.8 659.6L551.6 658.5L551.3 658.9L553.7 657.7L554.4 655.9L554.8 654.9L557.4 656L558.1 656.1L558.2 654.3L559.9 652.3L557.9 650.9L559.2 650.5L559.6 648L559 646.1" stroke="#74b0da"/><path d="M559 646.1L560.4 647.2L562.1 646.6L561.1 645.7L563.2 644.8L564 643.5L563.3 643.4L565.1 642.1L566.2 640.5L564.2 642L566.7 639.9L568.5 638.8L569.5 637.3L570.9 634.2L572.7 631.5" stroke="#6cabd9"/><path d="M572.7 631.5L571.1 630.6L570.4 631L574 632.3L576.3 632.1L576.5 631L575.7 631.1L577.5 629.6L578 629.9L576.9 628.1L578.1 629.6L579.8 628.7L581.8 627.3L580.5 624.5L582.7 627.2" stroke="#64a6d8"/><path d="M582.7 627.2L584.1 628.2L587 628.4L588.6 625.9L589.3 626L591.7 626.4L593.1 623.4L592.6 623.1L594 625.4L593 623.5L594.8 622.7L597.4 621.2L596.8 620.8L596.9 618.1L600.5 616" stroke="#5da2d6"/><path d="M600.5 616L600.4 614L600.4 614.3L604.6 613.2L603.1 615.3L602.7 615.4L606.7 614.4L608.9 612.8L610.7 610.6L611.3 610.6L609.9 613.2L610.3 609.8L612.3 607.8L613.7 608.3L614.6 606.5" stroke="#569dd4"/><path d="M614.6 606.5L613.6 605.6L614.1 605L615.8 603.2L616.3 601.5L616.4 601L615.7 599.3L616.1 599L617.2 597.8L619.6 596.3L618.8 594.7L620 594.3L620.5 592L621.2 593.3L623.2 590.8" stroke="#5098d1"/><path d="M623.2 590.8L621.9 589.8L623.5 588.7L623.6 586.4L624.3 587.7L626.2 587.7L625.8 593.3L627.8 594.4L628.3 595.5L626.7 594.6L626.4 596.4L626 597.4L626.8 599.4L627.4 600.4L630.4 602" stroke="#4993cf"/><path d="M630.4 602L630.9 604.6L634.2 603.5L633.5 605.2L634.2 602.4L635.1 600.9L637.5 599.7L637.8 597.1L638.9 595.9L639.9 596.3L639.9 591.9L640.6 594.2L641.6 592.9L642.6 595.2L644.3 594.8" stroke="#438ecc"/><path d="M644.3 594.8L643.6 592.6L646.4 591.6L646.3 591.7L647.5 590.6L649.8 590.3L650.5 590.3L650.4 591.8L650.7 596L652.2 595.2L654.5 595.2L655.6 597L656.2 597.6L656.2 595.6L658.1 597" stroke="#3d89c9"/><path d="M658.1 597L658.1 599.1L656.6 598L656.9 601L655.7 604.1L653.1 605.8L653.1 606.1L650.4 603.2L648.6 605.3L648.7 604.7L648.8 606.3L647.9 606.5L645.6 609.8L647.7 612.6L647.3 610.1" stroke="#3784c6"/><path d="M647.3 610.1L646.5 610.9L642.5 610.5L640.3 611.7L642 614.4L642.4 614.2L641.6 613.8L640.3 613.8L639.6 614.4L635.1 612.8L635.1 610.2L632.5 609.5L632 608.5L630 610L630.2 609.9" stroke="#327fc2"/><path d="M630.2 609.9L628 609.2L626.6 610L627.3 612.4L626 610.5L625.9 609.8L623.8 609.6L623.4 609.9L621.6 610.9L619.8 611.1L618.6 609L616.9 611.3L616.4 611L616.7 610L613.1 611.7" stroke="#2e79be"/><path d="M613.1 611.7L610.8 612.6L609.5 611L609.4 612.3L607.7 614.8L607.8 611L606.5 612.6L605.1 613.4L603.3 615.2L603.6 616.5L602.6 616.5L602.8 617.9L600.3 619L599.3 621.9L598.8 620.3" stroke="#2974ba"/><path d="M598.8 620.3L594.7 620.8L593.3 622.1L593.1 620.1L593.4 620L592.9 619.1L591.1 622.9L588.8 623.2L588 625.1L587.1 625.1L588.9 624.7L584.8 626.5L583.4 627.1L584.3 627.6L582.5 629.3" stroke="#246fb7"/><path d="M582.5 629.3L580.7 629.2L578.2 630.2L579 629.8L578.7 629.9L577.7 629.2L578.7 630.9L575.2 630.1L573.3 631.5L572.2 632.3L572.6 634.7L570.5 636.3L569 637.9L568.3 636.7L568.4 638.8" stroke="#1f6ab3"/><path d="M568.4 638.8L565.2 641.3L566 641.5L562.7 642.6L563.5 644.6L560.3 643.3L561 642.3L560.3 642.9L559.7 643.5L558.1 644.7L558.8 645.7L556.6 645.7L555.6 646.6L555 647L552.2 646.5" stroke="#1b65af"/><path d="M552.2 646.5L550.9 647.2L549.3 648.6L550.6 648.3L550.6 649L548.8 648.9L548.9 649.6L548.5 651.6L547.1 650.5L546 650.4L545.5 649.8L543.4 650L540.8 650.2L539.2 653.1L537 653.5" stroke="#1860aa"/><path d="M537 653.5L535 650.4L533.1 650.9L532.4 650.2L532.4 650.8L532.8 651.3L532.6 652.8L530.1 652.9L528.5 652.4L527.4 655.4L528.6 656.3L528.8 659.7L525.6 658.6L525.1 659.5L525 660.9" stroke="#145ca6"/><path d="M525 660.9L525.2 663.5L523.2 664.2L521.3 664.6L521.6 666.1L521.4 664.2L520.3 667.2L521 667.5L518.2 668L517.6 668.3L515.6 670.7L517 671.3L516.1 671.5L514.3 671.2L513.1 671" stroke="#1157a2"/><path d="M513.1 671L510.6 672.3L508.5 671L508.3 672.9L504.4 673.4L502.7 674L503.8 672.4L503.9 672.7L502.6 673.6L501.5 675.3L500.8 675.5L498.2 676.7L497.2 678L494.9 678.9L492.6 678.6" stroke="#0e539d"/><path d="M492.6 678.6L493.9 677.9L492.2 678.7L490.6 680.3" stroke="#0b4f9a"/></g><g fill="none" stroke-width="4.0" stroke-linecap="round" stroke-linejoin="round"><path d="M489.8 687.4L490.1 687.1L492.4 686.1L492.5 685.2L493.9 684.7L495.6 683.3L495.5 684.3L498.9 682.9L499.3 682.5L501.1 682.9L502.4 681.9L503.9 680.3L504.1 680.5L505.2 682L505.4 685L504.4 685.8L503 685.2L507.6 687.5" stroke="#fc8f6f"/><path d="M507.6 687.5L505.7 690.7L507.3 690.7L508.6 691.3L510.1 690L508.8 690.5L508 688.9L511.9 690.5L511.6 691L514.5 691.9L514.5 691.2L515.4 690.9L516.3 691.2L517.1 691L520.5 690.6L522.9 689.6L525.2 692.1L526.3 688.5" stroke="#fc8a6a"/><path d="M526.3 688.5L524.7 690.2L522.2 687.5L525.7 688.6L528.8 690L529.3 690.3L530.5 690.7L530.4 689.3L532.8 690.7L532.9 691.8L533.2 689.4L535 691.3L539.3 695.6L541.1 694.3L540.9 693.3L539.2 692.2L539.5 694.3L541.2 696.6" stroke="#fc8565"/><path d="M541.2 696.6L542.2 696.2L544.7 697.3L546.5 698L545.6 699L546 699.9L546.8 699.4L550 699L551.1 697.7L552.2 699.5L554.4 698.6L555 700.8L557.3 700.5L558.7 699.6L559.1 695.7L559.5 694.4L560.9 697.7L562.4 697.7" stroke="#fc8060"/><path d="M562.4 697.7L563.6 696.3L566.1 695.2L568.6 694.6L570 695.5L570.5 698L571.5 699.4L572.4 700.5L574.2 696.6L574.8 696.4L575.8 700.1L576.5 698.9L577.3 697.9L578.8 697.9L580.6 697.9L584.7 698.8L584.1 702.3L581.8 704" stroke="#fb7a5a"/><path d="M581.8 704L581.9 704.2L584.6 703.5L583 703.5L588.5 703.1L587.6 702.6L590.2 702.9L593.4 704.8L594.3 704.5L594.1 705.5L596.1 706L597 708.1L597.5 709.7L596.4 710.4L598.5 709.7L598 709.1L599.6 711L603 712" stroke="#fb7555"/><path d="M603 712L605.3 713.4L608.9 713.5L607.9 712.5L607.4 712.6L606.3 713.8L609.5 712.2L610.4 711.4L615.2 713.6L616.7 715.7L613.9 715.4L615.7 717.5L617.5 714.8L617.5 716L617.2 714.2L616.8 711.4L622.6 710.6L622.3 709.6" stroke="#fb7050"/><path d="M622.3 709.6L621.5 707.9L621.5 708.5L624.6 708.1L624.2 708.4L625 707.4L628.5 705.2L627.5 702.8L629.3 703.3L627.4 702.7L630.6 701.1L632.5 700L631.4 699.5L633.3 698.4L634.4 697.7L634.7 695.2L635.9 693.4L636.9 692.9" stroke="#fb6b4b"/><path d="M636.9 692.9L636.5 692.1L637.1 690.7L636.2 692.2L637.9 692L640.7 691.5L640 691.1L640.2 690.1L643.8 689.4L642.9 690.2L644 692.5L646 695.5L647.5 694.5L647.1 697L648.1 697.9L651 698.4L651.9 701.8L650.6 701.1" stroke="#f96245"/><path d="M650.6 701.1L653.7 704.7L651.1 705.2L653.6 706.2L654.5 706.8L654.6 705.4L654.9 706.8L656.2 706.5L657.3 708.8L655.9 709.9L655.6 712.1L656.3 712.4L657.8 713.5L658.1 715.2L658.3 719.1L658.4 720.2L656.7 722.4L657 720.5" stroke="#f7583f"/><path d="M657 720.5L656.4 722L657.3 724.7L658.1 727.1L660.6 726.4L661.3 726.9L659.8 728.1L661 728.8L660.4 730.3L663.7 731.9L662.4 734.1L663.1 734.5L663.4 736.1L662.9 736.3L665.4 742.4L665.9 740.3L665.4 740.3L665.2 739.3" stroke="#f44f39"/><path d="M665.2 739.3L664.3 742.3L665.5 744.1L666.7 745.9L666.8 745.7L668.1 745.2L668.5 746.6L668.4 747.8L667.2 747.1L669 747.1L670.3 749L673.5 752.1L674.2 753.6L678.2 757.1L677.5 755.4L677.4 756.5L676.9 756.7L679.4 757.5" stroke="#f24633"/><path d="M679.4 757.5L680.8 759.4L684.5 756.9L686.8 759L686.4 761.3L686.9 759.9L686.9 758.5L687.5 761.1L689.5 762.3L688.7 764.3L686.6 766.2L687.4 766.6L688.2 767.3L684.6 767.5L685 769.9L685.9 771.3L688.3 774.2L687.2 776.4" stroke="#ef3d2d"/><path d="M687.2 776.4L686.6 778.7L687.1 778.7L686.7 780.6L685.2 779.2L686 781.5L687.2 780L683.9 781.8L684 782.8L684.9 784.1L686.7 785.2L688.1 782L687.5 780.1L685.4 781L685.7 779.9L686.4 778.9L686.7 778.1L687 776.8" stroke="#ea362a"/><path d="M687 776.8L688.2 774.8L687.2 775.7L686.7 772.8L687.3 767.8L687.9 769.4L688.3 768.2L687.2 768L684.3 767.7L684.6 766.7L683.3 767.2L680.7 765.5L680.4 765.1L681 765.5L679.5 765.8L679.5 766L679.2 767.2L679.3 766.3" stroke="#e43027"/><path d="M679.3 766.3L677.1 766.9L677.8 766.6L673 766.7L673.8 766.3L670.5 765.6L668.5 767.5L666 768.5L665.7 768L665.8 766.4L661.9 767L661.2 768.9L661.7 771.1L659.9 770.8L658.6 773L659.6 770.8L659.8 772.4L659.1 773" stroke="#de2a25"/><path d="M659.1 773L657.1 774.5L655.3 773.9L654.2 772.9L653.8 775.8L651.4 776.4L650.8 779.1L648.5 781L647.3 781.2L647.4 781.9L646.6 779.9L645.9 779.3L643.9 776L643.3 775.1L644.5 775.9L643.7 773.1L641.6 771.9L640 772.5" stroke="#d72322"/><path d="M640 772.5L642 771L641.9 768.8L642.2 768.4L641.1 769.3L641.5 767.2L642.4 768L640.9 766.2L638.1 764.9L637.8 761.3L639.7 759.8L637.8 756.1L638 756L639.5 757L636.7 756L636.9 754.6L635.6 754.1L634.1 752.2" stroke="#d11d20"/><path d="M634.1 752.2L635.2 753.6L634.9 752.2L633.9 752.6L634 748.9L633.5 746.7L633.3 746.7L631.8 744.5L630.5 743.1L628.8 745.7L627.9 744.3L625.3 744.8L624.7 740.7L623.9 742.3L623.5 742.9L622.9 742.3L621 743.6L617.4 742.7" stroke="#cb171d"/><path d="M617.4 742.7L616.7 741.4L615.4 742.9L613.6 743.7L612.1 742.2L612 741.3L610 739.6L608.2 740L609.5 740.5L606.2 740.6L603.1 741.1L603.6 743.5L602.4 743.1L601.9 743.8L602.5 742.8L602.6 743.7L602.7 746.8L602 747" stroke="#c2131b"/><path d="M602 747L599.5 746.1L598 747.7L596.2 746.3L595.7 747.3L595 750.2L592.7 753.8L592.9 752.9L593.2 752.3L591.2 752.4L586.6 751.4L584.8 751.9L582.7 748.8L585.2 748.4L585.4 745L585.6 743.9L584.5 745.2L584.5 742.5" stroke="#b61019"/><path d="M584.5 742.5L583.1 743.1L580.9 739.6L580.3 738.1L579.5 736L578.4 737.1L576.3 735.7L577.9 734.9L578.3 736.3L575.1 736.8L571.8 734.8L571 733.2L571.3 728.9L571.5 730.9L568.8 728.9L568.8 730.6L567.3 731.6L566.5 729.3" stroke="#a90e17"/><path d="M566.5 729.3L566.9 726.9L564.8 726.2L562.5 726.2L562.1 725.7L560.9 725.3L560.2 723.1L560.2 721.5L557.2 722.6L558 722.5L557.8 720.4L553.5 721.7L553 719.4L553.3 718.2L550.7 716.2L550.6 716.6L549.4 717L547.1 716.9" stroke="#9d0c15"/><path d="M547.1 716.9L546.7 717.8L547 714.8L546.3 715.3L544.4 714.4L542.2 713.1L541.7 712.3L540.3 713.1L540.1 711.6L540.2 712L539.3 710L536.6 709.1L535.6 710.3L533.2 710.7L532.3 711.8L531.6 714.2L531.5 711.5L530.1 710.1" stroke="#910914"/><path d="M530.1 710.1L526.7 712.1L526.7 707.5L525.3 708.8L523.6 708.9L522.4 710.4L523.1 710.2L521.8 709.1L520.8 708.9L519.3 710.1L515.2 712.1L515.9 711.1L514.7 711.5L513.2 709.1L511.2 709.6L512 710L513.2 710.9L510.4 713.1" stroke="#840712"/><path d="M510.4 713.1L509 714.2L508.3 716.3L509.6 717.9L507.7 719L505.3 720.4" stroke="#7a0510"/></g><g fill="none" stroke-width="4.0" stroke-linecap="round" stroke-linejoin="round"><path d="M487.9 694.8L488.7 693.9L488.4 694.8L488.7 691.6L488.4 690.2L487 689.4" stroke="#9ed798"/><path d="M487 689.4L488.2 688.7L490.8 686.7L492.3 688L492.2 690.3L493.8 692" stroke="#97d492"/><path d="M493.8 692L494.7 691.4L496.1 688.9L498.7 689L499.8 688.4L504 688.5" stroke="#90d18b"/><path d="M504 688.5L504.7 689.5L504 686.6L503.5 684.7L506.6 683.6L506.3 683.3" stroke="#89cd85"/><path d="M506.3 683.3L507.3 681L509 681.8L508.9 685.3L507.1 685.1L511.3 686.2" stroke="#82ca7f"/><path d="M511.3 686.2L510.5 686.1L512.5 687.9L512.5 687.3L514.5 691.4L513.6 692.9" stroke="#7bc778"/><path d="M513.6 692.9L516.7 694.5L515.3 694L514.7 696.9L516.3 695L519.4 698.3" stroke="#74c472"/><path d="M519.4 698.3L517.7 700.7L517.4 701.5L517.8 701L516.5 701L519.5 704.1" stroke="#6dc06c"/><path d="M519.5 704.1L518.2 705.7L519.3 706.7L521.1 707.9L523.2 706.5L523.1 707" stroke="#66bd65"/><path d="M523.1 707L524 710.5L525.5 711.2L526 715.1L527.4 714.9L530 714.8" stroke="#5fba5f"/><path d="M530 714.8L530.1 713.4L528.4 717L530.4 716.7L530.2 714.2L531.4 716.9" stroke="#59b55a"/><path d="M531.4 716.9L532.6 715.9L536.1 717.7L534.7 716.7L535.7 716.8L538.3 718.8" stroke="#52af56"/><path d="M538.3 718.8L539.6 721.7L541 720.4L543.7 723.7L541.7 722.6L542.4 724.6" stroke="#4ba952"/><path d="M542.4 724.6L545.8 726L545.7 724.7L545.1 724.9L547.7 726.6L547.1 727.7" stroke="#45a34e"/><path d="M547.1 727.7L547.3 730.9L547.2 729.8L551.7 731.5L553.6 732.2L556.2 728.9" stroke="#3e9c4a"/><path d="M556.2 728.9L559.9 729.6L558 730L557.7 727.3L558.6 729.6L560.1 727.3" stroke="#379646"/><path d="M560.1 727.3L558.7 730.3L561 730.7L561.2 732L562.1 731.9L562.9 734.9" stroke="#319042"/><path d="M562.9 734.9L561 733.3L561.1 734L559.7 737.4L557.5 737.5L554.5 740.1" stroke="#2a8a3e"/><path d="M554.5 740.1L557.8 740.3L556.2 739.3L557.4 740L558.6 740.8L558.9 742.1" stroke="#26843b"/><path d="M558.9 742.1L560.4 739.6L560.7 736.6L562.3 735L563.9 734.3L562.8 735.7" stroke="#217d37"/><path d="M562.8 735.7L563.6 737L565.8 735.2L566.5 735.3L565.1 736.9L563.2 735" stroke="#1d7734"/><path d="M563.2 735L560 730.3L559 729.8L559 730.6L558.1 732.3L560.5 731.6" stroke="#197030"/><path d="M560.5 731.6L559.7 727.1L560 727.6L558.7 727.4L559.5 729.5L561.1 729.4" stroke="#156a2d"/><path d="M561.1 729.4L563.1 727.9L565.4 727.8L562.6 729.2L562.4 732.9L564.4 733.4" stroke="#106429"/><path d="M564.4 733.4L563.1 735.8L562.6 734.3L559.9 735.2L556.6 733.6" stroke="#0c5d26"/></g><path d="M493.5 690L493.5 692.6L492.7 694.9L491 695.6L490 697.1L488.8 698.8L487.3 697.6L486.1 696.7L484.2 696.9L482.8 695.3L483.3 692.2L483.6 690L483.4 687.8L484.1 686L484.3 683.1L485.7 681.9L487.3 682L488.7 682L490.4 681.5L490.5 685.4L491.7 686.2L493.5 687.4Z" fill="#9ecae1" stroke="#9ecae1" stroke-width="2.2" stroke-linejoin="round"/><path d="M505.8 692L505.1 694.4L502.7 695.5L501.9 697.2L501 699.6L499.1 700.8L496.9 700.6L495 699.5L494.2 697L492.1 696.3L491.5 694.2L492.8 692L492 690L490.8 686.7L492.9 685.2L495.2 685L497.1 684.5L498.9 684.5L500.4 686.1L503 685.4L504.2 687.4L504.7 689.8Z" fill="#a1d99b" stroke="#a1d99b" stroke-width="2.2" stroke-linejoin="round"/><path d="M508.8 684L508.4 685.8L508.7 688.2L507.4 688.8L506.5 689.9L505.7 692.2L504.3 692.9L503.3 690.4L502.6 688.8L501.9 687.5L501.9 685.6L500.5 684L501.1 682L501.3 679.8L502.2 678.3L503.2 677L504.5 677.9L505.4 678.7L506.4 678.6L507.7 678.6L508.6 679.9L509.6 681.6Z" fill="#fc8d6e" stroke="#fc8d6e" stroke-width="2.2" stroke-linejoin="round"/><path d="M507.3 675L506.6 676.1L504.9 676.8L503.4 677.3L502.4 678.1L500.8 678.3L499.2 678.4L497.4 678.3L495.6 677.9L493.6 677.4L494.5 675.9L495.3 675L494.7 674.1L494.5 672.9L495.9 672.2L497.5 671.8L499 671.1L500.8 671.7L502.2 672.2L503.7 672.5L504.5 673.3L505.7 674Z" fill="#0b4f9a" stroke="#0b4f9a" stroke-width="2.2" stroke-linejoin="round"/><path d="M514.5 688L514.6 690.1L514.8 692.9L513.7 694.2L512.4 694.1L511.6 695.9L510.4 696.1L509.5 694.5L508.9 692.8L507.7 692.3L506.4 690.7L506.2 688L507.1 685.7L508.2 684.4L508.5 682.3L509.3 680.4L510.4 680.1L511.6 680.3L512.8 680L513.7 681.7L513.8 684.4L514.2 686.1Z" fill="#1b7a3a" stroke="#1b7a3a" stroke-width="2.2" stroke-linejoin="round"/><path d="M498.1 699L497.6 699.8L497.2 700.5L497.5 702L496.1 702.5L494.5 701.7L493.6 701.1L492.6 701.2L491.3 701.3L489.9 701L489.6 700L490.2 699L489.8 698.1L490.8 697.5L492.1 697.3L492.5 696.5L493.4 695.6L494.7 695.4L495.7 696.2L496.4 696.9L496.9 697.6L497.5 698.2Z" fill="#b8dcb0" stroke="#b8dcb0" stroke-width="2.2" stroke-linejoin="round"/><path d="M514.5 713L513.8 714.4L512.6 715.5L512.2 717L510.7 717.9L508.8 717.8L507.2 717.4L505.8 717L504.8 716.1L502.2 716.1L500.8 714.8L501.3 713L501.5 711.4L502.6 710.1L504.6 709.7L505.9 709.2L507.2 708.6L508.8 708.2L511.4 706.9L512.9 708.3L512.6 710.5L512.5 711.9Z" fill="#8b0a1a" stroke="#8b0a1a" stroke-width="2.2" stroke-linejoin="round"/><path d="M520.1 716L520.9 717.1L519.2 717.5L518.2 717.9L517.5 718.5L516.6 719L515.4 719.3L514.1 719.1L513.3 718.4L513.2 717.3L512.1 716.9L512 716L513.1 715.4L512.9 714.5L513 713.4L514 712.6L515.5 713.2L516.5 713.2L517.2 714.1L518.4 714L519.8 714.2L519.4 715.2Z" fill="#a50f15" stroke="#a50f15" stroke-width="2.2" stroke-linejoin="round"/><path d="M567.5 735L567.1 737.6L564.3 739.3L561.6 740.2L559.6 741.3L557.3 742.5L554.8 741.6L552.2 741.7L548.4 742L545.8 740.2L545.1 737.6L548.7 735L548.2 733.2L547.3 730.5L548.8 728.4L551.4 727L554.5 726.8L557.6 725.8L559.6 728.6L561.8 729.7L562.9 731.5L565.7 732.7Z" fill="#1b7a3a" stroke="#1b7a3a" stroke-width="2.2" stroke-linejoin="round"/><path d="M569 738L567.7 739.4L567.5 740.9L567.6 743.3L566.2 744.9L563.8 743.8L562.2 743.5L560.6 743.2L559.8 741.7L557.6 741.5L557 739.8L556.8 738L556.4 736L557.9 734.7L559.9 734.4L561 733.7L562 731.4L563.9 732.1L565.9 731.8L567.7 732.6L568 734.8L569.1 736.2Z" fill="#3a9a50" stroke="#3a9a50" stroke-width="2.2" stroke-linejoin="round"/><path d="M553 728L552 729.2L551 730.1L549.8 730.6L549.1 731.7L547.8 732.4L546.2 732.5L545.2 731.2L544.3 730.5L543.2 729.9L542.8 729L542 728L542.4 726.9L542.3 725.6L543.5 724.7L544.7 724L546.4 724.7L547.5 725.2L549.1 724.3L551.1 724.2L551.3 725.8L552.5 726.7Z" fill="#8fd08a" stroke="#8fd08a" stroke-width="2.2" stroke-linejoin="round"/><path d="M544.4 722L544.5 723L543.2 723.5L542.7 724.3L541.5 724.5L540.5 724.4L539.6 724.1L538.3 724.8L536.5 725L536.2 723.8L535.9 722.9L536.5 722L536.6 721.3L536.8 720.5L536.9 719.3L538.2 719.1L539.4 718.7L540.6 718.7L541.6 719.4L542.3 720L542.9 720.6L543.7 721.2Z" fill="#5cb85c" stroke="#5cb85c" stroke-width="2.2" stroke-linejoin="round"/><path d="M655.3 597L655.1 599.1L653.7 600.3L652.3 600.6L652.3 604.2L650.8 605L649.2 605.1L647.8 603.8L646.9 601.9L646.2 600.5L645.1 599L645.4 597L645.6 595.2L645.3 592.8L645.7 590.1L647.9 590.5L649.4 591.1L650.7 590.6L651.7 591.7L653.4 591.4L654.8 592.7L654.4 595.2Z" fill="#4a96d0" stroke="#4a96d0" stroke-width="2.2" stroke-linejoin="round"/><path d="M637.3 605L637.5 605.8L637.8 606.8L636.5 607.1L635.5 607.5L634.7 608.4L633.3 608.7L632.4 607.6L631.7 607L630.9 606.5L630.7 605.7L629.1 605L629.4 604L630.8 603.5L631 602.4L632.4 602.4L633.5 602.5L634.4 602.8L635.6 602.3L636.8 602.6L638.2 603L637.7 604.2Z" fill="#3a87c8" stroke="#3a87c8" stroke-width="2.2" stroke-linejoin="round"/><path d="M687.2 775L687.5 776.8L686.8 778.1L686.7 780.5L686 782.6L684.7 784.1L683.5 780.7L682.7 780L681.3 780.4L681.3 778L680.4 776.9L679.9 775L679.7 772.8L680.1 770.7L681.1 769.2L682.8 770.2L683.5 768.9L684.6 768.2L686 767.5L686.5 770L688 770.5L687.8 773Z" fill="#e8352a" stroke="#e8352a" stroke-width="2.2" stroke-linejoin="round"/><text x="744.60" y="576.25" style="font-size:11.58px;" fill="#231f20" >Consumption or CGRP stimulation onset</text><line x1="756.7" y1="666.7" x2="756.7" y2="589" stroke="#231f20" stroke-width="1.1" /><path d="M756.7 585.4 l-2.6 5.5 h5.2Z" fill="#231f20" stroke="none" stroke-width="1" /><line x1="756.7" y1="766.7" x2="756.7" y2="689" stroke="#231f20" stroke-width="1.1" /><path d="M756.7 685.4 l-2.6 5.5 h5.2Z" fill="#231f20" stroke="none" stroke-width="1" /><text transform="translate(751.70,625.00) rotate(-90)" text-anchor="middle" style="font-size:11.30px" fill="#231f20">PC1</text><text transform="translate(751.70,725.00) rotate(-90)" text-anchor="middle" style="font-size:11.30px" fill="#231f20">PC2</text><line x1="822.5" y1="589.6" x2="822.5" y2="768.8" stroke="#231f20" stroke-width="1" stroke-dasharray="2.2 2"/><line x1="762.9" y1="773" x2="942.5" y2="773" stroke="#231f20" stroke-width="1.0" /><line x1="762.5" y1="772.5" x2="762.5" y2="780.4" stroke="#231f20" stroke-width="1.0" /><text x="762.50" y="795.60" text-anchor="middle" style="font-size:11.30px;" fill="#231f20">−5</text><line x1="822.5" y1="772.5" x2="822.5" y2="780.4" stroke="#231f20" stroke-width="1.0" /><text x="822.50" y="795.60" text-anchor="middle" style="font-size:11.30px;" fill="#231f20">0</text><line x1="882.5" y1="772.5" x2="882.5" y2="780.4" stroke="#231f20" stroke-width="1.0" /><text x="882.50" y="795.60" text-anchor="middle" style="font-size:11.30px;" fill="#231f20">5</text><line x1="942.5" y1="772.5" x2="942.5" y2="780.4" stroke="#231f20" stroke-width="1.0" /><text x="942.50" y="795.60" text-anchor="middle" style="font-size:11.30px;" fill="#231f20">10</text><text x="852.50" y="812.60" text-anchor="middle" style="font-size:11.30px;" fill="#231f20">Time (s)</text><path d="M762.5 660.6 L763.7 661.1 L764.9 660.7 L766.1 660.0 L767.3 659.5 L768.5 659.7 L769.7 659.3 L770.9 658.9" fill="none" stroke="#fc9d7f" stroke-width="3.2" stroke-linecap="round" stroke-linejoin="round"/><path d="M770.9 658.9 L772.1 659.4 L773.3 659.7 L774.5 660.1 L775.7 659.6 L776.9 659.8 L778.1 659.8 L779.3 659.1" fill="none" stroke="#fc9879" stroke-width="3.2" stroke-linecap="round" stroke-linejoin="round"/><path d="M779.3 659.1 L780.5 659.8 L781.7 660.0 L782.9 661.2 L784.1 660.8 L785.3 660.4 L786.5 660.9 L787.7 660.6" fill="none" stroke="#fc9273" stroke-width="3.2" stroke-linecap="round" stroke-linejoin="round"/><path d="M787.7 660.6 L788.9 660.8 L790.1 660.3 L791.3 660.3 L792.5 660.7 L793.7 660.8 L794.9 660.5 L796.1 659.8" fill="none" stroke="#fb8c6d" stroke-width="3.2" stroke-linecap="round" stroke-linejoin="round"/><path d="M796.1 659.8 L797.3 660.1 L798.5 660.1 L799.7 660.0 L800.9 659.6 L802.1 659.6 L803.3 658.8 L804.5 658.4" fill="none" stroke="#fb8666" stroke-width="3.2" stroke-linecap="round" stroke-linejoin="round"/><path d="M804.5 658.4 L805.7 658.1 L806.9 657.0 L808.1 656.5 L809.3 656.0 L810.5 656.7 L811.7 654.8 L812.9 653.4" fill="none" stroke="#fb8060" stroke-width="3.2" stroke-linecap="round" stroke-linejoin="round"/><path d="M812.9 653.4 L814.1 651.8 L815.3 649.8 L816.5 647.4 L817.7 644.5 L818.9 640.7 L820.1 637.5 L821.3 633.1" fill="none" stroke="#fb7a5a" stroke-width="3.2" stroke-linecap="round" stroke-linejoin="round"/><path d="M821.3 633.1 L822.5 629.5 L823.7 625.3 L824.9 620.9 L826.1 614.9 L827.3 609.3 L828.5 604.5 L829.7 603.1" fill="none" stroke="#f24936" stroke-width="3.2" stroke-linecap="round" stroke-linejoin="round"/><path d="M829.7 603.1 L830.9 601.1 L832.1 599.2 L833.3 596.6 L834.5 595.1 L835.7 595.2 L836.9 594.3 L838.1 593.2" fill="none" stroke="#eb372c" stroke-width="3.2" stroke-linecap="round" stroke-linejoin="round"/><path d="M838.1 593.2 L839.3 592.6 L840.5 592.9 L841.7 591.7 L842.9 591.6 L844.1 590.9 L845.3 590.8 L846.5 590.5" fill="none" stroke="#e5322b" stroke-width="3.2" stroke-linecap="round" stroke-linejoin="round"/><path d="M846.5 590.5 L847.7 591.2 L848.9 592.6 L850.1 593.1 L851.3 594.0 L852.5 594.0 L853.7 594.1 L854.9 594.7" fill="none" stroke="#df2d2b" stroke-width="3.2" stroke-linecap="round" stroke-linejoin="round"/><path d="M854.9 594.7 L856.1 593.7 L857.3 594.7 L858.5 595.6 L859.7 596.7 L860.9 598.9 L862.1 600.4 L863.3 600.9" fill="none" stroke="#d9282b" stroke-width="3.2" stroke-linecap="round" stroke-linejoin="round"/><path d="M863.3 600.9 L864.5 603.0 L865.7 604.5 L866.9 606.3 L868.1 608.2 L869.3 610.7 L870.5 612.2 L871.7 613.7" fill="none" stroke="#d3222a" stroke-width="3.2" stroke-linecap="round" stroke-linejoin="round"/><path d="M871.7 613.7 L872.9 615.5 L874.1 616.0 L875.3 618.6 L876.5 619.6 L877.7 621.6 L878.9 622.6 L880.1 624.0" fill="none" stroke="#ca1e28" stroke-width="3.2" stroke-linecap="round" stroke-linejoin="round"/><path d="M880.1 624.0 L881.3 625.7 L882.5 628.5 L883.7 629.7 L884.9 630.1 L886.1 630.9 L887.3 631.4 L888.5 632.6" fill="none" stroke="#c01b25" stroke-width="3.2" stroke-linecap="round" stroke-linejoin="round"/><path d="M888.5 632.6 L889.7 633.5 L890.9 635.0 L892.1 635.4 L893.3 636.4 L894.5 637.2 L895.7 637.8 L896.9 639.1" fill="none" stroke="#b61822" stroke-width="3.2" stroke-linecap="round" stroke-linejoin="round"/><path d="M896.9 639.1 L898.1 639.8 L899.3 640.7 L900.5 641.8 L901.7 642.6 L902.9 642.1 L904.1 643.0 L905.3 642.7" fill="none" stroke="#ac151f" stroke-width="3.2" stroke-linecap="round" stroke-linejoin="round"/><path d="M905.3 642.7 L906.5 643.5 L907.7 645.1 L908.9 645.1 L910.1 645.2 L911.3 645.7 L912.5 646.1 L913.7 646.4" fill="none" stroke="#a2121c" stroke-width="3.2" stroke-linecap="round" stroke-linejoin="round"/><path d="M913.7 646.4 L914.9 646.5 L916.1 647.5 L917.3 648.2 L918.5 648.3 L919.7 648.7 L920.9 649.3 L922.1 650.0" fill="none" stroke="#980e19" stroke-width="3.2" stroke-linecap="round" stroke-linejoin="round"/><path d="M922.1 650.0 L923.3 650.3 L924.5 650.8 L925.7 650.7 L926.9 650.5 L928.1 650.7 L929.3 651.8 L930.5 652.6" fill="none" stroke="#8e0b16" stroke-width="3.2" stroke-linecap="round" stroke-linejoin="round"/><path d="M930.5 652.6 L931.7 652.5 L932.9 652.0 L934.1 652.1 L935.3 652.9 L936.5 653.2 L937.7 652.4 L938.9 652.2" fill="none" stroke="#840813" stroke-width="3.2" stroke-linecap="round" stroke-linejoin="round"/><path d="M938.9 652.2 L940.1 651.4 L941.3 651.1 L942.5 651.5" fill="none" stroke="#7a0510" stroke-width="3.2" stroke-linecap="round" stroke-linejoin="round"/><path d="M762.5 662.2 L763.7 661.3 L764.9 661.4 L766.1 661.2 L767.3 661.5 L768.5 660.5 L769.7 660.4 L770.9 660.1" fill="none" stroke="#a6cfe7" stroke-width="3.2" stroke-linecap="round" stroke-linejoin="round"/><path d="M770.9 660.1 L772.1 659.8 L773.3 659.7 L774.5 659.8 L775.7 660.0 L776.9 659.8 L778.1 660.3 L779.3 660.1" fill="none" stroke="#a2cce6" stroke-width="3.2" stroke-linecap="round" stroke-linejoin="round"/><path d="M779.3 660.1 L780.5 658.6 L781.7 659.9 L782.9 659.9 L784.1 659.7 L785.3 660.1 L786.5 660.3 L787.7 660.3" fill="none" stroke="#9dcae5" stroke-width="3.2" stroke-linecap="round" stroke-linejoin="round"/><path d="M787.7 660.3 L788.9 659.8 L790.1 660.1 L791.3 659.3 L792.5 660.4 L793.7 659.6 L794.9 659.7 L796.1 659.8" fill="none" stroke="#99c7e4" stroke-width="3.2" stroke-linecap="round" stroke-linejoin="round"/><path d="M796.1 659.8 L797.3 660.0 L798.5 659.9 L799.7 659.9 L800.9 657.7 L802.1 657.9 L803.3 658.0 L804.5 657.7" fill="none" stroke="#95c5e2" stroke-width="3.2" stroke-linecap="round" stroke-linejoin="round"/><path d="M804.5 657.7 L805.7 658.4 L806.9 657.5 L808.1 657.2 L809.3 656.0 L810.5 656.3 L811.7 654.0 L812.9 652.0" fill="none" stroke="#90c2e1" stroke-width="3.2" stroke-linecap="round" stroke-linejoin="round"/><path d="M812.9 652.0 L814.1 652.0 L815.3 650.6 L816.5 648.7 L817.7 646.9 L818.9 644.4 L820.1 642.4 L821.3 641.2" fill="none" stroke="#8cc0e0" stroke-width="3.2" stroke-linecap="round" stroke-linejoin="round"/><path d="M821.3 641.2 L822.5 638.6 L823.7 633.6 L824.9 627.4 L826.1 622.3 L827.3 616.5 L828.5 612.1 L829.7 610.7" fill="none" stroke="#599fd4" stroke-width="3.2" stroke-linecap="round" stroke-linejoin="round"/><path d="M829.7 610.7 L830.9 608.4 L832.1 605.6 L833.3 603.7 L834.5 602.3 L835.7 601.7 L836.9 601.9 L838.1 602.2" fill="none" stroke="#4894cf" stroke-width="3.2" stroke-linecap="round" stroke-linejoin="round"/><path d="M838.1 602.2 L839.3 601.8 L840.5 601.2 L841.7 601.4 L842.9 600.8 L844.1 600.9 L845.3 600.2 L846.5 600.7" fill="none" stroke="#4591cd" stroke-width="3.2" stroke-linecap="round" stroke-linejoin="round"/><path d="M846.5 600.7 L847.7 601.0 L848.9 601.1 L850.1 602.1 L851.3 602.6 L852.5 603.1 L853.7 604.1 L854.9 605.5" fill="none" stroke="#428ecc" stroke-width="3.2" stroke-linecap="round" stroke-linejoin="round"/><path d="M854.9 605.5 L856.1 605.2 L857.3 606.4 L858.5 607.4 L859.7 609.2 L860.9 611.4 L862.1 612.4 L863.3 614.6" fill="none" stroke="#3e8bca" stroke-width="3.2" stroke-linecap="round" stroke-linejoin="round"/><path d="M863.3 614.6 L864.5 616.2 L865.7 618.0 L866.9 619.6 L868.1 621.2 L869.3 622.7 L870.5 624.8 L871.7 627.4" fill="none" stroke="#3b88c9" stroke-width="3.2" stroke-linecap="round" stroke-linejoin="round"/><path d="M871.7 627.4 L872.9 629.0 L874.1 630.5 L875.3 631.8 L876.5 632.7 L877.7 634.4 L878.9 636.7 L880.1 637.0" fill="none" stroke="#3783c5" stroke-width="3.2" stroke-linecap="round" stroke-linejoin="round"/><path d="M880.1 637.0 L881.3 638.9 L882.5 640.7 L883.7 641.3 L884.9 642.3 L886.1 643.5 L887.3 644.9 L888.5 645.6" fill="none" stroke="#317dc0" stroke-width="3.2" stroke-linecap="round" stroke-linejoin="round"/><path d="M888.5 645.6 L889.7 646.6 L890.9 646.8 L892.1 647.5 L893.3 647.9 L894.5 648.5 L895.7 648.7 L896.9 649.5" fill="none" stroke="#2c76ba" stroke-width="3.2" stroke-linecap="round" stroke-linejoin="round"/><path d="M896.9 649.5 L898.1 650.7 L899.3 650.8 L900.5 651.4 L901.7 652.1 L902.9 652.5 L904.1 653.4 L905.3 653.9" fill="none" stroke="#2670b5" stroke-width="3.2" stroke-linecap="round" stroke-linejoin="round"/><path d="M905.3 653.9 L906.5 653.7 L907.7 653.6 L908.9 654.5 L910.1 655.1 L911.3 655.9 L912.5 656.0 L913.7 656.2" fill="none" stroke="#2169af" stroke-width="3.2" stroke-linecap="round" stroke-linejoin="round"/><path d="M913.7 656.2 L914.9 655.5 L916.1 656.7 L917.3 656.4 L918.5 657.3 L919.7 656.7 L920.9 656.6 L922.1 657.0" fill="none" stroke="#1b63aa" stroke-width="3.2" stroke-linecap="round" stroke-linejoin="round"/><path d="M922.1 657.0 L923.3 657.0 L924.5 656.9 L925.7 657.7 L926.9 658.1 L928.1 658.2 L929.3 658.0 L930.5 657.6" fill="none" stroke="#165ca5" stroke-width="3.2" stroke-linecap="round" stroke-linejoin="round"/><path d="M930.5 657.6 L931.7 657.7 L932.9 657.8 L934.1 658.2 L935.3 659.0 L936.5 659.0 L937.7 658.8 L938.9 658.8" fill="none" stroke="#10569f" stroke-width="3.2" stroke-linecap="round" stroke-linejoin="round"/><path d="M938.9 658.8 L940.1 659.9 L941.3 660.0 L942.5 660.3" fill="none" stroke="#0b4f9a" stroke-width="3.2" stroke-linecap="round" stroke-linejoin="round"/><path d="M804.5 659.1 L805.7 659.9 L806.9 658.9" fill="none" stroke="#a4da9d" stroke-width="3.2" stroke-linecap="round" stroke-linejoin="round"/><path d="M806.9 658.9 L808.1 659.6 L809.3 659.2" fill="none" stroke="#9cd597" stroke-width="3.2" stroke-linecap="round" stroke-linejoin="round"/><path d="M809.3 659.2 L810.5 658.9 L811.7 660.3" fill="none" stroke="#94d191" stroke-width="3.2" stroke-linecap="round" stroke-linejoin="round"/><path d="M811.7 660.3 L812.9 659.9 L814.1 659.5" fill="none" stroke="#8ccd8c" stroke-width="3.2" stroke-linecap="round" stroke-linejoin="round"/><path d="M814.1 659.5 L815.3 659.8 L816.5 660.3" fill="none" stroke="#84c886" stroke-width="3.2" stroke-linecap="round" stroke-linejoin="round"/><path d="M816.5 660.3 L817.7 658.9 L818.9 658.3" fill="none" stroke="#7cc480" stroke-width="3.2" stroke-linecap="round" stroke-linejoin="round"/><path d="M818.9 658.3 L820.1 656.4 L821.3 655.4" fill="none" stroke="#74c07a" stroke-width="3.2" stroke-linecap="round" stroke-linejoin="round"/><path d="M821.3 655.4 L822.5 654.5 L823.7 650.4" fill="none" stroke="#6cbb74" stroke-width="3.2" stroke-linecap="round" stroke-linejoin="round"/><path d="M823.7 650.4 L824.9 646.5 L826.1 642.8" fill="none" stroke="#64b76f" stroke-width="3.2" stroke-linecap="round" stroke-linejoin="round"/><path d="M826.1 642.8 L827.3 642.8 L828.5 642.6" fill="none" stroke="#5cb369" stroke-width="3.2" stroke-linecap="round" stroke-linejoin="round"/><path d="M828.5 642.6 L829.7 642.0 L830.9 641.7" fill="none" stroke="#54ae63" stroke-width="3.2" stroke-linecap="round" stroke-linejoin="round"/><path d="M830.9 641.7 L832.1 640.2 L833.3 639.9" fill="none" stroke="#4caa5d" stroke-width="3.2" stroke-linecap="round" stroke-linejoin="round"/><path d="M833.3 639.9 L834.5 639.7 L835.7 639.8" fill="none" stroke="#44a557" stroke-width="3.2" stroke-linecap="round" stroke-linejoin="round"/><path d="M835.7 639.8 L836.9 638.6 L838.1 638.0" fill="none" stroke="#3ca151" stroke-width="3.2" stroke-linecap="round" stroke-linejoin="round"/><path d="M838.1 638.0 L839.3 636.3 L840.5 636.1" fill="none" stroke="#379c4e" stroke-width="3.2" stroke-linecap="round" stroke-linejoin="round"/><path d="M840.5 636.1 L841.7 634.6 L842.9 634.1" fill="none" stroke="#34974a" stroke-width="3.2" stroke-linecap="round" stroke-linejoin="round"/><path d="M842.9 634.1 L844.1 635.3 L845.3 633.6" fill="none" stroke="#309247" stroke-width="3.2" stroke-linecap="round" stroke-linejoin="round"/><path d="M845.3 633.6 L846.5 634.4 L847.7 635.1" fill="none" stroke="#2d8d44" stroke-width="3.2" stroke-linecap="round" stroke-linejoin="round"/><path d="M847.7 635.1 L848.9 635.1 L850.1 635.7" fill="none" stroke="#298841" stroke-width="3.2" stroke-linecap="round" stroke-linejoin="round"/><path d="M850.1 635.7 L851.3 636.3 L852.5 637.0" fill="none" stroke="#26833e" stroke-width="3.2" stroke-linecap="round" stroke-linejoin="round"/><path d="M852.5 637.0 L853.7 636.6 L854.9 636.3" fill="none" stroke="#227e3a" stroke-width="3.2" stroke-linecap="round" stroke-linejoin="round"/><path d="M854.9 636.3 L856.1 636.1 L857.3 635.8" fill="none" stroke="#1f7937" stroke-width="3.2" stroke-linecap="round" stroke-linejoin="round"/><path d="M857.3 635.8 L858.5 636.4 L859.7 638.7" fill="none" stroke="#1b7334" stroke-width="3.2" stroke-linecap="round" stroke-linejoin="round"/><path d="M859.7 638.7 L860.9 642.4 L862.1 643.6" fill="none" stroke="#186e31" stroke-width="3.2" stroke-linecap="round" stroke-linejoin="round"/><path d="M862.1 643.6 L863.3 645.9 L864.5 648.4" fill="none" stroke="#14692e" stroke-width="3.2" stroke-linecap="round" stroke-linejoin="round"/><path d="M864.5 648.4 L865.7 648.4 L866.9 651.5" fill="none" stroke="#11642a" stroke-width="3.2" stroke-linecap="round" stroke-linejoin="round"/><path d="M866.9 651.5 L868.1 650.6 L869.3 652.0" fill="none" stroke="#0d5f27" stroke-width="3.2" stroke-linecap="round" stroke-linejoin="round"/><path d="M869.3 652.0 L870.5 652.9" fill="none" stroke="#0a5a24" stroke-width="3.2" stroke-linecap="round" stroke-linejoin="round"/><path d="M762.5 727.0 L763.7 727.2 L764.9 726.9 L766.1 727.1 L767.3 727.5 L768.5 727.5 L769.7 728.1 L770.9 727.2" fill="none" stroke="#a6cfe7" stroke-width="3.2" stroke-linecap="round" stroke-linejoin="round"/><path d="M770.9 727.2 L772.1 727.2 L773.3 726.7 L774.5 726.5 L775.7 726.6 L776.9 726.9 L778.1 727.1 L779.3 727.3" fill="none" stroke="#a2cce6" stroke-width="3.2" stroke-linecap="round" stroke-linejoin="round"/><path d="M779.3 727.3 L780.5 728.3 L781.7 728.2 L782.9 726.9 L784.1 727.1 L785.3 726.7 L786.5 726.6 L787.7 727.4" fill="none" stroke="#9dcae5" stroke-width="3.2" stroke-linecap="round" stroke-linejoin="round"/><path d="M787.7 727.4 L788.9 727.1 L790.1 726.1 L791.3 726.6 L792.5 726.6 L793.7 726.2 L794.9 726.1 L796.1 726.1" fill="none" stroke="#99c7e4" stroke-width="3.2" stroke-linecap="round" stroke-linejoin="round"/><path d="M796.1 726.1 L797.3 726.5 L798.5 726.5 L799.7 726.6 L800.9 727.5 L802.1 726.6 L803.3 726.1 L804.5 726.0" fill="none" stroke="#95c5e2" stroke-width="3.2" stroke-linecap="round" stroke-linejoin="round"/><path d="M804.5 726.0 L805.7 726.5 L806.9 725.9 L808.1 726.6 L809.3 725.5 L810.5 725.0 L811.7 725.1 L812.9 724.7" fill="none" stroke="#90c2e1" stroke-width="3.2" stroke-linecap="round" stroke-linejoin="round"/><path d="M812.9 724.7 L814.1 724.5 L815.3 724.9 L816.5 725.2 L817.7 724.6 L818.9 723.8 L820.1 723.9 L821.3 723.2" fill="none" stroke="#8cc0e0" stroke-width="3.2" stroke-linecap="round" stroke-linejoin="round"/><path d="M821.3 723.2 L822.5 722.2 L823.7 711.8 L824.9 700.0 L826.1 698.1 L827.3 696.4 L828.5 694.2 L829.7 691.8" fill="none" stroke="#599fd4" stroke-width="3.2" stroke-linecap="round" stroke-linejoin="round"/><path d="M829.7 691.8 L830.9 690.1 L832.1 690.2 L833.3 690.3 L834.5 690.4 L835.7 691.7 L836.9 691.8 L838.1 692.8" fill="none" stroke="#4894cf" stroke-width="3.2" stroke-linecap="round" stroke-linejoin="round"/><path d="M838.1 692.8 L839.3 693.2 L840.5 693.2 L841.7 693.9 L842.9 694.2 L844.1 694.5 L845.3 694.1 L846.5 694.7" fill="none" stroke="#4591cd" stroke-width="3.2" stroke-linecap="round" stroke-linejoin="round"/><path d="M846.5 694.7 L847.7 695.7 L848.9 696.2 L850.1 696.9 L851.3 697.8 L852.5 697.9 L853.7 698.9 L854.9 698.0" fill="none" stroke="#428ecc" stroke-width="3.2" stroke-linecap="round" stroke-linejoin="round"/><path d="M854.9 698.0 L856.1 698.2 L857.3 697.3 L858.5 698.6 L859.7 699.2 L860.9 700.5 L862.1 700.5 L863.3 699.7" fill="none" stroke="#3e8bca" stroke-width="3.2" stroke-linecap="round" stroke-linejoin="round"/><path d="M863.3 699.7 L864.5 701.1 L865.7 700.8 L866.9 700.8 L868.1 701.5 L869.3 702.5 L870.5 702.7 L871.7 703.4" fill="none" stroke="#3b88c9" stroke-width="3.2" stroke-linecap="round" stroke-linejoin="round"/><path d="M871.7 703.4 L872.9 702.9 L874.1 704.6 L875.3 704.9 L876.5 705.4 L877.7 706.1 L878.9 706.5 L880.1 706.9" fill="none" stroke="#3783c5" stroke-width="3.2" stroke-linecap="round" stroke-linejoin="round"/><path d="M880.1 706.9 L881.3 706.8 L882.5 707.3 L883.7 708.0 L884.9 709.0 L886.1 709.1 L887.3 709.5 L888.5 710.0" fill="none" stroke="#317dc0" stroke-width="3.2" stroke-linecap="round" stroke-linejoin="round"/><path d="M888.5 710.0 L889.7 710.7 L890.9 711.0 L892.1 711.2 L893.3 711.4 L894.5 712.4 L895.7 712.8 L896.9 713.0" fill="none" stroke="#2c76ba" stroke-width="3.2" stroke-linecap="round" stroke-linejoin="round"/><path d="M896.9 713.0 L898.1 714.9 L899.3 715.0 L900.5 715.1 L901.7 715.0 L902.9 714.5 L904.1 715.4 L905.3 715.5" fill="none" stroke="#2670b5" stroke-width="3.2" stroke-linecap="round" stroke-linejoin="round"/><path d="M905.3 715.5 L906.5 715.7 L907.7 716.5 L908.9 717.1 L910.1 717.2 L911.3 717.3 L912.5 718.5 L913.7 718.7" fill="none" stroke="#2169af" stroke-width="3.2" stroke-linecap="round" stroke-linejoin="round"/><path d="M913.7 718.7 L914.9 718.1 L916.1 718.7 L917.3 719.0 L918.5 719.2 L919.7 719.6 L920.9 719.7 L922.1 720.7" fill="none" stroke="#1b63aa" stroke-width="3.2" stroke-linecap="round" stroke-linejoin="round"/><path d="M922.1 720.7 L923.3 720.4 L924.5 720.4 L925.7 720.9 L926.9 720.3 L928.1 720.9 L929.3 720.7 L930.5 721.3" fill="none" stroke="#165ca5" stroke-width="3.2" stroke-linecap="round" stroke-linejoin="round"/><path d="M930.5 721.3 L931.7 720.7 L932.9 721.1 L934.1 720.3 L935.3 720.5 L936.5 720.9 L937.7 721.4 L938.9 722.6" fill="none" stroke="#10569f" stroke-width="3.2" stroke-linecap="round" stroke-linejoin="round"/><path d="M938.9 722.6 L940.1 723.2 L941.3 722.1 L942.5 721.8" fill="none" stroke="#0b4f9a" stroke-width="3.2" stroke-linecap="round" stroke-linejoin="round"/><path d="M762.5 726.4 L763.7 726.1 L764.9 726.8 L766.1 725.7 L767.3 726.2 L768.5 725.4 L769.7 726.6 L770.9 726.8" fill="none" stroke="#fc9d7f" stroke-width="3.2" stroke-linecap="round" stroke-linejoin="round"/><path d="M770.9 726.8 L772.1 727.6 L773.3 727.1 L774.5 727.3 L775.7 727.0 L776.9 726.6 L778.1 726.9 L779.3 726.3" fill="none" stroke="#fc9879" stroke-width="3.2" stroke-linecap="round" stroke-linejoin="round"/><path d="M779.3 726.3 L780.5 726.4 L781.7 727.0 L782.9 727.0 L784.1 726.8 L785.3 728.0 L786.5 727.6 L787.7 727.1" fill="none" stroke="#fc9273" stroke-width="3.2" stroke-linecap="round" stroke-linejoin="round"/><path d="M787.7 727.1 L788.9 727.1 L790.1 726.8 L791.3 726.7 L792.5 726.6 L793.7 727.8 L794.9 727.5 L796.1 727.4" fill="none" stroke="#fb8c6d" stroke-width="3.2" stroke-linecap="round" stroke-linejoin="round"/><path d="M796.1 727.4 L797.3 727.6 L798.5 728.3 L799.7 727.7 L800.9 727.1 L802.1 728.3 L803.3 727.1 L804.5 726.8" fill="none" stroke="#fb8666" stroke-width="3.2" stroke-linecap="round" stroke-linejoin="round"/><path d="M804.5 726.8 L805.7 727.2 L806.9 728.3 L808.1 727.3 L809.3 726.0 L810.5 726.7 L811.7 726.6 L812.9 726.5" fill="none" stroke="#fb8060" stroke-width="3.2" stroke-linecap="round" stroke-linejoin="round"/><path d="M812.9 726.5 L814.1 727.0 L815.3 727.1 L816.5 727.2 L817.7 727.5 L818.9 728.8 L820.1 729.9 L821.3 730.1" fill="none" stroke="#fb7a5a" stroke-width="3.2" stroke-linecap="round" stroke-linejoin="round"/><path d="M821.3 730.1 L822.5 730.2 L823.7 736.5 L824.9 742.5 L826.1 747.8 L827.3 748.2 L828.5 749.5 L829.7 749.9" fill="none" stroke="#f24936" stroke-width="3.2" stroke-linecap="round" stroke-linejoin="round"/><path d="M829.7 749.9 L830.9 750.2 L832.1 750.9 L833.3 751.4 L834.5 752.0 L835.7 751.6 L836.9 753.5 L838.1 754.1" fill="none" stroke="#eb372c" stroke-width="3.2" stroke-linecap="round" stroke-linejoin="round"/><path d="M838.1 754.1 L839.3 754.1 L840.5 755.3 L841.7 756.0 L842.9 756.4 L844.1 757.5 L845.3 758.9 L846.5 759.2" fill="none" stroke="#e5322b" stroke-width="3.2" stroke-linecap="round" stroke-linejoin="round"/><path d="M846.5 759.2 L847.7 759.8 L848.9 760.6 L850.1 759.6 L851.3 759.3 L852.5 760.0 L853.7 759.2 L854.9 759.6" fill="none" stroke="#df2d2b" stroke-width="3.2" stroke-linecap="round" stroke-linejoin="round"/><path d="M854.9 759.6 L856.1 760.8 L857.3 761.4 L858.5 761.7 L859.7 760.0 L860.9 760.9 L862.1 760.3 L863.3 759.9" fill="none" stroke="#d9282b" stroke-width="3.2" stroke-linecap="round" stroke-linejoin="round"/><path d="M863.3 759.9 L864.5 759.3 L865.7 757.6 L866.9 756.5 L868.1 755.8 L869.3 756.7 L870.5 755.7 L871.7 755.3" fill="none" stroke="#d3222a" stroke-width="3.2" stroke-linecap="round" stroke-linejoin="round"/><path d="M871.7 755.3 L872.9 754.9 L874.1 754.9 L875.3 754.7 L876.5 754.3 L877.7 753.2 L878.9 751.4 L880.1 751.8" fill="none" stroke="#ca1e28" stroke-width="3.2" stroke-linecap="round" stroke-linejoin="round"/><path d="M880.1 751.8 L881.3 751.9 L882.5 752.3 L883.7 751.7 L884.9 751.0 L886.1 750.9 L887.3 749.7 L888.5 749.0" fill="none" stroke="#c01b25" stroke-width="3.2" stroke-linecap="round" stroke-linejoin="round"/><path d="M888.5 749.0 L889.7 748.5 L890.9 748.7 L892.1 749.5 L893.3 749.2 L894.5 749.1 L895.7 748.4 L896.9 747.8" fill="none" stroke="#b61822" stroke-width="3.2" stroke-linecap="round" stroke-linejoin="round"/><path d="M896.9 747.8 L898.1 746.9 L899.3 746.3 L900.5 744.7 L901.7 744.2 L902.9 743.7 L904.1 744.3 L905.3 744.5" fill="none" stroke="#ac151f" stroke-width="3.2" stroke-linecap="round" stroke-linejoin="round"/><path d="M905.3 744.5 L906.5 744.6 L907.7 744.7 L908.9 743.7 L910.1 743.6 L911.3 743.9 L912.5 742.9 L913.7 742.7" fill="none" stroke="#a2121c" stroke-width="3.2" stroke-linecap="round" stroke-linejoin="round"/><path d="M913.7 742.7 L914.9 741.8 L916.1 740.3 L917.3 740.2 L918.5 739.5 L919.7 739.3 L920.9 738.8 L922.1 738.7" fill="none" stroke="#980e19" stroke-width="3.2" stroke-linecap="round" stroke-linejoin="round"/><path d="M922.1 738.7 L923.3 737.3 L924.5 738.4 L925.7 738.5 L926.9 737.6 L928.1 736.6 L929.3 736.3 L930.5 736.3" fill="none" stroke="#8e0b16" stroke-width="3.2" stroke-linecap="round" stroke-linejoin="round"/><path d="M930.5 736.3 L931.7 736.5 L932.9 736.6 L934.1 735.6 L935.3 735.4 L936.5 736.6 L937.7 736.8 L938.9 736.0" fill="none" stroke="#840813" stroke-width="3.2" stroke-linecap="round" stroke-linejoin="round"/><path d="M938.9 736.0 L940.1 736.0 L941.3 735.7 L942.5 735.8" fill="none" stroke="#7a0510" stroke-width="3.2" stroke-linecap="round" stroke-linejoin="round"/><path d="M804.5 726.3 L805.7 725.1 L806.9 725.0" fill="none" stroke="#a4da9d" stroke-width="3.2" stroke-linecap="round" stroke-linejoin="round"/><path d="M806.9 725.0 L808.1 725.4 L809.3 726.6" fill="none" stroke="#9cd597" stroke-width="3.2" stroke-linecap="round" stroke-linejoin="round"/><path d="M809.3 726.6 L810.5 726.3 L811.7 725.2" fill="none" stroke="#94d191" stroke-width="3.2" stroke-linecap="round" stroke-linejoin="round"/><path d="M811.7 725.2 L812.9 725.7 L814.1 725.1" fill="none" stroke="#8ccd8c" stroke-width="3.2" stroke-linecap="round" stroke-linejoin="round"/><path d="M814.1 725.1 L815.3 726.2 L816.5 726.0" fill="none" stroke="#84c886" stroke-width="3.2" stroke-linecap="round" stroke-linejoin="round"/><path d="M816.5 726.0 L817.7 727.4 L818.9 727.4" fill="none" stroke="#7cc480" stroke-width="3.2" stroke-linecap="round" stroke-linejoin="round"/><path d="M818.9 727.4 L820.1 726.9 L821.3 726.5" fill="none" stroke="#74c07a" stroke-width="3.2" stroke-linecap="round" stroke-linejoin="round"/><path d="M821.3 726.5 L822.5 727.2 L823.7 731.1" fill="none" stroke="#6cbb74" stroke-width="3.2" stroke-linecap="round" stroke-linejoin="round"/><path d="M823.7 731.1 L824.9 735.2 L826.1 738.5" fill="none" stroke="#64b76f" stroke-width="3.2" stroke-linecap="round" stroke-linejoin="round"/><path d="M826.1 738.5 L827.3 738.4 L828.5 739.4" fill="none" stroke="#5cb369" stroke-width="3.2" stroke-linecap="round" stroke-linejoin="round"/><path d="M828.5 739.4 L829.7 739.0 L830.9 740.1" fill="none" stroke="#54ae63" stroke-width="3.2" stroke-linecap="round" stroke-linejoin="round"/><path d="M830.9 740.1 L832.1 740.3 L833.3 742.0" fill="none" stroke="#4caa5d" stroke-width="3.2" stroke-linecap="round" stroke-linejoin="round"/><path d="M833.3 742.0 L834.5 742.9 L835.7 742.7" fill="none" stroke="#44a557" stroke-width="3.2" stroke-linecap="round" stroke-linejoin="round"/><path d="M835.7 742.7 L836.9 741.7 L838.1 741.9" fill="none" stroke="#3ca151" stroke-width="3.2" stroke-linecap="round" stroke-linejoin="round"/><path d="M838.1 741.9 L839.3 742.0 L840.5 741.4" fill="none" stroke="#379c4e" stroke-width="3.2" stroke-linecap="round" stroke-linejoin="round"/><path d="M840.5 741.4 L841.7 741.0 L842.9 741.8" fill="none" stroke="#34974a" stroke-width="3.2" stroke-linecap="round" stroke-linejoin="round"/><path d="M842.9 741.8 L844.1 741.3 L845.3 741.4" fill="none" stroke="#309247" stroke-width="3.2" stroke-linecap="round" stroke-linejoin="round"/><path d="M845.3 741.4 L846.5 742.0 L847.7 740.5" fill="none" stroke="#2d8d44" stroke-width="3.2" stroke-linecap="round" stroke-linejoin="round"/><path d="M847.7 740.5 L848.9 741.5 L850.1 741.5" fill="none" stroke="#298841" stroke-width="3.2" stroke-linecap="round" stroke-linejoin="round"/><path d="M850.1 741.5 L851.3 740.5 L852.5 739.6" fill="none" stroke="#26833e" stroke-width="3.2" stroke-linecap="round" stroke-linejoin="round"/><path d="M852.5 739.6 L853.7 738.0 L854.9 738.0" fill="none" stroke="#227e3a" stroke-width="3.2" stroke-linecap="round" stroke-linejoin="round"/><path d="M854.9 738.0 L856.1 735.4 L857.3 735.6" fill="none" stroke="#1f7937" stroke-width="3.2" stroke-linecap="round" stroke-linejoin="round"/><path d="M857.3 735.6 L858.5 734.9 L859.7 733.2" fill="none" stroke="#1b7334" stroke-width="3.2" stroke-linecap="round" stroke-linejoin="round"/><path d="M859.7 733.2 L860.9 731.8 L862.1 730.6" fill="none" stroke="#186e31" stroke-width="3.2" stroke-linecap="round" stroke-linejoin="round"/><path d="M862.1 730.6 L863.3 729.4 L864.5 728.8" fill="none" stroke="#14692e" stroke-width="3.2" stroke-linecap="round" stroke-linejoin="round"/><path d="M864.5 728.8 L865.7 726.9 L866.9 726.4" fill="none" stroke="#11642a" stroke-width="3.2" stroke-linecap="round" stroke-linejoin="round"/><path d="M866.9 726.4 L868.1 725.9 L869.3 724.4" fill="none" stroke="#0d5f27" stroke-width="3.2" stroke-linecap="round" stroke-linejoin="round"/><path d="M869.3 724.4 L870.5 723.6" fill="none" stroke="#0a5a24" stroke-width="3.2" stroke-linecap="round" stroke-linejoin="round"/><text x="984.30" y="569.70" style="font-size:19.0px;font-weight:bold" fill="#000" stroke="#000" stroke-width="0.6">l</text><text x="1013.00" y="576.50" style="font-size:11.36px;" fill="#231f20" >Animal 1</text><text x="1132.40" y="576.50" style="font-size:11.34px;" fill="#231f20" >Animal 2</text><text x="1013.00" y="695.90" style="font-size:11.36px;" fill="#231f20" >Animal 3</text><text x="1132.40" y="695.90" style="font-size:11.34px;" fill="#231f20" >Animal 4</text><line x1="986.5" y1="656.5" x2="1007.7" y2="656.5" stroke="#231f20" stroke-width="1.1" /><path d="M1011.7 656.5 L1006.2 659.1 L1006.2 653.9Z" fill="#231f20" stroke="none" stroke-width="1" /><line x1="986.5" y1="656.5" x2="986.5" y2="677.2" stroke="#231f20" stroke-width="1.1" /><path d="M986.5 681.2 L983.9 675.7 L989.1 675.7Z" fill="#231f20" stroke="none" stroke-width="1" /><line x1="1105.6" y1="656.5" x2="1127.1" y2="656.5" stroke="#231f20" stroke-width="1.1" /><path d="M1131.1 656.5 L1125.6 659.1 L1125.6 653.9Z" fill="#231f20" stroke="none" stroke-width="1" /><line x1="1105.6" y1="656.5" x2="1105.6" y2="677.2" stroke="#231f20" stroke-width="1.1" /><path d="M1105.6 681.2 L1103.0 675.7 L1108.2 675.7Z" fill="#231f20" stroke="none" stroke-width="1" /><line x1="986.5" y1="800.6" x2="986.5" y2="779.9" stroke="#231f20" stroke-width="1.1" /><path d="M986.5 775.9 L989.1 781.4 L983.9 781.4Z" fill="#231f20" stroke="none" stroke-width="1" /><line x1="986.5" y1="800.6" x2="1007.7" y2="800.6" stroke="#231f20" stroke-width="1.1" /><path d="M1011.7 800.6 L1006.2 803.2 L1006.2 798.0Z" fill="#231f20" stroke="none" stroke-width="1" /><line x1="1111.4" y1="780.9" x2="1093.2" y2="778.8" stroke="#231f20" stroke-width="1.1" /><path d="M1089.2 778.4 L1095.0 776.4 L1094.4 781.6Z" fill="#231f20" stroke="none" stroke-width="1" /><line x1="1111.4" y1="780.9" x2="1115.3" y2="768.3" stroke="#231f20" stroke-width="1.1" /><path d="M1116.5 764.5 L1117.3 770.5 L1112.4 769.0Z" fill="#231f20" stroke="none" stroke-width="1" /><line x1="1111.4" y1="780.9" x2="1111.4" y2="797.1" stroke="#231f20" stroke-width="1.1" /><path d="M1111.4 801.1 L1108.8 795.6 L1114.0 795.6Z" fill="#231f20" stroke="none" stroke-width="1" /><g fill="none" stroke-width="2.8" stroke-linecap="round" stroke-linejoin="round"><path d="M999.1 626.3L998.1 628.3L997.1 627.2" stroke="#9ecae1"/><path d="M997.1 627.2L994.8 629.5L993 627.8" stroke="#9ecae1"/><path d="M993 627.8L993.2 628.9L993.5 631.8" stroke="#9ecae1"/><path d="M993.5 631.8L994.7 632.1L994.5 633.6" stroke="#9ecae1"/><path d="M994.5 633.6L996 635L997.5 638.1" stroke="#9ecae1"/><path d="M997.5 638.1L997.3 635.8L1000.3 635.1" stroke="#9ecae1"/><path d="M1000.3 635.1L1000.1 634" stroke="#9ecae1"/></g><g fill="none" stroke-width="2.8" stroke-linecap="round" stroke-linejoin="round"><path d="M1010.6 611.6L1010.8 610.8L1012.5 609.3L1014.5 608.3" stroke="#0c509b"/><path d="M1014.5 608.3L1015 608.4L1014.4 608.1L1016.7 608.6" stroke="#0d529d"/><path d="M1016.7 608.6L1017.5 607.7L1020.4 607.8L1020.7 607.3" stroke="#0f559f"/><path d="M1020.7 607.3L1022.1 606L1024.7 603.5L1025.9 605.8" stroke="#1157a1"/><path d="M1025.9 605.8L1027 604.3L1028.4 604.6L1029 604.7" stroke="#1259a4"/><path d="M1029 604.7L1029.6 604.5L1031.2 604.1L1033.4 605.3" stroke="#145ba6"/><path d="M1033.4 605.3L1034.4 604.8L1035.7 607.2L1038 604.2" stroke="#165da8"/><path d="M1038 604.2L1038.5 604.3L1039.6 602L1040.9 601.4" stroke="#1760aa"/><path d="M1040.9 601.4L1042.2 600.4L1043 601.2L1045.5 600" stroke="#1962ac"/><path d="M1045.5 600L1046.3 599L1048.4 598.6L1048.1 598.1" stroke="#1b64ae"/><path d="M1048.1 598.1L1049.6 597L1051.4 597.1L1054.3 597.7" stroke="#1c66b0"/><path d="M1054.3 597.7L1054.5 597.9L1054.5 598.8L1056.1 599.5" stroke="#1f69b2"/><path d="M1056.1 599.5L1058.7 601.7L1060.3 602.3L1061 601.4" stroke="#226cb4"/><path d="M1061 601.4L1062.4 600.9L1063.9 601.9L1063.6 603.4" stroke="#2570b6"/><path d="M1063.6 603.4L1064.6 605.3L1064.9 606L1065 606.2" stroke="#2873b8"/><path d="M1065 606.2L1065.6 608L1063.7 609.1L1062.4 608.6" stroke="#2b76ba"/><path d="M1062.4 608.6L1059.7 607.7L1058.3 610.6L1055.8 611.8" stroke="#2e79bd"/><path d="M1055.8 611.8L1056.4 611L1053.6 612.1L1052.7 611.2" stroke="#317cbf"/><path d="M1052.7 611.2L1052.7 612.6L1051.3 613.2L1048.2 615.2" stroke="#347fc1"/><path d="M1048.2 615.2L1047.4 614.2L1047.4 615.5L1045.2 614.8" stroke="#3782c3"/><path d="M1045.2 614.8L1040.9 614.8L1040.3 614.2L1041.1 615.5" stroke="#3a85c5"/><path d="M1041.1 615.5L1042.3 616.2L1038.5 616.1L1037 616" stroke="#3d88c7"/><path d="M1037 616L1036.3 614.9L1036.6 616.7L1036.2 614.5" stroke="#408bc9"/><path d="M1036.2 614.5L1035.1 616.9L1032.2 616.3L1031.2 617.3" stroke="#438ecb"/><path d="M1031.2 617.3L1029.9 617.7L1027.7 616.4L1025.1 617.6" stroke="#4691cd"/><path d="M1025.1 617.6L1023.8 617.6L1020.6 616.6" stroke="#4994cf"/></g><g fill="none" stroke-width="2.8" stroke-linecap="round" stroke-linejoin="round"><path d="M1040.5 602L1040.4 602.4L1040.8 602" stroke="#9cc9e1"/><path d="M1040.8 602L1043.6 598.9L1042.5 596.1" stroke="#98c6e0"/><path d="M1042.5 596.1L1043.7 594.7L1043.5 595.2" stroke="#93c3df"/><path d="M1043.5 595.2L1042.9 593.7L1046.7 592.5" stroke="#8fc1de"/><path d="M1046.7 592.5L1046.4 591L1048.5 590.5" stroke="#8bbedd"/><path d="M1048.5 590.5L1051.6 590.7L1053 588.8" stroke="#86bbdc"/><path d="M1053 588.8L1052.7 588.9L1055.4 588.3" stroke="#82b9db"/><path d="M1055.4 588.3L1057.4 587.7L1058.1 587.1" stroke="#7eb6da"/><path d="M1058.1 587.1L1058.6 586.8L1059 588" stroke="#79b3da"/><path d="M1059 588L1057.2 587.1L1059.6 586.7" stroke="#75b1d9"/><path d="M1059.6 586.7L1062.4 585.1L1064.9 584.8" stroke="#71aed8"/><path d="M1064.9 584.8L1066 585.8L1066.7 587.6" stroke="#6cabd7"/><path d="M1066.7 587.6L1067.1 590L1068.5 590.6" stroke="#68a9d6"/><path d="M1068.5 590.6L1070 592.4L1070 594.6" stroke="#64a6d5"/><path d="M1070 594.6L1070.4 595.4L1069.8 596.5" stroke="#60a3d4"/><path d="M1069.8 596.5L1069.1 596.6L1069.3 598.2" stroke="#5ba1d3"/><path d="M1069.3 598.2L1069.4 599.6L1069.9 600.3" stroke="#579ed3"/><path d="M1069.9 600.3L1066.9 601.6L1064.2 601.5" stroke="#539bd2"/><path d="M1064.2 601.5L1062.7 602.3L1062.2 602.7" stroke="#4e99d1"/></g><path d="M1066.2 602L1065.3 603.8L1062.8 604.6L1061.7 605.7L1060.9 607.4L1059 608.1L1056.9 608.3L1054.6 608.3L1053.5 606.4L1051.5 605.6L1050.9 603.8L1051.7 602L1052.9 600.7L1050.9 598.1L1052.4 596.4L1055.1 596.5L1057.1 596.9L1058.9 596.8L1060.6 597.1L1062.3 597.7L1063.4 599L1064.9 600.3Z" fill="#4a96d0" stroke="#4a96d0" stroke-width="2.2" stroke-linejoin="round"/><g fill="none" stroke-width="2.8" stroke-linecap="round" stroke-linejoin="round"><path d="M1048.4 621.7L1050.9 621.2L1053.2 621.1" stroke="#fc8c6d"/><path d="M1053.2 621.1L1054.3 620.3L1055.5 619.6" stroke="#fb896b"/><path d="M1055.5 619.6L1054.7 619.8L1057.1 618.4" stroke="#fb8769"/><path d="M1057.1 618.4L1059.7 618.7L1060.9 621.1" stroke="#fa8467"/><path d="M1060.9 621.1L1061.4 620.1L1064.8 620.8" stroke="#f98265"/><path d="M1064.8 620.8L1065.3 620.8L1066.1 621.4" stroke="#f97f63"/><path d="M1066.1 621.4L1066.1 624.9L1065.8 624.5" stroke="#f87d62"/><path d="M1065.8 624.5L1068.4 626.3L1069 627.3" stroke="#f87a60"/><path d="M1069 627.3L1070.6 627.2L1070 628.8" stroke="#f7785e"/><path d="M1070 628.8L1071.1 629.5L1072.1 631.4" stroke="#f7755c"/><path d="M1072.1 631.4L1072.4 632L1072.6 631.7" stroke="#f6735a"/><path d="M1072.6 631.7L1073.5 630.9L1073 633.7" stroke="#f67058"/><path d="M1073 633.7L1073 635.3L1073.6 637.3" stroke="#f56e56"/><path d="M1073.6 637.3L1074.5 637.4L1075.4 639.9" stroke="#f46c54"/><path d="M1075.4 639.9L1075.7 641.1L1075.6 644.6" stroke="#f46952"/><path d="M1075.6 644.6L1077.2 643L1076.1 644.2" stroke="#f36750"/><path d="M1076.1 644.2L1077 647.7L1076.9 648.5" stroke="#f3644e"/><path d="M1076.9 648.5L1076.7 648.7L1078.3 652.1" stroke="#f2624c"/><path d="M1078.3 652.1L1078.2 655L1078.2 657.2" stroke="#f25f4b"/><path d="M1078.2 657.2L1078.7 656.1L1079 657.9" stroke="#f15d49"/><path d="M1079 657.9L1077.4 659.5L1077 660" stroke="#f05a47"/><path d="M1077 660L1076.6 662.1L1076.1 661.9" stroke="#f05845"/><path d="M1076.1 661.9L1075.4 663L1075.3 662.9" stroke="#ef5543"/><path d="M1075.3 662.9L1075 665.4L1075.4 666.8" stroke="#ef5341"/><path d="M1075.4 666.8L1073.8 665.5L1073 665.1" stroke="#ee503f"/><path d="M1073 665.1L1073.2 662.9L1072.3 662.2" stroke="#ee4e3d"/><path d="M1072.3 662.2L1070.6 660.6L1070 658.4" stroke="#ed4b3b"/><path d="M1070 658.4L1069.3 657.2L1069.3 658.3" stroke="#ed4939"/><path d="M1069.3 658.3L1069.9 656.4L1067.8 655.1" stroke="#ec4637"/><path d="M1067.8 655.1L1068 654L1067.8 652.6" stroke="#eb4435"/><path d="M1067.8 652.6L1066.8 651.5L1068.1 649.3" stroke="#eb4134"/><path d="M1068.1 649.3L1067.1 647.9L1066.4 645.3" stroke="#ea3f32"/><path d="M1066.4 645.3L1064.9 644.5L1066.7 643.3" stroke="#ea3c30"/><path d="M1066.7 643.3L1063.3 641.6L1062.7 643.1" stroke="#e93a2e"/><path d="M1062.7 643.1L1062.6 642.3L1061.6 640.1" stroke="#e9372c"/></g><g fill="none" stroke-width="2.8" stroke-linecap="round" stroke-linejoin="round"><path d="M1018.6 622.4L1021.2 622.1L1023.2 619.3" stroke="#8d0a1a"/><path d="M1023.2 619.3L1024.7 620.5L1027.3 621.1" stroke="#920b1a"/><path d="M1027.3 621.1L1028 620.9L1028.9 619.4" stroke="#960c1a"/><path d="M1028.9 619.4L1030 621.2L1030.4 620.7" stroke="#9a0c1a"/><path d="M1030.4 620.7L1031.9 621L1034.1 621.8" stroke="#9f0d1b"/><path d="M1034.1 621.8L1034.9 621.6L1033.8 622.2" stroke="#a30e1b"/><path d="M1033.8 622.2L1035.7 623L1038.2 621.6" stroke="#a70f1b"/><path d="M1038.2 621.6L1041.2 624.2L1042.6 624.1" stroke="#ac0f1b"/><path d="M1042.6 624.1L1044.3 625.2L1043.8 626.3" stroke="#b0101b"/><path d="M1043.8 626.3L1045.7 626.8L1044.8 629.7" stroke="#b4111b"/><path d="M1044.8 629.7L1045.3 630.2L1045.8 632.3" stroke="#b9121c"/><path d="M1045.8 632.3L1047.3 632.7L1049.6 635.3" stroke="#bd121c"/><path d="M1049.6 635.3L1049.6 635.3L1051 636.5" stroke="#c1131c"/><path d="M1051 636.5L1051.6 637.3L1051.8 638.6" stroke="#c6141c"/><path d="M1051.8 638.6L1051.6 640.9L1052.8 640.8" stroke="#c9151c"/><path d="M1052.8 640.8L1053.5 642.8L1056.4 643.6" stroke="#cb181e"/><path d="M1056.4 643.6L1056.8 643.8L1055.7 646" stroke="#ce1a1e"/><path d="M1055.7 646L1058.1 645.3L1059 647.6" stroke="#d01c20"/><path d="M1059 647.6L1058 648.4L1057.6 649.6" stroke="#d21f20"/><path d="M1057.6 649.6L1059.7 650.8L1062.1 651.8" stroke="#d52122"/><path d="M1062.1 651.8L1061.5 652.7L1062.2 653.3" stroke="#d72322"/><path d="M1062.2 653.3L1061.4 655.1L1062.3 657.6" stroke="#d92624"/><path d="M1062.3 657.6L1065.6 659.6L1063.8 659.7" stroke="#db2824"/><path d="M1063.8 659.7L1063.8 659.6L1065.3 663.8" stroke="#de2a26"/><path d="M1065.3 663.8L1065.6 666.5L1067.1 664.4" stroke="#e02d26"/><path d="M1067.1 664.4L1068.5 665.8L1068.5 667.1" stroke="#e22f28"/><path d="M1068.5 667.1L1066.6 668L1066.5 670.2" stroke="#e53128"/><path d="M1066.5 670.2L1066.7 670.8" stroke="#e7342a"/></g><path d="M1075.6 655L1073.2 657.5L1072 659.3L1071.7 662L1069.9 661.9L1068.6 662.3L1067.2 664.5L1065.5 663.9L1063.6 663.4L1062.8 660.4L1063.4 657.2L1064.5 655L1063 652.6L1063.3 650.1L1064.2 647.8L1065.7 646.6L1067.2 646.1L1068.7 646.6L1070.4 646.2L1070.8 649.8L1071.4 651.4L1073.6 652.3Z" fill="#e8352a" stroke="#e8352a" stroke-width="2.2" stroke-linejoin="round"/><path d="M1052.1 634L1051.7 635.9L1050.1 637.4L1048.2 638.5L1045.6 638.3L1043.8 638L1041.7 640.6L1039.1 640.5L1037.7 638.6L1035.8 637.5L1033.6 636.1L1035.1 634L1036.2 632.5L1037.8 631.5L1037.6 629.3L1039.3 628L1041.5 626L1044.2 627.5L1045.5 629.8L1048 629.7L1049.1 631.1L1048.8 632.7Z" fill="#c8141c" stroke="#c8141c" stroke-width="2.2" stroke-linejoin="round"/><path d="M1060.3 634L1060 635.2L1060.4 636.9L1059.9 638.5L1059.1 640.2L1057.7 640.7L1056.3 640.4L1055.2 639.1L1054.3 638.1L1053.7 636.8L1052.9 635.6L1051.6 634L1051.3 631.8L1053.3 630.9L1054.1 629.5L1055.5 629.7L1056.5 629.1L1057.6 628.2L1058.9 628.3L1059.8 629.7L1061.6 630L1061.5 632.3Z" fill="#c8141c" stroke="#c8141c" stroke-width="2.2" stroke-linejoin="round"/><path d="M1037.7 620L1036.6 621.1L1035.7 621.9L1034.8 622.5L1034.3 623.9L1032.9 625.3L1031.3 624.1L1029.8 623.8L1028.6 623.2L1028.1 622L1027.6 621L1027.8 620L1027.4 618.9L1027.3 617.6L1027.9 616.2L1030.2 616.8L1031.4 616.8L1032.7 615.9L1033.9 616.6L1034.8 617.4L1037.1 617.4L1037 618.8Z" fill="#c8141c" stroke="#c8141c" stroke-width="2.2" stroke-linejoin="round"/><path d="M1023.5 620L1023.4 621L1023.6 622.3L1023 623.4L1021.7 623.7L1020.6 624.3L1019.4 624.3L1018.8 622.6L1017.7 622.7L1016.7 622.1L1015.5 621.3L1014.9 620L1016.2 618.9L1017 618.1L1017.9 617.5L1018.3 616.2L1019.4 616L1020.6 616L1021.9 615.8L1023 616.5L1023.4 617.8L1023.6 618.9Z" fill="#8b0a1a" stroke="#8b0a1a" stroke-width="2.2" stroke-linejoin="round"/><path d="M1018.9 642L1019.4 642.9L1019.3 644.1L1017.7 644.6L1016 644.7L1014.5 644.1L1013.4 644.3L1011.8 644.9L1010.8 644.2L1010 643.5L1008.1 643L1008.5 642L1009.9 641.3L1010.4 640.6L1011.2 640.1L1012 639.4L1013.2 638.6L1014.9 638.4L1016 639.4L1017.5 639.6L1018.2 640.4L1018.3 641.2Z" fill="#8b0a1a" stroke="#8b0a1a" stroke-width="2.2" stroke-linejoin="round"/><path d="M1014.8 616L1014.3 617.4L1014.9 619.5L1013.4 620.7L1011.6 621.3L1010.2 623.5L1008 622.6L1007 620L1006.1 619.1L1003.8 619.1L1003 617.6L1001.5 616L1001.9 614.1L1003.7 612.9L1004.7 611.5L1006.6 611L1008.3 611.6L1009.7 611.3L1012 609.9L1014.6 610L1014.6 612.7L1015.2 614.3Z" fill="#fc8d6e" stroke="#fc8d6e" stroke-width="2.2" stroke-linejoin="round"/><path d="M1012.7 623L1012.1 624.3L1012 625.9L1011.7 627.8L1009.7 627.9L1008.3 628.4L1006.9 627.4L1006.1 626L1004.1 626.9L1002.3 626.3L1002.2 624.5L1002.2 623L1002.5 621.5L1002.8 620L1005.1 620.2L1006 619.7L1006.9 618.7L1008.2 618L1010.1 617.4L1011.3 618.6L1011.5 620.4L1011.7 621.8Z" fill="#8fd08a" stroke="#8fd08a" stroke-width="2.2" stroke-linejoin="round"/><path d="M1016.9 630L1019.3 631.5L1018.4 633L1016.9 634.3L1014.6 634.9L1012.3 635.7L1010 634.4L1008.2 633.8L1006 633.6L1003.6 633L1001.8 631.7L1001.2 630L1004 628.7L1004.2 627.3L1006.1 626.5L1008 625.9L1010.1 626.1L1012.2 624.6L1015 624.5L1016.8 625.8L1017.3 627.5L1017.7 628.8Z" fill="#0a5a24" stroke="#0a5a24" stroke-width="2.2" stroke-linejoin="round"/><path d="M1038.6 642L1039.5 645L1034.3 645.6L1033.5 647.7L1031.7 649.3L1029.3 649.8L1027 648.5L1024.1 649.7L1022 648.1L1019.5 646.9L1017.7 644.7L1022 642L1020.4 640L1019.9 637.4L1021 634.8L1024.4 635L1026.4 632.4L1029.3 633.9L1031.5 635.3L1033.5 636.4L1034.6 638.3L1035.1 640.1Z" fill="#1b7a3a" stroke="#1b7a3a" stroke-width="2.2" stroke-linejoin="round"/><path d="M1040.5 647L1039.7 648.6L1038.4 649.9L1036.9 650.8L1035.2 651.1L1033.8 651.8L1032.2 651.8L1030.2 652.1L1028.7 651.1L1026.8 650.3L1028 648.2L1028.1 647L1027.4 645.6L1028.3 644.5L1028.8 642.9L1030.4 642.3L1032.1 641.7L1034 641.2L1035.6 642.2L1036.4 643.7L1036.9 644.9L1038.3 645.7Z" fill="#3a9a50" stroke="#3a9a50" stroke-width="2.2" stroke-linejoin="round"/><path d="M1028.1 634L1029 634.9L1028.9 635.9L1028 636.6L1026.6 636.6L1025.5 636.9L1024.5 636.8L1023.7 636.1L1022.9 635.8L1021.4 635.7L1020.6 635L1020.7 634L1021.5 633.2L1022.7 632.9L1023.1 632.3L1023 630.8L1024.3 630.5L1025.5 631.3L1026.7 631.1L1028.1 631.3L1027.7 632.7L1027.8 633.4Z" fill="#8fd08a" stroke="#8fd08a" stroke-width="2.2" stroke-linejoin="round"/><g fill="none" stroke-width="2.8" stroke-linecap="round" stroke-linejoin="round"><path d="M1132.2 608.6L1133.8 606L1134.3 605L1134.3 602.5" stroke="#0c509b"/><path d="M1134.3 602.5L1135.1 603.1L1137.3 602.9L1136.1 601.1" stroke="#0d529d"/><path d="M1136.1 601.1L1139 599.8L1140.4 599L1142.1 597.9" stroke="#0e549e"/><path d="M1142.1 597.9L1143.8 598.5L1143.5 598L1143.5 598.2" stroke="#1055a0"/><path d="M1143.5 598.2L1144 596.4L1146 596.7L1146.7 598" stroke="#1157a2"/><path d="M1146.7 598L1148.5 598.4L1151.2 600.1L1152.7 601.5" stroke="#1359a4"/><path d="M1152.7 601.5L1155.8 600.2L1156.5 601.1L1159.2 600" stroke="#145ba6"/><path d="M1159.2 600L1159.3 602.1L1161.4 603.8L1161.3 603.6" stroke="#155da7"/><path d="M1161.3 603.6L1160.1 599.9L1163 600.9L1164.7 601.8" stroke="#175fa9"/><path d="M1164.7 601.8L1166.5 601.7L1167.2 601.1L1168.8 601.7" stroke="#1861ab"/><path d="M1168.8 601.7L1169.5 602.3L1170.6 601.6L1172.7 600.7" stroke="#1962ad"/><path d="M1172.7 600.7L1173.7 600.2L1175.5 599.1L1177.5 599.9" stroke="#1b64ae"/><path d="M1177.5 599.9L1178.4 599.8L1179.4 598.2L1180.2 597.1" stroke="#1c67b0"/><path d="M1180.2 597.1L1182 597.9L1182.2 595.3L1184.2 596.2" stroke="#216cb4"/><path d="M1184.2 596.2L1185.2 593.4L1185.2 592.4L1187.7 590.6" stroke="#2671b7"/><path d="M1187.7 590.6L1189.1 590.7L1188.3 587.9L1191.7 587.3" stroke="#2b76bb"/><path d="M1191.7 587.3L1191.9 589.1L1191.7 590.1L1192.9 591.5" stroke="#307bbe"/><path d="M1192.9 591.5L1194.4 592.3L1194.7 592.7L1194.3 593.1" stroke="#3580c2"/><path d="M1194.3 593.1L1194.4 593.6L1193.7 595.6L1193.7 597.1" stroke="#3a85c5"/><path d="M1193.7 597.1L1194.4 598.3L1194.9 600.2L1193.2 600.6" stroke="#3f8bc8"/><path d="M1193.2 600.6L1192.4 603L1190.5 602.8L1189 604.1" stroke="#4490cc"/><path d="M1189 604.1L1187.7 605.5L1186.5 604.4L1184.7 606.6" stroke="#4995cf"/><path d="M1184.7 606.6L1183.8 606.5L1181 608.9L1178.7 610.5" stroke="#519ad1"/><path d="M1178.7 610.5L1178.2 609.3L1177.3 608.9L1176.1 610.8" stroke="#5aa0d3"/><path d="M1176.1 610.8L1176.4 611.1L1176.7 610.9L1174.6 609.5" stroke="#63a6d5"/><path d="M1174.6 609.5L1171.5 609.4L1171.6 609.9L1167.4 609.3" stroke="#6cabd7"/><path d="M1167.4 609.3L1166.5 610L1166.3 609.3L1164.2 610.7" stroke="#75b1d9"/><path d="M1164.2 610.7L1162.9 613.3L1162 612.2L1160.2 612.6" stroke="#7eb6db"/><path d="M1160.2 612.6L1158.5 612.6L1157.1 612.5L1156.5 610.4" stroke="#87bcdc"/><path d="M1156.5 610.4L1154.3 610.6L1153.5 608.7L1152.9 610" stroke="#90c2de"/><path d="M1152.9 610L1152.7 610.8L1151.4 610.8" stroke="#99c7e0"/></g><path d="M1172.7 603L1170.5 604.1L1170.7 605.4L1169 606.1L1167.5 606.6L1165.8 606.6L1164.2 606.7L1162.6 606.5L1160.2 606.7L1159.1 605.5L1159.6 604.1L1159.3 603L1159.9 602L1159.7 600.7L1161.1 600L1162.1 598.8L1164 598.3L1165.9 599L1167.8 598.9L1168 600.7L1169.5 601.1L1171 601.8Z" fill="#1c66b0" stroke="#1c66b0" stroke-width="2.2" stroke-linejoin="round"/><path d="M1191.4 597L1189.5 598.1L1191.1 600.4L1191 603L1188.4 603.3L1186 603L1184.2 601.8L1182.3 602.1L1180.4 601.6L1178.6 600.5L1179.4 598.4L1177.5 597L1176.3 594.8L1178.7 593.5L1181 593L1182.9 593.1L1184.1 591.5L1185.9 591.4L1188.6 590.2L1190 592.1L1190.2 594.1L1192.5 595.1Z" fill="#4a96d0" stroke="#4a96d0" stroke-width="2.2" stroke-linejoin="round"/><g fill="none" stroke-width="2.8" stroke-linecap="round" stroke-linejoin="round"><path d="M1150.8 620.5L1151.4 621.1L1153 623.6" stroke="#c9151c"/><path d="M1153 623.6L1154.3 624.2L1155.4 625.2" stroke="#cb181d"/><path d="M1155.4 625.2L1155.3 625.4L1154.7 626.4" stroke="#ce1a1e"/><path d="M1154.7 626.4L1156.8 628.2L1159.4 627.5" stroke="#d01c1f"/><path d="M1159.4 627.5L1161.5 627.2L1162.2 627.3" stroke="#d21f20"/><path d="M1162.2 627.3L1161.6 627.2L1163.5 626.6" stroke="#d42121"/><path d="M1163.5 626.6L1164.7 629.1L1166.1 629.1" stroke="#d72322"/><path d="M1166.1 629.1L1168.2 630.7L1167.7 630.1" stroke="#d92623"/><path d="M1167.7 630.1L1169.8 632.2L1169.1 634.1" stroke="#db2824"/><path d="M1169.1 634.1L1171 633.9L1174.1 634.7" stroke="#de2a25"/><path d="M1174.1 634.7L1174.1 634.7L1175.9 636.8" stroke="#e02d26"/><path d="M1175.9 636.8L1177.3 636.6L1177.4 639.3" stroke="#e22f27"/><path d="M1177.4 639.3L1176.8 640.1L1179.5 641.7" stroke="#e43128"/><path d="M1179.5 641.7L1179 642.4L1180.6 641.5" stroke="#e73429"/><path d="M1180.6 641.5L1181.9 644L1179.1 645.2" stroke="#e8352a"/><path d="M1179.1 645.2L1181.3 647.5L1181.3 647.5" stroke="#e8352a"/><path d="M1181.3 647.5L1181.5 648.8L1180.4 650.9" stroke="#e8352a"/><path d="M1180.4 650.9L1181.4 651.5L1181.4 654.5" stroke="#e8352a"/><path d="M1181.4 654.5L1180.1 653.5L1179.9 655.8" stroke="#e8352a"/><path d="M1179.9 655.8L1181.7 656.9L1181.4 659.8" stroke="#e8352a"/><path d="M1181.4 659.8L1183 660.6L1182.6 663.4" stroke="#e8352a"/><path d="M1182.6 663.4L1183.4 665L1183.6 665.6" stroke="#e8352a"/><path d="M1183.6 665.6L1182.5 667.7L1181.3 670.5" stroke="#e8352a"/></g><g fill="none" stroke-width="2.8" stroke-linecap="round" stroke-linejoin="round"><path d="M1149.9 639.6L1150.9 639.9L1152.1 642.6" stroke="#fc8d6e"/><path d="M1152.1 642.6L1151.2 644.6L1152.4 647.3" stroke="#fc8d6e"/><path d="M1152.4 647.3L1150.5 646.7L1154.5 647.2" stroke="#fc8d6e"/><path d="M1154.5 647.2L1154.3 646.5L1155.3 645.2" stroke="#fc8d6e"/><path d="M1155.3 645.2L1155 646.1L1155.9 648.5" stroke="#fc8d6e"/><path d="M1155.9 648.5L1157.8 648.7L1160.7 647.2" stroke="#fc8d6e"/><path d="M1160.7 647.2L1160.6 646.9L1163.6 645.9" stroke="#fc8d6e"/><path d="M1163.6 645.9L1164.5 644.9L1165.8 645.8" stroke="#fc8d6e"/><path d="M1165.8 645.8L1168 643.6L1168.2 644.5" stroke="#fc8d6e"/><path d="M1168.2 644.5L1169.9 644.3L1171 643.6" stroke="#fc8d6e"/><path d="M1171 643.6L1172.6 643.3L1171.6 641.8" stroke="#fc8d6e"/><path d="M1171.6 641.8L1172.7 641.3L1173.8 639.4" stroke="#fc8d6e"/><path d="M1173.8 639.4L1175.7 638.8L1177.9 639.7" stroke="#fc8d6e"/><path d="M1177.9 639.7L1180.5 639.1L1180.6 637.6" stroke="#fc8d6e"/><path d="M1180.6 637.6L1179.7 636.3L1181 634.8" stroke="#fc8d6e"/><path d="M1181 634.8L1181.5 631.4L1182.9 631.7" stroke="#fc8d6e"/><path d="M1182.9 631.7L1185.8 630.8L1186.9 631.4" stroke="#fc8d6e"/><path d="M1186.9 631.4L1189.8 630.5" stroke="#fc8d6e"/></g><path d="M1181.2 644L1182.5 646.1L1183.4 649.5L1181.3 650.1L1180.2 651.5L1178.7 651.3L1177.3 652.1L1176.2 650.3L1174.9 649.6L1174.2 647.9L1171.9 646.9L1171.3 644L1173.7 642L1175.2 641.1L1175.3 638.9L1175.8 636.3L1177.3 635.9L1178.7 635.9L1180.4 635.5L1181.2 638.1L1182.6 639.2L1182.5 641.9Z" fill="#e8352a" stroke="#e8352a" stroke-width="2.2" stroke-linejoin="round"/><path d="M1164.3 628L1163.6 628.8L1164.6 630.4L1164 631.7L1162.5 632.4L1160.7 631.9L1159.3 631.8L1158.1 631.4L1157.3 630.5L1156.5 629.8L1155 629.2L1153.8 628L1154.5 626.7L1155.6 625.7L1157.2 625.4L1158.1 624.6L1159.2 623.6L1160.7 624.2L1162.3 624L1163.9 624.4L1164.7 625.6L1164.5 626.9Z" fill="#c8141c" stroke="#c8141c" stroke-width="2.2" stroke-linejoin="round"/><path d="M1125.5 620L1125.1 621.7L1125.3 623.8L1123.7 625L1121.4 624.9L1120 626.3L1117.9 627.1L1115.6 626.9L1113.7 625.7L1114.3 622.8L1113.9 621.4L1111.8 620L1111.9 618.1L1112.7 616.2L1114.5 615.1L1115.4 612.6L1118 613.5L1119.8 615.1L1121.2 615.6L1123.6 615.1L1125.8 616L1127.7 617.6Z" fill="#8b0a1a" stroke="#8b0a1a" stroke-width="2.2" stroke-linejoin="round"/><path d="M1137.5 614.5L1137.3 616.2L1136.6 617.8L1135.9 619.5L1134.4 620.8L1132.4 620.6L1130.9 618.8L1129.5 618.9L1127.4 619.2L1125.7 618.2L1124.7 616.5L1125.4 614.5L1127 613.2L1127.5 612L1127.7 610.2L1129.3 609.8L1130.6 608.6L1132.5 607.3L1134.3 608.4L1135 610.5L1135.3 612L1137.3 612.8Z" fill="#8fd08a" stroke="#8fd08a" stroke-width="2.2" stroke-linejoin="round"/><path d="M1147.9 616L1147.1 617.8L1146 619L1145 620.1L1144.9 623.3L1143.1 624.7L1141 623.8L1139.5 622.3L1138.7 620.4L1137.9 619.1L1135.4 618.3L1136 616L1136.2 614L1136.3 611.7L1137.7 610.2L1140.1 611L1141.2 609.8L1142.7 610.6L1144.4 609.8L1146.9 609.4L1148 611.5L1146.9 614.3Z" fill="#0a5a24" stroke="#0a5a24" stroke-width="2.2" stroke-linejoin="round"/><path d="M1148.6 636L1146.5 638.5L1146.2 641.2L1144.4 643.1L1142.3 644.2L1140 643.8L1138 644L1134.5 647.1L1132.2 644.8L1132.4 640.7L1132.5 638.1L1132 636L1132.1 633.7L1132.8 631.5L1133.5 628.8L1135.7 627.9L1137.6 625.3L1140.1 627.7L1141.8 629.1L1142.9 630.9L1145.7 631.2L1146.7 633.4Z" fill="#1b7a3a" stroke="#1b7a3a" stroke-width="2.2" stroke-linejoin="round"/><path d="M1149.1 643L1149.4 644L1149.6 645.4L1147.9 645.6L1147.2 646.9L1145.8 647.5L1144.2 647.4L1142.6 647.1L1142.2 645.6L1141.7 644.7L1140.2 644.1L1138.9 643L1139.3 641.7L1141.2 641.1L1141.7 639.9L1143.3 640L1144.4 639.4L1145.6 639.7L1147 639.5L1148.7 639.6L1150 640.4L1149.9 641.8Z" fill="#8fd08a" stroke="#8fd08a" stroke-width="2.2" stroke-linejoin="round"/><path d="M1131.1 607L1131.4 607.8L1130.7 608.4L1129.8 608.7L1129 608.9L1128.3 608.7L1127.5 609.7L1126.4 609.9L1125.9 609L1125.4 608.4L1125 607.7L1125.1 607L1125.1 606.3L1125.7 605.8L1125.8 604.9L1126.6 604.4L1127.5 604.2L1128.4 604.8L1129 605.2L1129.9 605.2L1130.7 605.6L1131 606.3Z" fill="#0b4f9a" stroke="#0b4f9a" stroke-width="2.2" stroke-linejoin="round"/><g fill="none" stroke-width="2.8" stroke-linecap="round" stroke-linejoin="round"><path d="M1012.3 744.7L1014 743.5L1015.9 741.2L1015.2 740.8" stroke="#0c509b"/><path d="M1015.2 740.8L1013.9 739.3L1013.3 738.2L1012.2 736.6" stroke="#0e539d"/><path d="M1012.2 736.6L1015.6 736L1017.9 736.2L1018.5 735.8" stroke="#0f55a0"/><path d="M1018.5 735.8L1019.7 735.1L1021.1 733.8L1022.1 731.8" stroke="#1157a2"/><path d="M1022.1 731.8L1023.3 731L1024.4 732.4L1024.4 729.2" stroke="#135aa4"/><path d="M1024.4 729.2L1025.6 730.7L1026.3 729.4L1027.5 729.2" stroke="#155ca6"/><path d="M1027.5 729.2L1029.3 728.4L1032.3 728.8L1034.7 726.2" stroke="#165ea9"/><path d="M1034.7 726.2L1035 725.5L1037 724.5L1037.8 724.2" stroke="#1861ab"/><path d="M1037.8 724.2L1038.9 723.3L1040.3 722.2L1041.3 721.1" stroke="#1a63ad"/><path d="M1041.3 721.1L1041.5 718.8L1042.6 720.3L1043.2 718.6" stroke="#1c65af"/><path d="M1043.2 718.6L1044 720.2L1044.5 719.6L1044.6 717.2" stroke="#216bb3"/><path d="M1044.6 717.2L1047.1 715L1048.9 713.3L1047.8 711" stroke="#2772b8"/><path d="M1047.8 711L1048.3 709.6L1047.8 710L1049 711.3" stroke="#2d78bc"/><path d="M1049 711.3L1049 711.6L1049.1 712L1050.3 713.7" stroke="#347fc1"/><path d="M1050.3 713.7L1052.2 715.4L1053.3 716.9L1051.2 717.6" stroke="#3a85c5"/><path d="M1051.2 717.6L1051.4 719.2L1050 720L1050.3 721.1" stroke="#408cc9"/><path d="M1050.3 721.1L1048 721.9L1048.3 724L1047.5 726.2" stroke="#4792ce"/><path d="M1047.5 726.2L1046.4 726.8L1047.8 727L1046.1 728" stroke="#4f99d1"/><path d="M1046.1 728L1041.8 730L1043.3 730.2L1042.5 732.9" stroke="#5ba0d3"/><path d="M1042.5 732.9L1042.6 731.8L1041.1 734.1L1039.6 735.2" stroke="#66a8d6"/><path d="M1039.6 735.2L1037.4 733.7L1036.4 736.8L1036.2 737.6" stroke="#72afd8"/><path d="M1036.2 737.6L1034.9 738.5L1034.3 738L1033.5 737.8" stroke="#7db6da"/><path d="M1033.5 737.8L1031.1 737.2L1027.2 739.3L1027.3 740.5" stroke="#89bddd"/><path d="M1027.3 740.5L1026.3 740.9L1025.1 742.7L1024.6 743.2" stroke="#94c4df"/></g><path d="M1052 716L1051.6 718.6L1049.9 720.2L1048.7 721.7L1047.1 722.1L1046 725.1L1044 725.5L1042.5 723.2L1040.7 722.7L1039.2 721L1040 718L1041.1 716L1039.4 713.8L1038.9 710.8L1040.6 709.2L1042.1 707.6L1044.1 707.7L1045.7 709.2L1047.2 709.7L1048.5 710.7L1049.5 712.1L1050.9 713.7Z" fill="#4a96d0" stroke="#4a96d0" stroke-width="2.2" stroke-linejoin="round"/><path d="M1018.9 743L1019.7 746L1017.7 747.9L1015.8 748.8L1014.4 750.1L1012.8 750.8L1011.3 749.4L1009.6 750.1L1007.8 749.5L1005.9 748.2L1005.3 745.6L1007.2 743L1007.7 741.3L1007.5 739.1L1007.3 735.7L1009.3 735.1L1011.1 734.6L1013 733.9L1014.5 735.6L1015.3 737.9L1016.8 738.9L1016.8 741.1Z" fill="#1c66b0" stroke="#1c66b0" stroke-width="2.2" stroke-linejoin="round"/><g fill="none" stroke-width="2.8" stroke-linecap="round" stroke-linejoin="round"><path d="M1035.1 761.2L1036.4 761.6L1037.2 763.9" stroke="#c9151d"/><path d="M1037.2 763.9L1039.2 763.3L1039.8 762.6" stroke="#cc181e"/><path d="M1039.8 762.6L1039.3 763.5L1042.1 765.4" stroke="#cf1b1f"/><path d="M1042.1 765.4L1043.5 764.5L1044.8 763.8" stroke="#d11e20"/><path d="M1044.8 763.8L1046.4 765L1046.4 765.9" stroke="#d42021"/><path d="M1046.4 765.9L1048.1 766.5L1049 766.9" stroke="#d72322"/><path d="M1049 766.9L1050.4 769.7L1051.9 769.6" stroke="#d92624"/><path d="M1051.9 769.6L1051.6 770.4L1053.1 770.3" stroke="#dc2925"/><path d="M1053.1 770.3L1053.9 771.9L1057.7 773" stroke="#df2b26"/><path d="M1057.7 773L1060.4 772.9L1061.6 772.7" stroke="#e12e27"/><path d="M1061.6 772.7L1062.2 773.1L1065.6 777.7" stroke="#e43128"/><path d="M1065.6 777.7L1064.9 776.6L1065.8 777.1" stroke="#e73429"/><path d="M1065.8 777.1L1068 777.8L1068 778.6" stroke="#e8352a"/><path d="M1068 778.6L1068.6 778.6L1069.1 779.8" stroke="#e8352a"/><path d="M1069.1 779.8L1069.7 779.4L1071.2 781.4" stroke="#e8352a"/><path d="M1071.2 781.4L1071.7 784.8L1074.2 785.3" stroke="#e8352a"/><path d="M1074.2 785.3L1073.6 786.4L1073.2 785.5" stroke="#e8352a"/><path d="M1073.2 785.5L1072.9 787.4L1072.4 789.1" stroke="#e8352a"/><path d="M1072.4 789.1L1075.3 789.6L1076.1 791.1" stroke="#e8352a"/><path d="M1076.1 791.1L1076.2 792.7" stroke="#e8352a"/></g><path d="M1074.9 782L1074.1 783.4L1075.4 786L1074.4 787.9L1072.9 789.3L1070.9 789.2L1069.2 788.1L1067.6 788.1L1066.2 787.1L1066.6 784.6L1063.9 784.1L1063.2 782L1063.6 779.8L1065.4 778.5L1066.1 776.7L1067.7 776.2L1069.3 775.9L1070.9 774.9L1072.3 776.1L1074.5 776L1075.7 777.7L1076.3 779.8Z" fill="#e8352a" stroke="#e8352a" stroke-width="2.2" stroke-linejoin="round"/><path d="M1043.7 762L1042.2 763.7L1041.8 765.4L1040.5 766L1040.1 768.5L1038.8 769.8L1037.2 769.7L1036 768.1L1034.7 767.4L1033.8 765.8L1033.8 763.7L1033.6 762L1032.3 759.7L1033.4 757.9L1034.5 756.4L1036 755.7L1037.4 755.9L1038.6 756.4L1040.2 755.2L1041 757.1L1042.4 758L1044 759.5Z" fill="#c8141c" stroke="#c8141c" stroke-width="2.2" stroke-linejoin="round"/><path d="M1059.7 770L1061.2 771.8L1059.8 773.1L1057.4 772.8L1056.7 773.7L1055.8 775.3L1054.2 775.3L1052.4 775.6L1051.7 773.8L1051.5 772.2L1049.9 771.5L1049.8 770L1051.6 769L1050.8 767.3L1050.9 765.2L1052.4 764.4L1054.2 764.3L1055.6 765.8L1056.6 766.5L1058.3 766.2L1059.2 767.3L1060.2 768.5Z" fill="#c8141c" stroke="#c8141c" stroke-width="2.2" stroke-linejoin="round"/><path d="M999.8 757L999.4 759L999.2 761.1L998.9 763.7L997.6 764L996.5 763.4L995.6 762.7L994.7 762.7L993.3 763.3L992.3 761.7L992.3 759.2L992.3 757L992.2 754.8L993.5 753.8L994.1 752.7L994.4 750.1L995.5 749.9L996.6 748.8L997.5 750.2L998.1 752.2L998.1 754.3L999.1 755.2Z" fill="#9ecae1" stroke="#9ecae1" stroke-width="2.2" stroke-linejoin="round"/><path d="M1010.4 749L1010.4 750.3L1010.1 751.7L1008.7 752.5L1006.8 752.3L1005.5 752L1004.2 753.6L1002.3 753.8L1001.4 752.4L1000.9 751.1L1000 750.2L999.7 749L1000.1 747.8L1000.2 746.5L1001.7 745.8L1002.2 743.9L1004.1 743.9L1005.8 744.5L1006.7 746L1008.3 745.9L1009.8 746.5L1010.1 747.8Z" fill="#fc8d6e" stroke="#fc8d6e" stroke-width="2.2" stroke-linejoin="round"/><path d="M1012.3 757L1010.3 758.3L1009.5 759.4L1008 759.9L1007 760.7L1005.9 762L1004.1 762.4L1002.6 761.4L1000.1 761.7L1000.1 759.6L1000.7 758L1000.1 757L998.9 755.5L998.8 753.7L1000.2 752.3L1002.1 751.6L1004.1 752.1L1005.7 752.9L1007.6 752.2L1008 754.2L1010 754.3L1012.4 755.2Z" fill="#8fd08a" stroke="#8fd08a" stroke-width="2.2" stroke-linejoin="round"/><path d="M1026.1 755L1025.3 756L1025.4 757.3L1025.2 758.9L1023.4 759.3L1021.6 758.4L1020.4 758.1L1019 758.4L1018 757.8L1016.4 757.4L1016 756.2L1015.8 755L1015.2 753.6L1017 752.9L1018.5 752.7L1019.1 751.7L1020.2 750.6L1021.9 750.1L1023.2 751.1L1024.6 751.7L1024.8 753L1024.8 754.1Z" fill="#8b0a1a" stroke="#8b0a1a" stroke-width="2.2" stroke-linejoin="round"/><path d="M1013.2 760L1013.7 761.3L1012.6 762.4L1011.2 762.9L1009.7 763.1L1008.7 763.8L1007.3 763.9L1006.1 763.4L1004.6 763.2L1002.9 762.6L1001.8 761.5L1002.7 760L1004.2 759.1L1004.7 758.3L1004.6 756.8L1005.8 756.2L1007.1 755.2L1008.8 755.7L1010 756.4L1011.3 757L1012.1 757.9L1011.9 759.1Z" fill="#0a5a24" stroke="#0a5a24" stroke-width="2.2" stroke-linejoin="round"/><path d="M1033 766L1033.6 767.8L1034 770L1029.9 770L1029.1 772.3L1026.6 773.7L1023.2 774.8L1020.5 772.9L1018.7 771.1L1017.7 769.3L1016.7 767.7L1014 766L1014.2 763.8L1016.4 762.1L1016.9 759.4L1020.3 758.8L1023.5 758.9L1026.3 759.8L1028 761.4L1031.9 760.5L1034.7 761.6L1035.3 763.9Z" fill="#1b7a3a" stroke="#1b7a3a" stroke-width="2.2" stroke-linejoin="round"/><path d="M1036 761L1035.9 762.4L1035.5 763.9L1034 764.5L1033 765.4L1031.6 764.9L1030.4 765L1028.4 766.7L1027.3 765.3L1026.9 763.6L1025.8 762.5L1025.9 761L1026.5 759.7L1026.8 758.3L1028 757.5L1029.1 756.8L1030.1 754.4L1031.9 754.5L1033 756.6L1033.2 758.4L1034.6 758.7L1035.9 759.6Z" fill="#3a9a50" stroke="#3a9a50" stroke-width="2.2" stroke-linejoin="round"/><path d="M1019.3 763L1019.5 763.8L1019.3 764.6L1018.9 765.5L1018 766.3L1016.6 766.1L1015.6 765.3L1014.7 765.2L1013.5 765.2L1012.6 764.6L1012.3 763.8L1011.4 763L1011.7 762.1L1012.6 761.4L1013.8 761.1L1014.7 760.8L1015.5 760.5L1016.7 759.6L1017.7 760.2L1018.8 760.6L1019.4 761.4L1019.8 762.2Z" fill="#8fd08a" stroke="#8fd08a" stroke-width="2.2" stroke-linejoin="round"/><path d="M1020.6 768L1020.6 768.5L1020.8 769.2L1020.2 769.7L1019.3 769.8L1018.4 770L1017.6 770L1016.8 769.8L1016.6 769.1L1016 768.9L1014.6 768.7L1014.6 768L1014.4 767.3L1015.5 766.9L1016.3 766.7L1016.8 766.3L1017.5 765.9L1018.4 766.2L1019.3 766.1L1020.5 766L1021.1 766.7L1020.8 767.4Z" fill="#fc8d6e" stroke="#fc8d6e" stroke-width="2.2" stroke-linejoin="round"/><g fill="none" stroke-width="2.8" stroke-linecap="round" stroke-linejoin="round"><path d="M1144.2 737.4L1147.1 738.4L1148.3 738.1" stroke="#9ecae1"/><path d="M1148.3 738.1L1148.8 737.5L1150.3 737.7" stroke="#9ecae1"/><path d="M1150.3 737.7L1152.9 736.2L1152 733.6" stroke="#9ecae1"/><path d="M1152 733.6L1151.6 731.7L1152.7 731.5" stroke="#9ecae1"/><path d="M1152.7 731.5L1155.7 732.3L1156.8 729.7" stroke="#9ecae1"/><path d="M1156.8 729.7L1158.4 730.3L1160.4 729.9" stroke="#9ecae1"/><path d="M1160.4 729.9L1160.1 728.2L1159.6 726" stroke="#9ecae1"/><path d="M1159.6 726L1161.5 726.2L1162.3 725.7" stroke="#9ecae1"/><path d="M1162.3 725.7L1163.8 723.3L1163.5 722.4" stroke="#9ecae1"/><path d="M1163.5 722.4L1165 722.6L1164.3 718.6" stroke="#9ecae1"/><path d="M1164.3 718.6L1164.2 718.2L1164.2 715.5" stroke="#9ecae1"/><path d="M1164.2 715.5L1165.7 715.2L1166.7 714.2" stroke="#9ecae1"/><path d="M1166.7 714.2L1168.1 715.6L1168.1 713.8" stroke="#9ecae1"/><path d="M1168.1 713.8L1169.1 712.3L1168.4 712.7" stroke="#9ecae1"/><path d="M1168.4 712.7L1170.7 712.1L1172.4 709.3" stroke="#9ecae1"/><path d="M1172.4 709.3L1176 711.1L1177.6 711.1" stroke="#9ecae1"/><path d="M1177.6 711.1L1178.4 710.7L1180 709.5" stroke="#9ecae1"/><path d="M1180 709.5L1182.1 710.9L1184.2 711.9" stroke="#9ecae1"/><path d="M1184.2 711.9L1183.4 713.5L1182.7 713" stroke="#9ecae1"/><path d="M1182.7 713L1185.4 714.8L1184.9 716.9" stroke="#9ecae1"/><path d="M1184.9 716.9L1185.3 717.3L1186.7 719.9" stroke="#9ecae1"/><path d="M1186.7 719.9L1185.4 721.4" stroke="#9ecae1"/></g><g fill="none" stroke-width="2.8" stroke-linecap="round" stroke-linejoin="round"><path d="M1143.4 745.6L1144.6 747.2L1146.6 746.8" stroke="#1c66b0"/><path d="M1146.6 746.8L1146.9 748.7L1146.7 749.5" stroke="#1c66b0"/><path d="M1146.7 749.5L1149 750.3L1149.6 749.6" stroke="#1c66b0"/><path d="M1149.6 749.6L1150.8 747.5L1150.8 747" stroke="#1c66b0"/><path d="M1150.8 747L1152.6 745.9L1154 745.5" stroke="#1c66b0"/><path d="M1154 745.5L1155.3 743.3L1154.9 742" stroke="#1c66b0"/><path d="M1154.9 742L1155.7 739.7L1156.4 740.2" stroke="#1c66b0"/><path d="M1156.4 740.2L1159.1 738.8L1159.4 737.8" stroke="#1c66b0"/><path d="M1159.4 737.8L1161.3 739.2L1161.1 737.9" stroke="#1c66b0"/><path d="M1161.1 737.9L1161.8 736.3L1161.7 736.2" stroke="#1c66b0"/><path d="M1161.7 736.2L1162.3 735.1L1164 732.8" stroke="#1c66b0"/><path d="M1164 732.8L1165.9 733.1L1168.1 732.8" stroke="#1c66b0"/><path d="M1168.1 732.8L1167.8 732.3L1170 733.2" stroke="#1e68b1"/><path d="M1170 733.2L1173 733.8L1172.5 730.7" stroke="#226cb4"/><path d="M1172.5 730.7L1174.2 730.1L1177.6 728.2" stroke="#2670b7"/><path d="M1177.6 728.2L1179.3 727.7L1180 727.8" stroke="#2974b9"/><path d="M1180 727.8L1180.5 728.9L1182.9 728.7" stroke="#2d78bc"/><path d="M1182.9 728.7L1183.5 729.4L1185.3 728.4" stroke="#317cbf"/><path d="M1185.3 728.4L1185.8 731.2L1186.2 730.7" stroke="#3580c1"/><path d="M1186.2 730.7L1187.3 730.8L1188.2 730.6" stroke="#3984c4"/><path d="M1188.2 730.6L1188.8 734.2L1190.7 734.7" stroke="#3d88c7"/><path d="M1190.7 734.7L1190.5 736.9L1191.1 736.2" stroke="#408cc9"/><path d="M1191.1 736.2L1189.7 739L1190 739.5" stroke="#4490cc"/><path d="M1190 739.5L1191.4 739.7" stroke="#4894cf"/></g><path d="M1193.6 733L1192.9 734.8L1193.1 737.2L1191.9 738.4L1191.4 741.3L1189.7 740.8L1188.2 742L1186.6 741.4L1186.1 738.4L1185.5 736.6L1185 734.9L1184.2 733L1183.8 730.5L1184.2 728L1185.6 726.8L1186.8 725.2L1188.2 724.4L1189.6 726.8L1190.6 727.5L1192.4 726.8L1194.6 727.3L1194.5 730.4Z" fill="#4a96d0" stroke="#4a96d0" stroke-width="2.2" stroke-linejoin="round"/><g fill="none" stroke-width="2.8" stroke-linecap="round" stroke-linejoin="round"><path d="M1145.4 760.1L1147.7 760.7L1146.9 760.2" stroke="#c9151c"/><path d="M1146.9 760.2L1148.3 760.4L1148.9 759.7" stroke="#ca161d"/><path d="M1148.9 759.7L1150.8 757.5L1153.6 758.3" stroke="#cb171d"/><path d="M1153.6 758.3L1155.4 759.9L1154.6 761.1" stroke="#cc181e"/><path d="M1154.6 761.1L1155 762L1156.9 762.8" stroke="#cd191e"/><path d="M1156.9 762.8L1157.1 765.3L1158.4 766.8" stroke="#ce1a1f"/><path d="M1158.4 766.8L1158.6 767.6L1158.2 769.6" stroke="#cf1c1f"/><path d="M1158.2 769.6L1157.9 769.5L1158.7 770.1" stroke="#d11d20"/><path d="M1158.7 770.1L1161.6 767.5L1164.1 767.3" stroke="#d21e20"/><path d="M1164.1 767.3L1165.9 767.3L1166.2 766.6" stroke="#d31f21"/><path d="M1166.2 766.6L1167.6 764.1L1167.7 764.8" stroke="#d42021"/><path d="M1167.7 764.8L1169.5 765.3L1172.7 764.8" stroke="#d52222"/><path d="M1172.7 764.8L1172.8 765.5L1173.2 767.6" stroke="#d62322"/><path d="M1173.2 767.6L1174.2 766.9L1175.2 768.5" stroke="#d72423"/><path d="M1175.2 768.5L1176 767L1176.8 770.6" stroke="#d92523"/><path d="M1176.8 770.6L1177.4 772.4L1176.3 773.4" stroke="#da2624"/><path d="M1176.3 773.4L1176.4 773.7L1177.2 774.9" stroke="#db2724"/><path d="M1177.2 774.9L1179.1 776.2L1179.6 777.2" stroke="#dc2925"/><path d="M1179.6 777.2L1179.3 777L1180 776.7" stroke="#dd2a25"/><path d="M1180 776.7L1178.7 779.9L1177.4 781.7" stroke="#de2b26"/><path d="M1177.4 781.7L1174.9 783.9L1174.1 787.1" stroke="#df2c26"/><path d="M1174.1 787.1L1173.3 787.9L1174.7 789.2" stroke="#e12d27"/><path d="M1174.7 789.2L1177.1 789L1178.1 790.1" stroke="#e22f27"/><path d="M1178.1 790.1L1181.1 789L1179.4 788.6" stroke="#e33028"/><path d="M1179.4 788.6L1181.6 791L1184 790.4" stroke="#e43128"/><path d="M1184 790.4L1184 788.4L1186.9 791.5" stroke="#e53229"/><path d="M1186.9 791.5L1189.1 791.8L1190.8 791.9" stroke="#e63329"/><path d="M1190.8 791.9L1192.8 793.6" stroke="#e7342a"/></g><g fill="none" stroke-width="2.8" stroke-linecap="round" stroke-linejoin="round"><path d="M1172.9 766.8L1171.7 763.7L1173.2 763.4" stroke="#fc8d6e"/><path d="M1173.2 763.4L1173 762.4L1172.5 764.1" stroke="#fc8d6e"/><path d="M1172.5 764.1L1174 762.6L1175.4 761.1" stroke="#fc8d6e"/><path d="M1175.4 761.1L1174.2 758.7L1175.5 758.1" stroke="#fc8d6e"/><path d="M1175.5 758.1L1175.1 757.2L1175.6 756.3" stroke="#fc8d6e"/><path d="M1175.6 756.3L1175.2 755.8L1176 753.2" stroke="#fc8d6e"/><path d="M1176 753.2L1177.5 751.9L1177.3 750.5" stroke="#fc8d6e"/><path d="M1177.3 750.5L1176.6 749.4L1176.3 747.6" stroke="#fc8d6e"/><path d="M1176.3 747.6L1176.8 745.5L1177.8 743.1" stroke="#fc8d6e"/><path d="M1177.8 743.1L1178.3 743L1178.2 742.1" stroke="#fc8d6e"/></g><path d="M1193.7 785L1193.3 786.8L1193.1 788.9L1193 791.7L1190.7 792L1188.9 792.6L1187.2 791.1L1186.2 789.7L1184.3 790L1182.9 788.8L1181.8 787.1L1181.4 785L1181.5 782.8L1183.6 781.7L1184.6 780.4L1185.9 779.6L1187.1 777.8L1189 776.9L1190.8 777.7L1192.1 779.5L1193.1 781.1L1194.1 782.9Z" fill="#e8352a" stroke="#e8352a" stroke-width="2.2" stroke-linejoin="round"/><path d="M1162.3 762L1162.1 763.2L1161.3 764.3L1159.8 764.9L1158.3 765.3L1156.7 765.2L1155.2 765.6L1153.9 765.1L1152.5 764.7L1149.6 764.7L1149.1 763.3L1151.4 762L1151.6 761.1L1150.9 759.8L1152 758.9L1153.5 758.4L1155 757.5L1157 757.4L1158.8 757.9L1159.6 759.2L1160.1 760.2L1160.4 761.1Z" fill="#c8141c" stroke="#c8141c" stroke-width="2.2" stroke-linejoin="round"/><path d="M1139.7 743L1137.2 744.3L1138.6 746.3L1137.3 748.1L1135.4 750.1L1131.5 749.1L1128.6 748.7L1125.9 748.4L1124.7 746.7L1122.6 745.9L1120.6 744.7L1117.6 743L1118.9 741.1L1121.6 739.8L1125.5 739.9L1127.2 739.3L1128.5 736.8L1131.4 737.1L1134.5 737.1L1137.4 737.9L1139.5 739.3L1139.2 741.4Z" fill="#fc8d6e" stroke="#fc8d6e" stroke-width="2.2" stroke-linejoin="round"/><path d="M1132.5 744L1132.9 745.9L1131 746.8L1130.2 748.1L1128.7 748.2L1127.5 747.8L1126.3 749.4L1124.6 749.9L1123.1 749L1122.6 747.1L1122.4 745.5L1122.4 744L1123.3 742.8L1122.6 740.9L1123.8 739.9L1124.5 738L1126 736.7L1127.7 738.4L1128.6 740.1L1129.7 740.5L1131.4 740.9L1132.3 742.3Z" fill="#8fd08a" stroke="#8fd08a" stroke-width="2.2" stroke-linejoin="round"/><path d="M1127.4 751L1127.5 752.6L1126 753.8L1123.2 753.7L1122.8 755.3L1121 755.8L1118.9 756.4L1116.8 756L1115.1 755.1L1115.1 753.2L1113.2 752.4L1114 751L1115 750L1114.2 748.3L1114.6 746.6L1116.4 745.3L1119.1 746.5L1120.9 746.4L1122.5 747.1L1124.9 747L1126.4 748.1L1127.4 749.4Z" fill="#8b0a1a" stroke="#8b0a1a" stroke-width="2.2" stroke-linejoin="round"/><path d="M1139.8 753L1139.6 754.1L1140.4 755.8L1139.1 756.8L1136.7 756L1135.5 755.9L1134.2 757.2L1132.9 756.6L1131.1 756.6L1130.4 755.3L1130.1 754.1L1129.9 753L1129.9 751.8L1132.2 751.6L1132.1 750.3L1132.3 748.3L1134.2 748.7L1135.7 749.3L1137 749.5L1138.4 749.9L1138.5 751.2L1139.5 751.9Z" fill="#c8141c" stroke="#c8141c" stroke-width="2.2" stroke-linejoin="round"/><path d="M1139.1 759L1138.8 761L1138.1 762.5L1137.3 763.7L1136.4 764.5L1135.6 766.2L1134.3 767.2L1133.3 765.4L1132.9 763.3L1131.7 762.7L1131.7 760.7L1131.5 759L1131.3 757.1L1131.7 755.3L1132.3 753.5L1133.2 752.1L1134.5 752.7L1135.4 754L1136.4 753.5L1138.2 752.5L1138.5 755L1139.2 756.8Z" fill="#0a5a24" stroke="#0a5a24" stroke-width="2.2" stroke-linejoin="round"/><path d="M1131.5 776L1132.7 779.3L1132.2 782.5L1131.1 784.6L1130.5 789.1L1128.9 790.7L1127.4 786.5L1126.3 784.8L1125.1 784.1L1124.6 781.2L1122.9 779.6L1122.2 776L1123.5 772.8L1123.9 769.7L1125 767.6L1126.3 767.3L1127.3 765L1128.8 762.8L1130.4 763.3L1131.9 765.2L1132.2 769.5L1132.3 773Z" fill="#8fd08a" stroke="#8fd08a" stroke-width="2.2" stroke-linejoin="round"/><path d="M1145.5 779L1144.1 781.3L1143.9 783.9L1142.3 785.4L1140.3 785.6L1138.9 787.1L1136.8 789.3L1134.8 788.1L1133.9 785.1L1133.6 782.6L1131.6 781.4L1130.9 779L1131.5 776.5L1132 774L1132.6 771L1135 770.6L1137.1 770.5L1138.8 772.1L1140.2 772.7L1142.6 772.1L1144.2 773.8L1145.1 776.3Z" fill="#3a9a50" stroke="#3a9a50" stroke-width="2.2" stroke-linejoin="round"/><text x="0.60" y="850.50" style="font-size:19.0px;font-weight:bold" fill="#000" stroke="#000" stroke-width="0.6">m</text><text x="46.90" y="858.75" style="font-size:11.58px;" fill="#231f20" >Recording strategy</text><text x="25.30" y="886.90" style="font-size:11.70px;" fill="#231f20" >Consumption</text><path d="M38.20 943.00 C29.20 945.00 14.20 940.00 6.20 943.00 C0.20 946.00 2.20 952.00 10.20 954.00 C16.20 955.00 20.20 957.00 22.20 959.00 " fill="none" stroke="#231f20" stroke-width="3.0" stroke-linecap="round"/><path d="M38.20 943.00 C29.20 945.00 14.20 940.00 6.20 943.00 C0.20 946.00 2.20 952.00 10.20 954.00 C16.20 955.00 20.20 957.00 22.20 959.00 " fill="none" stroke="#f2b6ad" stroke-width="1.8" stroke-linecap="round"/><path d="M37.10 944.40 C36.20 935.00 40.20 923.00 48.20 917.00 C56.20 911.00 72.20 908.00 86.20 915.70 L107.50 923.20 C111.20 927.00 115.20 931.00 118.80 935.70 C116.20 938.00 111.20 938.50 106.20 938.50 C100.20 939.00 93.20 941.00 91.20 944.50 C93.20 948.00 96.20 949.50 100.20 950.70 C96.20 952.00 91.20 951.50 88.20 950.00 C84.20 949.00 79.20 948.50 74.20 946.00 C71.20 948.00 69.20 949.50 66.70 949.50 C62.20 950.00 57.20 949.50 54.20 948.50 C47.20 947.50 41.20 946.50 37.10 944.40 Z " fill="#f1f1f1" stroke="#231f20" stroke-width="0.8" /><path d="M63.20 936.00 C61.20 940.00 60.20 944.00 58.20 948.00 " fill="none" stroke="#231f20" stroke-width="0.5" /><path d="M89.20 930.00 C90.20 934.00 92.20 936.00 95.20 938.00 " fill="none" stroke="#231f20" stroke-width="0.5" stroke-dasharray="1 0.8"/><ellipse cx="64.20" cy="949.50" rx="3.20" ry="1.30" fill="#f0b0a8" stroke="#231f20" stroke-width="0.6"/><ellipse cx="96.20" cy="950.50" rx="3.20" ry="1.30" fill="#f0b0a8" stroke="#231f20" stroke-width="0.6"/><ellipse cx="89.60" cy="919.00" rx="3.30" ry="6.30" fill="#f5b7b1" stroke="#8a6a66" stroke-width="0.5" transform="rotate(-12 89.60 919.00)"/><circle cx="105" cy="928.6" r="2.3" fill="#231f20" /><circle cx="104.4" cy="928" r="0.6" fill="#fff" /><circle cx="108.7" cy="934.5" r="0.9" fill="#555" /><g transform="translate(112.70,902.00) rotate(28) scale(1.0)"></g><g transform="translate(112.70,902.00) rotate(28) scale(1.0)"><rect x="-2.6" y="-25" width="5.2" height="5" fill="#b8822e" stroke="#231f20" stroke-width="0.5"/><rect x="-3.8" y="-20.5" width="7.6" height="13" rx="1.5" fill="#3f6b46" stroke="#231f20" stroke-width="0.6"/><circle cx="-1" cy="-15" r="0.4" fill="#9c9"/><circle cx="1.5" cy="-11" r="0.4" fill="#9c9"/><rect x="-5.5" y="-8.5" width="11" height="3" fill="#111"/><path d="M-9 -5.5 L9 -5.5 L5.5 15 L-5.5 15 Z" fill="#6e6e6e" stroke="#231f20" stroke-width="0.8"/><path d="M-5 -5.5 L3.5 -5.5 L1.8 15 L-3 15 Z" fill="#a0a0a0"/><path d="M-9 -5.5 L9 -5.5 L8.5 -2.8 L-8.5 -2.8 Z" fill="#555"/><rect x="-5.5" y="15" width="11" height="6.5" fill="#4a4a4a" stroke="#231f20" stroke-width="0.7"/><rect x="-9.5" y="6" width="3.6" height="9" fill="#cfe3ee" stroke="#231f20" stroke-width="0.6"/><rect x="-9" y="15" width="3.4" height="5.5" fill="#e8e8e8" stroke="#231f20" stroke-width="0.6"/></g><path d="M139.60 934.20 L138.60 943.10 A11.90 2.80 0 0 0 162.40 943.10 L161.40 934.20 Z" fill="#d4d4d4" stroke="#231f20" stroke-width="0.9" /><rect x="147.8" y="935.2" width="5.5" height="8.4" fill="#e9e9e9" /><ellipse cx="150.50" cy="934.20" rx="10.90" ry="2.40" fill="#22a7dd" stroke="#231f20" stroke-width="0.9"/><path d="M124.30 940.30 L123.30 949.00 A11.50 2.80 0 0 0 146.30 949.00 L145.30 940.30 Z" fill="#d4d4d4" stroke="#231f20" stroke-width="0.9" /><rect x="132.2" y="941.3" width="5.2" height="8.2" fill="#e9e9e9" /><ellipse cx="134.80" cy="940.30" rx="10.50" ry="2.40" fill="#9a5ff0" stroke="#231f20" stroke-width="0.9"/><text x="120.70" y="911.50" style="font-size:11.27px;" fill="#231f20" >Novel</text><line x1="128.9" y1="914.5" x2="128.9" y2="934.9" stroke="#231f20" stroke-width="1" /><text x="140.10" y="923.20" style="font-size:11.06px;" fill="#231f20" >Water</text><line x1="150" y1="924.8" x2="150" y2="929.2" stroke="#231f20" stroke-width="1" /><line x1="95.6" y1="967.7" x2="95.6" y2="986" stroke="#231f20" stroke-width="1.1" /><path d="M95.6 990 l-2.6 -5.5 h5.2Z" fill="#231f20" stroke="none" stroke-width="1" /><text x="101.90" y="980.60" style="font-size:11.60px;" fill="#231f20" >30-min delay</text><text x="34.70" y="1015.80" style="font-size:11.24px;" fill="#231f20" >LiCl i.p.</text><path d="M31.6 1031 L147.6 1031 L124.2 1087.2 L3.5 1087.2 Z" fill="#fff" stroke="#231f20" stroke-width="1.3" /><path d="M49.20 1071.90 C40.20 1073.90 25.20 1068.90 17.20 1071.90 C11.20 1074.90 13.20 1080.90 21.20 1082.90 C27.20 1083.90 31.20 1085.90 33.20 1087.90 " fill="none" stroke="#231f20" stroke-width="3.0" stroke-linecap="round"/><path d="M49.20 1071.90 C40.20 1073.90 25.20 1068.90 17.20 1071.90 C11.20 1074.90 13.20 1080.90 21.20 1082.90 C27.20 1083.90 31.20 1085.90 33.20 1087.90 " fill="none" stroke="#f2b6ad" stroke-width="1.8" stroke-linecap="round"/><path d="M48.10 1073.30 C47.20 1063.90 51.20 1051.90 59.20 1045.90 C67.20 1039.90 83.20 1036.90 97.20 1044.60 L118.50 1052.10 C122.20 1055.90 126.20 1059.90 129.80 1064.60 C127.20 1066.90 122.20 1067.40 117.20 1067.40 C111.20 1067.90 104.20 1069.90 102.20 1073.40 C104.20 1076.90 107.20 1078.40 111.20 1079.60 C107.20 1080.90 102.20 1080.40 99.20 1078.90 C95.20 1077.90 90.20 1077.40 85.20 1074.90 C82.20 1076.90 80.20 1078.40 77.70 1078.40 C73.20 1078.90 68.20 1078.40 65.20 1077.40 C58.20 1076.40 52.20 1075.40 48.10 1073.30 Z " fill="#f1f1f1" stroke="#231f20" stroke-width="0.8" /><path d="M74.20 1064.90 C72.20 1068.90 71.20 1072.90 69.20 1076.90 " fill="none" stroke="#231f20" stroke-width="0.5" /><path d="M100.20 1058.90 C101.20 1062.90 103.20 1064.90 106.20 1066.90 " fill="none" stroke="#231f20" stroke-width="0.5" stroke-dasharray="1 0.8"/><ellipse cx="75.20" cy="1078.40" rx="3.20" ry="1.30" fill="#f0b0a8" stroke="#231f20" stroke-width="0.6"/><ellipse cx="107.20" cy="1079.40" rx="3.20" ry="1.30" fill="#f0b0a8" stroke="#231f20" stroke-width="0.6"/><ellipse cx="100.60" cy="1047.90" rx="3.30" ry="6.30" fill="#f5b7b1" stroke="#8a6a66" stroke-width="0.5" transform="rotate(-12 100.60 1047.90)"/><circle cx="116" cy="1057.5" r="2.3" fill="#231f20" /><circle cx="115.4" cy="1056.9" r="0.6" fill="#fff" /><circle cx="119.7" cy="1063.4" r="0.9" fill="#555" /><g transform="translate(123.70,1030.90) rotate(28) scale(1.0)"></g><g transform="translate(123.70,1030.90) rotate(28) scale(1.0)"><rect x="-2.6" y="-25" width="5.2" height="5" fill="#b8822e" stroke="#231f20" stroke-width="0.5"/><rect x="-3.8" y="-20.5" width="7.6" height="13" rx="1.5" fill="#3f6b46" stroke="#231f20" stroke-width="0.6"/><circle cx="-1" cy="-15" r="0.4" fill="#9c9"/><circle cx="1.5" cy="-11" r="0.4" fill="#9c9"/><rect x="-5.5" y="-8.5" width="11" height="3" fill="#111"/><path d="M-9 -5.5 L9 -5.5 L5.5 15 L-5.5 15 Z" fill="#6e6e6e" stroke="#231f20" stroke-width="0.8"/><path d="M-5 -5.5 L3.5 -5.5 L1.8 15 L-3 15 Z" fill="#a0a0a0"/><path d="M-9 -5.5 L9 -5.5 L8.5 -2.8 L-8.5 -2.8 Z" fill="#555"/><rect x="-5.5" y="15" width="11" height="6.5" fill="#4a4a4a" stroke="#231f20" stroke-width="0.7"/><rect x="-9.5" y="6" width="3.6" height="9" fill="#cfe3ee" stroke="#231f20" stroke-width="0.6"/><rect x="-9" y="15" width="3.4" height="5.5" fill="#e8e8e8" stroke="#231f20" stroke-width="0.6"/></g><circle cx="84.4" cy="1064" r="10" fill="url(#glow)" /><path d="M84.4 1069.5 C78 1065, 78 1059, 81.5 1058.5 C83 1058.3, 84 1059.5, 84.4 1060.5 C85 1059.5, 86 1058.3, 87.5 1058.5 C91 1059, 91 1065, 84.4 1069.5Z" fill="#e8161a" stroke="#a00" stroke-width="0.6" /><path d="M75 1058 C78 1056, 81 1056, 83 1057.5" fill="none" stroke="#231f20" stroke-width="1.2" /><path d="M86 1057.5 C88 1056, 91 1056, 94 1058" fill="none" stroke="#231f20" stroke-width="1.2" /><path d="M54.4 1019.3 C54 1040, 60 1056, 68 1060.5" fill="none" stroke="#231f20" stroke-width="1.1" /><path d="M72.7 1061.5 l-5.8 0.8 l2.2 -5Z" fill="#231f20" stroke="none" stroke-width="1" /><text x="131.70" y="1074.40" style="font-size:11.27px;" fill="#231f20" >Second</text><text x="131.70" y="1088.00" style="font-size:11.63px;" fill="#231f20" >context</text><text x="197.70" y="849.90" style="font-size:19.0px;font-weight:bold" fill="#000" stroke="#000" stroke-width="0.6">n</text><text x="244.50" y="859.90" style="font-size:11.38px;" fill="#231f20" >Consume</text><text x="302.80" y="859.90" style="font-size:10.80px;" fill="#231f20" >Delay</text><text x="360.30" y="859.90" style="font-size:11.48px;" fill="#231f20" >LiCl malaise</text><line x1="256" y1="864.5" x2="285.6" y2="864.5" stroke="#231f20" stroke-width="1.8" /><line x1="287.5" y1="864.5" x2="346.9" y2="864.5" stroke="#d0d0d0" stroke-width="1.8" /><line x1="346.9" y1="864.5" x2="436.2" y2="864.5" stroke="#231f20" stroke-width="1.8" /><line x1="249.7" y1="872.2" x2="249.7" y2="1052.3" stroke="#231f20" stroke-width="1.0" /><line x1="242.3" y1="872.2" x2="250.2" y2="872.2" stroke="#231f20" stroke-width="1.0" /><text x="234.40" y="876.10" text-anchor="end" style="font-size:11.30px;" fill="#231f20">0.3</text><line x1="242.3" y1="917.4" x2="250.2" y2="917.4" stroke="#231f20" stroke-width="1.0" /><text x="234.40" y="921.30" text-anchor="end" style="font-size:11.30px;" fill="#231f20">0.2</text><line x1="242.3" y1="962.2" x2="250.2" y2="962.2" stroke="#231f20" stroke-width="1.0" /><text x="234.40" y="966.10" text-anchor="end" style="font-size:11.30px;" fill="#231f20">0.1</text><line x1="242.3" y1="1007.1" x2="250.2" y2="1007.1" stroke="#231f20" stroke-width="1.0" /><text x="234.40" y="1011.00" text-anchor="end" style="font-size:11.30px;" fill="#231f20">0</text><line x1="242.3" y1="1052.3" x2="250.2" y2="1052.3" stroke="#231f20" stroke-width="1.0" /><text x="234.40" y="1056.20" text-anchor="end" style="font-size:11.30px;" fill="#231f20">−0.1</text><line x1="256.3" y1="1059.5" x2="436.3" y2="1059.5" stroke="#231f20" stroke-width="1.0" /><line x1="256.3" y1="1059" x2="256.3" y2="1066.5" stroke="#231f20" stroke-width="1.0" /><text x="256.30" y="1082.20" text-anchor="middle" style="font-size:11.30px;" fill="#231f20">0</text><line x1="286.3" y1="1059" x2="286.3" y2="1066.5" stroke="#231f20" stroke-width="1.0" /><text x="286.30" y="1082.20" text-anchor="middle" style="font-size:11.30px;" fill="#231f20">15</text><line x1="316.3" y1="1059" x2="316.3" y2="1066.5" stroke="#231f20" stroke-width="1.0" /><text x="316.30" y="1082.20" text-anchor="middle" style="font-size:11.30px;" fill="#231f20">30</text><line x1="346.3" y1="1059" x2="346.3" y2="1066.5" stroke="#231f20" stroke-width="1.0" /><text x="346.30" y="1082.20" text-anchor="middle" style="font-size:11.30px;" fill="#231f20">45</text><line x1="376.3" y1="1059" x2="376.3" y2="1066.5" stroke="#231f20" stroke-width="1.0" /><text x="376.30" y="1082.20" text-anchor="middle" style="font-size:11.30px;" fill="#231f20">60</text><line x1="406.3" y1="1059" x2="406.3" y2="1066.5" stroke="#231f20" stroke-width="1.0" /><text x="406.30" y="1082.20" text-anchor="middle" style="font-size:11.30px;" fill="#231f20">75</text><line x1="436.3" y1="1059" x2="436.3" y2="1066.5" stroke="#231f20" stroke-width="1.0" /><text x="436.30" y="1082.20" text-anchor="middle" style="font-size:11.30px;" fill="#231f20">90</text><text x="346.30" y="1101.80" text-anchor="middle" style="font-size:11.30px;" fill="#231f20">Time (min)</text><text transform="translate(205.5,962.8) rotate(-90)" text-anchor="middle" style="font-size:11.3px" fill="#231f20">Spiking (<tspan style="font-style:italic">σ</tspan>)</text><path d="M256.3 979.8L257.8 978.8L259.3 981L260.8 983L262.3 982.7L263.8 980.8L265.3 982.1L266.8 982.5L268.3 980.4L269.8 980.6L271.3 980L272.8 983L274.3 983.1L275.8 983.4L277.3 986.5L278.8 984L280.3 984.3L281.8 979.9L283.3 984.7L284.8 986.6L286.3 984.7L287.8 987.6L289.3 987.7L290.8 989.9L292.3 991L293.8 990.5L295.3 991L296.8 992.8L298.3 997.5L299.8 995.4L301.3 995.6L302.8 993.6L304.3 995.5L305.8 993.2L307.3 995.9L308.8 996.8L310.3 997L311.8 1000L313.3 1000.6L314.8 1001.8L316.3 997.4L317.8 999.8L319.3 999.7L320.8 999.4L322.3 1001.9L323.8 1005L325.3 1001.5L326.8 1003L328.3 1000.1L329.8 1004.3L331.3 1004.6L332.8 999.9L334.3 999.3L335.8 1004.1L337.3 1006L338.8 1003.7L340.3 1001.1L341.8 1001.7L343.3 999.7L344.8 1001.4L346.3 990.7L347.8 987.6L349.3 990.3L350.8 994L352.3 994L353.8 991.9L355.3 998.6L356.8 998.5L358.3 1002.6L359.8 1003.6L361.3 1006.2L362.8 1007.3L364.3 1006.7L365.8 1008.4L367.3 1006.9L368.8 1008.9L370.3 1011.1L371.8 1006.5L373.3 1010.7L374.8 1002.8L376.3 998.2L377.8 1001.9L379.3 998.3L380.8 999.1L382.3 1002.4L383.8 998.8L385.3 999.8L386.8 999L388.3 997.5L389.8 994.1L391.3 995.8L392.8 997.9L394.3 996.6L395.8 1002L397.3 996.6L398.8 998.7L400.3 996.9L401.8 998.2L403.3 999.1L404.8 997.1L406.3 989.8L407.8 992.3L409.3 995L410.8 995.8L412.3 997.8L413.8 997L415.3 998L416.8 995.7L418.3 998.7L419.8 998.2L421.3 998.6L422.8 998.8L424.3 997L425.8 996.8L427.3 996.8L428.8 995.4L430.3 995.2L431.8 999.6L433.3 997.3L434.8 1001.7L436.3 1000.2L436.3 1012.1L434.8 1015.2L433.3 1010.6L431.8 1013.2L430.3 1006.2L428.8 1006.4L427.3 1007.9L425.8 1009.4L424.3 1008.2L422.8 1012.5L421.3 1012.5L419.8 1010.9L418.3 1012.3L416.8 1007.4L415.3 1009.9L413.8 1009L412.3 1011.3L410.8 1008.5L409.3 1008.2L407.8 1003.7L406.3 1003.5L404.8 1008.5L403.3 1010.2L401.8 1011.4L400.3 1008.4L398.8 1012.6L397.3 1008.9L395.8 1015L394.3 1010.3L392.8 1009.8L391.3 1009.6L389.8 1007.6L388.3 1010.5L386.8 1010.5L385.3 1011.6L383.8 1012.1L382.3 1016.4L380.8 1011L379.3 1009.7L377.8 1012.8L376.3 1011.9L374.8 1016.4L373.3 1022.6L371.8 1018.9L370.3 1022.8L368.8 1021.8L367.3 1018.1L365.8 1019.8L364.3 1018.9L362.8 1020.3L361.3 1017.6L359.8 1015.5L358.3 1014.6L356.8 1011L355.3 1011.6L353.8 1005.9L352.3 1007.6L350.8 1005.4L349.3 1002.9L347.8 1001.5L346.3 1004.1L344.8 1012.3L343.3 1013.3L341.8 1012.5L340.3 1012.7L338.8 1015.9L337.3 1019.2L335.8 1017.9L334.3 1011.1L332.8 1013.4L331.3 1016.4L329.8 1017.9L328.3 1014L326.8 1014.7L325.3 1012.5L323.8 1017.8L322.3 1013.7L320.8 1012L319.3 1011.7L317.8 1012.7L316.3 1008.9L314.8 1014.2L313.3 1013.9L311.8 1014L310.3 1008.5L308.8 1009.3L307.3 1008.8L305.8 1006.3L304.3 1006.8L302.8 1006.7L301.3 1006.8L299.8 1006.2L298.3 1008.4L296.8 1006.2L295.3 1003.8L293.8 1002L292.3 1003.4L290.8 1003.6L289.3 998.8L287.8 999L286.3 996.8L284.8 998.7L283.3 995.6L281.8 992.2L280.3 996.1L278.8 996.2L277.3 999.6L275.8 995L274.3 994.4L272.8 995.5L271.3 991.3L269.8 991.6L268.3 992.2L266.8 995.3L265.3 993.2L263.8 992.3L262.3 995.9L260.8 993.8L259.3 991.8L257.8 989.9L256.3 992.7Z" fill="#c9ddef" fill-opacity="0.75" stroke="none"/><path d="M256.3 989.3L257.8 993.3L259.3 993.2L260.8 993L262.3 991.6L263.8 995.5L265.3 994.8L266.8 995.5L268.3 996.3L269.8 996.4L271.3 996.3L272.8 996.2L274.3 996.7L275.8 995.2L277.3 996.8L278.8 1001.6L280.3 994.9L281.8 997L283.3 997.5L284.8 996.5L286.3 996.1L287.8 997.3L289.3 998.3L290.8 998.4L292.3 1001.1L293.8 997.3L295.3 1001.8L296.8 1000.5L298.3 1000.5L299.8 1000.2L301.3 1001L302.8 999.8L304.3 1007.1L305.8 1002.5L307.3 1001.6L308.8 1001.3L310.3 997.9L311.8 1001.4L313.3 1002L314.8 1005.1L316.3 1002.4L317.8 1004.6L319.3 1005.4L320.8 998.6L322.3 999.8L323.8 1002.2L325.3 1002.4L326.8 1005.4L328.3 1006.6L329.8 1004.2L331.3 1007.7L332.8 1005.2L334.3 1007.3L335.8 1005.6L337.3 1007.1L338.8 1002L340.3 1001.6L341.8 1004.1L343.3 1006.8L344.8 1003.1L346.3 993.7L347.8 986L349.3 982.6L350.8 980.6L352.3 982.7L353.8 984.1L355.3 982.7L356.8 984L358.3 982.2L359.8 984.6L361.3 981L362.8 983.4L364.3 986.1L365.8 984.8L367.3 984.2L368.8 985L370.3 982.8L371.8 979.6L373.3 984.1L374.8 981.5L376.3 979.2L377.8 979.3L379.3 977.3L380.8 979L382.3 976.6L383.8 976.4L385.3 974.6L386.8 975.1L388.3 977L389.8 977.3L391.3 976.4L392.8 973.4L394.3 975.5L395.8 976.4L397.3 978.1L398.8 979.9L400.3 978.4L401.8 974.5L403.3 981L404.8 977.7L406.3 977.5L407.8 978.6L409.3 978.9L410.8 978.2L412.3 976.6L413.8 978.9L415.3 979.6L416.8 982.4L418.3 982.2L419.8 982.2L421.3 982.6L422.8 983.6L424.3 982.3L425.8 981.4L427.3 982.8L428.8 982.6L430.3 982L431.8 983.2L433.3 982L434.8 982.6L436.3 985L436.3 997.2L434.8 993.9L433.3 992.9L431.8 994.5L430.3 994L428.8 994.7L427.3 994.6L425.8 991.3L424.3 994.2L422.8 996.3L421.3 994.4L419.8 994.6L418.3 992.3L416.8 992.6L415.3 989.9L413.8 989.9L412.3 988.7L410.8 989.5L409.3 990L407.8 990.2L406.3 987.9L404.8 989.8L403.3 991.1L401.8 987.2L400.3 989.4L398.8 990.6L397.3 988.2L395.8 988L394.3 986L392.8 984.7L391.3 987.5L389.8 988.6L388.3 986.9L386.8 987L385.3 987L383.8 987.2L382.3 986.8L380.8 990.9L379.3 987.3L377.8 990.3L376.3 992L374.8 992.2L373.3 995.8L371.8 992.2L370.3 994.2L368.8 995.9L367.3 996.4L365.8 994.9L364.3 996.5L362.8 994.8L361.3 992.1L359.8 994.6L358.3 993.8L356.8 995.3L355.3 993.8L353.8 996.2L352.3 995.4L350.8 993.1L349.3 993.2L347.8 997.8L346.3 1003.5L344.8 1013.3L343.3 1017.2L341.8 1013.7L340.3 1011.2L338.8 1011.5L337.3 1016.4L335.8 1015.2L334.3 1018.2L332.8 1014.4L331.3 1017.8L329.8 1013.2L328.3 1015.6L326.8 1015.8L325.3 1012.5L323.8 1011.9L322.3 1010.7L320.8 1009.7L319.3 1016.1L317.8 1015.2L316.3 1012L314.8 1015.3L313.3 1011.6L311.8 1013.1L310.3 1009.4L308.8 1012.9L307.3 1012L305.8 1013.1L304.3 1016.3L302.8 1009.2L301.3 1010.1L299.8 1009.3L298.3 1009.9L296.8 1011L295.3 1010.8L293.8 1007.4L292.3 1011.7L290.8 1008.1L289.3 1009.9L287.8 1006.6L286.3 1006.5L284.8 1006.5L283.3 1008.1L281.8 1006.4L280.3 1006.2L278.8 1011.8L277.3 1006.1L275.8 1005L274.3 1007.4L272.8 1005.8L271.3 1006.5L269.8 1007.3L268.3 1007.6L266.8 1006.6L265.3 1006.2L263.8 1006.5L262.3 1002.7L260.8 1003.2L259.3 1002.3L257.8 1003.2L256.3 998.6Z" fill="#d4d4d4" fill-opacity="0.75" stroke="none"/><path d="M256.3 974.5L257.8 974L259.3 979.3L260.8 976.6L262.3 977.2L263.8 975.4L265.3 967.7L266.8 969.2L268.3 974.2L269.8 975.4L271.3 976.7L272.8 980.6L274.3 978.1L275.8 979.8L277.3 977.6L278.8 975.1L280.3 974.2L281.8 971.7L283.3 975.1L284.8 979.9L286.3 981.7L287.8 983.6L289.3 985.3L290.8 990L292.3 988.4L293.8 989L295.3 988.6L296.8 992.3L298.3 992.2L299.8 997L301.3 994.7L302.8 998.1L304.3 997L305.8 991.9L307.3 997.6L308.8 994.1L310.3 994.1L311.8 995.7L313.3 994.7L314.8 995.4L316.3 995L317.8 998L319.3 999.3L320.8 1000.6L322.3 1001.1L323.8 999.6L325.3 1001.9L326.8 998.5L328.3 1004.3L329.8 1005.4L331.3 1005.9L332.8 1009.9L334.3 1003L335.8 1011L337.3 1007.8L338.8 1007.8L340.3 1002.3L341.8 1008.5L343.3 1003.2L344.8 993.8L346.3 957.2L347.8 980.4L349.3 972.5L350.8 953.6L352.3 932.1L353.8 927.1L355.3 921.1L356.8 925.1L358.3 915.5L359.8 912.9L361.3 914.5L362.8 914.6L364.3 917.6L365.8 914.7L367.3 918.2L368.8 920.8L370.3 922.6L371.8 924.1L373.3 924.5L374.8 928.4L376.3 922.9L377.8 932.7L379.3 938L380.8 933.5L382.3 932.4L383.8 932.4L385.3 934.9L386.8 936.2L388.3 934.6L389.8 929.7L391.3 935.2L392.8 938.9L394.3 936.6L395.8 941.9L397.3 947.6L398.8 940.9L400.3 943.9L401.8 948.6L403.3 951.9L404.8 948.7L406.3 951.9L407.8 953L409.3 955.4L410.8 954.9L412.3 950.8L413.8 953.1L415.3 958.1L416.8 953.6L418.3 954.2L419.8 953.4L421.3 952.8L422.8 957.8L424.3 957.9L425.8 958.1L427.3 962.9L428.8 959.8L430.3 957.9L431.8 960L433.3 962.4L434.8 963.4L436.3 964.8L436.3 981.4L434.8 978.8L433.3 977.5L431.8 975.6L430.3 972.5L428.8 974.4L427.3 976.6L425.8 975.1L424.3 973.9L422.8 971.3L421.3 969.6L419.8 970.2L418.3 971.4L416.8 970.3L415.3 972.2L413.8 969.9L412.3 966.4L410.8 969.1L409.3 970.3L407.8 969.6L406.3 967.3L404.8 965.7L403.3 966.4L401.8 963.5L400.3 959.8L398.8 958.2L397.3 962.7L395.8 957.5L394.3 952.7L392.8 953.6L391.3 949.4L389.8 946.2L388.3 948.1L386.8 952L385.3 952L383.8 949.5L382.3 949.6L380.8 949.7L379.3 955.1L377.8 946.3L376.3 939.7L374.8 943L373.3 940.4L371.8 937.9L370.3 937L368.8 935.6L367.3 932.8L365.8 930.3L364.3 933.7L362.8 931.5L361.3 931L359.8 927.3L358.3 932.7L356.8 942.4L355.3 936.3L353.8 944.6L352.3 949.1L350.8 970.9L349.3 986L347.8 994.5L346.3 968.6L344.8 1003.8L343.3 1013.3L341.8 1018.6L340.3 1012.2L338.8 1017.5L337.3 1018.9L335.8 1020.8L334.3 1012.3L332.8 1019.8L331.3 1017L329.8 1016.1L328.3 1015.4L326.8 1008.3L325.3 1011.4L323.8 1010.8L322.3 1012.3L320.8 1010.1L319.3 1009.7L317.8 1007.3L316.3 1004.6L314.8 1005.6L313.3 1006L311.8 1006.4L310.3 1004L308.8 1003.6L307.3 1008.9L305.8 1002.1L304.3 1008.2L302.8 1008L301.3 1004.5L299.8 1006.2L298.3 1003.1L296.8 1002.4L295.3 998.1L293.8 998.6L292.3 999.5L290.8 999.6L289.3 995.1L287.8 994.5L286.3 992.2L284.8 989L283.3 986.2L281.8 981.7L280.3 984L278.8 985.7L277.3 987.6L275.8 989.6L274.3 988.1L272.8 990.4L271.3 987.3L269.8 985.6L268.3 983.9L266.8 980.8L265.3 978.5L263.8 984.6L262.3 986.2L260.8 987.5L259.3 990.2L257.8 983.9L256.3 985.4Z" fill="#f8c9c6" fill-opacity="0.75" stroke="none"/><path d="M256.3 986.2L257.8 984.3L259.3 986.4L260.8 988.4L262.3 989.3L263.8 986.6L265.3 987.6L266.8 988.9L268.3 986.3L269.8 986.1L271.3 985.6L272.8 989.2L274.3 988.7L275.8 989.2L277.3 993.1L278.8 990.1L280.3 990.2L281.8 986L283.3 990.1L284.8 992.6L286.3 990.8L287.8 993.3L289.3 993.2L290.8 996.8L292.3 997.2L293.8 996.2L295.3 997.4L296.8 999.5L298.3 1003L299.8 1000.8L301.3 1001.2L302.8 1000.1L304.3 1001.2L305.8 999.8L307.3 1002.4L308.8 1003.1L310.3 1002.7L311.8 1007L313.3 1007.2L314.8 1008L316.3 1003.1L317.8 1006.3L319.3 1005.7L320.8 1005.7L322.3 1007.8L323.8 1011.4L325.3 1007L326.8 1008.9L328.3 1007L329.8 1011.1L331.3 1010.5L332.8 1006.7L334.3 1005.2L335.8 1011L337.3 1012.6L338.8 1009.8L340.3 1006.9L341.8 1007.1L343.3 1006.5L344.8 1006.8L346.3 997.4L347.8 994.6L349.3 996.6L350.8 999.7L352.3 1000.8L353.8 998.9L355.3 1005.1L356.8 1004.7L358.3 1008.6L359.8 1009.6L361.3 1011.9L362.8 1013.8L364.3 1012.8L365.8 1014.1L367.3 1012.5L368.8 1015.3L370.3 1016.9L371.8 1012.7L373.3 1016.7L374.8 1009.6L376.3 1005.1L377.8 1007.4L379.3 1004L380.8 1005L382.3 1009.4L383.8 1005.4L385.3 1005.7L386.8 1004.8L388.3 1004L389.8 1000.9L391.3 1002.7L392.8 1003.8L394.3 1003.5L395.8 1008.5L397.3 1002.8L398.8 1005.7L400.3 1002.7L401.8 1004.8L403.3 1004.6L404.8 1002.8L406.3 996.6L407.8 998L409.3 1001.6L410.8 1002.2L412.3 1004.5L413.8 1003L415.3 1003.9L416.8 1001.5L418.3 1005.5L419.8 1004.6L421.3 1005.5L422.8 1005.7L424.3 1002.6L425.8 1003.1L427.3 1002.4L428.8 1000.9L430.3 1000.7L431.8 1006.4L433.3 1003.9L434.8 1008.5L436.3 1006.1" fill="none" stroke="#3a87c8" stroke-width="1.3" stroke-linejoin="round" /><path d="M256.3 993.9L257.8 998.2L259.3 997.7L260.8 998.1L262.3 997.1L263.8 1001L265.3 1000.5L266.8 1001.1L268.3 1001.9L269.8 1001.9L271.3 1001.4L272.8 1001L274.3 1002.1L275.8 1000.1L277.3 1001.4L278.8 1006.7L280.3 1000.6L281.8 1001.7L283.3 1002.8L284.8 1001.5L286.3 1001.3" fill="none" stroke="#1a1a1a" stroke-width="1.3" stroke-linejoin="round" /><path d="M316.3 1007.2L317.8 1009.9L319.3 1010.8L320.8 1004.1L322.3 1005.3L323.8 1007.1L325.3 1007.5L326.8 1010.6L328.3 1011.1L329.8 1008.7L331.3 1012.7L332.8 1009.8L334.3 1012.7L335.8 1010.4L337.3 1011.8L338.8 1006.7L340.3 1006.4L341.8 1008.9L343.3 1012L344.8 1008.2" fill="none" stroke="#1a1a1a" stroke-width="1.3" stroke-linejoin="round" /><path d="M352.3 989L353.8 990.1L355.3 988.3L356.8 989.6L358.3 988L359.8 989.6L361.3 986.6L362.8 989.1L364.3 991.3L365.8 989.8L367.3 990.3L368.8 990.4L370.3 988.5L371.8 985.9L373.3 989.9L374.8 986.8L376.3 985.6L377.8 984.8L379.3 982.3L380.8 984.9L382.3 981.7L383.8 981.8L385.3 980.8L386.8 981L388.3 981.9L389.8 983L391.3 981.9L392.8 979L394.3 980.7L395.8 982.2L397.3 983.2L398.8 985.3L400.3 983.9L401.8 980.8L403.3 986L404.8 983.7L406.3 982.7L407.8 984.4L409.3 984.5L410.8 983.8L412.3 982.6L413.8 984.4L415.3 984.7L416.8 987.5L418.3 987.3L419.8 988.4L421.3 988.5L422.8 989.9L424.3 988.3L425.8 986.4L427.3 988.7L428.8 988.7L430.3 988L431.8 988.9L433.3 987.4L434.8 988.3L436.3 991.1" fill="none" stroke="#1a1a1a" stroke-width="1.3" stroke-linejoin="round" /><path d="M256.3 979.9L257.8 979L259.3 984.8L260.8 982L262.3 981.7L263.8 980L265.3 973.1L266.8 975L268.3 979L269.8 980.5L271.3 982L272.8 985.5L274.3 983.1L275.8 984.7L277.3 982.6L278.8 980.4L280.3 979.1L281.8 976.7L283.3 980.6L284.8 984.4L286.3 987L287.8 989L289.3 990.2L290.8 994.8L292.3 994L293.8 993.8L295.3 993.4L296.8 997.4L298.3 997.6L299.8 1001.6L301.3 999.6L302.8 1003L304.3 1002.6L305.8 997L307.3 1003.2L308.8 998.8L310.3 999.1L311.8 1001L313.3 1000.4L314.8 1000.5L316.3 999.8L317.8 1002.6L319.3 1004.5L320.8 1005.3L322.3 1006.7L323.8 1005.2L325.3 1006.7L326.8 1003.4L328.3 1009.9L329.8 1010.8L331.3 1011.4L332.8 1014.9L334.3 1007.7L335.8 1015.9L337.3 1013.3L338.8 1012.7L340.3 1007.3L341.8 1013.5L343.3 1008.3L344.8 998.8L346.3 962.9L347.8 987.5L349.3 979.2L350.8 962.2L352.3 940.6L353.8 935.8L355.3 928.7L356.8 933.8L358.3 924.1L359.8 920.1L361.3 922.8L362.8 923.1L364.3 925.6L365.8 922.5L367.3 925.5L368.8 928.2L370.3 929.8L371.8 931L373.3 932.5L374.8 935.7L376.3 931.3L377.8 939.5L379.3 946.5L380.8 941.6L382.3 941L383.8 941L385.3 943.4L386.8 944.1L388.3 941.4L389.8 938L391.3 942.3L392.8 946.3L394.3 944.7L395.8 949.7L397.3 955.2L398.8 949.6L400.3 951.8L401.8 956.1L403.3 959.1L404.8 957.2L406.3 959.6L407.8 961.3L409.3 962.9L410.8 962L412.3 958.6L413.8 961.5L415.3 965.1L416.8 961.9L418.3 962.8L419.8 961.8L421.3 961.2L422.8 964.5L424.3 965.9L425.8 966.6L427.3 969.7L428.8 967.1L430.3 965.2L431.8 967.8L433.3 970L434.8 971.1L436.3 973.1" fill="none" stroke="#e8302a" stroke-width="1.3" stroke-linejoin="round" /><line x1="256" y1="1023.6" x2="266.4" y2="1023.6" stroke="#1a1a1a" stroke-width="1.6" /><text x="272.10" y="1027.40" style="font-size:10.38px;" fill="#231f20" >Nonselective</text><line x1="256" y1="1037" x2="266.4" y2="1037" stroke="#3a87c8" stroke-width="1.6" /><text x="272.10" y="1040.80" style="font-size:10.48px;" fill="#231f20" >Water-preferring</text><line x1="256" y1="1050.4" x2="266.4" y2="1050.4" stroke="#e8302a" stroke-width="1.6" /><text x="272.10" y="1054.20" style="font-size:10.36px;" fill="#231f20" >Flavour-preferring</text><line x1="314.5" y1="900" x2="314.5" y2="945" stroke="#231f20" stroke-width="1.0" /><line x1="307.5" y1="900" x2="315" y2="900" stroke="#231f20" stroke-width="1.0" /><text x="303.30" y="903.90" text-anchor="end" style="font-size:11.30px;" fill="#231f20">0.5</text><line x1="307.5" y1="945" x2="315" y2="945" stroke="#231f20" stroke-width="1.0" /><text x="303.30" y="948.90" text-anchor="end" style="font-size:11.30px;" fill="#231f20">−0.2</text><text transform="translate(263.5,922.5) rotate(-90)" text-anchor="middle" style="font-size:11.3px" fill="#231f20">LiCl</text><text transform="translate(274,923) rotate(-90)" text-anchor="middle" style="font-size:11.3px" fill="#231f20">response</text><line x1="321.9" y1="904" x2="321.9" y2="932.5" stroke="#e8302a" stroke-width="1" /><line x1="321.9" y1="921.5" x2="321.9" y2="936.5" stroke="#e8302a" stroke-width="1" /><rect x="318" y="921.5" width="7.7" height="11" fill="#f6c1bd" stroke="#e8302a" stroke-width="1"/><line x1="318" y1="928.5" x2="325.7" y2="928.5" stroke="#e8302a" stroke-width="1" /><line x1="320.1" y1="904" x2="323.7" y2="904" stroke="#e8302a" stroke-width="0.8" /><line x1="320.1" y1="936.5" x2="323.7" y2="936.5" stroke="#e8302a" stroke-width="0.8" /><line x1="332" y1="923.5" x2="332" y2="935.5" stroke="#3a87c8" stroke-width="1" /><line x1="332" y1="929" x2="332" y2="939.5" stroke="#3a87c8" stroke-width="1" /><rect x="328.2" y="929" width="7.6" height="6.5" fill="#c6dbee" stroke="#3a87c8" stroke-width="1"/><line x1="328.2" y1="932.5" x2="335.8" y2="932.5" stroke="#3a87c8" stroke-width="1" /><line x1="330.2" y1="923.5" x2="333.8" y2="923.5" stroke="#3a87c8" stroke-width="0.8" /><line x1="330.2" y1="939.5" x2="333.8" y2="939.5" stroke="#3a87c8" stroke-width="0.8" /><line x1="342.4" y1="922.5" x2="342.4" y2="933.5" stroke="#1a1a1a" stroke-width="1" /><line x1="342.4" y1="929.5" x2="342.4" y2="936.5" stroke="#1a1a1a" stroke-width="1" /><rect x="338.5" y="929.5" width="7.7" height="4" fill="#555" stroke="#1a1a1a" stroke-width="1"/><line x1="338.5" y1="931.5" x2="346.2" y2="931.5" stroke="#1a1a1a" stroke-width="1" /><line x1="340.6" y1="922.5" x2="344.2" y2="922.5" stroke="#1a1a1a" stroke-width="0.8" /><line x1="340.6" y1="936.5" x2="344.2" y2="936.5" stroke="#1a1a1a" stroke-width="0.8" /><text x="321.50" y="888.00" style="font-size:13.50px;" fill="#231f20" >****</text><line x1="321.5" y1="890.2" x2="342.5" y2="890.2" stroke="#231f20" stroke-width="1" /><text x="316.50" y="897.50" style="font-size:13.50px;" fill="#231f20" >****</text><line x1="321.5" y1="900.5" x2="332" y2="900.5" stroke="#231f20" stroke-width="1" /><text x="332.50" y="916.00" style="font-size:12.82px;" fill="#231f20" >**</text><line x1="332.5" y1="918.5" x2="342.5" y2="918.5" stroke="#231f20" stroke-width="1" /><text x="463.40" y="850.00" style="font-size:19.0px;font-weight:bold" fill="#000" stroke="#000" stroke-width="0.6">o</text><text x="521.70" y="854.00" style="font-size:11.47px;" fill="#231f20" >Delay</text><text x="561.80" y="854.00" style="font-size:11.44px;" fill="#231f20" >Malaise</text><line x1="519.2" y1="859.3" x2="554" y2="859.3" stroke="#d0d0d0" stroke-width="1.8" /><line x1="556.2" y1="859.3" x2="608.9" y2="859.3" stroke="#231f20" stroke-width="1.8" /><line x1="515.5" y1="868.5" x2="525.4" y2="868.5" stroke="#3a87c8" stroke-width="1.6" /><text x="532.50" y="871.60" style="font-size:10.53px;" fill="#231f20" >Water</text><line x1="515.5" y1="881.8" x2="525.4" y2="881.8" stroke="#e8302a" stroke-width="1.6" /><text x="532.50" y="885.50" style="font-size:10.40px;" fill="#231f20" >Novel flavour</text><line x1="511.8" y1="872.6" x2="511.8" y2="1052" stroke="#231f20" stroke-width="1.0" /><line x1="505" y1="872.6" x2="512.3" y2="872.6" stroke="#231f20" stroke-width="1.0" /><text x="497.90" y="876.50" text-anchor="end" style="font-size:11.30px;" fill="#231f20">20</text><line x1="505" y1="917.3" x2="512.3" y2="917.3" stroke="#231f20" stroke-width="1.0" /><text x="497.90" y="921.20" text-anchor="end" style="font-size:11.30px;" fill="#231f20">15</text><line x1="505" y1="962.3" x2="512.3" y2="962.3" stroke="#231f20" stroke-width="1.0" /><text x="497.90" y="966.20" text-anchor="end" style="font-size:11.30px;" fill="#231f20">10</text><line x1="505" y1="1007.3" x2="512.3" y2="1007.3" stroke="#231f20" stroke-width="1.0" /><text x="497.90" y="1011.20" text-anchor="end" style="font-size:11.30px;" fill="#231f20">5</text><line x1="505" y1="1052" x2="512.3" y2="1052" stroke="#231f20" stroke-width="1.0" /><text x="497.90" y="1055.90" text-anchor="end" style="font-size:11.30px;" fill="#231f20">0</text><line x1="518.6" y1="1059.5" x2="608.9" y2="1059.5" stroke="#231f20" stroke-width="1.0" /><line x1="519.1" y1="1059" x2="519.1" y2="1066.5" stroke="#231f20" stroke-width="1.0" /><line x1="537" y1="1059" x2="537" y2="1066.5" stroke="#231f20" stroke-width="1.0" /><line x1="555" y1="1059" x2="555" y2="1066.5" stroke="#231f20" stroke-width="1.0" /><line x1="573" y1="1059" x2="573" y2="1066.5" stroke="#231f20" stroke-width="1.0" /><line x1="590.9" y1="1059" x2="590.9" y2="1066.5" stroke="#231f20" stroke-width="1.0" /><line x1="608.9" y1="1059" x2="608.9" y2="1066.5" stroke="#231f20" stroke-width="1.0" /><text transform="translate(525.6,1078.0) rotate(-45)" text-anchor="end" style="font-size:11.3px" fill="#231f20">−30</text><text transform="translate(543.5,1078.0) rotate(-45)" text-anchor="end" style="font-size:11.3px" fill="#231f20">−15</text><text transform="translate(561.5,1078.0) rotate(-45)" text-anchor="end" style="font-size:11.3px" fill="#231f20">0</text><text transform="translate(579.5,1078.0) rotate(-45)" text-anchor="end" style="font-size:11.3px" fill="#231f20">15</text><text transform="translate(597.4,1078.0) rotate(-45)" text-anchor="end" style="font-size:11.3px" fill="#231f20">30</text><text transform="translate(615.4,1078.0) rotate(-45)" text-anchor="end" style="font-size:11.3px" fill="#231f20">45</text><text x="563.30" y="1104.40" text-anchor="middle" style="font-size:11.30px;" fill="#231f20">Time (min)</text><text transform="translate(471.30,962.60) rotate(-90)" text-anchor="middle" style="font-size:11.30px" fill="#231f20">Reactivations per min</text><path d="M519.1 1013.5L519.7 1033.6L520.3 1031.9L520.9 1033.7L521.5 1039.1L522.1 1042L522.7 1039.1L523.3 1035.9L523.9 1036.1L524.5 1028.6L525.1 1033.7L525.7 1030.9L526.3 1030.4L526.9 1033.1L527.5 1034.3L528 1039.8L528.6 1042.5L529.2 1039.9L529.8 1038.2L530.4 1034.6L531 1036.1L531.6 1040.9L532.2 1043.9L532.8 1041.5L533.4 1034.9L534 1041.1L534.6 1037.5L535.2 1044L535.8 1043.8L536.4 1044.5L537 1040.7L537.6 1040.1L538.2 1040.4L538.8 1042.3L539.4 1041.2L540 1041.4L540.6 1042L541.2 1042.2L541.8 1037.4L542.4 1035.6L543 1039.6L543.6 1040.8L544.2 1039.5L544.8 1038L545.4 1036.2L546 1036.5L546.6 1043L547.2 1041L547.8 1044.5L548.4 1037.7L549 1039.4L549.6 1034.5L550.2 1034.1L550.8 1042.2L551.4 1034.3L552 1030L552.6 1031.6L553.2 1038.3L553.8 1028.5L554.4 1029.7L555 1038.4L555 902.2L555.6 929.5L556.2 928.7L556.8 911.8L557.4 896.7L558 900.7L558.6 900.5L559.2 893L559.8 899.8L560.4 924L561 936.2L561.6 916.4L562.2 937.8L562.8 941.2L563.4 926.6L564 927.8L564.6 923.6L565.2 917L565.8 927.1L566.4 925L567 918.7L567.6 926.6L568.2 931.2L568.8 910.5L569.4 924.7L570 910.9L570.6 910.9L571.2 918.9L571.8 907.9L572.4 921.8L573 917.1L573.6 901.1L574.2 883.4L574.8 884.1L575.4 894L576 909L576.6 882.6L577.2 885.8L577.8 907.5L578.4 910.7L579 922.7L579.6 911L580.2 932.2L580.8 921.2L581.4 927.4L582 922.3L582.6 921.6L583.2 930.5L583.8 938.7L584.4 946L585 935.7L585.6 929L586.2 923.2L586.8 933.4L587.4 913.8L588 920.4L588.5 913L589.1 904.8L589.7 919.2L590.3 911.9L590.9 908.6L591.5 910.5L592.1 915.5L592.7 925.2L593.3 925.3L593.9 936.7L594.5 940.8L595.1 958.6L595.7 957.1L596.3 948.8L596.9 958.6L597.5 964.3L598.1 956.7L598.7 965.3L599.3 960.2L599.9 977.6L600.5 979.8L601.1 984.5L601.7 986.9L602.3 994L602.9 994L603.5 1000.7L604.1 1002.4L604.7 1006.8L605.3 993.8L605.9 991.2L606.5 988.9L607.1 991.6L607.7 1006.7L608.3 991.5L608.9 1000.3L608.9 1052L608.3 1052L607.7 1052L607.1 1051.2L606.5 1049.7L605.9 1041.8L605.3 1048.8L604.7 1052L604.1 1052L603.5 1052L602.9 1052L602.3 1052L601.7 1052L601.1 1052L600.5 1049.6L599.9 1047.8L599.3 1040.4L598.7 1032L598.1 1023.5L597.5 1023.9L596.9 1013.3L596.3 1028.1L595.7 1027.3L595.1 1038.6L594.5 1021.3L593.9 1006.5L593.3 999.8L592.7 998.5L592.1 969.1L591.5 982.5L590.9 983.2L590.3 989.1L589.7 970.1L589.1 984.7L588.5 990.9L588 976.1L587.4 987L586.8 995.4L586.2 994.3L585.6 991.9L585 1010.8L584.4 1011.3L583.8 1002.3L583.2 983.7L582.6 982.4L582 997L581.4 992.2L580.8 994.6L580.2 990.8L579.6 990.3L579 974.6L578.4 974.9L577.8 981.6L577.2 956L576.6 950.5L576 964L575.4 967.3L574.8 958.7L574.2 964.8L573.6 969.9L573 968.6L572.4 979.8L571.8 975.4L571.2 974.1L570.6 975.6L570 988.9L569.4 986.5L568.8 968.5L568.2 984.6L567.6 1000.9L567 999.8L566.4 990.9L565.8 983.7L565.2 978.5L564.6 989.8L564 982.1L563.4 1005.6L562.8 1021.3L562.2 1010.6L561.6 992.5L561 1005.2L560.4 982.6L559.8 976.4L559.2 968.3L558.6 980L558 969.6L557.4 963.8L556.8 978.4L556.2 1004.3L555.6 995.6L555 965.8L555 1052L554.4 1052L553.8 1048.1L553.2 1052L552.6 1047.3L552 1051.5L551.4 1052L550.8 1052L550.2 1052L549.6 1052L549 1052L548.4 1052L547.8 1052L547.2 1052L546.6 1052L546 1052L545.4 1052L544.8 1052L544.2 1052L543.6 1052L543 1052L542.4 1052L541.8 1052L541.2 1052L540.6 1052L540 1052L539.4 1052L538.8 1052L538.2 1052L537.6 1052L537 1052L536.4 1052L535.8 1052L535.2 1052L534.6 1052L534 1052L533.4 1052L532.8 1052L532.2 1052L531.6 1052L531 1052L530.4 1052L529.8 1052L529.2 1052L528.6 1052L528 1052L527.5 1052L526.9 1052L526.3 1051.9L525.7 1046L525.1 1048.8L524.5 1050.4L523.9 1051.5L523.3 1052L522.7 1052L522.1 1052L521.5 1052L520.9 1052L520.3 1052L519.7 1049.3L519.1 1035.9Z" fill="#f8c9c6" fill-opacity="0.8" stroke="none"/><path d="M519.1 1022.9L519.7 1021.4L520.3 1019.3L520.9 1011.4L521.5 1017.5L522.1 1010.7L522.7 1020.2L523.3 1022.3L523.9 1030.1L524.5 1023.1L525.1 1025L525.7 1022.1L526.3 1020.6L526.9 1019.1L527.5 1023.4L528 1031.1L528.6 1034.2L529.2 1024.1L529.8 1031.1L530.4 1027L531 1026.5L531.6 1030.6L532.2 1032.7L532.8 1032.8L533.4 1030.6L534 1037.6L534.6 1034.7L535.2 1038.2L535.8 1030.3L536.4 1039.6L537 1032L537.6 1035.9L538.2 1036.6L538.8 1036.8L539.4 1035.7L540 1033.8L540.6 1034.1L541.2 1034.4L541.8 1038.7L542.4 1036.8L543 1040.9L543.6 1036.6L544.2 1035L544.8 1040.3L545.4 1033.3L546 1029.6L546.6 1034.2L547.2 1039.3L547.8 1032.7L548.4 1036.7L549 1033.4L549.6 1033L550.2 1041.9L550.8 1039.8L551.4 1039.2L552 1039.2L552.6 1037.7L553.2 1038.9L553.8 1039L554.4 1040.5L555 1039.3L555 1024.3L555.6 1012L556.2 1008.3L556.8 999.2L557.4 986L558 995.5L558.6 997.8L559.2 977.4L559.8 984.7L560.4 997.6L561 993.1L561.6 986.6L562.2 1007.4L562.8 1009.5L563.4 978.6L564 974.3L564.6 984.5L565.2 980.4L565.8 986.2L566.4 981.9L567 997.5L567.6 982.3L568.2 988.9L568.8 989.6L569.4 1011.8L570 1006.5L570.6 998.8L571.2 1003.4L571.8 993.3L572.4 990.5L573 988.6L573.6 1002.8L574.2 1005.3L574.8 1009.2L575.4 997.8L576 989.5L576.6 980L577.2 993.6L577.8 998L578.4 998.5L579 1011.2L579.6 987.4L580.2 1003.6L580.8 997.7L581.4 1001.9L582 1001.9L582.6 1015.3L583.2 996.3L583.8 996.9L584.4 1007.9L585 997.6L585.6 994.1L586.2 996L586.8 993.7L587.4 1000.5L588 984.4L588.5 997.4L589.1 980.5L589.7 996.4L590.3 997.8L590.9 1000.7L591.5 998.2L592.1 991.5L592.7 997.5L593.3 1000L593.9 990.2L594.5 992.3L595.1 989.6L595.7 985.1L596.3 976.8L596.9 993.1L597.5 994.5L598.1 986.1L598.7 1002.4L599.3 985.1L599.9 985.8L600.5 988.9L601.1 1002.1L601.7 993.8L602.3 1003.2L602.9 981.4L603.5 994.9L604.1 978.5L604.7 983.4L605.3 983.7L605.9 979L606.5 980.5L607.1 975.6L607.7 975.4L608.3 977.9L608.9 991.4L608.9 1044.4L608.3 1043.5L607.7 1051.4L607.1 1052L606.5 1052L605.9 1050.2L605.3 1051.1L604.7 1052L604.1 1052L603.5 1046.1L602.9 1049.9L602.3 1052L601.7 1052L601.1 1052L600.5 1052L599.9 1052L599.3 1051.2L598.7 1052L598.1 1052L597.5 1046.2L596.9 1044.8L596.3 1052L595.7 1051.3L595.1 1052L594.5 1052L593.9 1052L593.3 1052L592.7 1052L592.1 1049.5L591.5 1051.1L590.9 1052L590.3 1051L589.7 1050.8L589.1 1052L588.5 1052L588 1052L587.4 1052L586.8 1052L586.2 1052L585.6 1052L585 1052L584.4 1052L583.8 1052L583.2 1052L582.6 1052L582 1052L581.4 1052L580.8 1052L580.2 1052L579.6 1052L579 1052L578.4 1052L577.8 1050.9L577.2 1050.2L576.6 1039.5L576 1052L575.4 1052L574.8 1052L574.2 1052L573.6 1052L573 1052L572.4 1052L571.8 1052L571.2 1052L570.6 1052L570 1052L569.4 1052L568.8 1052L568.2 1052L567.6 1051.8L567 1052L566.4 1048.5L565.8 1044.5L565.2 1052L564.6 1052L564 1042.9L563.4 1052L562.8 1052L562.2 1052L561.6 1052L561 1044.5L560.4 1052L559.8 1052L559.2 1052L558.6 1052L558 1052L557.4 1052L556.8 1052L556.2 1052L555.6 1052L555 1052L555 1052L554.4 1052L553.8 1052L553.2 1052L552.6 1052L552 1052L551.4 1052L550.8 1052L550.2 1052L549.6 1052L549 1052L548.4 1052L547.8 1052L547.2 1052L546.6 1052L546 1051.8L545.4 1052L544.8 1052L544.2 1052L543.6 1052L543 1052L542.4 1052L541.8 1052L541.2 1052L540.6 1052L540 1052L539.4 1052L538.8 1052L538.2 1052L537.6 1052L537 1052L536.4 1052L535.8 1052L535.2 1052L534.6 1052L534 1052L533.4 1052L532.8 1052L532.2 1052L531.6 1049.4L531 1052L530.4 1052L529.8 1052L529.2 1051.8L528.6 1052L528 1051.1L527.5 1048L526.9 1043L526.3 1038.8L525.7 1041.9L525.1 1051.7L524.5 1044.9L523.9 1052L523.3 1041.9L522.7 1044L522.1 1029.2L521.5 1037.7L520.9 1037.7L520.3 1043.7L519.7 1047L519.1 1050.1Z" fill="#c9ddef" fill-opacity="0.75" stroke="none"/><path d="M519.1 1036.5L519.7 1034.2L520.3 1031.5L520.9 1024.6L521.5 1027.6L522.1 1019.9L522.7 1032.1L523.3 1032.1L523.9 1044L524.5 1034L525.1 1038.3L525.7 1032L526.3 1029.7L526.9 1031L527.5 1035.7L528 1041.1L528.6 1047.8L529.2 1038L529.8 1043.4L530.4 1040.9L531 1040.4L531.6 1040L532.2 1045.2L532.8 1045.4L533.4 1043.2L534 1048L534.6 1046.2L535.2 1050L535.8 1043.5L536.4 1048.5L537 1042.6L537.6 1046.3L538.2 1049.4L538.8 1046L539.4 1044.6L540 1043L540.6 1043.3L541.2 1045.3L541.8 1052L542.4 1047.4L543 1050.1L543.6 1048.8L544.2 1045.4L544.8 1052L545.4 1045.9L546 1040.7L546.6 1046.7L547.2 1051.3L547.8 1045.9L548.4 1049.4L549 1046.9L549.6 1045.7L550.2 1052L550.8 1051.2L551.4 1052L552 1052L552.6 1050.2L553.2 1052L553.8 1052L554.4 1052L555 1051.4L555 1050.1L555.6 1044.6L556.2 1044.9L556.8 1038.7L557.4 1024.4L558 1027.5L558.6 1026.5L559.2 1016.5L559.8 1020.1L560.4 1025.8L561 1018.8L561.6 1025.5L562.2 1041.6L562.8 1036.3L563.4 1019.3L564 1008.6L564.6 1021.5L565.2 1018.1L565.8 1015.3L566.4 1015.2L567 1025.3L567.6 1017.1L568.2 1020.8L568.8 1027.1L569.4 1038.8L570 1034.8L570.6 1030L571.2 1028.6L571.8 1024.8L572.4 1030.7L573 1027.3L573.6 1030.7L574.2 1043.5L574.8 1037.8L575.4 1026.6L576 1024.6L576.6 1009.8L577.2 1021.9L577.8 1024.4L578.4 1026.4L579 1039.4L579.6 1026.8L580.2 1029.4L580.8 1031.3L581.4 1030.3L582 1038.3L582.6 1040.5L583.2 1027.3L583.8 1033.6L584.4 1033.4L585 1029.2L585.6 1024.3L586.2 1028.7L586.8 1028.7L587.4 1026.8L588 1023.1L588.5 1026.8L589.1 1017.7L589.7 1023.6L590.3 1024.4L590.9 1028.8L591.5 1024.7L592.1 1020.5L592.7 1024.8L593.3 1026.5L593.9 1028.7L594.5 1025.7L595.1 1022.5L595.7 1018.2L596.3 1014.6L596.9 1018.9L597.5 1020.4L598.1 1021.7L598.7 1027.7L599.3 1018.2L599.9 1020.7L600.5 1027.4L601.1 1027.3L601.7 1025.2L602.3 1033.2L602.9 1015.6L603.5 1020.5L604.1 1015.5L604.7 1023.6L605.3 1017.4L605.9 1014.6L606.5 1018.7L607.1 1014L607.7 1013.4L608.3 1010.7L608.9 1017.9" fill="none" stroke="#3a87c8" stroke-width="1.3" stroke-linejoin="round" /><path d="M519.1 1024.7L519.7 1041.4L520.3 1042.2L520.9 1045.1L521.5 1049.3L522.1 1049.7L522.7 1050.4L523.3 1047.4L523.9 1043.8L524.5 1039.5L525.1 1041.2L525.7 1038.5L526.3 1041.1L526.9 1043.5L527.5 1045.8L528 1049.8L528.6 1052L529.2 1048.3L529.8 1048L530.4 1046.2L531 1046.2L531.6 1052L532.2 1052L532.8 1052L533.4 1045.4L534 1048.6L534.6 1048.4L535.2 1052L535.8 1052L536.4 1052L537 1050.8L537.6 1047.9L538.2 1052L538.8 1049.5L539.4 1052L540 1052L540.6 1051.7L541.2 1051.9L541.8 1048.2L542.4 1045.7L543 1047.4L543.6 1051.5L544.2 1048.3L544.8 1047.8L545.4 1045.7L546 1047.7L546.6 1052L547.2 1052L547.8 1052L548.4 1046.3L549 1049.6L549.6 1044.5L550.2 1045L550.8 1050.3L551.4 1045L552 1040.8L552.6 1039.4L553.2 1046.1L553.8 1038.3L554.4 1041.3L555 1048.3L555 934L555.6 962.6L556.2 966.5L556.8 945.1L557.4 930.3L558 935.1L558.6 940.3L559.2 930.6L559.8 938.1L560.4 953.3L561 970.7L561.6 954.5L562.2 974.2L562.8 981.2L563.4 966.1L564 954.9L564.6 956.7L565.2 947.7L565.8 955.4L566.4 957.9L567 959.3L567.6 963.8L568.2 957.9L568.8 939.5L569.4 955.6L570 949.9L570.6 943.3L571.2 946.5L571.8 941.6L572.4 950.8L573 942.9L573.6 935.5L574.2 924.1L574.8 921.4L575.4 930.7L576 936.5L576.6 916.5L577.2 920.9L577.8 944.6L578.4 942.8L579 948.7L579.6 950.7L580.2 961.5L580.8 957.9L581.4 959.8L582 959.6L582.6 952L583.2 957.1L583.8 970.5L584.4 978.7L585 973.3L585.6 960.4L586.2 958.7L586.8 964.4L587.4 950.4L588 948.3L588.5 952L589.1 944.7L589.7 944.6L590.3 950.5L590.9 945.9L591.5 946.5L592.1 942.3L592.7 961.8L593.3 962.6L593.9 971.6L594.5 981.1L595.1 998.6L595.7 992.2L596.3 988.5L596.9 986L597.5 994.1L598.1 990.1L598.7 998.7L599.3 1000.3L599.9 1012.7L600.5 1014.7L601.1 1019.4L601.7 1026.8L602.3 1025.4L602.9 1030.7L603.5 1035.3L604.1 1033.8L604.7 1037.2L605.3 1021.3L605.9 1016.5L606.5 1019.3L607.1 1021.4L607.7 1033.1L608.3 1024.3L608.9 1031" fill="none" stroke="#e8302a" stroke-width="1.3" stroke-linejoin="round" /><text x="639.10" y="851.00" style="font-size:19.0px;font-weight:bold" fill="#000" stroke="#000" stroke-width="0.6">p</text><g clip-path="url(#cp1)"><rect x="656.5" y="858.9" width="100" height="99.1" fill="#bbb" filter="url(#tex)"/><path d="M660 930 C680 920, 700 940, 720 958 L656.5 958Z" fill="#fff" stroke="none" stroke-width="1" fill-opacity="0.18" filter="url(#bl2)"/><path d="M721 858.9 C728 872, 736 890, 745 905 C750 912, 754 916, 756.5 918 L756.5 858.9Z" fill="#fff" stroke="none" stroke-width="1" /><path d="M680 858.9 C700 880, 715 860, 721 858.9Z" fill="#fff" stroke="none" stroke-width="1" fill-opacity="0.25"/></g><g clip-path="url(#cp2)"><rect x="656.5" y="971.4" width="100" height="98.9" fill="#c4c4c4" filter="url(#tex2)"/><path d="M684 977.7 C674 977.8, 664 986.8, 668 1001.8 C674 1013.8, 700 1029.8, 719 1044.4 C728 1052.8, 734 1062.8, 740 1063.3 C746 1062.8, 748 1056.8, 744 1049.8 C738 1039.8, 732 1031.8, 729.6 1025.3 C726 1016.8, 722 1006.8, 716 995.8 C708 983.8, 698 976.8, 684 977.7Z" fill="#fff" stroke="none" stroke-width="1" fill-opacity="0.25" filter="url(#bl2)"/><path d="M725 971.4 C735 990, 740 1010, 756.5 1030" fill="none" stroke="#999" stroke-width="2" stroke-opacity="0.5"/><ellipse cx="738.00" cy="1023.70" rx="2.50" ry="2.00" fill="#fff" /></g><rect x="656.5" y="858.9" width="100" height="99.1" fill="none" stroke="#231f20" stroke-width="1.1" stroke-dasharray="2.2 1.6"/><rect x="656.5" y="971.4" width="100" height="98.9" fill="none" stroke="#231f20" stroke-width="1.1" stroke-dasharray="2.2 1.6"/><path d="M684 865.9 C674 866.0, 664 875.0, 668 890.0 C674 902.0, 700 918.0, 719 932.6 C728 941.0, 734 951.0, 740 951.5 C746 951.0, 748 945.0, 744 938.0 C738 928.0, 732 920.0, 729.6 913.5 C726 905.0, 722 895.0, 716 884.0 C708 872.0, 698 865.0, 684 865.9Z" fill="none" stroke="#3cb44b" stroke-width="1.5" /><path d="M684 977.7 C674 977.8, 664 986.8, 668 1001.8 C674 1013.8, 700 1029.8, 719 1044.4 C728 1052.8, 734 1062.8, 740 1063.3 C746 1062.8, 748 1056.8, 744 1049.8 C738 1039.8, 732 1031.8, 729.6 1025.3 C726 1016.8, 722 1006.8, 716 995.8 C708 983.8, 698 976.8, 684 977.7Z" fill="none" stroke="#3cb44b" stroke-width="1.5" /><text x="735.30" y="872.90" style="font-size:11.09px;" fill="#231f20" >PB</text><line x1="712.6" y1="879.2" x2="733.2" y2="870.8" stroke="#231f20" stroke-width="1.1" /><text x="735.30" y="985.10" style="font-size:11.09px;" fill="#231f20" >PB</text><line x1="712.6" y1="991.9" x2="733.2" y2="983" stroke="#231f20" stroke-width="1.1" /><rect x="657.1" y="1076.2" width="11.7" height="3" fill="#231f20" /><text transform="translate(649.10,908.20) rotate(-90)" text-anchor="middle" style="font-size:11.30px" fill="#231f20">Control</text><text transform="translate(649.1,1061.8) rotate(-90)" style="font-size:11.3px;font-style:italic" fill="#231f20">Calca<tspan dy="-4.5" style="font-size:7.6px">taCasp3-TEVp</tspan></text><text x="778.20" y="851.50" style="font-size:19.0px;font-weight:bold" fill="#000" stroke="#000" stroke-width="0.6">q</text><text x="826.30" y="860.50" style="font-size:11.71px;" fill="#231f20" >Consume</text><text x="881.80" y="860.50" style="font-size:11.23px;" fill="#231f20" >Delay</text><text x="940.20" y="860.50" style="font-size:11.39px;" fill="#231f20" >LiCl malaise</text><line x1="835.6" y1="864.8" x2="866" y2="864.8" stroke="#231f20" stroke-width="1.8" /><line x1="866" y1="864.8" x2="926.6" y2="864.8" stroke="#d0d0d0" stroke-width="1.8" /><line x1="926.6" y1="864.8" x2="1016.5" y2="864.8" stroke="#231f20" stroke-width="1.8" /><line x1="829.1" y1="872.3" x2="829.1" y2="1052.9" stroke="#231f20" stroke-width="1.0" /><line x1="822.1" y1="872.3" x2="829.6" y2="872.3" stroke="#231f20" stroke-width="1.0" /><text x="814.90" y="876.20" text-anchor="end" style="font-size:11.30px;" fill="#231f20">0.3</text><line x1="822.1" y1="917.4" x2="829.6" y2="917.4" stroke="#231f20" stroke-width="1.0" /><text x="814.90" y="921.30" text-anchor="end" style="font-size:11.30px;" fill="#231f20">0.2</text><line x1="822.1" y1="962.6" x2="829.6" y2="962.6" stroke="#231f20" stroke-width="1.0" /><text x="814.90" y="966.50" text-anchor="end" style="font-size:11.30px;" fill="#231f20">0.1</text><line x1="822.1" y1="1007.4" x2="829.6" y2="1007.4" stroke="#231f20" stroke-width="1.0" /><text x="814.90" y="1011.30" text-anchor="end" style="font-size:11.30px;" fill="#231f20">0</text><line x1="822.1" y1="1052.9" x2="829.6" y2="1052.9" stroke="#231f20" stroke-width="1.0" /><text x="814.90" y="1056.80" text-anchor="end" style="font-size:11.30px;" fill="#231f20">−0.1</text><line x1="835.6" y1="1059.5" x2="1016.5" y2="1059.5" stroke="#231f20" stroke-width="1.0" /><line x1="835.6" y1="1059" x2="835.6" y2="1066.5" stroke="#231f20" stroke-width="1.0" /><text x="835.60" y="1082.20" text-anchor="middle" style="font-size:11.30px;" fill="#231f20">0</text><line x1="865.8" y1="1059" x2="865.8" y2="1066.5" stroke="#231f20" stroke-width="1.0" /><text x="865.75" y="1082.20" text-anchor="middle" style="font-size:11.30px;" fill="#231f20">15</text><line x1="895.9" y1="1059" x2="895.9" y2="1066.5" stroke="#231f20" stroke-width="1.0" /><text x="895.90" y="1082.20" text-anchor="middle" style="font-size:11.30px;" fill="#231f20">30</text><line x1="926" y1="1059" x2="926" y2="1066.5" stroke="#231f20" stroke-width="1.0" /><text x="926.05" y="1082.20" text-anchor="middle" style="font-size:11.30px;" fill="#231f20">45</text><line x1="956.2" y1="1059" x2="956.2" y2="1066.5" stroke="#231f20" stroke-width="1.0" /><text x="956.20" y="1082.20" text-anchor="middle" style="font-size:11.30px;" fill="#231f20">60</text><line x1="986.4" y1="1059" x2="986.4" y2="1066.5" stroke="#231f20" stroke-width="1.0" /><text x="986.35" y="1082.20" text-anchor="middle" style="font-size:11.30px;" fill="#231f20">75</text><line x1="1016.5" y1="1059" x2="1016.5" y2="1066.5" stroke="#231f20" stroke-width="1.0" /><text x="1016.50" y="1082.20" text-anchor="middle" style="font-size:11.30px;" fill="#231f20">90</text><text x="925.90" y="1101.80" text-anchor="middle" style="font-size:11.30px;" fill="#231f20">Time (min)</text><text transform="translate(786,962.8) rotate(-90)" text-anchor="middle" style="font-size:11.3px" fill="#231f20">Spiking (<tspan style="font-style:italic">σ</tspan>)</text><path d="M835.6 968.8L837.1 966.7L838.6 967.1L840.1 969.8L841.6 974.4L843.1 978.8L844.6 983.1L846.2 984.1L847.7 982.4L849.2 983.2L850.7 982.6L852.2 985L853.7 984.3L855.2 983.4L856.7 985L858.2 981.6L859.7 981L861.2 977.4L862.7 983.8L864.2 985.6L865.8 982.3L867.3 984L868.8 982.5L870.3 983.1L871.8 985.3L873.3 985.8L874.8 986.5L876.3 994.3L877.8 999.1L879.3 997.3L880.8 997.9L882.3 996.4L883.8 998.5L885.3 996.7L886.9 999L888.4 999.2L889.9 998.6L891.4 1001.3L892.9 1001L894.4 1001.5L895.9 996.3L897.4 999.1L898.9 999L900.4 998.9L901.9 1001.6L903.4 1005L904.9 1001.5L906.5 1003.1L908 1000.1L909.5 1004.2L911 1004.2L912.5 999.4L914 998.5L915.5 1003.4L917 1004.5L918.5 1001.2L920 997.6L921.5 997.2L923 994.5L924.5 997.1L926 992L927.6 991.5L929.1 996.6L930.6 1002.2L932.1 1002.9L933.6 1001.4L935.1 1008.6L936.6 1008.1L938.1 1010L939.6 1008.8L941.1 1009.1L942.6 1008.2L944.1 1005.3L945.6 1007.3L947.2 1005.7L948.7 1007.4L950.2 1009.2L951.7 1007.1L953.2 1013.9L954.7 1008.5L956.2 1006.4L957.7 1010.9L959.2 1008.3L960.7 1010.2L962.2 1014.7L963.7 1012L965.2 1013.9L966.8 1013.9L968.3 1012.9L969.8 1009.8L971.3 1011.9L972.8 1014.1L974.3 1013.4L975.8 1019.1L977.3 1014.3L978.8 1017.6L980.3 1016.6L981.8 1019.1L983.3 1020.8L984.8 1019.9L986.4 1013.7L987.9 1016L989.4 1018.9L990.9 1019.7L992.4 1021.7L993.9 1020.8L995.4 1021.8L996.9 1019.2L998.4 1021.6L999.9 1020.1L1001.4 1019.8L1002.9 1019.1L1004.4 1016.2L1005.9 1015.3L1007.5 1015L1009 1013.8L1010.5 1013.7L1012 1018.5L1013.5 1016.3L1015 1021L1016.5 1019.5L1016.5 1029.4L1015 1032.3L1013.5 1027.5L1012 1029.9L1010.5 1022.9L1009 1022.9L1007.5 1024.3L1005.9 1025.9L1004.4 1025.6L1002.9 1030.6L1001.4 1031.4L999.9 1030.8L998.4 1032.9L996.9 1029L995.4 1031.8L993.9 1030.8L992.4 1033L990.9 1030.3L989.4 1030L987.9 1025.6L986.4 1025.2L984.8 1029.4L983.3 1030.1L981.8 1030.1L980.3 1026.2L978.8 1029.3L977.3 1024.7L975.8 1029.9L974.3 1024.8L972.8 1024.1L971.3 1023.5L969.8 1021.1L968.3 1023.7L966.8 1023.5L965.2 1023.8L963.7 1023.1L962.2 1026.4L960.7 1020.1L959.2 1017.9L957.7 1020L956.2 1017.9L954.7 1019.9L953.2 1023.8L951.7 1017.5L950.2 1019L948.7 1018.3L947.2 1015L945.6 1016.9L944.1 1015.5L942.6 1019L941.1 1018.7L939.6 1018.8L938.1 1020L936.6 1018.5L935.1 1019.5L933.6 1013.1L932.1 1014.3L930.6 1011.7L929.1 1007.2L927.6 1003.1L926 1003.3L924.5 1006.3L923 1005.9L921.5 1006.2L920 1007.3L918.5 1011.4L917 1015.5L915.5 1014.9L914 1008.4L912.5 1010.8L911 1014.1L909.5 1015.6L908 1011.8L906.5 1012.9L904.9 1010.6L903.4 1015.7L901.9 1011.5L900.4 1009.5L898.9 1009.1L897.4 1009.9L895.9 1006L894.4 1011.9L892.9 1012.2L891.4 1012.9L889.9 1008.2L888.4 1009.7L886.9 1009.9L885.3 1007.6L883.8 1008L882.3 1007.3L880.8 1007.3L879.3 1006.4L877.8 1008.2L876.3 1005.5L874.8 1007.9L873.3 1005L871.8 1006.1L870.3 1006L868.8 1001.1L867.3 1003L865.8 1002.7L864.2 1005.7L862.7 1001.9L861.2 998L859.7 1000.7L858.2 1002.1L856.7 1006.9L855.2 1002.9L853.7 1003.3L852.2 1005.9L850.7 1001.5L849.2 1001.6L847.7 1002.3L846.2 1005.5L844.6 1001.8L843.1 998.1L841.6 996.5L840.1 987.9L838.6 985.2L837.1 985.2L835.6 990.5Z" fill="#c9ddef" fill-opacity="0.75" stroke="none"/><path d="M835.6 966.6L837.1 969.9L838.6 970.5L840.1 969L841.6 966.6L843.1 970.4L844.6 969L846.2 970.2L847.7 971.2L849.2 972.3L850.7 973.3L852.2 974.3L853.7 974.2L855.2 974.1L856.7 976.3L858.2 980.1L859.7 971.9L861.2 975.9L862.7 975L864.2 974.2L865.8 984.8L867.3 986.7L868.8 988.9L870.3 989.6L871.8 993.3L873.3 990.3L874.8 995.6L876.3 995.2L877.8 995.5L879.3 995.6L880.8 996.8L882.3 996L883.8 1003.7L885.3 999.6L886.9 999.2L888.4 999.3L889.9 996.4L891.4 1000.3L892.9 1001.1L894.4 1004.7L895.9 1002.3L897.4 1004.5L898.9 1005.3L900.4 998.4L901.9 999.6L903.4 1001.8L904.9 1001.9L906.5 1005L908 1005.9L909.5 1003.4L911 1007L912.5 1004.3L914 1006.5L915.5 1004.6L917 1005.8L918.5 1000.3L920 999.5L921.5 1001.6L923 1003.9L924.5 1002.3L926 1000.1L927.6 1001L929.1 999.4L930.6 996.7L932.1 998L933.6 999.3L935.1 997.6L936.6 998.9L938.1 997.1L939.6 999.3L941.1 995.8L942.6 998.2L944.1 1000.7L945.6 999.3L947.2 999.4L948.7 1000.6L950.2 999.2L951.7 996.7L953.2 1001.8L954.7 999.6L956.2 998.3L957.7 998.6L959.2 996.9L960.7 999.4L962.2 997.2L963.7 997.6L965.2 996.4L966.8 997.1L968.3 998.5L969.8 998.8L971.3 997.6L972.8 994.3L974.3 995.8L975.8 996.3L977.3 997.7L978.8 999.6L980.3 998.2L981.8 994.4L983.3 1000.6L984.8 997.5L986.4 997.1L987.9 997.4L989.4 996.6L990.9 994.9L992.4 992.4L993.9 993.5L995.4 993.1L996.9 995.1L998.4 994.6L999.9 994.6L1001.4 994.6L1002.9 995.3L1004.4 993.6L1005.9 992.1L1007.5 994.3L1009 995.1L1010.5 995.5L1012 997.7L1013.5 997.4L1015 999.1L1016.5 1002.6L1016.5 1011.6L1015 1007.3L1013.5 1005.4L1012 1006L1010.5 1004.3L1009 1004L1007.5 1002.9L1005.9 999.3L1004.4 1002.3L1002.9 1004.6L1001.4 1003.2L999.9 1003.6L998.4 1002L996.9 1002.6L995.4 1000.6L993.9 1001.6L992.4 1001.2L990.9 1003.1L989.4 1004.7L987.9 1005.9L986.4 1004.8L984.8 1006.4L983.3 1008L981.8 1003.7L980.3 1006.2L978.8 1007.4L977.3 1005.1L975.8 1004.8L974.3 1003.4L972.8 1002.6L971.3 1005.7L969.8 1007L968.3 1005.7L966.8 1005.8L965.2 1005.5L963.7 1005.5L962.2 1004.6L960.7 1008.1L959.2 1004.2L957.7 1006.6L956.2 1007.6L954.7 1007.5L953.2 1010.3L951.7 1005.9L950.2 1007.5L948.7 1008.7L947.2 1008.3L945.6 1006.7L944.1 1008.3L942.6 1006.5L941.1 1003.9L939.6 1006.6L938.1 1005.6L936.6 1007.2L935.1 1005.8L933.6 1008.1L932.1 1007.3L930.6 1005.9L929.1 1007.1L927.6 1009.6L926 1008L924.5 1010.5L923 1012.3L921.5 1009.3L920 1007.2L918.5 1007.9L917 1013.3L915.5 1012.3L914 1015.3L912.5 1011.7L911 1015.1L909.5 1010.7L908 1013.1L906.5 1013.3L904.9 1010.1L903.4 1009.6L901.9 1008.3L900.4 1007.3L898.9 1013.9L897.4 1013L895.9 1010L894.4 1012.9L892.9 1008.8L891.4 1009.7L889.9 1005.6L888.4 1008.7L886.9 1007.5L885.3 1008.2L883.8 1011.1L882.3 1003.6L880.8 1004.1L879.3 1002.9L877.8 1003.1L876.3 1003.7L874.8 1002.9L873.3 998.4L871.8 1001.8L870.3 997.4L868.8 998.2L867.3 994.3L865.8 993.1L864.2 1004.5L862.7 1006.8L861.2 1004L859.7 1006.1L858.2 1010.8L856.7 1004.2L855.2 1003.8L853.7 1006.6L852.2 1003.2L850.7 1004.2L849.2 1005.1L847.7 1005.3L846.2 1003.4L844.6 1003.4L843.1 1003.4L841.6 999.8L840.1 999.7L838.6 997.8L837.1 999.7L835.6 994.6Z" fill="#d4d4d4" fill-opacity="0.75" stroke="none"/><path d="M835.6 988.2L837.1 984.3L838.6 986.3L840.1 981.8L841.6 984.1L843.1 984L844.6 978L846.2 980.1L847.7 983.4L849.2 982.8L850.7 982.5L852.2 985.3L853.7 982.8L855.2 984.5L856.7 982.6L858.2 981.1L859.7 982.2L861.2 981.9L862.7 980.6L864.2 979.5L865.8 982.8L867.3 984.3L868.8 985.7L870.3 990.4L871.8 989.4L873.3 990.5L874.8 990.7L876.3 994.9L877.8 995.1L879.3 1000.2L880.8 998.3L882.3 1002.1L883.8 1001.3L885.3 996.6L886.9 1001.9L888.4 997.7L889.9 997.1L891.4 997.9L892.9 996.3L894.4 996.3L895.9 995.3L897.4 998.5L898.9 1000L900.4 1001.5L901.9 1002.3L903.4 1000.4L904.9 1002.4L906.5 998.7L908 1004.1L909.5 1004.9L911 1005L912.5 1008.8L914 1001.5L915.5 1009.2L917 1005.8L918.5 1005.9L920 1000.4L921.5 1006.5L923 1001.2L924.5 1000.8L926 991.1L927.6 992.2L929.1 989.8L930.6 991.5L932.1 990.1L933.6 988.6L935.1 985.7L936.6 993.2L938.1 986.6L939.6 986.8L941.1 988.6L942.6 987.3L944.1 988.7L945.6 984.3L947.2 986.3L948.7 987.4L950.2 987.7L951.7 987.7L953.2 986.5L954.7 988.2L956.2 980.9L957.7 989.6L959.2 994.5L960.7 989.1L962.2 987.3L963.7 986L965.2 987.1L966.8 988.1L968.3 988.3L969.8 985.7L971.3 989.6L972.8 990.4L974.3 985.1L975.8 987.3L977.3 991.3L978.8 983.8L980.3 985.6L981.8 989.3L983.3 991.5L984.8 987.6L986.4 989.6L987.9 989.8L989.4 991L990.9 989.4L992.4 984.4L993.9 985.9L995.4 989.5L996.9 983.9L998.4 982.2L999.9 979L1001.4 975.9L1002.9 978.3L1004.4 976.3L1005.9 979.3L1007.5 986.5L1009 985.3L1010.5 983.6L1012 985.9L1013.5 988.5L1015 989.7L1016.5 991.4L1016.5 1004.7L1015 1002.1L1013.5 1000.7L1012 998.5L1010.5 995.3L1009 997L1007.5 997.5L1005.9 992.9L1004.4 989.2L1002.9 989.1L1001.4 989.4L999.9 992.4L998.4 996L996.9 997.3L995.4 1000.9L993.9 999.4L992.4 997L990.9 1000.9L989.4 1003L987.9 1003.2L986.4 1002L984.8 1001.2L983.3 1003.1L981.8 1001.2L980.3 998.4L978.8 997.7L977.3 1003.5L975.8 999.9L974.3 998.1L972.8 1002.2L971.3 1001L969.8 998.9L968.3 999.1L966.8 1000.8L965.2 1000.8L963.7 999.7L962.2 1001.1L960.7 1002.2L959.2 1008.2L957.7 1000.5L956.2 994.3L954.7 1000L953.2 999.2L951.7 998.8L950.2 999.3L948.7 999.3L947.2 998L945.6 996.8L944.1 1001.7L942.6 1000.8L941.1 1001.9L939.6 998.3L938.1 1000.4L936.6 1007.1L935.1 997.9L933.6 1002.6L932.1 1003.8L930.6 1005.4L929.1 1000.6L927.6 1003.5L926 1002.6L924.5 1010.9L923 1011.4L921.5 1016.7L920 1010.3L918.5 1015.6L917 1017L915.5 1019L914 1010.9L912.5 1018.7L911 1016.2L909.5 1015.7L908 1015.3L906.5 1008.5L904.9 1012L903.4 1011.7L901.9 1013.5L900.4 1011.1L898.9 1010.5L897.4 1007.8L895.9 1004.9L894.4 1006.6L892.9 1007.7L891.4 1008.7L889.9 1007L888.4 1007.2L886.9 1013.2L885.3 1006.8L883.8 1012.5L882.3 1012L880.8 1008.2L879.3 1009.5L877.8 1006.1L876.3 1005.1L874.8 1000.3L873.3 1000.2L871.8 1000.6L870.3 1000L868.8 995.6L867.3 995.3L865.8 993.4L864.2 988.6L862.7 991.7L861.2 991.9L859.7 992.1L858.2 991.7L856.7 992.6L855.2 994.3L853.7 992.8L852.2 995.1L850.7 993.1L849.2 993.1L847.7 993.1L846.2 991.7L844.6 988.8L843.1 993.2L841.6 993.2L840.1 992.8L838.6 997.2L837.1 994.3L835.6 999.1Z" fill="#f8c9c6" fill-opacity="0.75" stroke="none"/><path d="M835.6 979.7L837.1 975.9L838.6 976.1L840.1 978.8L841.6 985.4L843.1 988.5L844.6 992.5L846.2 994.8L847.7 992.4L849.2 992.4L850.7 992.1L852.2 995.4L853.7 993.8L855.2 993.2L856.7 995.9L858.2 991.9L859.7 990.8L861.2 987.7L862.7 992.9L864.2 995.6L865.8 992.5L867.3 993.5L868.8 991.8L870.3 994.5L871.8 995.7L873.3 995.4L874.8 997.2L876.3 999.9L877.8 1003.7L879.3 1001.9L880.8 1002.6L882.3 1001.9L883.8 1003.2L885.3 1002.2L886.9 1004.4L888.4 1004.5L889.9 1003.4L891.4 1007.1L892.9 1006.6L894.4 1006.7L895.9 1001.2L897.4 1004.5L898.9 1004.1L900.4 1004.2L901.9 1006.6L903.4 1010.3L904.9 1006.1L906.5 1008L908 1006L909.5 1009.9L911 1009.1L912.5 1005.1L914 1003.5L915.5 1009.2L917 1010L918.5 1006.3L920 1002.5L921.5 1001.7L923 1000.2L924.5 1001.7L926 997.6L927.6 997.3L929.1 1001.9L930.6 1006.9L932.1 1008.6L933.6 1007.2L935.1 1014L936.6 1013.3L938.1 1015L939.6 1013.8L941.1 1013.9L942.6 1013.6L944.1 1010.4L945.6 1012.1L947.2 1010.3L948.7 1012.8L950.2 1014.1L951.7 1012.3L953.2 1018.8L954.7 1014.2L956.2 1012.1L957.7 1015.4L959.2 1013.1L960.7 1015.1L962.2 1020.5L963.7 1017.5L965.2 1018.9L966.8 1018.7L968.3 1018.3L969.8 1015.5L971.3 1017.7L972.8 1019.1L974.3 1019.1L975.8 1024.5L977.3 1019.5L978.8 1023.4L980.3 1021.4L981.8 1024.6L983.3 1025.4L984.8 1024.6L986.4 1019.4L987.9 1020.8L989.4 1024.4L990.9 1025L992.4 1027.4L993.9 1025.8L995.4 1026.8L996.9 1024.1L998.4 1027.3L999.9 1025.4L1001.4 1025.6L1002.9 1024.8L1004.4 1020.9L1005.9 1020.6L1007.5 1019.7L1009 1018.4L1010.5 1018.3L1012 1024.2L1013.5 1021.9L1015 1026.6L1016.5 1024.5" fill="none" stroke="#3a87c8" stroke-width="1.3" stroke-linejoin="round" /><path d="M835.6 980.6L837.1 984.8L838.6 984.1L840.1 984.4L841.6 983.2L843.1 986.9" fill="none" stroke="#1a1a1a" stroke-width="1.3" stroke-linejoin="round" stroke-dasharray="2 3"/><path d="M962.2 1000.9L963.7 1001.5L965.2 1001L966.8 1001.4L968.3 1002.1L969.8 1002.9L971.3 1001.7L972.8 998.4L974.3 999.6L975.8 1000.6L977.3 1001.4L978.8 1003.5L980.3 1002.2L981.8 999.1L983.3 1004.3L984.8 1002L986.4 1000.9L987.9 1001.6L989.4 1000.7L990.9 999L992.4 996.8L993.9 997.5L995.4 996.9L996.9 998.9L998.4 998.3L999.9 999.1L1001.4 998.9L1002.9 1000L1004.4 997.9L1005.9 995.7L1007.5 998.6L1009 999.6L1010.5 999.9L1012 1001.8L1013.5 1001.4L1015 1003.2L1016.5 1007.1" fill="none" stroke="#1a1a1a" stroke-width="1.3" stroke-linejoin="round" /><path d="M835.6 993.7L837.1 989.3L838.6 991.7L840.1 987.3L841.6 988.6L843.1 988.6L844.6 983.4L846.2 985.9L847.7 988.2L849.2 988L850.7 987.8L852.2 990.2L853.7 987.8L855.2 989.4L856.7 987.6L858.2 986.4L859.7 987.1L861.2 986.9L862.7 986.2L864.2 984.1L865.8 988.1L867.3 989.8L868.8 990.6L870.3 995.2L871.8 995L873.3 995.4L874.8 995.5L876.3 1000L877.8 1000.6L879.3 1004.9L880.8 1003.3L882.3 1007.1L883.8 1006.9L885.3 1001.7L886.9 1007.6L888.4 1002.5L889.9 1002L891.4 1003.3L892.9 1002L894.4 1001.4L895.9 1000.1L897.4 1003.1L898.9 1005.3L900.4 1006.3L901.9 1007.9L903.4 1006.1L904.9 1007.2L906.5 1003.6L908 1009.7L909.5 1010.3L911 1010.6L912.5 1013.8L914 1006.2L915.5 1014.1L917 1011.4L918.5 1010.7L920 1005.3L921.5 1011.6L923 1006.3L924.5 1005.8L926 996.8L927.6 997.9L929.1 995.2L930.6 998.4L932.1 997L933.6 995.6L935.1 991.8L936.6 1000.1L938.1 993.5L939.6 992.5L941.1 995.2L942.6 994L944.1 995.2L945.6 990.5L947.2 992.1L948.7 993.3L950.2 993.5L951.7 993.2L953.2 992.9L954.7 994.1L956.2 987.6L957.7 995.1L959.2 1001.4L960.7 995.6L962.2 994.2L963.7 992.8L965.2 994L966.8 994.4L968.3 993.7L969.8 992.3L971.3 995.3L972.8 996.3L974.3 991.6L975.8 993.6L977.3 997.4L978.8 990.8L980.3 992L981.8 995.3L983.3 997.3L984.8 994.4L986.4 995.8L987.9 996.5L989.4 997L990.9 995.1L992.4 990.7L993.9 992.6L995.4 995.2L996.9 990.6L998.4 989.1L999.9 985.7L1001.4 982.7L1002.9 983.7L1004.4 982.7L1005.9 986.1L1007.5 992L1009 991.2L1010.5 989.4L1012 992.2L1013.5 994.6L1015 995.9L1016.5 998.1" fill="none" stroke="#e8302a" stroke-width="1.3" stroke-linejoin="round" /><line x1="834.5" y1="1025.3" x2="843.4" y2="1025.3" stroke="#1a1a1a" stroke-width="1.6" /><text x="850.60" y="1029.10" style="font-size:10.32px;" fill="#231f20" >Nonselective</text><line x1="834.5" y1="1037.8" x2="843.4" y2="1037.8" stroke="#3a87c8" stroke-width="1.6" /><text x="850.60" y="1041.60" style="font-size:10.49px;" fill="#231f20" >Water-preferring</text><line x1="834.5" y1="1051" x2="843.4" y2="1051" stroke="#e8302a" stroke-width="1.6" /><text x="850.60" y="1054.80" style="font-size:10.36px;" fill="#231f20" >Flavour-preferring</text><line x1="894.6" y1="899.9" x2="894.6" y2="945.3" stroke="#231f20" stroke-width="1.0" /><line x1="887.6" y1="899.9" x2="895.1" y2="899.9" stroke="#231f20" stroke-width="1.0" /><text x="883.20" y="903.80" text-anchor="end" style="font-size:11.30px;" fill="#231f20">0.5</text><line x1="887.6" y1="945.3" x2="895.1" y2="945.3" stroke="#231f20" stroke-width="1.0" /><text x="883.20" y="949.20" text-anchor="end" style="font-size:11.30px;" fill="#231f20">−0.2</text><text transform="translate(842,922.3) rotate(-90)" text-anchor="middle" style="font-size:11.3px" fill="#231f20">LiCl</text><text transform="translate(852.5,922.3) rotate(-90)" text-anchor="middle" style="font-size:11.3px" fill="#231f20">response</text><line x1="901.9" y1="927.1" x2="901.9" y2="933.5" stroke="#e8302a" stroke-width="1.5" /><line x1="901.9" y1="929.6" x2="901.9" y2="935.4" stroke="#e8302a" stroke-width="1.5" /><rect x="898.3" y="929.6" width="7.2" height="3.9" fill="#f6c1bd" stroke="#e8302a" stroke-width="1.5"/><line x1="898.3" y1="931.5" x2="905.5" y2="931.5" stroke="#e8302a" stroke-width="1.5" /><line x1="900.1" y1="927.1" x2="903.7" y2="927.1" stroke="#e8302a" stroke-width="0.8" /><line x1="900.1" y1="935.4" x2="903.7" y2="935.4" stroke="#e8302a" stroke-width="0.8" /><line x1="912.2" y1="929" x2="912.2" y2="934.9" stroke="#3a87c8" stroke-width="1.5" /><line x1="912.2" y1="931.1" x2="912.2" y2="936.7" stroke="#3a87c8" stroke-width="1.5" /><rect x="908.6" y="931.1" width="7.2" height="3.8" fill="#c6dbee" stroke="#3a87c8" stroke-width="1.5"/><line x1="908.6" y1="933" x2="915.8" y2="933" stroke="#3a87c8" stroke-width="1.5" /><line x1="910.4" y1="929" x2="914" y2="929" stroke="#3a87c8" stroke-width="0.8" /><line x1="910.4" y1="936.7" x2="914" y2="936.7" stroke="#3a87c8" stroke-width="0.8" /><line x1="922.3" y1="926.2" x2="922.3" y2="933.1" stroke="#1a1a1a" stroke-width="1.5" /><line x1="922.3" y1="929.4" x2="922.3" y2="935.4" stroke="#1a1a1a" stroke-width="1.5" /><rect x="918.7" y="929.4" width="7.2" height="3.7" fill="#555" stroke="#1a1a1a" stroke-width="1.5"/><line x1="918.7" y1="931.2" x2="925.9" y2="931.2" stroke="#1a1a1a" stroke-width="1.5" /><line x1="920.5" y1="926.2" x2="924.1" y2="926.2" stroke="#1a1a1a" stroke-width="0.8" /><line x1="920.5" y1="935.4" x2="924.1" y2="935.4" stroke="#1a1a1a" stroke-width="0.8" /><text x="1043.30" y="851.50" style="font-size:19.0px;font-weight:bold" fill="#000" stroke="#000" stroke-width="0.6">r</text><text x="1101.40" y="860.50" style="font-size:11.66px;" fill="#231f20" >Delay</text><text x="1141.90" y="860.50" style="font-size:11.44px;" fill="#231f20" >Malaise</text><line x1="1098.9" y1="864.8" x2="1134" y2="864.8" stroke="#d0d0d0" stroke-width="1.8" /><line x1="1134" y1="864.8" x2="1188.5" y2="864.8" stroke="#231f20" stroke-width="1.8" /><line x1="1097.8" y1="877.7" x2="1106.8" y2="877.7" stroke="#3a87c8" stroke-width="1.6" /><text x="1113.20" y="881.20" style="font-size:10.49px;" fill="#231f20" >Water</text><line x1="1097.8" y1="892" x2="1106.8" y2="892" stroke="#e8302a" stroke-width="1.6" /><text x="1113.20" y="895.60" style="font-size:10.45px;" fill="#231f20" >Novel flavour</text><line x1="1091.6" y1="872.3" x2="1091.6" y2="1052.3" stroke="#231f20" stroke-width="1.0" /><line x1="1084.3" y1="872.3" x2="1092.1" y2="872.3" stroke="#231f20" stroke-width="1.0" /><text x="1077.40" y="876.20" text-anchor="end" style="font-size:11.30px;" fill="#231f20">20</text><line x1="1084.3" y1="917.4" x2="1092.1" y2="917.4" stroke="#231f20" stroke-width="1.0" /><text x="1077.40" y="921.30" text-anchor="end" style="font-size:11.30px;" fill="#231f20">15</text><line x1="1084.3" y1="962.6" x2="1092.1" y2="962.6" stroke="#231f20" stroke-width="1.0" /><text x="1077.40" y="966.50" text-anchor="end" style="font-size:11.30px;" fill="#231f20">10</text><line x1="1084.3" y1="1007.4" x2="1092.1" y2="1007.4" stroke="#231f20" stroke-width="1.0" /><text x="1077.40" y="1011.30" text-anchor="end" style="font-size:11.30px;" fill="#231f20">5</text><line x1="1084.3" y1="1052.3" x2="1092.1" y2="1052.3" stroke="#231f20" stroke-width="1.0" /><text x="1077.40" y="1056.20" text-anchor="end" style="font-size:11.30px;" fill="#231f20">0</text><line x1="1098.4" y1="1059.5" x2="1188.5" y2="1059.5" stroke="#231f20" stroke-width="1.0" /><line x1="1097.7" y1="1059" x2="1097.7" y2="1066.8" stroke="#231f20" stroke-width="1.0" /><line x1="1115.8" y1="1059" x2="1115.8" y2="1066.8" stroke="#231f20" stroke-width="1.0" /><line x1="1134" y1="1059" x2="1134" y2="1066.8" stroke="#231f20" stroke-width="1.0" /><line x1="1152.2" y1="1059" x2="1152.2" y2="1066.8" stroke="#231f20" stroke-width="1.0" /><line x1="1170.3" y1="1059" x2="1170.3" y2="1066.8" stroke="#231f20" stroke-width="1.0" /><line x1="1188.5" y1="1059" x2="1188.5" y2="1066.8" stroke="#231f20" stroke-width="1.0" /><text transform="translate(1104.2,1078.5) rotate(-45)" text-anchor="end" style="font-size:11.3px" fill="#231f20">−30</text><text transform="translate(1122.3,1078.5) rotate(-45)" text-anchor="end" style="font-size:11.3px" fill="#231f20">−15</text><text transform="translate(1140.5,1078.5) rotate(-45)" text-anchor="end" style="font-size:11.3px" fill="#231f20">0</text><text transform="translate(1158.7,1078.5) rotate(-45)" text-anchor="end" style="font-size:11.3px" fill="#231f20">15</text><text transform="translate(1176.8,1078.5) rotate(-45)" text-anchor="end" style="font-size:11.3px" fill="#231f20">30</text><text transform="translate(1195.0,1078.5) rotate(-45)" text-anchor="end" style="font-size:11.3px" fill="#231f20">45</text><text x="1142.50" y="1106.00" text-anchor="middle" style="font-size:11.30px;" fill="#231f20">Time (min)</text><text transform="translate(1051.70,962.60) rotate(-90)" text-anchor="middle" style="font-size:11.30px" fill="#231f20">Reactivations per min</text><path d="M1097.7 1033.2L1098.3 1033.2L1098.9 1031.1L1099.5 1035.3L1100.1 1035L1100.7 1035.3L1101.3 1035.9L1101.9 1027.4L1102.5 1025.3L1103.1 1030.2L1103.7 1032.7L1104.3 1034.5L1104.9 1034.1L1105.5 1036.3L1106.1 1039.1L1106.8 1037.8L1107.4 1036.6L1108 1036.4L1108.6 1028L1109.2 1022L1109.8 1026.4L1110.4 1026.9L1111 1033.4L1111.6 1035.1L1112.2 1039.5L1112.8 1039.4L1113.4 1042.5L1114 1040.2L1114.6 1040.7L1115.2 1038.9L1115.8 1041.8L1116.4 1041.2L1117 1039.5L1117.7 1041.2L1118.3 1039L1118.9 1040.8L1119.5 1039.9L1120.1 1043.6L1120.7 1035.5L1121.3 1035.6L1121.9 1040.8L1122.5 1036.5L1123.1 1039.5L1123.7 1035.5L1124.3 1035.3L1124.9 1036.8L1125.5 1042L1126.1 1035.7L1126.7 1044.8L1127.3 1036.3L1127.9 1040L1128.5 1040.9L1129.2 1036.4L1129.8 1037.1L1130.4 1033.5L1131 1033.1L1131.6 1033.1L1132.2 1032.7L1132.8 1036.7L1133.4 1028L1134 1032.8L1134 1026.7L1134.6 1005.7L1135.2 1005L1135.8 996.1L1136.4 991.5L1137 991.8L1137.6 1003.7L1138.3 1012L1138.9 1022.4L1139.5 1016.4L1140.1 1012.6L1140.7 1014.6L1141.3 1013.7L1141.9 1008.1L1142.5 1016.5L1143.1 1008.5L1143.7 1019.1L1144.3 1017.6L1144.9 1013L1145.5 1011.4L1146.1 1014.2L1146.7 1014.7L1147.3 1007.2L1147.9 1000.1L1148.5 997.9L1149.2 998.8L1149.8 1003.4L1150.4 1008.3L1151 1017L1151.6 1013L1152.2 1014.2L1152.8 1007.3L1153.4 1000.1L1154 989.1L1154.6 1003.3L1155.2 997.1L1155.8 1003L1156.4 996.3L1157 1005.5L1157.6 1009.7L1158.2 1008.9L1158.8 1003.9L1159.4 1007.5L1160.1 1015.8L1160.7 1002.7L1161.3 1011.3L1161.9 993.2L1162.5 999L1163.1 991.6L1163.7 1003.2L1164.3 1000.3L1164.9 1005L1165.5 1018.4L1166.1 1010.5L1166.7 1011.2L1167.3 1018.3L1167.9 1010.3L1168.5 1007.4L1169.1 1013.8L1169.7 1009L1170.3 1023L1171 1019.4L1171.6 1019.5L1172.2 1017.6L1172.8 1012L1173.4 1005.1L1174 1006.9L1174.6 1010L1175.2 1006.8L1175.8 1003.5L1176.4 1004.8L1177 997.6L1177.6 1004.9L1178.2 1006.5L1178.8 1005.6L1179.4 1004L1180 998.6L1180.6 1008L1181.2 1005.1L1181.9 1009.2L1182.5 1015.2L1183.1 1024.5L1183.7 1025.7L1184.3 1020.8L1184.9 1027.5L1185.5 1021.4L1186.1 1026.3L1186.7 1028.8L1187.3 1020.6L1187.9 1028.5L1188.5 1022.8L1188.5 1052.1L1187.9 1052.1L1187.3 1052.1L1186.7 1052.1L1186.1 1052.1L1185.5 1052.1L1184.9 1052.1L1184.3 1052.1L1183.7 1052.1L1183.1 1052.1L1182.5 1052.1L1181.9 1052.1L1181.2 1052.1L1180.6 1052.1L1180 1048.2L1179.4 1049.6L1178.8 1047.3L1178.2 1038.4L1177.6 1046.8L1177 1047L1176.4 1044.1L1175.8 1037.7L1175.2 1047.5L1174.6 1045.5L1174 1041.5L1173.4 1052.1L1172.8 1044.3L1172.2 1052.1L1171.6 1052.1L1171 1052.1L1170.3 1052.1L1169.7 1047L1169.1 1052.1L1168.5 1052.1L1167.9 1052.1L1167.3 1052.1L1166.7 1045.3L1166.1 1049.1L1165.5 1050.3L1164.9 1052.1L1164.3 1051.1L1163.7 1052.1L1163.1 1038.5L1162.5 1046L1161.9 1043.2L1161.3 1046L1160.7 1048.6L1160.1 1052.1L1159.4 1048.4L1158.8 1048.6L1158.2 1052.1L1157.6 1042.2L1157 1038.4L1156.4 1045.4L1155.8 1035.5L1155.2 1044.1L1154.6 1035.3L1154 1034.4L1153.4 1034.5L1152.8 1045.5L1152.2 1052.1L1151.6 1052.1L1151 1052.1L1150.4 1049.1L1149.8 1047.6L1149.2 1039.3L1148.5 1047.8L1147.9 1050.8L1147.3 1052.1L1146.7 1052.1L1146.1 1051.2L1145.5 1052.1L1144.9 1052.1L1144.3 1052.1L1143.7 1052.1L1143.1 1052.1L1142.5 1052.1L1141.9 1050.6L1141.3 1052.1L1140.7 1052.1L1140.1 1051.6L1139.5 1052.1L1138.9 1052.1L1138.3 1051.3L1137.6 1048.7L1137 1032.9L1136.4 1030.2L1135.8 1033.8L1135.2 1037.4L1134.6 1052.1L1134 1052.1L1134 1047.6L1133.4 1051.3L1132.8 1052.1L1132.2 1052.1L1131.6 1049.6L1131 1052.1L1130.4 1048.1L1129.8 1052.1L1129.2 1050.8L1128.5 1052.1L1127.9 1052.1L1127.3 1052.1L1126.7 1052.1L1126.1 1052.1L1125.5 1052.1L1124.9 1052.1L1124.3 1052.1L1123.7 1052.1L1123.1 1052.1L1122.5 1052.1L1121.9 1052.1L1121.3 1052.1L1120.7 1052.1L1120.1 1052.1L1119.5 1052.1L1118.9 1052.1L1118.3 1052.1L1117.7 1052.1L1117 1052.1L1116.4 1052.1L1115.8 1052.1L1115.2 1052.1L1114.6 1052.1L1114 1052.1L1113.4 1052.1L1112.8 1052.1L1112.2 1052.1L1111.6 1052.1L1111 1050.9L1110.4 1044.3L1109.8 1048.8L1109.2 1045.4L1108.6 1047.7L1108 1051.5L1107.4 1051.2L1106.8 1052.1L1106.1 1052.1L1105.5 1052.1L1104.9 1052.1L1104.3 1050.9L1103.7 1051.8L1103.1 1046.9L1102.5 1046.3L1101.9 1047.3L1101.3 1052.1L1100.7 1050.1L1100.1 1052.1L1099.5 1051.9L1098.9 1048.6L1098.3 1048.7L1097.7 1048.8Z" fill="#f8c9c6" fill-opacity="0.8" stroke="none"/><path d="M1097.7 1030.8L1098.3 1027.8L1098.9 1028.6L1099.5 1026L1100.1 1024.6L1100.7 1020.8L1101.3 1025L1101.9 1023.9L1102.5 1018L1103.1 1019.1L1103.7 1019.5L1104.3 1016.2L1104.9 1023.7L1105.5 1030.9L1106.1 1030.8L1106.8 1022.8L1107.4 1020.1L1108 1015.3L1108.6 1021.7L1109.2 1030.5L1109.8 1034.2L1110.4 1036.4L1111 1036.6L1111.6 1032.3L1112.2 1032.4L1112.8 1038.5L1113.4 1036.9L1114 1038.8L1114.6 1042.1L1115.2 1036.1L1115.8 1041.7L1116.4 1037.1L1117 1033.9L1117.7 1033.5L1118.3 1040.8L1118.9 1033.6L1119.5 1039L1120.1 1037L1120.7 1036.5L1121.3 1035.6L1121.9 1032.4L1122.5 1038.5L1123.1 1038.1L1123.7 1037.4L1124.3 1037.3L1124.9 1034.7L1125.5 1041.2L1126.1 1039.8L1126.7 1035.3L1127.3 1037.2L1127.9 1040L1128.5 1035.3L1129.2 1040L1129.8 1034.7L1130.4 1038.6L1131 1037.1L1131.6 1042.8L1132.2 1038.4L1132.8 1034.4L1133.4 1039.5L1134 1036.5L1134 1014.7L1134.6 1031L1135.2 1041.6L1135.8 1041.7L1136.4 1047.6L1137 1043L1137.6 1045.5L1138.3 1042.7L1138.9 1042.3L1139.5 1044.4L1140.1 1046L1140.7 1046.1L1141.3 1046L1141.9 1045.4L1142.5 1045.9L1143.1 1040.8L1143.7 1041.2L1144.3 1039.9L1144.9 1042.1L1145.5 1044L1146.1 1043.8L1146.7 1043.6L1147.3 1046.8L1147.9 1046.2L1148.5 1043L1149.2 1045.1L1149.8 1045L1150.4 1043.3L1151 1045.5L1151.6 1046.7L1152.2 1043.6L1152.8 1036.5L1153.4 1042.1L1154 1046.3L1154.6 1046.6L1155.2 1044.3L1155.8 1045.3L1156.4 1047.3L1157 1046L1157.6 1046.7L1158.2 1044L1158.8 1045L1159.4 1046.8L1160.1 1045.1L1160.7 1046.8L1161.3 1043L1161.9 1040.7L1162.5 1038L1163.1 1039.9L1163.7 1041.4L1164.3 1042.6L1164.9 1046.9L1165.5 1046.1L1166.1 1046.7L1166.7 1046.8L1167.3 1044.2L1167.9 1047.7L1168.5 1047.1L1169.1 1043.6L1169.7 1042.3L1170.3 1045.8L1171 1046.6L1171.6 1043.2L1172.2 1044.1L1172.8 1043.1L1173.4 1045.1L1174 1044.2L1174.6 1043.7L1175.2 1043.2L1175.8 1046.7L1176.4 1047.2L1177 1043.9L1177.6 1041.5L1178.2 1046.5L1178.8 1046.1L1179.4 1044.9L1180 1044.5L1180.6 1038.6L1181.2 1045.1L1181.9 1043.4L1182.5 1041.5L1183.1 1045.1L1183.7 1045.2L1184.3 1044.9L1184.9 1041.5L1185.5 1047.6L1186.1 1045.2L1186.7 1041.8L1187.3 1044.6L1187.9 1044.7L1188.5 1038.5L1188.5 1051.2L1187.9 1052.1L1187.3 1052.1L1186.7 1052.1L1186.1 1052.1L1185.5 1052.1L1184.9 1052.1L1184.3 1052.1L1183.7 1052.1L1183.1 1052.1L1182.5 1052.1L1181.9 1052.1L1181.2 1052.1L1180.6 1051.6L1180 1052.1L1179.4 1052.1L1178.8 1052.1L1178.2 1052.1L1177.6 1052.1L1177 1052.1L1176.4 1052.1L1175.8 1052.1L1175.2 1052.1L1174.6 1052.1L1174 1052.1L1173.4 1052.1L1172.8 1052.1L1172.2 1052.1L1171.6 1052.1L1171 1052.1L1170.3 1052.1L1169.7 1052.1L1169.1 1052.1L1168.5 1052.1L1167.9 1052.1L1167.3 1052.1L1166.7 1052.1L1166.1 1052.1L1165.5 1052.1L1164.9 1052.1L1164.3 1052.1L1163.7 1051.3L1163.1 1050.7L1162.5 1050.5L1161.9 1052.1L1161.3 1052.1L1160.7 1052.1L1160.1 1052.1L1159.4 1052.1L1158.8 1052.1L1158.2 1052.1L1157.6 1052.1L1157 1052.1L1156.4 1052.1L1155.8 1052.1L1155.2 1052.1L1154.6 1052.1L1154 1052.1L1153.4 1051.8L1152.8 1045.1L1152.2 1052.1L1151.6 1052.1L1151 1052.1L1150.4 1052.1L1149.8 1052.1L1149.2 1052.1L1148.5 1052.1L1147.9 1052.1L1147.3 1052.1L1146.7 1052.1L1146.1 1052.1L1145.5 1052.1L1144.9 1051L1144.3 1052.1L1143.7 1051.3L1143.1 1051.6L1142.5 1052.1L1141.9 1052.1L1141.3 1052.1L1140.7 1052.1L1140.1 1052.1L1139.5 1052.1L1138.9 1052.1L1138.3 1052.1L1137.6 1052.1L1137 1052.1L1136.4 1052.1L1135.8 1052.1L1135.2 1052.1L1134.6 1040.1L1134 1024.8L1134 1052.1L1133.4 1052.1L1132.8 1052.1L1132.2 1052.1L1131.6 1052.1L1131 1052.1L1130.4 1052.1L1129.8 1052.1L1129.2 1052.1L1128.5 1052.1L1127.9 1052.1L1127.3 1052.1L1126.7 1052.1L1126.1 1052.1L1125.5 1052.1L1124.9 1052.1L1124.3 1052.1L1123.7 1052.1L1123.1 1052.1L1122.5 1052.1L1121.9 1052.1L1121.3 1052.1L1120.7 1052.1L1120.1 1052.1L1119.5 1052.1L1118.9 1052.1L1118.3 1052.1L1117.7 1052.1L1117 1052.1L1116.4 1052.1L1115.8 1052.1L1115.2 1052.1L1114.6 1052.1L1114 1052.1L1113.4 1052.1L1112.8 1052.1L1112.2 1052.1L1111.6 1052.1L1111 1052.1L1110.4 1052.1L1109.8 1052.1L1109.2 1052.1L1108.6 1049.5L1108 1043L1107.4 1040.1L1106.8 1048.1L1106.1 1052.1L1105.5 1052.1L1104.9 1044.9L1104.3 1038.8L1103.7 1040.2L1103.1 1042.5L1102.5 1045.6L1101.9 1048.4L1101.3 1042.9L1100.7 1043.9L1100.1 1047.7L1099.5 1043.9L1098.9 1048.1L1098.3 1050.5L1097.7 1048.3Z" fill="#c9ddef" fill-opacity="0.75" stroke="none"/><path d="M1097.7 1039.5L1098.3 1039.1L1098.9 1038.3L1099.5 1035L1100.1 1036.2L1100.7 1032.3L1101.3 1033.9L1101.9 1036.1L1102.5 1031.8L1103.1 1030.8L1103.7 1029.9L1104.3 1027.5L1104.9 1034.3L1105.5 1042.4L1106.1 1043.5L1106.8 1035.5L1107.4 1030.1L1108 1029.1L1108.6 1035.6L1109.2 1041.4L1109.8 1045.1L1110.4 1046.8L1111 1045.4L1111.6 1044.6L1112.2 1044.9L1112.8 1049.4L1113.4 1047L1114 1050.8L1114.6 1050.9L1115.2 1047.4L1115.8 1051.8L1116.4 1046.9L1117 1046.8L1117.7 1046.8L1118.3 1051.2L1118.9 1046.4L1119.5 1048.4L1120.1 1050.3L1120.7 1048.2L1121.3 1049L1121.9 1046.2L1122.5 1049.5L1123.1 1049.8L1123.7 1050.7L1124.3 1049.2L1124.9 1047.4L1125.5 1051.6L1126.1 1050.4L1126.7 1046.2L1127.3 1047.4L1127.9 1048.9L1128.5 1046.1L1129.2 1049L1129.8 1047.3L1130.4 1047.3L1131 1049L1131.6 1052L1132.2 1048.7L1132.8 1046.4L1133.4 1050.9L1134 1049.8L1134 1019.8L1134.6 1035.5L1135.2 1047.6L1135.8 1047.5L1136.4 1052.1L1137 1047.9L1137.6 1050.8L1138.3 1048.6L1138.9 1047.6L1139.5 1049.3L1140.1 1052.1L1140.7 1052.1L1141.3 1052.1L1141.9 1051.6L1142.5 1050.9L1143.1 1046.2L1143.7 1046.3L1144.3 1046.1L1144.9 1046.5L1145.5 1049.7L1146.1 1048.5L1146.7 1048.5L1147.3 1052.1L1147.9 1052.1L1148.5 1049.3L1149.2 1051.1L1149.8 1050L1150.4 1049.4L1151 1049.9L1151.6 1051.5L1152.2 1050.4L1152.8 1040.8L1153.4 1046.9L1154 1050.7L1154.6 1052.1L1155.2 1050.3L1155.8 1052.1L1156.4 1052.1L1157 1052.1L1157.6 1051.1L1158.2 1048.8L1158.8 1049.9L1159.4 1052.1L1160.1 1051.2L1160.7 1052.1L1161.3 1047.6L1161.9 1047.1L1162.5 1044.3L1163.1 1045.3L1163.7 1046.4L1164.3 1048.7L1164.9 1052.1L1165.5 1052.1L1166.1 1051.6L1166.7 1051.7L1167.3 1050.9L1167.9 1052.1L1168.5 1052.1L1169.1 1048.6L1169.7 1049.2L1170.3 1051.8L1171 1051.7L1171.6 1048.7L1172.2 1049.6L1172.8 1048.1L1173.4 1050.7L1174 1049.1L1174.6 1049.8L1175.2 1048.5L1175.8 1052.1L1176.4 1052.1L1177 1050.5L1177.6 1047L1178.2 1052.1L1178.8 1052.1L1179.4 1050.1L1180 1050L1180.6 1045.1L1181.2 1049.8L1181.9 1049.3L1182.5 1047.6L1183.1 1051.2L1183.7 1050.3L1184.3 1051.1L1184.9 1047.9L1185.5 1052.1L1186.1 1052.1L1186.7 1048.4L1187.3 1049.5L1187.9 1049.6L1188.5 1044.9" fill="none" stroke="#3a87c8" stroke-width="1.3" stroke-linejoin="round" /><path d="M1097.7 1041L1098.3 1041L1098.9 1039.9L1099.5 1043.6L1100.1 1045.9L1100.7 1042.7L1101.3 1047.3L1101.9 1037.3L1102.5 1035.8L1103.1 1038.5L1103.7 1042.2L1104.3 1042.7L1104.9 1044.7L1105.5 1045.9L1106.1 1047.4L1106.8 1046.4L1107.4 1043.9L1108 1043.9L1108.6 1037.9L1109.2 1033.7L1109.8 1037.6L1110.4 1035.6L1111 1042.1L1111.6 1045.2L1112.2 1048.8L1112.8 1050.2L1113.4 1050.6L1114 1049.1L1114.6 1052.1L1115.2 1047.4L1115.8 1052.1L1116.4 1050.4L1117 1048.9L1117.7 1052.1L1118.3 1050.6L1118.9 1050.5L1119.5 1051.6L1120.1 1052L1120.7 1044.1L1121.3 1044.4L1121.9 1049.5L1122.5 1048.1L1123.1 1047.4L1123.7 1046.5L1124.3 1045.8L1124.9 1046.8L1125.5 1051.4L1126.1 1046.8L1126.7 1052.1L1127.3 1047.6L1127.9 1048.9L1128.5 1049.1L1129.2 1043.6L1129.8 1047.8L1130.4 1040.8L1131 1044L1131.6 1041.4L1132.2 1044.3L1132.8 1046.6L1133.4 1039.6L1134 1040.2L1134 1045.9L1134.6 1031.4L1135.2 1021.2L1135.8 1015L1136.4 1010.9L1137 1012.3L1137.6 1026.2L1138.3 1031.7L1138.9 1041.8L1139.5 1035.5L1140.1 1032.1L1140.7 1037.3L1141.3 1038.3L1141.9 1029.4L1142.5 1035.1L1143.1 1033.9L1143.7 1037.7L1144.3 1040.3L1144.9 1036.2L1145.5 1032.3L1146.1 1032.7L1146.7 1033.8L1147.3 1030.2L1147.9 1025.5L1148.5 1022.9L1149.2 1019L1149.8 1025.5L1150.4 1028.7L1151 1035.3L1151.6 1037.2L1152.2 1036.1L1152.8 1026.4L1153.4 1017.3L1154 1011.8L1154.6 1019.3L1155.2 1020.6L1155.8 1019.2L1156.4 1020.8L1157 1021.9L1157.6 1026L1158.2 1033.6L1158.8 1026.2L1159.4 1028L1160.1 1034L1160.7 1025.6L1161.3 1028.6L1161.9 1018.2L1162.5 1022.5L1163.1 1015.1L1163.7 1028.8L1164.3 1025.7L1164.9 1029.6L1165.5 1034.4L1166.1 1029.8L1166.7 1028.2L1167.3 1038.3L1167.9 1034.5L1168.5 1031.4L1169.1 1035.3L1169.7 1028L1170.3 1039.4L1171 1041.8L1171.6 1038.5L1172.2 1037.6L1172.8 1028.1L1173.4 1029.1L1174 1024.2L1174.6 1027.7L1175.2 1027.2L1175.8 1020.6L1176.4 1024.4L1177 1022.3L1177.6 1025.9L1178.2 1022.4L1178.8 1026.4L1179.4 1026.8L1180 1023.4L1180.6 1030.4L1181.2 1030.7L1181.9 1032.5L1182.5 1036.6L1183.1 1048L1183.7 1050.8L1184.3 1045.5L1184.9 1045.2L1185.5 1046.3L1186.1 1047.5L1186.7 1052.1L1187.3 1043.2L1187.9 1045.9L1188.5 1043.9" fill="none" stroke="#e8302a" stroke-width="1.3" stroke-linejoin="round" /><path d="M707.6 904h0M714.7 918.4h0M719.1 923.2h0M695.4 885.5h0M716.2 922h0M711.5 928.8h0M705.7 886.7h0M705.1 882.9h0M714.4 915.8h0M712.7 928.6h0M705 894.5h0M695.4 890.7h0M713.2 919h0M714.3 911.2h0M716.6 913.3h0M693.3 896.7h0M726.8 913.8h0M703.7 883.3h0M704.4 894.5h0M720.2 915h0M717.2 924.8h0M712.6 931.2h0" stroke="#777" stroke-width="1" stroke-linecap="round"/><path d="M719.7 920.2h0M707.6 893.4h0M716.5 918.7h0M719.9 925.8h0M702.5 896.7h0M704 897.3h0M701 895.1h0M708.2 892.2h0M713.3 920.5h0M712.1 885h0M699.2 893.7h0M713.5 918.5h0M701.6 886.4h0M714.2 923.5h0M719.8 912.1h0M707.4 929.9h0M711.2 918.7h0M722.5 912h0" stroke="#444" stroke-width="0.8" stroke-linecap="round"/><path d="M717.6 922.1h0M716.2 918.8h0M720 919.7h0M710.1 925.8h0M703.8 882.3h0M713.1 916.2h0M714.8 910.4h0M703 890.1h0M698 887.5h0M702.8 886.3h0M704 902h0M711.8 912.5h0M710 916.7h0M710.5 912.8h0M721.2 921.8h0M699.6 891.6h0M715.4 921.6h0M697.2 886.5h0M698.9 899h0M707.6 914.9h0M711.9 893.9h0" stroke="#666" stroke-width="0.8" stroke-linecap="round"/><path d="M700.5 894h0M713.1 928.8h0M702.3 888.5h0M701.9 894h0M715.4 926h0M721.1 915.7h0M697 886.1h0M720.8 922.5h0M704.4 889.5h0M718.5 921.9h0M708.7 887.6h0M716.7 928.2h0" stroke="#333" stroke-width="0.6" stroke-linecap="round"/><path d="M706.8 889.4h0M719.1 927.3h0M708 927.1h0M717.8 919.1h0M697 894.3h0M703.4 902.4h0M714.6 922.9h0M707.4 892.2h0M723.1 916.8h0M715.4 920.6h0" stroke="#444" stroke-width="1.2" stroke-linecap="round"/><path d="M707.3 892.4h0M715.2 918.7h0M712.3 915.3h0M716.5 917.5h0M700.3 893.4h0M720.8 920.3h0M703.8 892.9h0M703.8 889.1h0M704.9 897.2h0M707.3 892.7h0M705.7 891h0" stroke="#777" stroke-width="1.2" stroke-linecap="round"/><path d="M714.5 920.4h0M705.2 893.7h0M699.3 888.8h0M722.8 918.8h0" stroke="#222" stroke-width="0.6" stroke-linecap="round"/><path d="M700.5 894.3h0M691.4 885.7h0M713.8 923h0M693.7 897.7h0M717.5 926.8h0M706.7 900h0M713.9 920.6h0" stroke="#222" stroke-width="1.2" stroke-linecap="round"/><path d="M719.8 924h0M714.4 914.8h0M716.7 915.3h0M711.2 926.3h0M719.2 922.5h0M717.4 928.9h0M719.9 912.7h0M697.4 893.5h0M708.6 926.3h0M708.4 886.7h0M708.9 925.5h0M705.2 888.6h0M714.7 919.6h0M708.2 894.9h0M716.5 929.6h0M700.4 893.3h0M701.1 884.3h0M713.2 922.2h0M715.8 920.6h0M694.6 884.9h0M711.2 899.2h0M719.6 917.3h0M708 890.2h0M716.4 920.1h0" stroke="#333" stroke-width="0.8" stroke-linecap="round"/><path d="M719.8 919.2h0M716.1 916.1h0M705.5 902.1h0M715.1 923.1h0M719 917h0" stroke="#666" stroke-width="0.6" stroke-linecap="round"/><path d="M711.1 916.8h0M703.6 893.4h0M706.8 895.5h0M717.4 912.3h0M721.1 922.1h0M700.7 887.8h0M703.2 888.3h0M716.4 921.1h0M710.7 876.4h0M699.9 885h0M704.6 900.3h0M705.4 893.3h0M720.5 924.2h0M708.7 917.6h0M706.6 937.9h0M720 921.8h0M716.5 921.7h0M723.3 915.5h0M702.1 886.7h0M715.7 914.4h0M704.4 898.5h0M705.5 896.2h0M704.3 893.1h0M703.3 897.3h0" stroke="#444" stroke-width="1" stroke-linecap="round"/><path d="M701.9 885.3h0M703 898.4h0M710.4 924.7h0M704.5 892.5h0M716.1 919.7h0M712.9 918.5h0M721.4 921.9h0M709.5 895.4h0M707.3 885.3h0M715.4 917h0M703.1 890.9h0M707.3 895.1h0M723.9 916.4h0M714.3 922h0M702.5 895.3h0M723.8 918h0M699.6 893h0M712 895.6h0M714.6 926.6h0M712.8 925.8h0M716.9 914.1h0M703.5 888.8h0" stroke="#333" stroke-width="1" stroke-linecap="round"/><path d="M713.7 910.9h0M708.8 903.7h0M716.2 928h0M717.1 916.1h0M712.4 894h0M717.8 932.4h0M706.2 927h0M717.4 921.8h0M716.9 919.5h0M719.7 919.8h0M713.9 920.5h0M705 902.4h0M723.2 911.8h0M715.5 920.2h0M719 929.1h0M709.8 921.8h0M706.9 893.7h0M713.3 917.9h0M702.2 895.9h0M709.8 915.7h0M711.8 903.7h0" stroke="#777" stroke-width="0.8" stroke-linecap="round"/><path d="M724.3 933h0M704.8 890.8h0M705.9 898.4h0M720.5 910h0M715.6 918h0M707.8 882.4h0M711.7 902.6h0M713.3 911.3h0M712.6 910.3h0M703.5 892.8h0M698.7 890.1h0M712.2 916.1h0" stroke="#333" stroke-width="1.2" stroke-linecap="round"/><path d="M718.2 918.2h0M717.9 924.3h0M714.3 915.1h0M704 882.7h0M710.9 914.4h0M702.5 902.1h0M715 917.5h0M696.1 895.6h0M716.8 913.4h0M707 886.9h0M722.3 921.4h0M709.4 886h0M720.7 916.7h0M701.7 892.7h0" stroke="#222" stroke-width="1" stroke-linecap="round"/><path d="M715.8 912.8h0M707 902.9h0M711.2 890.3h0M715.8 925.3h0M708.4 925.8h0M705.4 894.6h0M715.2 916.6h0M717.1 924.7h0M716.3 927.4h0M719.5 916.6h0M716.1 920.6h0M718.3 923.7h0M712.5 920.4h0M726.4 923.1h0M712.9 914.9h0M722 909.7h0M717.6 914.1h0M702.2 891h0M702.7 893.1h0M705.9 890.1h0M717.5 926.1h0" stroke="#666" stroke-width="1" stroke-linecap="round"/><path d="M705.1 889.2h0M695.4 892.6h0M715.6 916.2h0M701 894.5h0M707.3 884.6h0M721.2 918.4h0M704.6 893h0M710.9 925.1h0M711.6 889.2h0M712.8 912.7h0M703.4 889.2h0M699.6 889h0M708.1 884.3h0M716.3 923.5h0M705.4 894.4h0M701.7 904.2h0M715 924.7h0" stroke="#222" stroke-width="0.8" stroke-linecap="round"/><path d="M712.8 923.7h0M720.9 921.9h0M714.7 921.9h0M718.2 927.5h0M715.9 925.2h0M707.6 889h0M710.4 921.5h0M711.8 920.6h0M698.9 894.3h0M715.3 923h0M704.3 878.4h0" stroke="#777" stroke-width="0.6" stroke-linecap="round"/><path d="M708.1 892.4h0M704.9 879.3h0M701.5 886.6h0M715.9 917.6h0M707.6 886.1h0M698.9 893.6h0M717.1 915.3h0M720.5 916.5h0M705.6 896.9h0M701.8 901.4h0M713.1 916.4h0M713.6 924.9h0M714.7 926.4h0M719.4 909.6h0M703.9 891.1h0M710.3 890.7h0" stroke="#666" stroke-width="1.2" stroke-linecap="round"/><path d="M698.5 891.3h0M721.1 916.4h0M710.5 914.9h0M705.3 900.6h0M699.7 900.5h0M713 919.9h0M707.2 881.1h0M709.8 894.7h0" stroke="#444" stroke-width="0.6" stroke-linecap="round"/><path d="M736.7 886.9h0M711.2 921.7h0M664.9 909.7h0M692.2 953.2h0M737.4 906.3h0M747.9 886.7h0M670 888h0M725.4 919.3h0M751.4 910.5h0M717.9 861.2h0" stroke="#555" stroke-width="0.6" stroke-linecap="round"/><path d="M681.7 918.1h0M659.1 872.6h0M715.2 944.1h0M669.3 932.1h0M705.1 914.6h0M700.3 954.7h0M716.8 937h0M721.3 934h0" stroke="#555" stroke-width="1" stroke-linecap="round"/><path d="M669.6 940h0M675.6 898.7h0M684.1 954.2h0M673.7 909.4h0M707.4 872.4h0M698.9 954.1h0M752.4 938h0M664.8 931.8h0M724.9 885.3h0M672.8 880.1h0M692.8 919.8h0M657.7 862.9h0M688.3 932.4h0M672.2 862h0M695.6 942.7h0M673.9 905.9h0M736.1 889.3h0M729.6 940.6h0M747.4 921.3h0M734.7 914.1h0M714.4 957.8h0M658.5 892.8h0" stroke="#555" stroke-width="0.8" stroke-linecap="round"/></svg></body></html>
